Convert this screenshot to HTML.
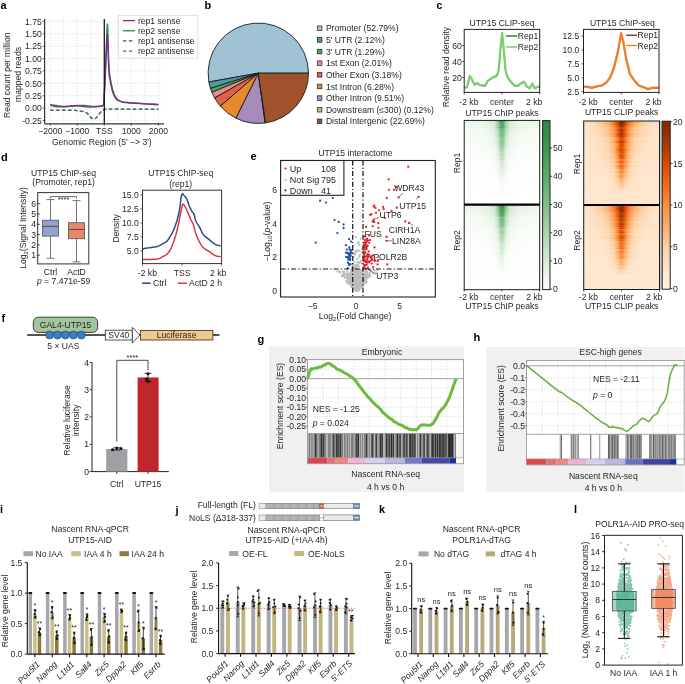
<!DOCTYPE html>
<html><head><meta charset="utf-8"><style>
html,body{margin:0;padding:0;background:#fff;}
svg{display:block;will-change:transform;font-family:"Liberation Sans",sans-serif;}
</style></head><body>
<svg width="685" height="684" viewBox="0 0 685 684">
<rect width="685" height="684" fill="#fff"/>
<defs><linearGradient id="g1"><stop offset=".00" stop-color="#ebf5ea"/><stop offset=".12" stop-color="#e9f4e8"/><stop offset=".25" stop-color="#e6f3e5"/><stop offset=".33" stop-color="#dbedd9"/><stop offset=".40" stop-color="#c9e5c9"/><stop offset=".45" stop-color="#86c38d"/><stop offset=".48" stop-color="#459f57"/><stop offset=".50" stop-color="#3b984e"/><stop offset=".52" stop-color="#4ba25c"/><stop offset=".55" stop-color="#8fc795"/><stop offset=".60" stop-color="#cae5c9"/><stop offset=".67" stop-color="#deefdc"/><stop offset=".75" stop-color="#e6f3e5"/><stop offset=".88" stop-color="#eaf5e9"/><stop offset="1.00" stop-color="#ecf6eb"/></linearGradient><linearGradient id="g2"><stop offset=".00" stop-color="#eff7ef"/><stop offset=".12" stop-color="#eef7ed"/><stop offset=".25" stop-color="#eaf5e9"/><stop offset=".33" stop-color="#e2f1e1"/><stop offset=".40" stop-color="#d3e9d1"/><stop offset=".45" stop-color="#9ccea1"/><stop offset=".48" stop-color="#52a662"/><stop offset=".50" stop-color="#449e56"/><stop offset=".52" stop-color="#5dac6a"/><stop offset=".55" stop-color="#9acd9f"/><stop offset=".60" stop-color="#d3e9d1"/><stop offset=".67" stop-color="#e2f1e0"/><stop offset=".75" stop-color="#eaf5e9"/><stop offset=".88" stop-color="#ecf6eb"/><stop offset="1.00" stop-color="#eef7ed"/></linearGradient><linearGradient id="g3"><stop offset=".00" stop-color="#f0f8f0"/><stop offset=".12" stop-color="#eff7ef"/><stop offset=".25" stop-color="#ecf6eb"/><stop offset=".33" stop-color="#e4f2e3"/><stop offset=".40" stop-color="#d6ebd4"/><stop offset=".45" stop-color="#98cc9d"/><stop offset=".48" stop-color="#5fad6d"/><stop offset=".50" stop-color="#50a560"/><stop offset=".52" stop-color="#54a763"/><stop offset=".55" stop-color="#9bcea0"/><stop offset=".60" stop-color="#d7ebd5"/><stop offset=".67" stop-color="#e3f2e2"/><stop offset=".75" stop-color="#ecf6eb"/><stop offset=".88" stop-color="#eff7ee"/><stop offset="1.00" stop-color="#f0f7ef"/></linearGradient><linearGradient id="g4"><stop offset=".00" stop-color="#f0f8f0"/><stop offset=".12" stop-color="#f0f7ef"/><stop offset=".25" stop-color="#ecf6eb"/><stop offset=".33" stop-color="#e5f2e4"/><stop offset=".40" stop-color="#d4ead2"/><stop offset=".45" stop-color="#99cd9e"/><stop offset=".48" stop-color="#51a561"/><stop offset=".50" stop-color="#449e56"/><stop offset=".52" stop-color="#59aa67"/><stop offset=".55" stop-color="#96cb9c"/><stop offset=".60" stop-color="#d3ead2"/><stop offset=".67" stop-color="#e3f1e2"/><stop offset=".75" stop-color="#ebf5ea"/><stop offset=".88" stop-color="#eff7ee"/><stop offset="1.00" stop-color="#f0f8f0"/></linearGradient><linearGradient id="g5"><stop offset=".00" stop-color="#f4faf4"/><stop offset=".12" stop-color="#f3f9f3"/><stop offset=".25" stop-color="#f1f8f0"/><stop offset=".33" stop-color="#ebf5ea"/><stop offset=".40" stop-color="#dff0de"/><stop offset=".45" stop-color="#b1d8b3"/><stop offset=".48" stop-color="#6eb679"/><stop offset=".50" stop-color="#59aa68"/><stop offset=".52" stop-color="#71b77b"/><stop offset=".55" stop-color="#abd5ae"/><stop offset=".60" stop-color="#ddeedb"/><stop offset=".67" stop-color="#e9f4e8"/><stop offset=".75" stop-color="#f0f8f0"/><stop offset=".88" stop-color="#f3f9f3"/><stop offset="1.00" stop-color="#f4faf4"/></linearGradient><linearGradient id="g6"><stop offset=".00" stop-color="#f6faf5"/><stop offset=".12" stop-color="#f4faf4"/><stop offset=".25" stop-color="#f1f8f1"/><stop offset=".33" stop-color="#ebf5ea"/><stop offset=".40" stop-color="#e2f1e0"/><stop offset=".45" stop-color="#b4dab6"/><stop offset=".48" stop-color="#74b97e"/><stop offset=".50" stop-color="#6db578"/><stop offset=".52" stop-color="#76ba7f"/><stop offset=".55" stop-color="#b2d9b4"/><stop offset=".60" stop-color="#e1f0df"/><stop offset=".67" stop-color="#ecf6eb"/><stop offset=".75" stop-color="#f2f9f1"/><stop offset=".88" stop-color="#f5faf4"/><stop offset="1.00" stop-color="#f5faf5"/></linearGradient><linearGradient id="g7"><stop offset=".00" stop-color="#f6faf5"/><stop offset=".12" stop-color="#f5faf4"/><stop offset=".25" stop-color="#f3f9f2"/><stop offset=".33" stop-color="#edf6ec"/><stop offset=".40" stop-color="#e2f1e0"/><stop offset=".45" stop-color="#b6dbb8"/><stop offset=".48" stop-color="#7dbf86"/><stop offset=".50" stop-color="#6eb679"/><stop offset=".52" stop-color="#7ebf86"/><stop offset=".55" stop-color="#b5dbb7"/><stop offset=".60" stop-color="#e2f1e1"/><stop offset=".67" stop-color="#eef7ed"/><stop offset=".75" stop-color="#f2f9f2"/><stop offset=".88" stop-color="#f5faf4"/><stop offset="1.00" stop-color="#f6fbf5"/></linearGradient><linearGradient id="g8"><stop offset=".00" stop-color="#f7fbf6"/><stop offset=".12" stop-color="#f6fbf6"/><stop offset=".25" stop-color="#f4faf4"/><stop offset=".33" stop-color="#eef7ed"/><stop offset=".40" stop-color="#e5f2e4"/><stop offset=".45" stop-color="#bddfbe"/><stop offset=".48" stop-color="#7bbd84"/><stop offset=".50" stop-color="#71b77b"/><stop offset=".52" stop-color="#7cbe85"/><stop offset=".55" stop-color="#bbdebc"/><stop offset=".60" stop-color="#e6f3e5"/><stop offset=".67" stop-color="#eff7ee"/><stop offset=".75" stop-color="#f4faf3"/><stop offset=".88" stop-color="#f6fbf6"/><stop offset="1.00" stop-color="#f7fbf6"/></linearGradient><linearGradient id="g9"><stop offset=".00" stop-color="#f8fbf7"/><stop offset=".12" stop-color="#f7fbf7"/><stop offset=".25" stop-color="#f5faf4"/><stop offset=".33" stop-color="#f1f8f0"/><stop offset=".40" stop-color="#e8f4e7"/><stop offset=".45" stop-color="#c3e2c4"/><stop offset=".48" stop-color="#85c38d"/><stop offset=".50" stop-color="#7abd83"/><stop offset=".52" stop-color="#85c38d"/><stop offset=".55" stop-color="#c4e2c4"/><stop offset=".60" stop-color="#e8f4e7"/><stop offset=".67" stop-color="#f0f8f0"/><stop offset=".75" stop-color="#f5faf5"/><stop offset=".88" stop-color="#f7fbf7"/><stop offset="1.00" stop-color="#f8fcf8"/></linearGradient><linearGradient id="g10"><stop offset=".00" stop-color="#f9fcf8"/><stop offset=".12" stop-color="#f8fcf8"/><stop offset=".25" stop-color="#f6fbf6"/><stop offset=".33" stop-color="#f2f9f1"/><stop offset=".40" stop-color="#ebf5ea"/><stop offset=".45" stop-color="#cde7cc"/><stop offset=".48" stop-color="#99cc9e"/><stop offset=".50" stop-color="#87c48e"/><stop offset=".52" stop-color="#96cb9b"/><stop offset=".55" stop-color="#cfe7ce"/><stop offset=".60" stop-color="#ebf5ea"/><stop offset=".67" stop-color="#f3f9f2"/><stop offset=".75" stop-color="#f7fbf6"/><stop offset=".88" stop-color="#f8fcf8"/><stop offset="1.00" stop-color="#f9fcf8"/></linearGradient><linearGradient id="g11"><stop offset=".00" stop-color="#f8fcf8"/><stop offset=".12" stop-color="#f7fbf7"/><stop offset=".25" stop-color="#f6fbf6"/><stop offset=".33" stop-color="#f2f8f1"/><stop offset=".40" stop-color="#eaf5e9"/><stop offset=".45" stop-color="#c9e5c9"/><stop offset=".48" stop-color="#8fc795"/><stop offset=".50" stop-color="#7fbf87"/><stop offset=".52" stop-color="#90c897"/><stop offset=".55" stop-color="#c9e5c9"/><stop offset=".60" stop-color="#e9f4e8"/><stop offset=".67" stop-color="#f1f8f1"/><stop offset=".75" stop-color="#f6faf5"/><stop offset=".88" stop-color="#f7fbf7"/><stop offset="1.00" stop-color="#f9fcf8"/></linearGradient><linearGradient id="g12"><stop offset=".00" stop-color="#f9fcf8"/><stop offset=".12" stop-color="#f8fcf8"/><stop offset=".25" stop-color="#f7fbf7"/><stop offset=".33" stop-color="#f3f9f3"/><stop offset=".40" stop-color="#ecf6eb"/><stop offset=".45" stop-color="#d0e8cf"/><stop offset=".48" stop-color="#9bcea0"/><stop offset=".50" stop-color="#8cc692"/><stop offset=".52" stop-color="#97cb9c"/><stop offset=".55" stop-color="#cce6cc"/><stop offset=".60" stop-color="#ebf5ea"/><stop offset=".67" stop-color="#f3f9f3"/><stop offset=".75" stop-color="#f7fbf6"/><stop offset=".88" stop-color="#f8fcf8"/><stop offset="1.00" stop-color="#f9fcf9"/></linearGradient><linearGradient id="g13"><stop offset=".00" stop-color="#f9fcf9"/><stop offset=".12" stop-color="#f9fcf8"/><stop offset=".25" stop-color="#f6fbf6"/><stop offset=".33" stop-color="#f3f9f2"/><stop offset=".40" stop-color="#ecf6eb"/><stop offset=".45" stop-color="#cce6cb"/><stop offset=".48" stop-color="#95ca9a"/><stop offset=".50" stop-color="#8ac591"/><stop offset=".52" stop-color="#99cd9e"/><stop offset=".55" stop-color="#cfe7cd"/><stop offset=".60" stop-color="#ecf6ec"/><stop offset=".67" stop-color="#f3f9f3"/><stop offset=".75" stop-color="#f7fbf7"/><stop offset=".88" stop-color="#f8fcf8"/><stop offset="1.00" stop-color="#f9fcf9"/></linearGradient><linearGradient id="g14"><stop offset=".00" stop-color="#fafdfa"/><stop offset=".12" stop-color="#fafcf9"/><stop offset=".25" stop-color="#f8fcf8"/><stop offset=".33" stop-color="#f5faf4"/><stop offset=".40" stop-color="#eff7ee"/><stop offset=".45" stop-color="#d8ecd6"/><stop offset=".48" stop-color="#a3d1a7"/><stop offset=".50" stop-color="#94ca99"/><stop offset=".52" stop-color="#a3d1a7"/><stop offset=".55" stop-color="#d8ecd6"/><stop offset=".60" stop-color="#eff7ef"/><stop offset=".67" stop-color="#f5faf5"/><stop offset=".75" stop-color="#f8fcf8"/><stop offset=".88" stop-color="#fafcf9"/><stop offset="1.00" stop-color="#fafdfa"/></linearGradient><linearGradient id="g15"><stop offset=".00" stop-color="#fafdfa"/><stop offset=".12" stop-color="#fafdfa"/><stop offset=".25" stop-color="#f9fcf9"/><stop offset=".33" stop-color="#f6fbf6"/><stop offset=".40" stop-color="#f0f8ef"/><stop offset=".45" stop-color="#dbedd9"/><stop offset=".48" stop-color="#afd7b1"/><stop offset=".50" stop-color="#a5d3a9"/><stop offset=".52" stop-color="#b4dab6"/><stop offset=".55" stop-color="#dbedd9"/><stop offset=".60" stop-color="#f1f8f0"/><stop offset=".67" stop-color="#f6fbf6"/><stop offset=".75" stop-color="#f9fcf8"/><stop offset=".88" stop-color="#fafdfa"/><stop offset="1.00" stop-color="#fafdfa"/></linearGradient><linearGradient id="g16"><stop offset=".00" stop-color="#fbfdfb"/><stop offset=".12" stop-color="#fbfdfb"/><stop offset=".25" stop-color="#fafcf9"/><stop offset=".33" stop-color="#f7fbf7"/><stop offset=".40" stop-color="#f3f9f3"/><stop offset=".45" stop-color="#e1f0e0"/><stop offset=".48" stop-color="#baddbb"/><stop offset=".50" stop-color="#b2d9b4"/><stop offset=".52" stop-color="#c0e0c0"/><stop offset=".55" stop-color="#e1f0e0"/><stop offset=".60" stop-color="#f3f9f3"/><stop offset=".67" stop-color="#f8fbf7"/><stop offset=".75" stop-color="#fafdfa"/><stop offset=".88" stop-color="#fbfdfb"/><stop offset="1.00" stop-color="#fbfdfb"/></linearGradient><linearGradient id="g17"><stop offset=".00" stop-color="#fbfdfb"/><stop offset=".12" stop-color="#fbfdfb"/><stop offset=".25" stop-color="#fafdfa"/><stop offset=".33" stop-color="#f8fbf7"/><stop offset=".40" stop-color="#f4faf3"/><stop offset=".45" stop-color="#e3f1e2"/><stop offset=".48" stop-color="#c2e1c3"/><stop offset=".50" stop-color="#b4dab6"/><stop offset=".52" stop-color="#c2e1c3"/><stop offset=".55" stop-color="#e2f1e0"/><stop offset=".60" stop-color="#f3f9f3"/><stop offset=".67" stop-color="#f8fbf7"/><stop offset=".75" stop-color="#fafdfa"/><stop offset=".88" stop-color="#fbfdfb"/><stop offset="1.00" stop-color="#fbfdfb"/></linearGradient><linearGradient id="g18"><stop offset=".00" stop-color="#fbfdfb"/><stop offset=".12" stop-color="#fbfdfb"/><stop offset=".25" stop-color="#fafcf9"/><stop offset=".33" stop-color="#f7fbf7"/><stop offset=".40" stop-color="#f3f9f3"/><stop offset=".45" stop-color="#e2f1e0"/><stop offset=".48" stop-color="#b9ddbb"/><stop offset=".50" stop-color="#b0d8b3"/><stop offset=".52" stop-color="#bbddbc"/><stop offset=".55" stop-color="#e1f1e0"/><stop offset=".60" stop-color="#f3f9f2"/><stop offset=".67" stop-color="#f7fbf7"/><stop offset=".75" stop-color="#fafcfa"/><stop offset=".88" stop-color="#fbfdfb"/><stop offset="1.00" stop-color="#fbfdfb"/></linearGradient><linearGradient id="g19"><stop offset=".00" stop-color="#fcfefc"/><stop offset=".12" stop-color="#fcfdfc"/><stop offset=".25" stop-color="#fbfdfb"/><stop offset=".33" stop-color="#f9fcf9"/><stop offset=".40" stop-color="#f6faf5"/><stop offset=".45" stop-color="#e9f4e7"/><stop offset=".48" stop-color="#cde6cc"/><stop offset=".50" stop-color="#c4e2c4"/><stop offset=".52" stop-color="#cfe7ce"/><stop offset=".55" stop-color="#eaf5e9"/><stop offset=".60" stop-color="#f6fbf6"/><stop offset=".67" stop-color="#f9fcf9"/><stop offset=".75" stop-color="#fbfdfb"/><stop offset=".88" stop-color="#fcfdfc"/><stop offset="1.00" stop-color="#fcfefc"/></linearGradient><linearGradient id="g20"><stop offset=".00" stop-color="#fcfdfb"/><stop offset=".12" stop-color="#fbfdfb"/><stop offset=".25" stop-color="#fafdfa"/><stop offset=".33" stop-color="#f8fcf8"/><stop offset=".40" stop-color="#f5faf5"/><stop offset=".45" stop-color="#e8f4e7"/><stop offset=".48" stop-color="#c8e4c7"/><stop offset=".50" stop-color="#baddbc"/><stop offset=".52" stop-color="#c7e3c7"/><stop offset=".55" stop-color="#e8f4e7"/><stop offset=".60" stop-color="#f5faf4"/><stop offset=".67" stop-color="#f9fcf8"/><stop offset=".75" stop-color="#fbfdfa"/><stop offset=".88" stop-color="#fbfdfb"/><stop offset="1.00" stop-color="#fcfdfc"/></linearGradient><linearGradient id="g21"><stop offset=".00" stop-color="#fdfefd"/><stop offset=".12" stop-color="#fcfefc"/><stop offset=".25" stop-color="#fcfdfc"/><stop offset=".33" stop-color="#fafdfa"/><stop offset=".40" stop-color="#f8fbf7"/><stop offset=".45" stop-color="#edf6ed"/><stop offset=".48" stop-color="#d7ebd5"/><stop offset=".50" stop-color="#cde6cc"/><stop offset=".52" stop-color="#d6ebd4"/><stop offset=".55" stop-color="#eef7ed"/><stop offset=".60" stop-color="#f8fcf8"/><stop offset=".67" stop-color="#fafdfa"/><stop offset=".75" stop-color="#fcfdfc"/><stop offset=".88" stop-color="#fcfefc"/><stop offset="1.00" stop-color="#fcfefc"/></linearGradient><linearGradient id="g22"><stop offset=".00" stop-color="#fdfefd"/><stop offset=".12" stop-color="#fcfefc"/><stop offset=".25" stop-color="#fcfdfc"/><stop offset=".33" stop-color="#fafdfa"/><stop offset=".40" stop-color="#f8fcf8"/><stop offset=".45" stop-color="#f0f8f0"/><stop offset=".48" stop-color="#dbeed9"/><stop offset=".50" stop-color="#d3ead1"/><stop offset=".52" stop-color="#daedd8"/><stop offset=".55" stop-color="#eff7ef"/><stop offset=".60" stop-color="#f8fcf8"/><stop offset=".67" stop-color="#fbfdfa"/><stop offset=".75" stop-color="#fcfdfc"/><stop offset=".88" stop-color="#fcfefc"/><stop offset="1.00" stop-color="#fdfefd"/></linearGradient><linearGradient id="g23"><stop offset=".00" stop-color="#fdfefd"/><stop offset=".12" stop-color="#fdfefd"/><stop offset=".25" stop-color="#fcfefc"/><stop offset=".33" stop-color="#fbfdfb"/><stop offset=".40" stop-color="#f9fcf8"/><stop offset=".45" stop-color="#f1f8f0"/><stop offset=".48" stop-color="#ddeedb"/><stop offset=".50" stop-color="#d5ebd3"/><stop offset=".52" stop-color="#ddeedb"/><stop offset=".55" stop-color="#f1f8f0"/><stop offset=".60" stop-color="#f9fcf9"/><stop offset=".67" stop-color="#fbfdfa"/><stop offset=".75" stop-color="#fcfefc"/><stop offset=".88" stop-color="#fdfefc"/><stop offset="1.00" stop-color="#fdfefd"/></linearGradient><linearGradient id="g24"><stop offset=".00" stop-color="#fdfefd"/><stop offset=".12" stop-color="#fcfefc"/><stop offset=".25" stop-color="#fcfefc"/><stop offset=".33" stop-color="#fbfdfb"/><stop offset=".40" stop-color="#f9fcf9"/><stop offset=".45" stop-color="#f1f8f0"/><stop offset=".48" stop-color="#dfefdd"/><stop offset=".50" stop-color="#d5ebd3"/><stop offset=".52" stop-color="#dceedb"/><stop offset=".55" stop-color="#f1f8f1"/><stop offset=".60" stop-color="#f9fcf9"/><stop offset=".67" stop-color="#fbfdfb"/><stop offset=".75" stop-color="#fcfdfc"/><stop offset=".88" stop-color="#fcfefc"/><stop offset="1.00" stop-color="#fdfefd"/></linearGradient><linearGradient id="g25"><stop offset=".00" stop-color="#fdfefd"/><stop offset=".12" stop-color="#fdfefd"/><stop offset=".25" stop-color="#fcfefc"/><stop offset=".33" stop-color="#fbfdfb"/><stop offset=".40" stop-color="#fafcf9"/><stop offset=".45" stop-color="#f3f9f2"/><stop offset=".48" stop-color="#e3f2e2"/><stop offset=".50" stop-color="#ddeedb"/><stop offset=".52" stop-color="#e3f1e1"/><stop offset=".55" stop-color="#f3f9f2"/><stop offset=".60" stop-color="#f9fcf9"/><stop offset=".67" stop-color="#fbfdfb"/><stop offset=".75" stop-color="#fcfefc"/><stop offset=".88" stop-color="#fdfefd"/><stop offset="1.00" stop-color="#fdfefd"/></linearGradient><linearGradient id="g26"><stop offset=".00" stop-color="#fdfefd"/><stop offset=".12" stop-color="#fdfefd"/><stop offset=".25" stop-color="#fdfefc"/><stop offset=".33" stop-color="#fcfdfb"/><stop offset=".40" stop-color="#fafdfa"/><stop offset=".45" stop-color="#f6faf5"/><stop offset=".48" stop-color="#e7f3e5"/><stop offset=".50" stop-color="#e0f0de"/><stop offset=".52" stop-color="#e5f3e4"/><stop offset=".55" stop-color="#f5faf5"/><stop offset=".60" stop-color="#fafdfa"/><stop offset=".67" stop-color="#fcfdfc"/><stop offset=".75" stop-color="#fcfefc"/><stop offset=".88" stop-color="#fdfefd"/><stop offset="1.00" stop-color="#fdfefd"/></linearGradient><linearGradient id="g27"><stop offset=".00" stop-color="#fdfefd"/><stop offset=".12" stop-color="#fdfefd"/><stop offset=".25" stop-color="#fdfefd"/><stop offset=".33" stop-color="#fcfefc"/><stop offset=".40" stop-color="#fbfdfb"/><stop offset=".45" stop-color="#f7fbf6"/><stop offset=".48" stop-color="#ebf5ea"/><stop offset=".50" stop-color="#e7f3e6"/><stop offset=".52" stop-color="#ebf5ea"/><stop offset=".55" stop-color="#f7fbf7"/><stop offset=".60" stop-color="#fbfdfb"/><stop offset=".67" stop-color="#fcfefc"/><stop offset=".75" stop-color="#fdfefd"/><stop offset=".88" stop-color="#fdfefd"/><stop offset="1.00" stop-color="#fdfefd"/></linearGradient><linearGradient id="g28"><stop offset=".00" stop-color="#fefefe"/><stop offset=".12" stop-color="#fdfefd"/><stop offset=".25" stop-color="#fdfefd"/><stop offset=".33" stop-color="#fdfefd"/><stop offset=".40" stop-color="#fbfdfb"/><stop offset=".45" stop-color="#f8fcf8"/><stop offset=".48" stop-color="#eff7ee"/><stop offset=".50" stop-color="#e9f4e8"/><stop offset=".52" stop-color="#eef7ed"/><stop offset=".55" stop-color="#f8fcf8"/><stop offset=".60" stop-color="#fcfdfb"/><stop offset=".67" stop-color="#fdfefc"/><stop offset=".75" stop-color="#fdfefd"/><stop offset=".88" stop-color="#fdfefd"/><stop offset="1.00" stop-color="#fefefd"/></linearGradient><linearGradient id="g29"><stop offset=".00" stop-color="#fefefe"/><stop offset=".12" stop-color="#fdfefd"/><stop offset=".25" stop-color="#fdfefd"/><stop offset=".33" stop-color="#fdfefd"/><stop offset=".40" stop-color="#fcfdfc"/><stop offset=".45" stop-color="#f9fcf9"/><stop offset=".48" stop-color="#eff7ee"/><stop offset=".50" stop-color="#ecf6eb"/><stop offset=".52" stop-color="#f0f8ef"/><stop offset=".55" stop-color="#f9fcf9"/><stop offset=".60" stop-color="#fcfdfc"/><stop offset=".67" stop-color="#fdfefd"/><stop offset=".75" stop-color="#fdfefd"/><stop offset=".88" stop-color="#fdfefd"/><stop offset="1.00" stop-color="#fefefd"/></linearGradient><linearGradient id="g30"><stop offset=".00" stop-color="#fefefd"/><stop offset=".12" stop-color="#fdfefd"/><stop offset=".25" stop-color="#fdfefd"/><stop offset=".33" stop-color="#fdfefd"/><stop offset=".40" stop-color="#fcfefc"/><stop offset=".45" stop-color="#f9fcf9"/><stop offset=".48" stop-color="#f1f8f1"/><stop offset=".50" stop-color="#edf6ec"/><stop offset=".52" stop-color="#f1f8f0"/><stop offset=".55" stop-color="#fafcf9"/><stop offset=".60" stop-color="#fcfefc"/><stop offset=".67" stop-color="#fdfefc"/><stop offset=".75" stop-color="#fdfefd"/><stop offset=".88" stop-color="#fdfefd"/><stop offset="1.00" stop-color="#fefefe"/></linearGradient><linearGradient id="g31"><stop offset=".00" stop-color="#fefefe"/><stop offset=".12" stop-color="#fefefe"/><stop offset=".25" stop-color="#fefefd"/><stop offset=".33" stop-color="#fdfefd"/><stop offset=".40" stop-color="#fdfefc"/><stop offset=".45" stop-color="#fbfdfa"/><stop offset=".48" stop-color="#f5faf4"/><stop offset=".50" stop-color="#f2f9f1"/><stop offset=".52" stop-color="#f5faf4"/><stop offset=".55" stop-color="#fbfdfb"/><stop offset=".60" stop-color="#fcfefc"/><stop offset=".67" stop-color="#fdfefd"/><stop offset=".75" stop-color="#fefefd"/><stop offset=".88" stop-color="#fefefe"/><stop offset="1.00" stop-color="#fefefe"/></linearGradient><linearGradient id="g32"><stop offset=".00" stop-color="#fefefe"/><stop offset=".12" stop-color="#fefefe"/><stop offset=".25" stop-color="#fefefe"/><stop offset=".33" stop-color="#fdfefd"/><stop offset=".40" stop-color="#fdfefd"/><stop offset=".45" stop-color="#fbfdfb"/><stop offset=".48" stop-color="#f6fbf6"/><stop offset=".50" stop-color="#f3f9f3"/><stop offset=".52" stop-color="#f6faf5"/><stop offset=".55" stop-color="#fbfdfb"/><stop offset=".60" stop-color="#fdfefd"/><stop offset=".67" stop-color="#fdfefd"/><stop offset=".75" stop-color="#fefefd"/><stop offset=".88" stop-color="#fefefe"/><stop offset="1.00" stop-color="#fefefe"/></linearGradient><linearGradient id="g33"><stop offset=".00" stop-color="#fefffe"/><stop offset=".12" stop-color="#fefefe"/><stop offset=".25" stop-color="#fefefe"/><stop offset=".33" stop-color="#fefefd"/><stop offset=".40" stop-color="#fdfefd"/><stop offset=".45" stop-color="#fcfefc"/><stop offset=".48" stop-color="#f9fcf8"/><stop offset=".50" stop-color="#f7fbf6"/><stop offset=".52" stop-color="#f9fcf8"/><stop offset=".55" stop-color="#fcfefc"/><stop offset=".60" stop-color="#fdfefd"/><stop offset=".67" stop-color="#fdfefd"/><stop offset=".75" stop-color="#fefefe"/><stop offset=".88" stop-color="#fefefe"/><stop offset="1.00" stop-color="#fefffe"/></linearGradient><linearGradient id="g34"><stop offset=".00" stop-color="#fefffe"/><stop offset=".12" stop-color="#fefffe"/><stop offset=".25" stop-color="#fefefe"/><stop offset=".33" stop-color="#fefefe"/><stop offset=".40" stop-color="#fefefd"/><stop offset=".45" stop-color="#fdfefd"/><stop offset=".48" stop-color="#fafcf9"/><stop offset=".50" stop-color="#f8fcf8"/><stop offset=".52" stop-color="#fafcf9"/><stop offset=".55" stop-color="#fdfefc"/><stop offset=".60" stop-color="#fdfefd"/><stop offset=".67" stop-color="#fefefe"/><stop offset=".75" stop-color="#fefefe"/><stop offset=".88" stop-color="#fefffe"/><stop offset="1.00" stop-color="#fefffe"/></linearGradient><linearGradient id="g35"><stop offset=".00" stop-color="#fefefe"/><stop offset=".12" stop-color="#fefefe"/><stop offset=".25" stop-color="#fefefe"/><stop offset=".33" stop-color="#fefefd"/><stop offset=".40" stop-color="#fdfefd"/><stop offset=".45" stop-color="#fdfefd"/><stop offset=".48" stop-color="#fafcf9"/><stop offset=".50" stop-color="#f9fcf8"/><stop offset=".52" stop-color="#fafcf9"/><stop offset=".55" stop-color="#fdfefc"/><stop offset=".60" stop-color="#fdfefd"/><stop offset=".67" stop-color="#fefefe"/><stop offset=".75" stop-color="#fefefe"/><stop offset=".88" stop-color="#fefefe"/><stop offset="1.00" stop-color="#fefefe"/></linearGradient><linearGradient id="g36"><stop offset=".00" stop-color="#fefffe"/><stop offset=".12" stop-color="#fefffe"/><stop offset=".25" stop-color="#fefffe"/><stop offset=".33" stop-color="#fefefe"/><stop offset=".40" stop-color="#fefefe"/><stop offset=".45" stop-color="#fdfefd"/><stop offset=".48" stop-color="#fcfefc"/><stop offset=".50" stop-color="#fbfdfb"/><stop offset=".52" stop-color="#fcfdfc"/><stop offset=".55" stop-color="#fdfefd"/><stop offset=".60" stop-color="#fefefe"/><stop offset=".67" stop-color="#fefefe"/><stop offset=".75" stop-color="#fefffe"/><stop offset=".88" stop-color="#fefffe"/><stop offset="1.00" stop-color="#fefffe"/></linearGradient><linearGradient id="g37"><stop offset=".00" stop-color="#fefffe"/><stop offset=".12" stop-color="#fefffe"/><stop offset=".25" stop-color="#fefffe"/><stop offset=".33" stop-color="#fefefe"/><stop offset=".40" stop-color="#fefefe"/><stop offset=".45" stop-color="#fdfefd"/><stop offset=".48" stop-color="#fcfefc"/><stop offset=".50" stop-color="#fbfdfb"/><stop offset=".52" stop-color="#fcfdfc"/><stop offset=".55" stop-color="#fdfefd"/><stop offset=".60" stop-color="#fefefe"/><stop offset=".67" stop-color="#fefefe"/><stop offset=".75" stop-color="#fefefe"/><stop offset=".88" stop-color="#fefffe"/><stop offset="1.00" stop-color="#fefffe"/></linearGradient><linearGradient id="g38"><stop offset=".00" stop-color="#fefffe"/><stop offset=".12" stop-color="#fefffe"/><stop offset=".25" stop-color="#fefffe"/><stop offset=".33" stop-color="#fefefe"/><stop offset=".40" stop-color="#fefefe"/><stop offset=".45" stop-color="#fefefe"/><stop offset=".48" stop-color="#fdfefd"/><stop offset=".50" stop-color="#fdfefc"/><stop offset=".52" stop-color="#fdfefd"/><stop offset=".55" stop-color="#fefefe"/><stop offset=".60" stop-color="#fefefe"/><stop offset=".67" stop-color="#fefefe"/><stop offset=".75" stop-color="#fefffe"/><stop offset=".88" stop-color="#fefffe"/><stop offset="1.00" stop-color="#fefffe"/></linearGradient><linearGradient id="g39"><stop offset=".00" stop-color="#fefffe"/><stop offset=".12" stop-color="#fefffe"/><stop offset=".25" stop-color="#fefffe"/><stop offset=".33" stop-color="#fefffe"/><stop offset=".40" stop-color="#fefffe"/><stop offset=".45" stop-color="#fefefe"/><stop offset=".48" stop-color="#fefefd"/><stop offset=".50" stop-color="#fdfefd"/><stop offset=".52" stop-color="#fdfefd"/><stop offset=".55" stop-color="#fefefe"/><stop offset=".60" stop-color="#fefffe"/><stop offset=".67" stop-color="#fefffe"/><stop offset=".75" stop-color="#fefffe"/><stop offset=".88" stop-color="#fefffe"/><stop offset="1.00" stop-color="#fefffe"/></linearGradient><linearGradient id="g40"><stop offset=".00" stop-color="#fefffe"/><stop offset=".12" stop-color="#fefffe"/><stop offset=".25" stop-color="#fefffe"/><stop offset=".33" stop-color="#fefffe"/><stop offset=".40" stop-color="#fefffe"/><stop offset=".45" stop-color="#fefffe"/><stop offset=".48" stop-color="#fefffe"/><stop offset=".50" stop-color="#fefefe"/><stop offset=".52" stop-color="#fefffe"/><stop offset=".55" stop-color="#fefffe"/><stop offset=".60" stop-color="#fefffe"/><stop offset=".67" stop-color="#fefffe"/><stop offset=".75" stop-color="#fefffe"/><stop offset=".88" stop-color="#fefffe"/><stop offset="1.00" stop-color="#fefffe"/></linearGradient><linearGradient id="g41"><stop offset=".00" stop-color="#fefffe"/><stop offset=".12" stop-color="#fefffe"/><stop offset=".25" stop-color="#fefffe"/><stop offset=".33" stop-color="#fefffe"/><stop offset=".40" stop-color="#fefffe"/><stop offset=".45" stop-color="#fefffe"/><stop offset=".48" stop-color="#fefffe"/><stop offset=".50" stop-color="#fefffe"/><stop offset=".52" stop-color="#fefffe"/><stop offset=".55" stop-color="#fefffe"/><stop offset=".60" stop-color="#fefffe"/><stop offset=".67" stop-color="#fefffe"/><stop offset=".75" stop-color="#fefffe"/><stop offset=".88" stop-color="#fefffe"/><stop offset="1.00" stop-color="#fefffe"/></linearGradient><linearGradient id="g42"><stop offset=".00" stop-color="#ffffff"/><stop offset=".12" stop-color="#fefffe"/><stop offset=".25" stop-color="#fefffe"/><stop offset=".33" stop-color="#fefffe"/><stop offset=".40" stop-color="#fefffe"/><stop offset=".45" stop-color="#fefffe"/><stop offset=".48" stop-color="#fefffe"/><stop offset=".50" stop-color="#fefffe"/><stop offset=".52" stop-color="#fefffe"/><stop offset=".55" stop-color="#fefffe"/><stop offset=".60" stop-color="#fefffe"/><stop offset=".67" stop-color="#fefffe"/><stop offset=".75" stop-color="#fefffe"/><stop offset=".88" stop-color="#fffffe"/><stop offset="1.00" stop-color="#ffffff"/></linearGradient><linearGradient id="g43"><stop offset=".00" stop-color="#e9f4e8"/><stop offset=".12" stop-color="#e6f3e5"/><stop offset=".25" stop-color="#e4f2e2"/><stop offset=".33" stop-color="#daedd8"/><stop offset=".40" stop-color="#c5e3c5"/><stop offset=".45" stop-color="#7abd83"/><stop offset=".48" stop-color="#38954b"/><stop offset=".50" stop-color="#329045"/><stop offset=".52" stop-color="#3f9b52"/><stop offset=".55" stop-color="#80c088"/><stop offset=".60" stop-color="#c5e3c5"/><stop offset=".67" stop-color="#d7ecd5"/><stop offset=".75" stop-color="#e3f2e2"/><stop offset=".88" stop-color="#e6f3e5"/><stop offset="1.00" stop-color="#e9f4e8"/></linearGradient><linearGradient id="g44"><stop offset=".00" stop-color="#ecf6eb"/><stop offset=".12" stop-color="#ebf5ea"/><stop offset=".25" stop-color="#e7f3e6"/><stop offset=".33" stop-color="#deefdd"/><stop offset=".40" stop-color="#cde7cc"/><stop offset=".45" stop-color="#87c38e"/><stop offset=".48" stop-color="#4da35e"/><stop offset=".50" stop-color="#3a984d"/><stop offset=".52" stop-color="#429d55"/><stop offset=".55" stop-color="#8dc794"/><stop offset=".60" stop-color="#cfe7ce"/><stop offset=".67" stop-color="#dfefde"/><stop offset=".75" stop-color="#e6f3e5"/><stop offset=".88" stop-color="#ebf5ea"/><stop offset="1.00" stop-color="#ecf6eb"/></linearGradient><linearGradient id="g45"><stop offset=".00" stop-color="#eef7ed"/><stop offset=".12" stop-color="#edf6ed"/><stop offset=".25" stop-color="#eaf5e9"/><stop offset=".33" stop-color="#e2f1e1"/><stop offset=".40" stop-color="#d1e8cf"/><stop offset=".45" stop-color="#8fc795"/><stop offset=".48" stop-color="#4da35e"/><stop offset=".50" stop-color="#3d9a50"/><stop offset=".52" stop-color="#4ea45e"/><stop offset=".55" stop-color="#90c896"/><stop offset=".60" stop-color="#d0e8cf"/><stop offset=".67" stop-color="#e0f0df"/><stop offset=".75" stop-color="#e8f4e7"/><stop offset=".88" stop-color="#edf6ec"/><stop offset="1.00" stop-color="#eff7ef"/></linearGradient><linearGradient id="g46"><stop offset=".00" stop-color="#f1f8f0"/><stop offset=".12" stop-color="#eff7ee"/><stop offset=".25" stop-color="#ecf6eb"/><stop offset=".33" stop-color="#e3f2e2"/><stop offset=".40" stop-color="#d7ebd5"/><stop offset=".45" stop-color="#9dcea1"/><stop offset=".48" stop-color="#59aa68"/><stop offset=".50" stop-color="#48a059"/><stop offset=".52" stop-color="#50a560"/><stop offset=".55" stop-color="#99cd9e"/><stop offset=".60" stop-color="#d6ebd4"/><stop offset=".67" stop-color="#e4f2e3"/><stop offset=".75" stop-color="#ebf5ea"/><stop offset=".88" stop-color="#eff7ee"/><stop offset="1.00" stop-color="#f1f8f0"/></linearGradient><linearGradient id="g47"><stop offset=".00" stop-color="#f2f9f2"/><stop offset=".12" stop-color="#f0f8f0"/><stop offset=".25" stop-color="#eff7ee"/><stop offset=".33" stop-color="#e7f3e6"/><stop offset=".40" stop-color="#d8ecd7"/><stop offset=".45" stop-color="#9fcfa3"/><stop offset=".48" stop-color="#59aa67"/><stop offset=".50" stop-color="#53a662"/><stop offset=".52" stop-color="#61af6e"/><stop offset=".55" stop-color="#a6d3a9"/><stop offset=".60" stop-color="#dbedd9"/><stop offset=".67" stop-color="#e6f3e4"/><stop offset=".75" stop-color="#eef7ed"/><stop offset=".88" stop-color="#f1f8f0"/><stop offset="1.00" stop-color="#f3f9f2"/></linearGradient><linearGradient id="g48"><stop offset=".00" stop-color="#f4f9f3"/><stop offset=".12" stop-color="#f3f9f2"/><stop offset=".25" stop-color="#eff7ee"/><stop offset=".33" stop-color="#e8f4e7"/><stop offset=".40" stop-color="#deefdc"/><stop offset=".45" stop-color="#a7d3aa"/><stop offset=".48" stop-color="#63af6f"/><stop offset=".50" stop-color="#56a865"/><stop offset=".52" stop-color="#66b172"/><stop offset=".55" stop-color="#abd5ae"/><stop offset=".60" stop-color="#ddefdc"/><stop offset=".67" stop-color="#e9f4e8"/><stop offset=".75" stop-color="#eff7ef"/><stop offset=".88" stop-color="#f2f9f2"/><stop offset="1.00" stop-color="#f4faf3"/></linearGradient><linearGradient id="g49"><stop offset=".00" stop-color="#f7fbf6"/><stop offset=".12" stop-color="#f6faf5"/><stop offset=".25" stop-color="#f4faf3"/><stop offset=".33" stop-color="#eff7ee"/><stop offset=".40" stop-color="#e6f3e5"/><stop offset=".45" stop-color="#bcdebd"/><stop offset=".48" stop-color="#83c18a"/><stop offset=".50" stop-color="#79bc82"/><stop offset=".52" stop-color="#88c48f"/><stop offset=".55" stop-color="#bfdfc0"/><stop offset=".60" stop-color="#e5f2e4"/><stop offset=".67" stop-color="#eef7ed"/><stop offset=".75" stop-color="#f4faf4"/><stop offset=".88" stop-color="#f6fbf6"/><stop offset="1.00" stop-color="#f7fbf6"/></linearGradient><linearGradient id="g50"><stop offset=".00" stop-color="#f7fbf6"/><stop offset=".12" stop-color="#f6fbf6"/><stop offset=".25" stop-color="#f3f9f2"/><stop offset=".33" stop-color="#eff7ee"/><stop offset=".40" stop-color="#e5f2e3"/><stop offset=".45" stop-color="#bddfbe"/><stop offset=".48" stop-color="#7fbf87"/><stop offset=".50" stop-color="#6ab476"/><stop offset=".52" stop-color="#79bc82"/><stop offset=".55" stop-color="#bddfbe"/><stop offset=".60" stop-color="#e6f3e4"/><stop offset=".67" stop-color="#eef7ed"/><stop offset=".75" stop-color="#f4faf3"/><stop offset=".88" stop-color="#f6fbf6"/><stop offset="1.00" stop-color="#f6fbf6"/></linearGradient><linearGradient id="g51"><stop offset=".00" stop-color="#f7fbf7"/><stop offset=".12" stop-color="#f7fbf6"/><stop offset=".25" stop-color="#f4faf4"/><stop offset=".33" stop-color="#f0f8ef"/><stop offset=".40" stop-color="#e8f4e7"/><stop offset=".45" stop-color="#c5e2c5"/><stop offset=".48" stop-color="#85c28c"/><stop offset=".50" stop-color="#73b97d"/><stop offset=".52" stop-color="#80c088"/><stop offset=".55" stop-color="#c4e2c4"/><stop offset=".60" stop-color="#e7f3e5"/><stop offset=".67" stop-color="#f0f8ef"/><stop offset=".75" stop-color="#f5faf4"/><stop offset=".88" stop-color="#f7fbf7"/><stop offset="1.00" stop-color="#f8fbf7"/></linearGradient><linearGradient id="g52"><stop offset=".00" stop-color="#f8fbf7"/><stop offset=".12" stop-color="#f7fbf7"/><stop offset=".25" stop-color="#f5faf5"/><stop offset=".33" stop-color="#f0f8ef"/><stop offset=".40" stop-color="#e7f3e6"/><stop offset=".45" stop-color="#c7e3c7"/><stop offset=".48" stop-color="#8fc795"/><stop offset=".50" stop-color="#74b97e"/><stop offset=".52" stop-color="#85c28c"/><stop offset=".55" stop-color="#c5e3c5"/><stop offset=".60" stop-color="#e9f4e8"/><stop offset=".67" stop-color="#f0f8ef"/><stop offset=".75" stop-color="#f5faf5"/><stop offset=".88" stop-color="#f7fbf6"/><stop offset="1.00" stop-color="#f8fcf7"/></linearGradient><linearGradient id="g53"><stop offset=".00" stop-color="#f8fcf8"/><stop offset=".12" stop-color="#f7fbf7"/><stop offset=".25" stop-color="#f6faf5"/><stop offset=".33" stop-color="#f1f8f0"/><stop offset=".40" stop-color="#e8f4e7"/><stop offset=".45" stop-color="#c4e2c4"/><stop offset=".48" stop-color="#8ec794"/><stop offset=".50" stop-color="#7bbd84"/><stop offset=".52" stop-color="#8bc692"/><stop offset=".55" stop-color="#c6e3c6"/><stop offset=".60" stop-color="#e9f4e8"/><stop offset=".67" stop-color="#f1f8f1"/><stop offset=".75" stop-color="#f6faf5"/><stop offset=".88" stop-color="#f7fbf7"/><stop offset="1.00" stop-color="#f8fbf7"/></linearGradient><linearGradient id="g54"><stop offset=".00" stop-color="#fafcf9"/><stop offset=".12" stop-color="#f9fcf9"/><stop offset=".25" stop-color="#f8fcf8"/><stop offset=".33" stop-color="#f4faf3"/><stop offset=".40" stop-color="#eff7ee"/><stop offset=".45" stop-color="#d4ead2"/><stop offset=".48" stop-color="#a5d3a9"/><stop offset=".50" stop-color="#94ca9a"/><stop offset=".52" stop-color="#a7d4ab"/><stop offset=".55" stop-color="#d5ead3"/><stop offset=".60" stop-color="#eef7ed"/><stop offset=".67" stop-color="#f4faf4"/><stop offset=".75" stop-color="#f8fbf7"/><stop offset=".88" stop-color="#f9fcf9"/><stop offset="1.00" stop-color="#fafcfa"/></linearGradient><linearGradient id="g55"><stop offset=".00" stop-color="#fafdfa"/><stop offset=".12" stop-color="#fafcf9"/><stop offset=".25" stop-color="#f9fcf8"/><stop offset=".33" stop-color="#f5faf4"/><stop offset=".40" stop-color="#eff7ee"/><stop offset=".45" stop-color="#d8ecd7"/><stop offset=".48" stop-color="#afd8b2"/><stop offset=".50" stop-color="#9ecfa2"/><stop offset=".52" stop-color="#b0d8b2"/><stop offset=".55" stop-color="#daedd8"/><stop offset=".60" stop-color="#f0f8ef"/><stop offset=".67" stop-color="#f6faf5"/><stop offset=".75" stop-color="#f8fcf8"/><stop offset=".88" stop-color="#fafcf9"/><stop offset="1.00" stop-color="#fafdfa"/></linearGradient><linearGradient id="g56"><stop offset=".00" stop-color="#fafdfa"/><stop offset=".12" stop-color="#f9fcf9"/><stop offset=".25" stop-color="#f8fbf7"/><stop offset=".33" stop-color="#f5faf4"/><stop offset=".40" stop-color="#eff7ef"/><stop offset=".45" stop-color="#d6ebd4"/><stop offset=".48" stop-color="#a6d3aa"/><stop offset=".50" stop-color="#90c896"/><stop offset=".52" stop-color="#a9d4ac"/><stop offset=".55" stop-color="#d4ead2"/><stop offset=".60" stop-color="#eef7ed"/><stop offset=".67" stop-color="#f4faf4"/><stop offset=".75" stop-color="#f8fbf7"/><stop offset=".88" stop-color="#fafcf9"/><stop offset="1.00" stop-color="#fafcf9"/></linearGradient><linearGradient id="g57"><stop offset=".00" stop-color="#fafdfa"/><stop offset=".12" stop-color="#fafcfa"/><stop offset=".25" stop-color="#f9fcf9"/><stop offset=".33" stop-color="#f5faf5"/><stop offset=".40" stop-color="#f0f8ef"/><stop offset=".45" stop-color="#dceedb"/><stop offset=".48" stop-color="#b0d8b3"/><stop offset=".50" stop-color="#9dcfa2"/><stop offset=".52" stop-color="#b2d9b4"/><stop offset=".55" stop-color="#d9edd7"/><stop offset=".60" stop-color="#f1f8f0"/><stop offset=".67" stop-color="#f5faf5"/><stop offset=".75" stop-color="#f9fcf9"/><stop offset=".88" stop-color="#fafdfa"/><stop offset="1.00" stop-color="#fafdfa"/></linearGradient><linearGradient id="g58"><stop offset=".00" stop-color="#fbfdfb"/><stop offset=".12" stop-color="#fbfdfa"/><stop offset=".25" stop-color="#fafcf9"/><stop offset=".33" stop-color="#f7fbf7"/><stop offset=".40" stop-color="#f3f9f3"/><stop offset=".45" stop-color="#e1f1e0"/><stop offset=".48" stop-color="#b8dcb9"/><stop offset=".50" stop-color="#acd6af"/><stop offset=".52" stop-color="#b8dcba"/><stop offset=".55" stop-color="#e1f1e0"/><stop offset=".60" stop-color="#f2f9f2"/><stop offset=".67" stop-color="#f7fbf7"/><stop offset=".75" stop-color="#fafcf9"/><stop offset=".88" stop-color="#fbfdfa"/><stop offset="1.00" stop-color="#fbfdfb"/></linearGradient><linearGradient id="g59"><stop offset=".00" stop-color="#fbfdfb"/><stop offset=".12" stop-color="#fafdfa"/><stop offset=".25" stop-color="#f9fcf9"/><stop offset=".33" stop-color="#f7fbf6"/><stop offset=".40" stop-color="#f1f8f1"/><stop offset=".45" stop-color="#deefdc"/><stop offset=".48" stop-color="#b6dbb8"/><stop offset=".50" stop-color="#a4d2a8"/><stop offset=".52" stop-color="#b7dcb9"/><stop offset=".55" stop-color="#ddeedb"/><stop offset=".60" stop-color="#f2f9f1"/><stop offset=".67" stop-color="#f7fbf6"/><stop offset=".75" stop-color="#f9fcf9"/><stop offset=".88" stop-color="#fafdfa"/><stop offset="1.00" stop-color="#fbfdfb"/></linearGradient><linearGradient id="g60"><stop offset=".00" stop-color="#fbfdfb"/><stop offset=".12" stop-color="#fbfdfb"/><stop offset=".25" stop-color="#fafdfa"/><stop offset=".33" stop-color="#f7fbf7"/><stop offset=".40" stop-color="#f3f9f2"/><stop offset=".45" stop-color="#e2f1e1"/><stop offset=".48" stop-color="#bddebe"/><stop offset=".50" stop-color="#b2d9b4"/><stop offset=".52" stop-color="#c1e1c2"/><stop offset=".55" stop-color="#e4f2e3"/><stop offset=".60" stop-color="#f4faf3"/><stop offset=".67" stop-color="#f7fbf7"/><stop offset=".75" stop-color="#fafcfa"/><stop offset=".88" stop-color="#fbfdfb"/><stop offset="1.00" stop-color="#fbfdfb"/></linearGradient><linearGradient id="g61"><stop offset=".00" stop-color="#fcfefc"/><stop offset=".12" stop-color="#fcfdfb"/><stop offset=".25" stop-color="#fbfdfb"/><stop offset=".33" stop-color="#f9fcf9"/><stop offset=".40" stop-color="#f6fbf6"/><stop offset=".45" stop-color="#eaf5e9"/><stop offset=".48" stop-color="#cde7cc"/><stop offset=".50" stop-color="#c3e2c4"/><stop offset=".52" stop-color="#cce6cb"/><stop offset=".55" stop-color="#e9f4e8"/><stop offset=".60" stop-color="#f6fbf6"/><stop offset=".67" stop-color="#f9fcf9"/><stop offset=".75" stop-color="#fbfdfb"/><stop offset=".88" stop-color="#fcfdfc"/><stop offset="1.00" stop-color="#fcfdfc"/></linearGradient><linearGradient id="g62"><stop offset=".00" stop-color="#fcfefc"/><stop offset=".12" stop-color="#fcfefc"/><stop offset=".25" stop-color="#fbfdfb"/><stop offset=".33" stop-color="#f9fcf9"/><stop offset=".40" stop-color="#f6fbf6"/><stop offset=".45" stop-color="#ebf5ea"/><stop offset=".48" stop-color="#d1e9d0"/><stop offset=".50" stop-color="#c9e4c8"/><stop offset=".52" stop-color="#cfe8ce"/><stop offset=".55" stop-color="#ebf5ea"/><stop offset=".60" stop-color="#f7fbf6"/><stop offset=".67" stop-color="#f9fcf9"/><stop offset=".75" stop-color="#fbfdfb"/><stop offset=".88" stop-color="#fcfdfc"/><stop offset="1.00" stop-color="#fcfefc"/></linearGradient><linearGradient id="g63"><stop offset=".00" stop-color="#fcfefc"/><stop offset=".12" stop-color="#fcfefc"/><stop offset=".25" stop-color="#fbfdfb"/><stop offset=".33" stop-color="#fafdfa"/><stop offset=".40" stop-color="#f8fbf7"/><stop offset=".45" stop-color="#eef7ed"/><stop offset=".48" stop-color="#d4ead2"/><stop offset=".50" stop-color="#cee7cd"/><stop offset=".52" stop-color="#d5ead3"/><stop offset=".55" stop-color="#ecf6eb"/><stop offset=".60" stop-color="#f8fbf7"/><stop offset=".67" stop-color="#fafdfa"/><stop offset=".75" stop-color="#fbfdfb"/><stop offset=".88" stop-color="#fcfefc"/><stop offset="1.00" stop-color="#fcfefc"/></linearGradient><linearGradient id="g64"><stop offset=".00" stop-color="#fcfefc"/><stop offset=".12" stop-color="#fcfefc"/><stop offset=".25" stop-color="#fbfdfb"/><stop offset=".33" stop-color="#fafdfa"/><stop offset=".40" stop-color="#f7fbf6"/><stop offset=".45" stop-color="#ecf6eb"/><stop offset=".48" stop-color="#d3e9d1"/><stop offset=".50" stop-color="#cce6cb"/><stop offset=".52" stop-color="#d2e9d1"/><stop offset=".55" stop-color="#ecf6eb"/><stop offset=".60" stop-color="#f7fbf7"/><stop offset=".67" stop-color="#fafcf9"/><stop offset=".75" stop-color="#fbfdfb"/><stop offset=".88" stop-color="#fcfefc"/><stop offset="1.00" stop-color="#fcfefc"/></linearGradient><linearGradient id="g65"><stop offset=".00" stop-color="#fdfefd"/><stop offset=".12" stop-color="#fdfefc"/><stop offset=".25" stop-color="#fcfefc"/><stop offset=".33" stop-color="#fbfdfa"/><stop offset=".40" stop-color="#f9fcf8"/><stop offset=".45" stop-color="#f1f8f0"/><stop offset=".48" stop-color="#deefdd"/><stop offset=".50" stop-color="#d6ebd4"/><stop offset=".52" stop-color="#deefdc"/><stop offset=".55" stop-color="#f1f8f0"/><stop offset=".60" stop-color="#f9fcf8"/><stop offset=".67" stop-color="#fbfdfb"/><stop offset=".75" stop-color="#fcfefc"/><stop offset=".88" stop-color="#fcfefc"/><stop offset="1.00" stop-color="#fdfefd"/></linearGradient><linearGradient id="g66"><stop offset=".00" stop-color="#fdfefd"/><stop offset=".12" stop-color="#fcfefc"/><stop offset=".25" stop-color="#fcfdfc"/><stop offset=".33" stop-color="#fafdfa"/><stop offset=".40" stop-color="#f8fcf8"/><stop offset=".45" stop-color="#f0f8f0"/><stop offset=".48" stop-color="#ddeedb"/><stop offset=".50" stop-color="#d2e9d1"/><stop offset=".52" stop-color="#ddeedb"/><stop offset=".55" stop-color="#f1f8f0"/><stop offset=".60" stop-color="#f8fcf8"/><stop offset=".67" stop-color="#fafdfa"/><stop offset=".75" stop-color="#fcfdfc"/><stop offset=".88" stop-color="#fcfefc"/><stop offset="1.00" stop-color="#fdfefc"/></linearGradient><linearGradient id="g67"><stop offset=".00" stop-color="#fdfefd"/><stop offset=".12" stop-color="#fdfefd"/><stop offset=".25" stop-color="#fcfefc"/><stop offset=".33" stop-color="#fbfdfb"/><stop offset=".40" stop-color="#fafcf9"/><stop offset=".45" stop-color="#f3f9f3"/><stop offset=".48" stop-color="#e4f2e2"/><stop offset=".50" stop-color="#ddefdc"/><stop offset=".52" stop-color="#e3f1e1"/><stop offset=".55" stop-color="#f4faf4"/><stop offset=".60" stop-color="#f9fcf9"/><stop offset=".67" stop-color="#fbfdfb"/><stop offset=".75" stop-color="#fcfefc"/><stop offset=".88" stop-color="#fdfefd"/><stop offset="1.00" stop-color="#fdfefd"/></linearGradient><linearGradient id="g68"><stop offset=".00" stop-color="#fdfefd"/><stop offset=".12" stop-color="#fdfefd"/><stop offset=".25" stop-color="#fdfefd"/><stop offset=".33" stop-color="#fcfdfc"/><stop offset=".40" stop-color="#fafdfa"/><stop offset=".45" stop-color="#f5faf5"/><stop offset=".48" stop-color="#e7f3e6"/><stop offset=".50" stop-color="#e3f1e1"/><stop offset=".52" stop-color="#e7f3e6"/><stop offset=".55" stop-color="#f6faf5"/><stop offset=".60" stop-color="#fafdfa"/><stop offset=".67" stop-color="#fcfdfc"/><stop offset=".75" stop-color="#fdfefc"/><stop offset=".88" stop-color="#fdfefd"/><stop offset="1.00" stop-color="#fdfefd"/></linearGradient><linearGradient id="g69"><stop offset=".00" stop-color="#fdfefd"/><stop offset=".12" stop-color="#fdfefd"/><stop offset=".25" stop-color="#fdfefc"/><stop offset=".33" stop-color="#fcfdfc"/><stop offset=".40" stop-color="#fbfdfa"/><stop offset=".45" stop-color="#f5faf5"/><stop offset=".48" stop-color="#e7f3e6"/><stop offset=".50" stop-color="#e1f0e0"/><stop offset=".52" stop-color="#e7f3e6"/><stop offset=".55" stop-color="#f5faf5"/><stop offset=".60" stop-color="#fafdfa"/><stop offset=".67" stop-color="#fcfdfc"/><stop offset=".75" stop-color="#fdfefc"/><stop offset=".88" stop-color="#fdfefd"/><stop offset="1.00" stop-color="#fdfefd"/></linearGradient><linearGradient id="g70"><stop offset=".00" stop-color="#fdfefd"/><stop offset=".12" stop-color="#fdfefd"/><stop offset=".25" stop-color="#fdfefd"/><stop offset=".33" stop-color="#fcfefc"/><stop offset=".40" stop-color="#fbfdfb"/><stop offset=".45" stop-color="#f8fcf8"/><stop offset=".48" stop-color="#eef7ed"/><stop offset=".50" stop-color="#e8f4e7"/><stop offset=".52" stop-color="#edf6ec"/><stop offset=".55" stop-color="#f8fbf7"/><stop offset=".60" stop-color="#fbfdfb"/><stop offset=".67" stop-color="#fdfefc"/><stop offset=".75" stop-color="#fdfefd"/><stop offset=".88" stop-color="#fdfefd"/><stop offset="1.00" stop-color="#fdfefd"/></linearGradient><linearGradient id="g71"><stop offset=".00" stop-color="#fefefd"/><stop offset=".12" stop-color="#fdfefd"/><stop offset=".25" stop-color="#fdfefd"/><stop offset=".33" stop-color="#fdfefc"/><stop offset=".40" stop-color="#fcfdfc"/><stop offset=".45" stop-color="#f9fcf8"/><stop offset=".48" stop-color="#f0f8f0"/><stop offset=".50" stop-color="#edf6ec"/><stop offset=".52" stop-color="#f0f8f0"/><stop offset=".55" stop-color="#f9fcf8"/><stop offset=".60" stop-color="#fcfdfb"/><stop offset=".67" stop-color="#fdfefd"/><stop offset=".75" stop-color="#fdfefd"/><stop offset=".88" stop-color="#fdfefd"/><stop offset="1.00" stop-color="#fefefd"/></linearGradient><linearGradient id="g72"><stop offset=".00" stop-color="#fefefe"/><stop offset=".12" stop-color="#fefefe"/><stop offset=".25" stop-color="#fdfefd"/><stop offset=".33" stop-color="#fdfefd"/><stop offset=".40" stop-color="#fcfefc"/><stop offset=".45" stop-color="#fafdfa"/><stop offset=".48" stop-color="#f3f9f2"/><stop offset=".50" stop-color="#eff7ee"/><stop offset=".52" stop-color="#f3f9f2"/><stop offset=".55" stop-color="#fafdfa"/><stop offset=".60" stop-color="#fcfefc"/><stop offset=".67" stop-color="#fdfefd"/><stop offset=".75" stop-color="#fdfefd"/><stop offset=".88" stop-color="#fefefe"/><stop offset="1.00" stop-color="#fefefe"/></linearGradient><linearGradient id="g73"><stop offset=".00" stop-color="#fefefe"/><stop offset=".12" stop-color="#fefefe"/><stop offset=".25" stop-color="#fdfefd"/><stop offset=".33" stop-color="#fdfefd"/><stop offset=".40" stop-color="#fcfefc"/><stop offset=".45" stop-color="#fafdfa"/><stop offset=".48" stop-color="#f4faf4"/><stop offset=".50" stop-color="#f1f8f0"/><stop offset=".52" stop-color="#f4faf3"/><stop offset=".55" stop-color="#fafdfa"/><stop offset=".60" stop-color="#fcfefc"/><stop offset=".67" stop-color="#fdfefd"/><stop offset=".75" stop-color="#fdfefd"/><stop offset=".88" stop-color="#fefefe"/><stop offset="1.00" stop-color="#fefefe"/></linearGradient><linearGradient id="g74"><stop offset=".00" stop-color="#fefefe"/><stop offset=".12" stop-color="#fefefe"/><stop offset=".25" stop-color="#fdfefd"/><stop offset=".33" stop-color="#fdfefd"/><stop offset=".40" stop-color="#fdfefd"/><stop offset=".45" stop-color="#fbfdfb"/><stop offset=".48" stop-color="#f5faf5"/><stop offset=".50" stop-color="#f3f9f3"/><stop offset=".52" stop-color="#f6faf5"/><stop offset=".55" stop-color="#fbfdfb"/><stop offset=".60" stop-color="#fdfefd"/><stop offset=".67" stop-color="#fdfefd"/><stop offset=".75" stop-color="#fefefd"/><stop offset=".88" stop-color="#fefefe"/><stop offset="1.00" stop-color="#fefefe"/></linearGradient><linearGradient id="g75"><stop offset=".00" stop-color="#fefefe"/><stop offset=".12" stop-color="#fefefe"/><stop offset=".25" stop-color="#fefefd"/><stop offset=".33" stop-color="#fdfefd"/><stop offset=".40" stop-color="#fdfefd"/><stop offset=".45" stop-color="#fcfdfc"/><stop offset=".48" stop-color="#f7fbf7"/><stop offset=".50" stop-color="#f5faf4"/><stop offset=".52" stop-color="#f7fbf7"/><stop offset=".55" stop-color="#fcfdfb"/><stop offset=".60" stop-color="#fdfefd"/><stop offset=".67" stop-color="#fdfefd"/><stop offset=".75" stop-color="#fefefe"/><stop offset=".88" stop-color="#fefefe"/><stop offset="1.00" stop-color="#fefefe"/></linearGradient><linearGradient id="g76"><stop offset=".00" stop-color="#fefffe"/><stop offset=".12" stop-color="#fefffe"/><stop offset=".25" stop-color="#fefefe"/><stop offset=".33" stop-color="#fefefe"/><stop offset=".40" stop-color="#fdfefd"/><stop offset=".45" stop-color="#fdfefc"/><stop offset=".48" stop-color="#fafcf9"/><stop offset=".50" stop-color="#f8fcf8"/><stop offset=".52" stop-color="#fafcf9"/><stop offset=".55" stop-color="#fdfefd"/><stop offset=".60" stop-color="#fdfefd"/><stop offset=".67" stop-color="#fefefe"/><stop offset=".75" stop-color="#fefefe"/><stop offset=".88" stop-color="#fefffe"/><stop offset="1.00" stop-color="#fefffe"/></linearGradient><linearGradient id="g77"><stop offset=".00" stop-color="#fefffe"/><stop offset=".12" stop-color="#fefefe"/><stop offset=".25" stop-color="#fefefe"/><stop offset=".33" stop-color="#fefefe"/><stop offset=".40" stop-color="#fdfefd"/><stop offset=".45" stop-color="#fdfefd"/><stop offset=".48" stop-color="#fafdfa"/><stop offset=".50" stop-color="#f9fcf8"/><stop offset=".52" stop-color="#fafdfa"/><stop offset=".55" stop-color="#fdfefd"/><stop offset=".60" stop-color="#fdfefd"/><stop offset=".67" stop-color="#fefefe"/><stop offset=".75" stop-color="#fefefe"/><stop offset=".88" stop-color="#fefefe"/><stop offset="1.00" stop-color="#fefffe"/></linearGradient><linearGradient id="g78"><stop offset=".00" stop-color="#fefffe"/><stop offset=".12" stop-color="#fefffe"/><stop offset=".25" stop-color="#fefefe"/><stop offset=".33" stop-color="#fefefe"/><stop offset=".40" stop-color="#fefefe"/><stop offset=".45" stop-color="#fdfefd"/><stop offset=".48" stop-color="#fbfdfb"/><stop offset=".50" stop-color="#fafdfa"/><stop offset=".52" stop-color="#fbfdfb"/><stop offset=".55" stop-color="#fdfefd"/><stop offset=".60" stop-color="#fefefd"/><stop offset=".67" stop-color="#fefefe"/><stop offset=".75" stop-color="#fefefe"/><stop offset=".88" stop-color="#fefffe"/><stop offset="1.00" stop-color="#fefffe"/></linearGradient><linearGradient id="g79"><stop offset=".00" stop-color="#fefffe"/><stop offset=".12" stop-color="#fefffe"/><stop offset=".25" stop-color="#fefefe"/><stop offset=".33" stop-color="#fefefe"/><stop offset=".40" stop-color="#fefefe"/><stop offset=".45" stop-color="#fdfefd"/><stop offset=".48" stop-color="#fcfefc"/><stop offset=".50" stop-color="#fcfdfb"/><stop offset=".52" stop-color="#fcfefc"/><stop offset=".55" stop-color="#fefefd"/><stop offset=".60" stop-color="#fefefe"/><stop offset=".67" stop-color="#fefefe"/><stop offset=".75" stop-color="#fefffe"/><stop offset=".88" stop-color="#fefffe"/><stop offset="1.00" stop-color="#fefffe"/></linearGradient><linearGradient id="g80"><stop offset=".00" stop-color="#fefffe"/><stop offset=".12" stop-color="#fefffe"/><stop offset=".25" stop-color="#fefffe"/><stop offset=".33" stop-color="#fefffe"/><stop offset=".40" stop-color="#fefffe"/><stop offset=".45" stop-color="#fefefe"/><stop offset=".48" stop-color="#fdfefd"/><stop offset=".50" stop-color="#fdfefd"/><stop offset=".52" stop-color="#fdfefd"/><stop offset=".55" stop-color="#fefefe"/><stop offset=".60" stop-color="#fefffe"/><stop offset=".67" stop-color="#fefffe"/><stop offset=".75" stop-color="#fefffe"/><stop offset=".88" stop-color="#fefffe"/><stop offset="1.00" stop-color="#fefffe"/></linearGradient><linearGradient id="g81"><stop offset=".00" stop-color="#fefffe"/><stop offset=".12" stop-color="#fefffe"/><stop offset=".25" stop-color="#fefffe"/><stop offset=".33" stop-color="#fefffe"/><stop offset=".40" stop-color="#fefffe"/><stop offset=".45" stop-color="#fefffe"/><stop offset=".48" stop-color="#fefefd"/><stop offset=".50" stop-color="#fdfefd"/><stop offset=".52" stop-color="#fefefe"/><stop offset=".55" stop-color="#fefffe"/><stop offset=".60" stop-color="#fefffe"/><stop offset=".67" stop-color="#fefffe"/><stop offset=".75" stop-color="#fefffe"/><stop offset=".88" stop-color="#fefffe"/><stop offset="1.00" stop-color="#fefffe"/></linearGradient><linearGradient id="g82"><stop offset=".00" stop-color="#fefffe"/><stop offset=".12" stop-color="#fefffe"/><stop offset=".25" stop-color="#fefffe"/><stop offset=".33" stop-color="#fefffe"/><stop offset=".40" stop-color="#fefffe"/><stop offset=".45" stop-color="#fefffe"/><stop offset=".48" stop-color="#fefefe"/><stop offset=".50" stop-color="#fefefe"/><stop offset=".52" stop-color="#fefefe"/><stop offset=".55" stop-color="#fefffe"/><stop offset=".60" stop-color="#fefffe"/><stop offset=".67" stop-color="#fefffe"/><stop offset=".75" stop-color="#fefffe"/><stop offset=".88" stop-color="#fefffe"/><stop offset="1.00" stop-color="#fefffe"/></linearGradient><linearGradient id="g83"><stop offset=".00" stop-color="#fefffe"/><stop offset=".12" stop-color="#fefffe"/><stop offset=".25" stop-color="#fefffe"/><stop offset=".33" stop-color="#fefffe"/><stop offset=".40" stop-color="#fefffe"/><stop offset=".45" stop-color="#fefffe"/><stop offset=".48" stop-color="#fefffe"/><stop offset=".50" stop-color="#fefffe"/><stop offset=".52" stop-color="#fefffe"/><stop offset=".55" stop-color="#fefffe"/><stop offset=".60" stop-color="#fefffe"/><stop offset=".67" stop-color="#fefffe"/><stop offset=".75" stop-color="#fefffe"/><stop offset=".88" stop-color="#fefffe"/><stop offset="1.00" stop-color="#fefffe"/></linearGradient><linearGradient id="g84"><stop offset=".00" stop-color="#fefffe"/><stop offset=".12" stop-color="#fefffe"/><stop offset=".25" stop-color="#fefffe"/><stop offset=".33" stop-color="#fefffe"/><stop offset=".40" stop-color="#fefffe"/><stop offset=".45" stop-color="#fefffe"/><stop offset=".48" stop-color="#fefffe"/><stop offset=".50" stop-color="#fefffe"/><stop offset=".52" stop-color="#fefffe"/><stop offset=".55" stop-color="#fefffe"/><stop offset=".60" stop-color="#fefffe"/><stop offset=".67" stop-color="#fefffe"/><stop offset=".75" stop-color="#fefffe"/><stop offset=".88" stop-color="#fefffe"/><stop offset="1.00" stop-color="#fefffe"/></linearGradient><linearGradient id="g85"><stop offset=".00" stop-color="#fee2c7"/><stop offset=".12" stop-color="#fedcba"/><stop offset=".25" stop-color="#fdc895"/><stop offset=".33" stop-color="#fdaa65"/><stop offset=".40" stop-color="#f4731e"/><stop offset=".45" stop-color="#d04501"/><stop offset=".48" stop-color="#9c3203"/><stop offset=".50" stop-color="#7f2704"/><stop offset=".52" stop-color="#8a2b04"/><stop offset=".55" stop-color="#d54701"/><stop offset=".60" stop-color="#f4711c"/><stop offset=".67" stop-color="#fda660"/><stop offset=".75" stop-color="#fdc48e"/><stop offset=".88" stop-color="#fddbb7"/><stop offset="1.00" stop-color="#fee1c5"/></linearGradient><linearGradient id="g86"><stop offset=".00" stop-color="#fee1c5"/><stop offset=".12" stop-color="#fedcba"/><stop offset=".25" stop-color="#fdc693"/><stop offset=".33" stop-color="#fdaa65"/><stop offset=".40" stop-color="#f57622"/><stop offset=".45" stop-color="#ce4401"/><stop offset=".48" stop-color="#872a04"/><stop offset=".50" stop-color="#822804"/><stop offset=".52" stop-color="#983103"/><stop offset=".55" stop-color="#d44601"/><stop offset=".60" stop-color="#f87f2d"/><stop offset=".67" stop-color="#fdaa66"/><stop offset=".75" stop-color="#fdca99"/><stop offset=".88" stop-color="#fedcb9"/><stop offset="1.00" stop-color="#fee3c7"/></linearGradient><linearGradient id="g87"><stop offset=".00" stop-color="#fee3c9"/><stop offset=".12" stop-color="#fedebe"/><stop offset=".25" stop-color="#fdcd9e"/><stop offset=".33" stop-color="#fdb97d"/><stop offset=".40" stop-color="#fb8634"/><stop offset=".45" stop-color="#e15307"/><stop offset=".48" stop-color="#aa3703"/><stop offset=".50" stop-color="#993103"/><stop offset=".52" stop-color="#a23403"/><stop offset=".55" stop-color="#e25508"/><stop offset=".60" stop-color="#fc8b3a"/><stop offset=".67" stop-color="#fdb171"/><stop offset=".75" stop-color="#fdd1a4"/><stop offset=".88" stop-color="#fedebe"/><stop offset="1.00" stop-color="#fee3c8"/></linearGradient><linearGradient id="g88"><stop offset=".00" stop-color="#fee5cd"/><stop offset=".12" stop-color="#fee1c4"/><stop offset=".25" stop-color="#fdd4aa"/><stop offset=".33" stop-color="#fdc38e"/><stop offset=".40" stop-color="#fd984c"/><stop offset=".45" stop-color="#f16a15"/><stop offset=".48" stop-color="#d84801"/><stop offset=".50" stop-color="#bc3e02"/><stop offset=".52" stop-color="#df5005"/><stop offset=".55" stop-color="#f06712"/><stop offset=".60" stop-color="#fd9c51"/><stop offset=".67" stop-color="#fdc38e"/><stop offset=".75" stop-color="#fdd4ab"/><stop offset=".88" stop-color="#fee1c5"/><stop offset="1.00" stop-color="#fee5cd"/></linearGradient><linearGradient id="g89"><stop offset=".00" stop-color="#fee3c9"/><stop offset=".12" stop-color="#fee0c2"/><stop offset=".25" stop-color="#fdd3a9"/><stop offset=".33" stop-color="#fdbe85"/><stop offset=".40" stop-color="#fd9445"/><stop offset=".45" stop-color="#e35609"/><stop offset=".48" stop-color="#bf3f02"/><stop offset=".50" stop-color="#9e3303"/><stop offset=".52" stop-color="#bb3d02"/><stop offset=".55" stop-color="#e75b0b"/><stop offset=".60" stop-color="#fd974a"/><stop offset=".67" stop-color="#fdbd84"/><stop offset=".75" stop-color="#fdd2a6"/><stop offset=".88" stop-color="#fedfc1"/><stop offset="1.00" stop-color="#fee3c9"/></linearGradient><linearGradient id="g90"><stop offset=".00" stop-color="#fee5cc"/><stop offset=".12" stop-color="#fee2c5"/><stop offset=".25" stop-color="#fdd6ae"/><stop offset=".33" stop-color="#fdc48e"/><stop offset=".40" stop-color="#fd9b50"/><stop offset=".45" stop-color="#f36f1a"/><stop offset=".48" stop-color="#c64102"/><stop offset=".50" stop-color="#b03903"/><stop offset=".52" stop-color="#cc4302"/><stop offset=".55" stop-color="#f36f19"/><stop offset=".60" stop-color="#fda057"/><stop offset=".67" stop-color="#fdc895"/><stop offset=".75" stop-color="#fdd7b1"/><stop offset=".88" stop-color="#fee0c3"/><stop offset="1.00" stop-color="#fee5cb"/></linearGradient><linearGradient id="g91"><stop offset=".00" stop-color="#fee3c9"/><stop offset=".12" stop-color="#fee0c1"/><stop offset=".25" stop-color="#fdd5ad"/><stop offset=".33" stop-color="#fdc28b"/><stop offset=".40" stop-color="#fd994d"/><stop offset=".45" stop-color="#e85c0c"/><stop offset=".48" stop-color="#b83c02"/><stop offset=".50" stop-color="#a33503"/><stop offset=".52" stop-color="#c44102"/><stop offset=".55" stop-color="#e85c0c"/><stop offset=".60" stop-color="#fd9b50"/><stop offset=".67" stop-color="#fdc18a"/><stop offset=".75" stop-color="#fdd7b0"/><stop offset=".88" stop-color="#fee1c4"/><stop offset="1.00" stop-color="#fee5cb"/></linearGradient><linearGradient id="g92"><stop offset=".00" stop-color="#fee3c8"/><stop offset=".12" stop-color="#fee0c2"/><stop offset=".25" stop-color="#fdd7b0"/><stop offset=".33" stop-color="#fdc28c"/><stop offset=".40" stop-color="#fd994d"/><stop offset=".45" stop-color="#e95e0d"/><stop offset=".48" stop-color="#c13f02"/><stop offset=".50" stop-color="#ac3803"/><stop offset=".52" stop-color="#bb3e02"/><stop offset=".55" stop-color="#ec620f"/><stop offset=".60" stop-color="#fd9d52"/><stop offset=".67" stop-color="#fdc38e"/><stop offset=".75" stop-color="#fdd5ac"/><stop offset=".88" stop-color="#fee1c5"/><stop offset="1.00" stop-color="#fee3c9"/></linearGradient><linearGradient id="g93"><stop offset=".00" stop-color="#fee7cf"/><stop offset=".12" stop-color="#fee4c9"/><stop offset=".25" stop-color="#fedcba"/><stop offset=".33" stop-color="#fdd0a2"/><stop offset=".40" stop-color="#fdb170"/><stop offset=".45" stop-color="#fb8634"/><stop offset=".48" stop-color="#e65a0b"/><stop offset=".50" stop-color="#dc4c03"/><stop offset=".52" stop-color="#e05106"/><stop offset=".55" stop-color="#f67824"/><stop offset=".60" stop-color="#fdb170"/><stop offset=".67" stop-color="#fdd2a5"/><stop offset=".75" stop-color="#feddbd"/><stop offset=".88" stop-color="#fee4ca"/><stop offset="1.00" stop-color="#fee6cf"/></linearGradient><linearGradient id="g94"><stop offset=".00" stop-color="#fee6cf"/><stop offset=".12" stop-color="#fee5cb"/><stop offset=".25" stop-color="#fedcbb"/><stop offset=".33" stop-color="#fdd3a9"/><stop offset=".40" stop-color="#fdae6b"/><stop offset=".45" stop-color="#fa8532"/><stop offset=".48" stop-color="#df5006"/><stop offset=".50" stop-color="#e15207"/><stop offset=".52" stop-color="#ea5f0d"/><stop offset=".55" stop-color="#f77b28"/><stop offset=".60" stop-color="#fdb475"/><stop offset=".67" stop-color="#fdd1a4"/><stop offset=".75" stop-color="#feddbd"/><stop offset=".88" stop-color="#fee5cb"/><stop offset="1.00" stop-color="#fee6cd"/></linearGradient><linearGradient id="g95"><stop offset=".00" stop-color="#fee4c9"/><stop offset=".12" stop-color="#fee2c5"/><stop offset=".25" stop-color="#fedcb9"/><stop offset=".33" stop-color="#fdce9e"/><stop offset=".40" stop-color="#fda762"/><stop offset=".45" stop-color="#f36e19"/><stop offset=".48" stop-color="#c24002"/><stop offset=".50" stop-color="#c34002"/><stop offset=".52" stop-color="#c13f02"/><stop offset=".55" stop-color="#f16a14"/><stop offset=".60" stop-color="#fdae6b"/><stop offset=".67" stop-color="#fdd1a3"/><stop offset=".75" stop-color="#fddab7"/><stop offset=".88" stop-color="#fee2c5"/><stop offset="1.00" stop-color="#fee5cc"/></linearGradient><linearGradient id="g96"><stop offset=".00" stop-color="#fee5cd"/><stop offset=".12" stop-color="#fee5cb"/><stop offset=".25" stop-color="#feddbc"/><stop offset=".33" stop-color="#fdd4aa"/><stop offset=".40" stop-color="#fdb97d"/><stop offset=".45" stop-color="#f98230"/><stop offset=".48" stop-color="#e25508"/><stop offset=".50" stop-color="#dc4c03"/><stop offset=".52" stop-color="#e15307"/><stop offset=".55" stop-color="#fa8533"/><stop offset=".60" stop-color="#fdb373"/><stop offset=".67" stop-color="#fdd4ab"/><stop offset=".75" stop-color="#fedebd"/><stop offset=".88" stop-color="#fee4ca"/><stop offset="1.00" stop-color="#fee6ce"/></linearGradient><linearGradient id="g97"><stop offset=".00" stop-color="#fee5cc"/><stop offset=".12" stop-color="#fee3c9"/><stop offset=".25" stop-color="#fedebe"/><stop offset=".33" stop-color="#fdd5ab"/><stop offset=".40" stop-color="#fdb97c"/><stop offset=".45" stop-color="#fb8836"/><stop offset=".48" stop-color="#de4e04"/><stop offset=".50" stop-color="#d74701"/><stop offset=".52" stop-color="#df5106"/><stop offset=".55" stop-color="#fa8432"/><stop offset=".60" stop-color="#fdb678"/><stop offset=".67" stop-color="#fdd3a9"/><stop offset=".75" stop-color="#fedebd"/><stop offset=".88" stop-color="#fee4ca"/><stop offset="1.00" stop-color="#fee6ce"/></linearGradient><linearGradient id="g98"><stop offset=".00" stop-color="#fee5cc"/><stop offset=".12" stop-color="#fee4cb"/><stop offset=".25" stop-color="#fedfbf"/><stop offset=".33" stop-color="#fdd6ad"/><stop offset=".40" stop-color="#fdb779"/><stop offset=".45" stop-color="#f9802d"/><stop offset=".48" stop-color="#e75c0c"/><stop offset=".50" stop-color="#e35508"/><stop offset=".52" stop-color="#e85c0c"/><stop offset=".55" stop-color="#fa8533"/><stop offset=".60" stop-color="#fdb97d"/><stop offset=".67" stop-color="#fdd5ac"/><stop offset=".75" stop-color="#fedebe"/><stop offset=".88" stop-color="#fee5cc"/><stop offset="1.00" stop-color="#fee5cc"/></linearGradient><linearGradient id="g99"><stop offset=".00" stop-color="#fee4ca"/><stop offset=".12" stop-color="#fee3c8"/><stop offset=".25" stop-color="#fedebf"/><stop offset=".33" stop-color="#fdd3a9"/><stop offset=".40" stop-color="#fdb474"/><stop offset=".45" stop-color="#f67825"/><stop offset=".48" stop-color="#d44601"/><stop offset=".50" stop-color="#d04501"/><stop offset=".52" stop-color="#e15407"/><stop offset=".55" stop-color="#f77a27"/><stop offset=".60" stop-color="#fdb474"/><stop offset=".67" stop-color="#fdd5ad"/><stop offset=".75" stop-color="#feddbd"/><stop offset=".88" stop-color="#fee2c7"/><stop offset="1.00" stop-color="#fee5cb"/></linearGradient><linearGradient id="g100"><stop offset=".00" stop-color="#fee5cc"/><stop offset=".12" stop-color="#fee4ca"/><stop offset=".25" stop-color="#fee0c2"/><stop offset=".33" stop-color="#fdd8b2"/><stop offset=".40" stop-color="#fdbb80"/><stop offset=".45" stop-color="#f98230"/><stop offset=".48" stop-color="#e5590a"/><stop offset=".50" stop-color="#e15407"/><stop offset=".52" stop-color="#e15307"/><stop offset=".55" stop-color="#f98230"/><stop offset=".60" stop-color="#fdbf87"/><stop offset=".67" stop-color="#fdd7b0"/><stop offset=".75" stop-color="#fedfc0"/><stop offset=".88" stop-color="#fee3c9"/><stop offset="1.00" stop-color="#fee5cc"/></linearGradient><linearGradient id="g101"><stop offset=".00" stop-color="#fee5cd"/><stop offset=".12" stop-color="#fee5cc"/><stop offset=".25" stop-color="#fee1c5"/><stop offset=".33" stop-color="#fddab6"/><stop offset=".40" stop-color="#fdc18a"/><stop offset=".45" stop-color="#fd9040"/><stop offset=".48" stop-color="#eb600e"/><stop offset=".50" stop-color="#e45709"/><stop offset=".52" stop-color="#eb610f"/><stop offset=".55" stop-color="#fd9244"/><stop offset=".60" stop-color="#fdc691"/><stop offset=".67" stop-color="#fdd8b2"/><stop offset=".75" stop-color="#fee1c4"/><stop offset=".88" stop-color="#fee5cc"/><stop offset="1.00" stop-color="#fee5cd"/></linearGradient><linearGradient id="g102"><stop offset=".00" stop-color="#fee5cc"/><stop offset=".12" stop-color="#fee4c9"/><stop offset=".25" stop-color="#fee0c3"/><stop offset=".33" stop-color="#fdd8b3"/><stop offset=".40" stop-color="#fdc48f"/><stop offset=".45" stop-color="#fd8f3f"/><stop offset=".48" stop-color="#e05206"/><stop offset=".50" stop-color="#d74701"/><stop offset=".52" stop-color="#e65a0b"/><stop offset=".55" stop-color="#fb8837"/><stop offset=".60" stop-color="#fdc28c"/><stop offset=".67" stop-color="#fdd8b2"/><stop offset=".75" stop-color="#fee0c3"/><stop offset=".88" stop-color="#fee3c8"/><stop offset="1.00" stop-color="#fee4ca"/></linearGradient><linearGradient id="g103"><stop offset=".00" stop-color="#fee4ca"/><stop offset=".12" stop-color="#fee4ca"/><stop offset=".25" stop-color="#fee1c5"/><stop offset=".33" stop-color="#fddab7"/><stop offset=".40" stop-color="#fdc691"/><stop offset=".45" stop-color="#fd9243"/><stop offset=".48" stop-color="#ee6511"/><stop offset=".50" stop-color="#df5005"/><stop offset=".52" stop-color="#e4580a"/><stop offset=".55" stop-color="#fd8e3d"/><stop offset=".60" stop-color="#fdc189"/><stop offset=".67" stop-color="#fdd8b3"/><stop offset=".75" stop-color="#fee1c5"/><stop offset=".88" stop-color="#fee4c9"/><stop offset="1.00" stop-color="#fee5cb"/></linearGradient><linearGradient id="g104"><stop offset=".00" stop-color="#fee6ce"/><stop offset=".12" stop-color="#fee6cf"/><stop offset=".25" stop-color="#fee4ca"/><stop offset=".33" stop-color="#fedebe"/><stop offset=".40" stop-color="#fdce9f"/><stop offset=".45" stop-color="#fda259"/><stop offset=".48" stop-color="#f87f2c"/><stop offset=".50" stop-color="#f4731e"/><stop offset=".52" stop-color="#f9822f"/><stop offset=".55" stop-color="#fd9f55"/><stop offset=".60" stop-color="#fdce9f"/><stop offset=".67" stop-color="#fedfc0"/><stop offset=".75" stop-color="#fee5cb"/><stop offset=".88" stop-color="#fee6cf"/><stop offset="1.00" stop-color="#fee7cf"/></linearGradient><linearGradient id="g105"><stop offset=".00" stop-color="#fee4ca"/><stop offset=".12" stop-color="#fee3c9"/><stop offset=".25" stop-color="#fee2c6"/><stop offset=".33" stop-color="#fddbb7"/><stop offset=".40" stop-color="#fdc895"/><stop offset=".45" stop-color="#fd9244"/><stop offset=".48" stop-color="#e95e0d"/><stop offset=".50" stop-color="#eb600e"/><stop offset=".52" stop-color="#f26b15"/><stop offset=".55" stop-color="#fd9142"/><stop offset=".60" stop-color="#fdc692"/><stop offset=".67" stop-color="#fddbb8"/><stop offset=".75" stop-color="#fee2c5"/><stop offset=".88" stop-color="#fee4c9"/><stop offset="1.00" stop-color="#fee4ca"/></linearGradient><linearGradient id="g106"><stop offset=".00" stop-color="#fee7d0"/><stop offset=".12" stop-color="#fee7cf"/><stop offset=".25" stop-color="#fee5cd"/><stop offset=".33" stop-color="#fee0c2"/><stop offset=".40" stop-color="#fdd5ac"/><stop offset=".45" stop-color="#fdae6b"/><stop offset=".48" stop-color="#fd8d3c"/><stop offset=".50" stop-color="#f77a27"/><stop offset=".52" stop-color="#fd8e3e"/><stop offset=".55" stop-color="#fdaa65"/><stop offset=".60" stop-color="#fdd5ac"/><stop offset=".67" stop-color="#fee1c4"/><stop offset=".75" stop-color="#fee4ca"/><stop offset=".88" stop-color="#fee7cf"/><stop offset="1.00" stop-color="#fee6cf"/></linearGradient><linearGradient id="g107"><stop offset=".00" stop-color="#fee4ca"/><stop offset=".12" stop-color="#fee5cb"/><stop offset=".25" stop-color="#fee2c7"/><stop offset=".33" stop-color="#fedebe"/><stop offset=".40" stop-color="#fdcd9e"/><stop offset=".45" stop-color="#fd9b51"/><stop offset=".48" stop-color="#f4711d"/><stop offset=".50" stop-color="#f06812"/><stop offset=".52" stop-color="#f57622"/><stop offset=".55" stop-color="#fd9c51"/><stop offset=".60" stop-color="#fdd0a2"/><stop offset=".67" stop-color="#feddbc"/><stop offset=".75" stop-color="#fee3c8"/><stop offset=".88" stop-color="#fee5cb"/><stop offset="1.00" stop-color="#fee5cc"/></linearGradient><linearGradient id="g108"><stop offset=".00" stop-color="#fee5cc"/><stop offset=".12" stop-color="#fee5cc"/><stop offset=".25" stop-color="#fee3c7"/><stop offset=".33" stop-color="#fedfc1"/><stop offset=".40" stop-color="#fdd3a8"/><stop offset=".45" stop-color="#fdab66"/><stop offset=".48" stop-color="#fa8331"/><stop offset=".50" stop-color="#f36f19"/><stop offset=".52" stop-color="#f98230"/><stop offset=".55" stop-color="#fdaa66"/><stop offset=".60" stop-color="#fdd3a8"/><stop offset=".67" stop-color="#fedfc0"/><stop offset=".75" stop-color="#fee3c7"/><stop offset=".88" stop-color="#fee5cd"/><stop offset="1.00" stop-color="#fee4cb"/></linearGradient><linearGradient id="g109"><stop offset=".00" stop-color="#fee7cf"/><stop offset=".12" stop-color="#fee7cf"/><stop offset=".25" stop-color="#fee6ce"/><stop offset=".33" stop-color="#fee3c7"/><stop offset=".40" stop-color="#fddab6"/><stop offset=".45" stop-color="#fdbc82"/><stop offset=".48" stop-color="#fd9d53"/><stop offset=".50" stop-color="#fd9344"/><stop offset=".52" stop-color="#fd9547"/><stop offset=".55" stop-color="#fdb678"/><stop offset=".60" stop-color="#fdd8b2"/><stop offset=".67" stop-color="#fee3c9"/><stop offset=".75" stop-color="#fee6ce"/><stop offset=".88" stop-color="#fee6cf"/><stop offset="1.00" stop-color="#fee7d0"/></linearGradient><linearGradient id="g110"><stop offset=".00" stop-color="#fee5cd"/><stop offset=".12" stop-color="#fee4ca"/><stop offset=".25" stop-color="#fee4cb"/><stop offset=".33" stop-color="#fee0c2"/><stop offset=".40" stop-color="#fdd7b0"/><stop offset=".45" stop-color="#fdb576"/><stop offset=".48" stop-color="#fd9447"/><stop offset=".50" stop-color="#f87f2c"/><stop offset=".52" stop-color="#fd8e3e"/><stop offset=".55" stop-color="#fdb576"/><stop offset=".60" stop-color="#fdd7af"/><stop offset=".67" stop-color="#fee0c1"/><stop offset=".75" stop-color="#fee4ca"/><stop offset=".88" stop-color="#fee5cb"/><stop offset="1.00" stop-color="#fee6cd"/></linearGradient><linearGradient id="g111"><stop offset=".00" stop-color="#fee6cf"/><stop offset=".12" stop-color="#fee6ce"/><stop offset=".25" stop-color="#fee6ce"/><stop offset=".33" stop-color="#fee4ca"/><stop offset=".40" stop-color="#feddbb"/><stop offset=".45" stop-color="#fdc189"/><stop offset=".48" stop-color="#fda45d"/><stop offset=".50" stop-color="#fd9e54"/><stop offset=".52" stop-color="#fda761"/><stop offset=".55" stop-color="#fdc189"/><stop offset=".60" stop-color="#fedbb8"/><stop offset=".67" stop-color="#fee3c8"/><stop offset=".75" stop-color="#fee6cd"/><stop offset=".88" stop-color="#fee7cf"/><stop offset="1.00" stop-color="#fee7d0"/></linearGradient><linearGradient id="g112"><stop offset=".00" stop-color="#fee5cd"/><stop offset=".12" stop-color="#fee5cb"/><stop offset=".25" stop-color="#fee5cc"/><stop offset=".33" stop-color="#fee1c4"/><stop offset=".40" stop-color="#fddab6"/><stop offset=".45" stop-color="#fdbb80"/><stop offset=".48" stop-color="#fd9b50"/><stop offset=".50" stop-color="#fd9648"/><stop offset=".52" stop-color="#fda35c"/><stop offset=".55" stop-color="#fdbb7f"/><stop offset=".60" stop-color="#fddab6"/><stop offset=".67" stop-color="#fee1c4"/><stop offset=".75" stop-color="#fee4cb"/><stop offset=".88" stop-color="#fee5cd"/><stop offset="1.00" stop-color="#fee5cb"/></linearGradient><linearGradient id="g113"><stop offset=".00" stop-color="#fee7cf"/><stop offset=".12" stop-color="#fee6ce"/><stop offset=".25" stop-color="#fee5cd"/><stop offset=".33" stop-color="#fee4cb"/><stop offset=".40" stop-color="#feddbd"/><stop offset=".45" stop-color="#fdca98"/><stop offset=".48" stop-color="#fdaf6c"/><stop offset=".50" stop-color="#fdab67"/><stop offset=".52" stop-color="#fdad6a"/><stop offset=".55" stop-color="#fdc794"/><stop offset=".60" stop-color="#feddbb"/><stop offset=".67" stop-color="#fee4ca"/><stop offset=".75" stop-color="#fee5cd"/><stop offset=".88" stop-color="#fee6ce"/><stop offset="1.00" stop-color="#fee6ce"/></linearGradient><linearGradient id="g114"><stop offset=".00" stop-color="#fee7cf"/><stop offset=".12" stop-color="#fee6cf"/><stop offset=".25" stop-color="#fee6cf"/><stop offset=".33" stop-color="#fee5cc"/><stop offset=".40" stop-color="#fee0c3"/><stop offset=".45" stop-color="#fdd2a6"/><stop offset=".48" stop-color="#fdc18a"/><stop offset=".50" stop-color="#fdb474"/><stop offset=".52" stop-color="#fdc088"/><stop offset=".55" stop-color="#fdd3a8"/><stop offset=".60" stop-color="#fee1c4"/><stop offset=".67" stop-color="#fee6cd"/><stop offset=".75" stop-color="#fee6ce"/><stop offset=".88" stop-color="#fee7d0"/><stop offset="1.00" stop-color="#fee7d0"/></linearGradient><linearGradient id="g115"><stop offset=".00" stop-color="#fee6cd"/><stop offset=".12" stop-color="#fee6ce"/><stop offset=".25" stop-color="#fee5cb"/><stop offset=".33" stop-color="#fee3c8"/><stop offset=".40" stop-color="#fedfbf"/><stop offset=".45" stop-color="#fdd0a2"/><stop offset=".48" stop-color="#fdbe85"/><stop offset=".50" stop-color="#fdb272"/><stop offset=".52" stop-color="#fdba7e"/><stop offset=".55" stop-color="#fdd2a6"/><stop offset=".60" stop-color="#fedfc1"/><stop offset=".67" stop-color="#fee3c9"/><stop offset=".75" stop-color="#fee5cb"/><stop offset=".88" stop-color="#fee5cd"/><stop offset="1.00" stop-color="#fee6ce"/></linearGradient><linearGradient id="g116"><stop offset=".00" stop-color="#fee6cf"/><stop offset=".12" stop-color="#fee6ce"/><stop offset=".25" stop-color="#fee5cd"/><stop offset=".33" stop-color="#fee5cd"/><stop offset=".40" stop-color="#fee1c4"/><stop offset=".45" stop-color="#fdd6ae"/><stop offset=".48" stop-color="#fdcc9c"/><stop offset=".50" stop-color="#fdc48e"/><stop offset=".52" stop-color="#fdc895"/><stop offset=".55" stop-color="#fdd7b0"/><stop offset=".60" stop-color="#fee1c5"/><stop offset=".67" stop-color="#fee4cb"/><stop offset=".75" stop-color="#fee6cd"/><stop offset=".88" stop-color="#fee6ce"/><stop offset="1.00" stop-color="#fee6cd"/></linearGradient><linearGradient id="g117"><stop offset=".00" stop-color="#fee5cd"/><stop offset=".12" stop-color="#fee5cd"/><stop offset=".25" stop-color="#fee5cc"/><stop offset=".33" stop-color="#fee4ca"/><stop offset=".40" stop-color="#fee0c2"/><stop offset=".45" stop-color="#fdd8b1"/><stop offset=".48" stop-color="#fdce9f"/><stop offset=".50" stop-color="#fdcb99"/><stop offset=".52" stop-color="#fdce9f"/><stop offset=".55" stop-color="#fddab5"/><stop offset=".60" stop-color="#fee1c4"/><stop offset=".67" stop-color="#fee3c8"/><stop offset=".75" stop-color="#fee4ca"/><stop offset=".88" stop-color="#fee5cd"/><stop offset="1.00" stop-color="#fee5cc"/></linearGradient><linearGradient id="g118"><stop offset=".00" stop-color="#fee6cd"/><stop offset=".12" stop-color="#fee5cd"/><stop offset=".25" stop-color="#fee6ce"/><stop offset=".33" stop-color="#fee5cb"/><stop offset=".40" stop-color="#fee3c7"/><stop offset=".45" stop-color="#fedfbf"/><stop offset=".48" stop-color="#fddab6"/><stop offset=".50" stop-color="#fdd6ae"/><stop offset=".52" stop-color="#fdd8b2"/><stop offset=".55" stop-color="#feddbb"/><stop offset=".60" stop-color="#fee2c7"/><stop offset=".67" stop-color="#fee4ca"/><stop offset=".75" stop-color="#fee5cb"/><stop offset=".88" stop-color="#fee5cc"/><stop offset="1.00" stop-color="#fee6ce"/></linearGradient><linearGradient id="g119"><stop offset=".00" stop-color="#fee6ce"/><stop offset=".12" stop-color="#fee5cc"/><stop offset=".25" stop-color="#fee6cd"/><stop offset=".33" stop-color="#fee5cc"/><stop offset=".40" stop-color="#fee3c8"/><stop offset=".45" stop-color="#fee1c4"/><stop offset=".48" stop-color="#fedfc1"/><stop offset=".50" stop-color="#fedebe"/><stop offset=".52" stop-color="#fedfc0"/><stop offset=".55" stop-color="#fee0c3"/><stop offset=".60" stop-color="#fee4ca"/><stop offset=".67" stop-color="#fee5cc"/><stop offset=".75" stop-color="#fee5cc"/><stop offset=".88" stop-color="#fee6ce"/><stop offset="1.00" stop-color="#fee5cd"/></linearGradient><linearGradient id="g120"><stop offset=".00" stop-color="#fee4cb"/><stop offset=".12" stop-color="#fee5cb"/><stop offset=".25" stop-color="#fee4cb"/><stop offset=".33" stop-color="#fee4ca"/><stop offset=".40" stop-color="#fee4ca"/><stop offset=".45" stop-color="#fee4c9"/><stop offset=".48" stop-color="#fee3c9"/><stop offset=".50" stop-color="#fee3c8"/><stop offset=".52" stop-color="#fee3c8"/><stop offset=".55" stop-color="#fee3c9"/><stop offset=".60" stop-color="#fee4ca"/><stop offset=".67" stop-color="#fee5cb"/><stop offset=".75" stop-color="#fee4ca"/><stop offset=".88" stop-color="#fee4ca"/><stop offset="1.00" stop-color="#fee4cb"/></linearGradient><linearGradient id="g121"><stop offset=".00" stop-color="#fee6cd"/><stop offset=".12" stop-color="#fee6ce"/><stop offset=".25" stop-color="#fee5cc"/><stop offset=".33" stop-color="#fee5cd"/><stop offset=".40" stop-color="#fee5cd"/><stop offset=".45" stop-color="#fee5cc"/><stop offset=".48" stop-color="#fee5cd"/><stop offset=".50" stop-color="#fee6cd"/><stop offset=".52" stop-color="#fee6cd"/><stop offset=".55" stop-color="#fee6cd"/><stop offset=".60" stop-color="#fee5cd"/><stop offset=".67" stop-color="#fee6cd"/><stop offset=".75" stop-color="#fee5cd"/><stop offset=".88" stop-color="#fee6ce"/><stop offset="1.00" stop-color="#fee6ce"/></linearGradient><linearGradient id="g122"><stop offset=".00" stop-color="#fee5cc"/><stop offset=".12" stop-color="#fee5cb"/><stop offset=".25" stop-color="#fee5cb"/><stop offset=".33" stop-color="#fee5cc"/><stop offset=".40" stop-color="#fee4c9"/><stop offset=".45" stop-color="#fee5cb"/><stop offset=".48" stop-color="#fee4ca"/><stop offset=".50" stop-color="#fee5cc"/><stop offset=".52" stop-color="#fee5cc"/><stop offset=".55" stop-color="#fee4ca"/><stop offset=".60" stop-color="#fee5cb"/><stop offset=".67" stop-color="#fee5cc"/><stop offset=".75" stop-color="#fee5cc"/><stop offset=".88" stop-color="#fee5cc"/><stop offset="1.00" stop-color="#fee4cb"/></linearGradient><linearGradient id="g123"><stop offset=".00" stop-color="#fee7d0"/><stop offset=".12" stop-color="#fee6cf"/><stop offset=".25" stop-color="#fee7cf"/><stop offset=".33" stop-color="#fee7d0"/><stop offset=".40" stop-color="#fee7cf"/><stop offset=".45" stop-color="#fee7cf"/><stop offset=".48" stop-color="#fee6cf"/><stop offset=".50" stop-color="#fee7cf"/><stop offset=".52" stop-color="#fee6cf"/><stop offset=".55" stop-color="#fee6cf"/><stop offset=".60" stop-color="#fee7cf"/><stop offset=".67" stop-color="#fee6cf"/><stop offset=".75" stop-color="#fee7cf"/><stop offset=".88" stop-color="#fee7cf"/><stop offset="1.00" stop-color="#fee7d0"/></linearGradient><linearGradient id="g124"><stop offset=".00" stop-color="#fee5cc"/><stop offset=".12" stop-color="#fee4cb"/><stop offset=".25" stop-color="#fee5cd"/><stop offset=".33" stop-color="#fee4cb"/><stop offset=".40" stop-color="#fee5cd"/><stop offset=".45" stop-color="#fee4cb"/><stop offset=".48" stop-color="#fee5cb"/><stop offset=".50" stop-color="#fee5cb"/><stop offset=".52" stop-color="#fee4ca"/><stop offset=".55" stop-color="#fee5cb"/><stop offset=".60" stop-color="#fee5cc"/><stop offset=".67" stop-color="#fee4cb"/><stop offset=".75" stop-color="#fee4cb"/><stop offset=".88" stop-color="#fee5cc"/><stop offset="1.00" stop-color="#fee5cc"/></linearGradient><linearGradient id="g125"><stop offset=".00" stop-color="#fee6ce"/><stop offset=".12" stop-color="#fee6ce"/><stop offset=".25" stop-color="#fee6ce"/><stop offset=".33" stop-color="#fee6ce"/><stop offset=".40" stop-color="#fee6ce"/><stop offset=".45" stop-color="#fee6ce"/><stop offset=".48" stop-color="#fee6ce"/><stop offset=".50" stop-color="#fee5cd"/><stop offset=".52" stop-color="#fee5cd"/><stop offset=".55" stop-color="#fee6ce"/><stop offset=".60" stop-color="#fee6ce"/><stop offset=".67" stop-color="#fee6ce"/><stop offset=".75" stop-color="#fee6ce"/><stop offset=".88" stop-color="#fee6cf"/><stop offset="1.00" stop-color="#fee6ce"/></linearGradient><linearGradient id="g126"><stop offset=".00" stop-color="#fee6ce"/><stop offset=".12" stop-color="#fee5cc"/><stop offset=".25" stop-color="#fee6ce"/><stop offset=".33" stop-color="#fee5cc"/><stop offset=".40" stop-color="#fee5cc"/><stop offset=".45" stop-color="#fee5cc"/><stop offset=".48" stop-color="#fee6ce"/><stop offset=".50" stop-color="#fee6cd"/><stop offset=".52" stop-color="#fee5cc"/><stop offset=".55" stop-color="#fee6ce"/><stop offset=".60" stop-color="#fee6ce"/><stop offset=".67" stop-color="#fee5cd"/><stop offset=".75" stop-color="#fee6cd"/><stop offset=".88" stop-color="#fee5cc"/><stop offset="1.00" stop-color="#fee5cd"/></linearGradient><linearGradient id="g127"><stop offset=".00" stop-color="#fee2c5"/><stop offset=".12" stop-color="#fedcb9"/><stop offset=".25" stop-color="#fdc794"/><stop offset=".33" stop-color="#fda863"/><stop offset=".40" stop-color="#f87d2a"/><stop offset=".45" stop-color="#d74701"/><stop offset=".48" stop-color="#973003"/><stop offset=".50" stop-color="#912e04"/><stop offset=".52" stop-color="#8e2d04"/><stop offset=".55" stop-color="#ce4401"/><stop offset=".60" stop-color="#f77b27"/><stop offset=".67" stop-color="#fdad6a"/><stop offset=".75" stop-color="#fdc895"/><stop offset=".88" stop-color="#fedcba"/><stop offset="1.00" stop-color="#fee2c7"/></linearGradient><linearGradient id="g128"><stop offset=".00" stop-color="#fee2c6"/><stop offset=".12" stop-color="#fedcb9"/><stop offset=".25" stop-color="#fdcb99"/><stop offset=".33" stop-color="#fdaf6d"/><stop offset=".40" stop-color="#f87f2d"/><stop offset=".45" stop-color="#cd4401"/><stop offset=".48" stop-color="#a33503"/><stop offset=".50" stop-color="#912e04"/><stop offset=".52" stop-color="#973003"/><stop offset=".55" stop-color="#de4f05"/><stop offset=".60" stop-color="#fa8431"/><stop offset=".67" stop-color="#fdaa66"/><stop offset=".75" stop-color="#fdc996"/><stop offset=".88" stop-color="#feddbb"/><stop offset="1.00" stop-color="#fee3c9"/></linearGradient><linearGradient id="g129"><stop offset=".00" stop-color="#fee2c5"/><stop offset=".12" stop-color="#fedbb9"/><stop offset=".25" stop-color="#fdc794"/><stop offset=".33" stop-color="#fdaa65"/><stop offset=".40" stop-color="#f87f2c"/><stop offset=".45" stop-color="#d94801"/><stop offset=".48" stop-color="#983103"/><stop offset=".50" stop-color="#832904"/><stop offset=".52" stop-color="#922e04"/><stop offset=".55" stop-color="#d84801"/><stop offset=".60" stop-color="#f98230"/><stop offset=".67" stop-color="#fdac68"/><stop offset=".75" stop-color="#fdc997"/><stop offset=".88" stop-color="#fedcbb"/><stop offset="1.00" stop-color="#fee1c4"/></linearGradient><linearGradient id="g130"><stop offset=".00" stop-color="#fee4ca"/><stop offset=".12" stop-color="#fedebf"/><stop offset=".25" stop-color="#fdcfa1"/><stop offset=".33" stop-color="#fdb97c"/><stop offset=".40" stop-color="#fc8938"/><stop offset=".45" stop-color="#e65a0b"/><stop offset=".48" stop-color="#af3903"/><stop offset=".50" stop-color="#912e04"/><stop offset=".52" stop-color="#a63603"/><stop offset=".55" stop-color="#de4f05"/><stop offset=".60" stop-color="#fd9040"/><stop offset=".67" stop-color="#fdb77a"/><stop offset=".75" stop-color="#fdd0a3"/><stop offset=".88" stop-color="#fedfbf"/><stop offset="1.00" stop-color="#fee3c8"/></linearGradient><linearGradient id="g131"><stop offset=".00" stop-color="#fee3c8"/><stop offset=".12" stop-color="#fedfc1"/><stop offset=".25" stop-color="#fdd4a9"/><stop offset=".33" stop-color="#fdc088"/><stop offset=".40" stop-color="#fd984c"/><stop offset=".45" stop-color="#e45709"/><stop offset=".48" stop-color="#c44102"/><stop offset=".50" stop-color="#b33b02"/><stop offset=".52" stop-color="#c24002"/><stop offset=".55" stop-color="#e75b0b"/><stop offset=".60" stop-color="#fd9041"/><stop offset=".67" stop-color="#fdbc82"/><stop offset=".75" stop-color="#fdd2a6"/><stop offset=".88" stop-color="#fee0c3"/><stop offset="1.00" stop-color="#fee5cb"/></linearGradient><linearGradient id="g132"><stop offset=".00" stop-color="#fee3c9"/><stop offset=".12" stop-color="#fedfc0"/><stop offset=".25" stop-color="#fdd4a9"/><stop offset=".33" stop-color="#fdc087"/><stop offset=".40" stop-color="#fd9548"/><stop offset=".45" stop-color="#e85d0d"/><stop offset=".48" stop-color="#a13403"/><stop offset=".50" stop-color="#9a3103"/><stop offset=".52" stop-color="#b13a03"/><stop offset=".55" stop-color="#e45709"/><stop offset=".60" stop-color="#fd9446"/><stop offset=".67" stop-color="#fdc089"/><stop offset=".75" stop-color="#fdd2a6"/><stop offset=".88" stop-color="#fedfc0"/><stop offset="1.00" stop-color="#fee2c7"/></linearGradient><linearGradient id="g133"><stop offset=".00" stop-color="#fee4cb"/><stop offset=".12" stop-color="#fee2c6"/><stop offset=".25" stop-color="#fdd8b3"/><stop offset=".33" stop-color="#fdc38e"/><stop offset=".40" stop-color="#fd9c51"/><stop offset=".45" stop-color="#f16a14"/><stop offset=".48" stop-color="#bf3f02"/><stop offset=".50" stop-color="#af3903"/><stop offset=".52" stop-color="#d14501"/><stop offset=".55" stop-color="#ef6611"/><stop offset=".60" stop-color="#fd9b50"/><stop offset=".67" stop-color="#fdc692"/><stop offset=".75" stop-color="#fdd6ae"/><stop offset=".88" stop-color="#fee2c6"/><stop offset="1.00" stop-color="#fee5cb"/></linearGradient><linearGradient id="g134"><stop offset=".00" stop-color="#fee4ca"/><stop offset=".12" stop-color="#fee1c4"/><stop offset=".25" stop-color="#fdd6ad"/><stop offset=".33" stop-color="#fdc591"/><stop offset=".40" stop-color="#fd9a4f"/><stop offset=".45" stop-color="#ee6511"/><stop offset=".48" stop-color="#c74202"/><stop offset=".50" stop-color="#af3903"/><stop offset=".52" stop-color="#c74202"/><stop offset=".55" stop-color="#e65a0b"/><stop offset=".60" stop-color="#fd9f56"/><stop offset=".67" stop-color="#fdc590"/><stop offset=".75" stop-color="#fdd8b2"/><stop offset=".88" stop-color="#fee1c3"/><stop offset="1.00" stop-color="#fee4ca"/></linearGradient><linearGradient id="g135"><stop offset=".00" stop-color="#fee6cd"/><stop offset=".12" stop-color="#fee3c8"/><stop offset=".25" stop-color="#fdd9b5"/><stop offset=".33" stop-color="#fdce9e"/><stop offset=".40" stop-color="#fdab66"/><stop offset=".45" stop-color="#f57622"/><stop offset=".48" stop-color="#dc4c03"/><stop offset=".50" stop-color="#cf4501"/><stop offset=".52" stop-color="#df5106"/><stop offset=".55" stop-color="#f36f19"/><stop offset=".60" stop-color="#fdaa65"/><stop offset=".67" stop-color="#fdcfa0"/><stop offset=".75" stop-color="#fddab5"/><stop offset=".88" stop-color="#fee3c8"/><stop offset="1.00" stop-color="#fee5cd"/></linearGradient><linearGradient id="g136"><stop offset=".00" stop-color="#fee4cb"/><stop offset=".12" stop-color="#fee1c5"/><stop offset=".25" stop-color="#fdd8b2"/><stop offset=".33" stop-color="#fdc895"/><stop offset=".40" stop-color="#fda660"/><stop offset=".45" stop-color="#f06812"/><stop offset=".48" stop-color="#ba3d02"/><stop offset=".50" stop-color="#b13a03"/><stop offset=".52" stop-color="#b23a03"/><stop offset=".55" stop-color="#f16a14"/><stop offset=".60" stop-color="#fd9f55"/><stop offset=".67" stop-color="#fdca98"/><stop offset=".75" stop-color="#fdd9b5"/><stop offset=".88" stop-color="#fee1c5"/><stop offset="1.00" stop-color="#fee4cb"/></linearGradient><linearGradient id="g137"><stop offset=".00" stop-color="#fee5cb"/><stop offset=".12" stop-color="#fee1c5"/><stop offset=".25" stop-color="#fddab7"/><stop offset=".33" stop-color="#fdcfa1"/><stop offset=".40" stop-color="#fdac68"/><stop offset=".45" stop-color="#f26c17"/><stop offset=".48" stop-color="#d74701"/><stop offset=".50" stop-color="#b03a03"/><stop offset=".52" stop-color="#da4901"/><stop offset=".55" stop-color="#f36e18"/><stop offset=".60" stop-color="#fda964"/><stop offset=".67" stop-color="#fdd0a2"/><stop offset=".75" stop-color="#fddab6"/><stop offset=".88" stop-color="#fee2c7"/><stop offset="1.00" stop-color="#fee4ca"/></linearGradient><linearGradient id="g138"><stop offset=".00" stop-color="#fee5cc"/><stop offset=".12" stop-color="#fee3c8"/><stop offset=".25" stop-color="#feddbd"/><stop offset=".33" stop-color="#fdd3a8"/><stop offset=".40" stop-color="#fdad6a"/><stop offset=".45" stop-color="#f77a26"/><stop offset=".48" stop-color="#d94801"/><stop offset=".50" stop-color="#d74701"/><stop offset=".52" stop-color="#da4a02"/><stop offset=".55" stop-color="#f67925"/><stop offset=".60" stop-color="#fdb06e"/><stop offset=".67" stop-color="#fdd2a7"/><stop offset=".75" stop-color="#feddbd"/><stop offset=".88" stop-color="#fee3c9"/><stop offset="1.00" stop-color="#fee5cd"/></linearGradient><linearGradient id="g139"><stop offset=".00" stop-color="#fee6ce"/><stop offset=".12" stop-color="#fee5cd"/><stop offset=".25" stop-color="#fee0c2"/><stop offset=".33" stop-color="#fdd6ad"/><stop offset=".40" stop-color="#fdba7f"/><stop offset=".45" stop-color="#fa8533"/><stop offset=".48" stop-color="#e75b0c"/><stop offset=".50" stop-color="#e85d0c"/><stop offset=".52" stop-color="#ee6511"/><stop offset=".55" stop-color="#fd9041"/><stop offset=".60" stop-color="#fdbb80"/><stop offset=".67" stop-color="#fdd6ae"/><stop offset=".75" stop-color="#fee0c2"/><stop offset=".88" stop-color="#fee5cc"/><stop offset="1.00" stop-color="#fee6ce"/></linearGradient><linearGradient id="g140"><stop offset=".00" stop-color="#fee5cc"/><stop offset=".12" stop-color="#fee3c7"/><stop offset=".25" stop-color="#fedebe"/><stop offset=".33" stop-color="#fdd3a9"/><stop offset=".40" stop-color="#fdb77a"/><stop offset=".45" stop-color="#f9802e"/><stop offset=".48" stop-color="#d54701"/><stop offset=".50" stop-color="#c64102"/><stop offset=".52" stop-color="#da4902"/><stop offset=".55" stop-color="#f9812f"/><stop offset=".60" stop-color="#fdb87c"/><stop offset=".67" stop-color="#fdd5ac"/><stop offset=".75" stop-color="#fedebf"/><stop offset=".88" stop-color="#fee4c9"/><stop offset="1.00" stop-color="#fee5cc"/></linearGradient><linearGradient id="g141"><stop offset=".00" stop-color="#fee7d0"/><stop offset=".12" stop-color="#fee6cd"/><stop offset=".25" stop-color="#fee2c6"/><stop offset=".33" stop-color="#fdd9b4"/><stop offset=".40" stop-color="#fdc38e"/><stop offset=".45" stop-color="#fd9142"/><stop offset=".48" stop-color="#f3701a"/><stop offset=".50" stop-color="#ec620f"/><stop offset=".52" stop-color="#f16913"/><stop offset=".55" stop-color="#fd9648"/><stop offset=".60" stop-color="#fdc794"/><stop offset=".67" stop-color="#fdd9b4"/><stop offset=".75" stop-color="#fee1c4"/><stop offset=".88" stop-color="#fee6ce"/><stop offset="1.00" stop-color="#fee7d0"/></linearGradient><linearGradient id="g142"><stop offset=".00" stop-color="#fee4ca"/><stop offset=".12" stop-color="#fee4ca"/><stop offset=".25" stop-color="#fedfc0"/><stop offset=".33" stop-color="#fdd7af"/><stop offset=".40" stop-color="#fdb779"/><stop offset=".45" stop-color="#f98230"/><stop offset=".48" stop-color="#d84801"/><stop offset=".50" stop-color="#c84202"/><stop offset=".52" stop-color="#e35609"/><stop offset=".55" stop-color="#f77b28"/><stop offset=".60" stop-color="#fdba7e"/><stop offset=".67" stop-color="#fdd5ac"/><stop offset=".75" stop-color="#fedebe"/><stop offset=".88" stop-color="#fee3c9"/><stop offset="1.00" stop-color="#fee5cc"/></linearGradient><linearGradient id="g143"><stop offset=".00" stop-color="#fee4ca"/><stop offset=".12" stop-color="#fee2c7"/><stop offset=".25" stop-color="#fedebf"/><stop offset=".33" stop-color="#fdd6ad"/><stop offset=".40" stop-color="#fdb87c"/><stop offset=".45" stop-color="#f87e2b"/><stop offset=".48" stop-color="#df5005"/><stop offset=".50" stop-color="#db4b03"/><stop offset=".52" stop-color="#dc4c03"/><stop offset=".55" stop-color="#f9812e"/><stop offset=".60" stop-color="#fdbb80"/><stop offset=".67" stop-color="#fdd5ac"/><stop offset=".75" stop-color="#fee0c1"/><stop offset=".88" stop-color="#fee3c7"/><stop offset="1.00" stop-color="#fee5cb"/></linearGradient><linearGradient id="g144"><stop offset=".00" stop-color="#fee4cb"/><stop offset=".12" stop-color="#fee4cb"/><stop offset=".25" stop-color="#fee0c3"/><stop offset=".33" stop-color="#fdd8b2"/><stop offset=".40" stop-color="#fdc18a"/><stop offset=".45" stop-color="#fc8b3a"/><stop offset=".48" stop-color="#eb610f"/><stop offset=".50" stop-color="#e5590a"/><stop offset=".52" stop-color="#ea600e"/><stop offset=".55" stop-color="#fd8d3c"/><stop offset=".60" stop-color="#fdc48f"/><stop offset=".67" stop-color="#fddab5"/><stop offset=".75" stop-color="#fee1c4"/><stop offset=".88" stop-color="#fee4c9"/><stop offset="1.00" stop-color="#fee5cb"/></linearGradient><linearGradient id="g145"><stop offset=".00" stop-color="#fee7cf"/><stop offset=".12" stop-color="#fee6ce"/><stop offset=".25" stop-color="#fee3c8"/><stop offset=".33" stop-color="#fedcba"/><stop offset=".40" stop-color="#fdcd9d"/><stop offset=".45" stop-color="#fd9e55"/><stop offset=".48" stop-color="#f36e18"/><stop offset=".50" stop-color="#f36e18"/><stop offset=".52" stop-color="#f4731e"/><stop offset=".55" stop-color="#fd9e54"/><stop offset=".60" stop-color="#fdca99"/><stop offset=".67" stop-color="#feddbb"/><stop offset=".75" stop-color="#fee3c7"/><stop offset=".88" stop-color="#fee6ce"/><stop offset="1.00" stop-color="#fee6ce"/></linearGradient><linearGradient id="g146"><stop offset=".00" stop-color="#fee5cd"/><stop offset=".12" stop-color="#fee4cb"/><stop offset=".25" stop-color="#fee1c5"/><stop offset=".33" stop-color="#feddbb"/><stop offset=".40" stop-color="#fdcb9a"/><stop offset=".45" stop-color="#fd994d"/><stop offset=".48" stop-color="#f36f1a"/><stop offset=".50" stop-color="#ef6611"/><stop offset=".52" stop-color="#f36e19"/><stop offset=".55" stop-color="#fd9a4f"/><stop offset=".60" stop-color="#fdc996"/><stop offset=".67" stop-color="#fedcba"/><stop offset=".75" stop-color="#fee3c7"/><stop offset=".88" stop-color="#fee5cc"/><stop offset="1.00" stop-color="#fee5cd"/></linearGradient><linearGradient id="g147"><stop offset=".00" stop-color="#fee6cf"/><stop offset=".12" stop-color="#fee6ce"/><stop offset=".25" stop-color="#fee4ca"/><stop offset=".33" stop-color="#feddbc"/><stop offset=".40" stop-color="#fdcfa0"/><stop offset=".45" stop-color="#fda55f"/><stop offset=".48" stop-color="#f57622"/><stop offset=".50" stop-color="#ef6611"/><stop offset=".52" stop-color="#f67824"/><stop offset=".55" stop-color="#fda55e"/><stop offset=".60" stop-color="#fdd0a2"/><stop offset=".67" stop-color="#fedebe"/><stop offset=".75" stop-color="#fee4ca"/><stop offset=".88" stop-color="#fee6cd"/><stop offset="1.00" stop-color="#fee7cf"/></linearGradient><linearGradient id="g148"><stop offset=".00" stop-color="#fee4ca"/><stop offset=".12" stop-color="#fee4c9"/><stop offset=".25" stop-color="#fee1c4"/><stop offset=".33" stop-color="#fedcb9"/><stop offset=".40" stop-color="#fdcd9e"/><stop offset=".45" stop-color="#fd9b50"/><stop offset=".48" stop-color="#f4711c"/><stop offset=".50" stop-color="#ef6611"/><stop offset=".52" stop-color="#ef6712"/><stop offset=".55" stop-color="#fd9547"/><stop offset=".60" stop-color="#fdcd9d"/><stop offset=".67" stop-color="#feddbc"/><stop offset=".75" stop-color="#fee1c5"/><stop offset=".88" stop-color="#fee3c9"/><stop offset="1.00" stop-color="#fee4c9"/></linearGradient><linearGradient id="g149"><stop offset=".00" stop-color="#fee6cf"/><stop offset=".12" stop-color="#fee6ce"/><stop offset=".25" stop-color="#fee5cb"/><stop offset=".33" stop-color="#fee1c4"/><stop offset=".40" stop-color="#fdd6ae"/><stop offset=".45" stop-color="#fdac68"/><stop offset=".48" stop-color="#fd8e3d"/><stop offset=".50" stop-color="#f98230"/><stop offset=".52" stop-color="#fc8b39"/><stop offset=".55" stop-color="#fdb06e"/><stop offset=".60" stop-color="#fdd4ab"/><stop offset=".67" stop-color="#fee1c4"/><stop offset=".75" stop-color="#fee6cd"/><stop offset=".88" stop-color="#fee6ce"/><stop offset="1.00" stop-color="#fee6cf"/></linearGradient><linearGradient id="g150"><stop offset=".00" stop-color="#fee4cb"/><stop offset=".12" stop-color="#fee4ca"/><stop offset=".25" stop-color="#fee2c6"/><stop offset=".33" stop-color="#fedebf"/><stop offset=".40" stop-color="#fdd2a6"/><stop offset=".45" stop-color="#fda863"/><stop offset=".48" stop-color="#f87f2c"/><stop offset=".50" stop-color="#f36f1a"/><stop offset=".52" stop-color="#f98230"/><stop offset=".55" stop-color="#fda35c"/><stop offset=".60" stop-color="#fdd3a8"/><stop offset=".67" stop-color="#fedfbf"/><stop offset=".75" stop-color="#fee2c6"/><stop offset=".88" stop-color="#fee5cc"/><stop offset="1.00" stop-color="#fee5cd"/></linearGradient><linearGradient id="g151"><stop offset=".00" stop-color="#fee6cf"/><stop offset=".12" stop-color="#fee5cd"/><stop offset=".25" stop-color="#fee5cc"/><stop offset=".33" stop-color="#fee0c3"/><stop offset=".40" stop-color="#fdd6ad"/><stop offset=".45" stop-color="#fdb06e"/><stop offset=".48" stop-color="#fd9041"/><stop offset=".50" stop-color="#fb8836"/><stop offset=".52" stop-color="#fd8d3d"/><stop offset=".55" stop-color="#fdb272"/><stop offset=".60" stop-color="#fdd7b0"/><stop offset=".67" stop-color="#fee1c4"/><stop offset=".75" stop-color="#fee5cb"/><stop offset=".88" stop-color="#fee5cd"/><stop offset="1.00" stop-color="#fee6cd"/></linearGradient><linearGradient id="g152"><stop offset=".00" stop-color="#fee5cc"/><stop offset=".12" stop-color="#fee5cb"/><stop offset=".25" stop-color="#fee3c8"/><stop offset=".33" stop-color="#fedfc1"/><stop offset=".40" stop-color="#fdd6ad"/><stop offset=".45" stop-color="#fdb170"/><stop offset=".48" stop-color="#fd8f3f"/><stop offset=".50" stop-color="#f9812e"/><stop offset=".52" stop-color="#fc8a39"/><stop offset=".55" stop-color="#fdab66"/><stop offset=".60" stop-color="#fdd4aa"/><stop offset=".67" stop-color="#fedfc0"/><stop offset=".75" stop-color="#fee2c7"/><stop offset=".88" stop-color="#fee4c9"/><stop offset="1.00" stop-color="#fee4cb"/></linearGradient><linearGradient id="g153"><stop offset=".00" stop-color="#fee5cd"/><stop offset=".12" stop-color="#fee4cb"/><stop offset=".25" stop-color="#fee3c9"/><stop offset=".33" stop-color="#fee1c4"/><stop offset=".40" stop-color="#fdd7b1"/><stop offset=".45" stop-color="#fdb372"/><stop offset=".48" stop-color="#fd9447"/><stop offset=".50" stop-color="#fb8837"/><stop offset=".52" stop-color="#fd9649"/><stop offset=".55" stop-color="#fdb77a"/><stop offset=".60" stop-color="#fdd7af"/><stop offset=".67" stop-color="#fee2c5"/><stop offset=".75" stop-color="#fee4ca"/><stop offset=".88" stop-color="#fee4cb"/><stop offset="1.00" stop-color="#fee5cc"/></linearGradient><linearGradient id="g154"><stop offset=".00" stop-color="#fee7cf"/><stop offset=".12" stop-color="#fee7d0"/><stop offset=".25" stop-color="#fee6ce"/><stop offset=".33" stop-color="#fee4cb"/><stop offset=".40" stop-color="#feddbd"/><stop offset=".45" stop-color="#fdc895"/><stop offset=".48" stop-color="#fdae6b"/><stop offset=".50" stop-color="#fda965"/><stop offset=".52" stop-color="#fdb06e"/><stop offset=".55" stop-color="#fdc692"/><stop offset=".60" stop-color="#feddbd"/><stop offset=".67" stop-color="#fee5cc"/><stop offset=".75" stop-color="#fee6ce"/><stop offset=".88" stop-color="#fee7d0"/><stop offset="1.00" stop-color="#fee7d0"/></linearGradient><linearGradient id="g155"><stop offset=".00" stop-color="#fee6ce"/><stop offset=".12" stop-color="#fee6cd"/><stop offset=".25" stop-color="#fee5cc"/><stop offset=".33" stop-color="#fee3c9"/><stop offset=".40" stop-color="#fedcbb"/><stop offset=".45" stop-color="#fdc997"/><stop offset=".48" stop-color="#fdab67"/><stop offset=".50" stop-color="#fda35b"/><stop offset=".52" stop-color="#fdaf6d"/><stop offset=".55" stop-color="#fdc794"/><stop offset=".60" stop-color="#feddbd"/><stop offset=".67" stop-color="#fee3c8"/><stop offset=".75" stop-color="#fee4cb"/><stop offset=".88" stop-color="#fee6cd"/><stop offset="1.00" stop-color="#fee5cd"/></linearGradient><linearGradient id="g156"><stop offset=".00" stop-color="#fee6cd"/><stop offset=".12" stop-color="#fee4ca"/><stop offset=".25" stop-color="#fee4ca"/><stop offset=".33" stop-color="#fee3c9"/><stop offset=".40" stop-color="#fedcba"/><stop offset=".45" stop-color="#fdca99"/><stop offset=".48" stop-color="#fdb373"/><stop offset=".50" stop-color="#fda55e"/><stop offset=".52" stop-color="#fdb06e"/><stop offset=".55" stop-color="#fdc895"/><stop offset=".60" stop-color="#fedebd"/><stop offset=".67" stop-color="#fee2c6"/><stop offset=".75" stop-color="#fee5cc"/><stop offset=".88" stop-color="#fee5cd"/><stop offset="1.00" stop-color="#fee5cd"/></linearGradient><linearGradient id="g157"><stop offset=".00" stop-color="#fee7d0"/><stop offset=".12" stop-color="#fee7d0"/><stop offset=".25" stop-color="#fee7d0"/><stop offset=".33" stop-color="#fee6cd"/><stop offset=".40" stop-color="#fee2c6"/><stop offset=".45" stop-color="#fdd5ac"/><stop offset=".48" stop-color="#fdc692"/><stop offset=".50" stop-color="#fdbf87"/><stop offset=".52" stop-color="#fdc793"/><stop offset=".55" stop-color="#fdd5ac"/><stop offset=".60" stop-color="#fee1c4"/><stop offset=".67" stop-color="#fee6ce"/><stop offset=".75" stop-color="#fee6cf"/><stop offset=".88" stop-color="#fee7d0"/><stop offset="1.00" stop-color="#fee7d0"/></linearGradient><linearGradient id="g158"><stop offset=".00" stop-color="#fee5cc"/><stop offset=".12" stop-color="#fee6cd"/><stop offset=".25" stop-color="#fee5cc"/><stop offset=".33" stop-color="#fee3c9"/><stop offset=".40" stop-color="#fedfc0"/><stop offset=".45" stop-color="#fdd4aa"/><stop offset=".48" stop-color="#fdc997"/><stop offset=".50" stop-color="#fdc189"/><stop offset=".52" stop-color="#fdc996"/><stop offset=".55" stop-color="#fdd5ab"/><stop offset=".60" stop-color="#fedfc1"/><stop offset=".67" stop-color="#fee4cb"/><stop offset=".75" stop-color="#fee4ca"/><stop offset=".88" stop-color="#fee5cc"/><stop offset="1.00" stop-color="#fee6cd"/></linearGradient><linearGradient id="g159"><stop offset=".00" stop-color="#fee7cf"/><stop offset=".12" stop-color="#fee6ce"/><stop offset=".25" stop-color="#fee6cf"/><stop offset=".33" stop-color="#fee6ce"/><stop offset=".40" stop-color="#fee4ca"/><stop offset=".45" stop-color="#feddbc"/><stop offset=".48" stop-color="#fdd4aa"/><stop offset=".50" stop-color="#fdd4a9"/><stop offset=".52" stop-color="#fdd5ab"/><stop offset=".55" stop-color="#feddbb"/><stop offset=".60" stop-color="#fee3c8"/><stop offset=".67" stop-color="#fee6ce"/><stop offset=".75" stop-color="#fee7cf"/><stop offset=".88" stop-color="#fee6ce"/><stop offset="1.00" stop-color="#fee7cf"/></linearGradient><linearGradient id="g160"><stop offset=".00" stop-color="#fee5cc"/><stop offset=".12" stop-color="#fee5cb"/><stop offset=".25" stop-color="#fee6cd"/><stop offset=".33" stop-color="#fee5cb"/><stop offset=".40" stop-color="#fee3c8"/><stop offset=".45" stop-color="#feddbd"/><stop offset=".48" stop-color="#fdd8b1"/><stop offset=".50" stop-color="#fdd6af"/><stop offset=".52" stop-color="#fddab5"/><stop offset=".55" stop-color="#fedebe"/><stop offset=".60" stop-color="#fee2c6"/><stop offset=".67" stop-color="#fee4ca"/><stop offset=".75" stop-color="#fee5cc"/><stop offset=".88" stop-color="#fee5cd"/><stop offset="1.00" stop-color="#fee6ce"/></linearGradient><linearGradient id="g161"><stop offset=".00" stop-color="#fee5cc"/><stop offset=".12" stop-color="#fee4ca"/><stop offset=".25" stop-color="#fee4cb"/><stop offset=".33" stop-color="#fee5cc"/><stop offset=".40" stop-color="#fee3c8"/><stop offset=".45" stop-color="#fee1c4"/><stop offset=".48" stop-color="#feddbc"/><stop offset=".50" stop-color="#feddbc"/><stop offset=".52" stop-color="#fedfc0"/><stop offset=".55" stop-color="#fee1c4"/><stop offset=".60" stop-color="#fee3c8"/><stop offset=".67" stop-color="#fee4ca"/><stop offset=".75" stop-color="#fee4cb"/><stop offset=".88" stop-color="#fee5cc"/><stop offset="1.00" stop-color="#fee5cc"/></linearGradient><linearGradient id="g162"><stop offset=".00" stop-color="#fee7d0"/><stop offset=".12" stop-color="#fee7d0"/><stop offset=".25" stop-color="#fee7d0"/><stop offset=".33" stop-color="#fee7d0"/><stop offset=".40" stop-color="#fee6ce"/><stop offset=".45" stop-color="#fee7cf"/><stop offset=".48" stop-color="#fee6cf"/><stop offset=".50" stop-color="#fee6ce"/><stop offset=".52" stop-color="#fee6cf"/><stop offset=".55" stop-color="#fee6cf"/><stop offset=".60" stop-color="#fee7cf"/><stop offset=".67" stop-color="#fee7d0"/><stop offset=".75" stop-color="#fee7d0"/><stop offset=".88" stop-color="#fee7d0"/><stop offset="1.00" stop-color="#fee7cf"/></linearGradient><linearGradient id="g163"><stop offset=".00" stop-color="#fee5cc"/><stop offset=".12" stop-color="#fee4ca"/><stop offset=".25" stop-color="#fee4c9"/><stop offset=".33" stop-color="#fee3c9"/><stop offset=".40" stop-color="#fee4c9"/><stop offset=".45" stop-color="#fee4c9"/><stop offset=".48" stop-color="#fee4c9"/><stop offset=".50" stop-color="#fee4ca"/><stop offset=".52" stop-color="#fee4ca"/><stop offset=".55" stop-color="#fee3c9"/><stop offset=".60" stop-color="#fee3c9"/><stop offset=".67" stop-color="#fee3c9"/><stop offset=".75" stop-color="#fee4ca"/><stop offset=".88" stop-color="#fee5cb"/><stop offset="1.00" stop-color="#fee4ca"/></linearGradient><linearGradient id="g164"><stop offset=".00" stop-color="#fee5cc"/><stop offset=".12" stop-color="#fee5cc"/><stop offset=".25" stop-color="#fee5cc"/><stop offset=".33" stop-color="#fee5cc"/><stop offset=".40" stop-color="#fee5cc"/><stop offset=".45" stop-color="#fee5cd"/><stop offset=".48" stop-color="#fee5cc"/><stop offset=".50" stop-color="#fee5cc"/><stop offset=".52" stop-color="#fee4ca"/><stop offset=".55" stop-color="#fee5cc"/><stop offset=".60" stop-color="#fee5cc"/><stop offset=".67" stop-color="#fee5cd"/><stop offset=".75" stop-color="#fee5cd"/><stop offset=".88" stop-color="#fee5cd"/><stop offset="1.00" stop-color="#fee6cd"/></linearGradient><linearGradient id="g165"><stop offset=".00" stop-color="#fee7cf"/><stop offset=".12" stop-color="#fee7d0"/><stop offset=".25" stop-color="#fee7d0"/><stop offset=".33" stop-color="#fee7d0"/><stop offset=".40" stop-color="#fee7d0"/><stop offset=".45" stop-color="#fee7d0"/><stop offset=".48" stop-color="#fee7d0"/><stop offset=".50" stop-color="#fee7d0"/><stop offset=".52" stop-color="#fee7d0"/><stop offset=".55" stop-color="#fee7cf"/><stop offset=".60" stop-color="#fee7d0"/><stop offset=".67" stop-color="#fee7cf"/><stop offset=".75" stop-color="#fee7d0"/><stop offset=".88" stop-color="#fee7cf"/><stop offset="1.00" stop-color="#fee7d0"/></linearGradient><linearGradient id="g166"><stop offset=".00" stop-color="#fee7d0"/><stop offset=".12" stop-color="#fee7d0"/><stop offset=".25" stop-color="#fee6cf"/><stop offset=".33" stop-color="#fee7d0"/><stop offset=".40" stop-color="#fee6cf"/><stop offset=".45" stop-color="#fee7cf"/><stop offset=".48" stop-color="#fee6cf"/><stop offset=".50" stop-color="#fee7d0"/><stop offset=".52" stop-color="#fee7cf"/><stop offset=".55" stop-color="#fee6cf"/><stop offset=".60" stop-color="#fee7d0"/><stop offset=".67" stop-color="#fee7d0"/><stop offset=".75" stop-color="#fee7d0"/><stop offset=".88" stop-color="#fee7d0"/><stop offset="1.00" stop-color="#fee7d0"/></linearGradient><linearGradient id="g167"><stop offset=".00" stop-color="#fee6cd"/><stop offset=".12" stop-color="#fee5cd"/><stop offset=".25" stop-color="#fee6cd"/><stop offset=".33" stop-color="#fee5cc"/><stop offset=".40" stop-color="#fee5cb"/><stop offset=".45" stop-color="#fee5cc"/><stop offset=".48" stop-color="#fee5cd"/><stop offset=".50" stop-color="#fee5cb"/><stop offset=".52" stop-color="#fee4cb"/><stop offset=".55" stop-color="#fee5cc"/><stop offset=".60" stop-color="#fee6cd"/><stop offset=".67" stop-color="#fee5cb"/><stop offset=".75" stop-color="#fee5cb"/><stop offset=".88" stop-color="#fee5cd"/><stop offset="1.00" stop-color="#fee6ce"/></linearGradient><linearGradient id="g168"><stop offset=".00" stop-color="#fee7cf"/><stop offset=".12" stop-color="#fee6cf"/><stop offset=".25" stop-color="#fee6cf"/><stop offset=".33" stop-color="#fee6ce"/><stop offset=".40" stop-color="#fee7cf"/><stop offset=".45" stop-color="#fee7cf"/><stop offset=".48" stop-color="#fee6cf"/><stop offset=".50" stop-color="#fee6cf"/><stop offset=".52" stop-color="#fee7cf"/><stop offset=".55" stop-color="#fee6cf"/><stop offset=".60" stop-color="#fee7cf"/><stop offset=".67" stop-color="#fee7d0"/><stop offset=".75" stop-color="#fee7cf"/><stop offset=".88" stop-color="#fee7d0"/><stop offset="1.00" stop-color="#fee7cf"/></linearGradient><linearGradient id="cbg" x1="0" y1="0" x2="0" y2="1"><stop offset="0.00" stop-color="#2a8a3e"/><stop offset="0.10" stop-color="#359349"/><stop offset="0.20" stop-color="#439d55"/><stop offset="0.30" stop-color="#57a966"/><stop offset="0.40" stop-color="#6cb477"/><stop offset="0.50" stop-color="#80c088"/><stop offset="0.60" stop-color="#9acd9f"/><stop offset="0.70" stop-color="#b4dab6"/><stop offset="0.80" stop-color="#cee7cd"/><stop offset="0.90" stop-color="#e7f3e6"/><stop offset="1.00" stop-color="#ffffff"/></linearGradient><linearGradient id="cbo" x1="0" y1="0" x2="0" y2="1"><stop offset="0.00" stop-color="#7f2704"/><stop offset="0.10" stop-color="#9e3303"/><stop offset="0.20" stop-color="#c54102"/><stop offset="0.30" stop-color="#e35508"/><stop offset="0.40" stop-color="#f3701b"/><stop offset="0.50" stop-color="#fd8d3c"/><stop offset="0.60" stop-color="#fda762"/><stop offset="0.70" stop-color="#fdc28c"/><stop offset="0.80" stop-color="#fdd9b4"/><stop offset="0.90" stop-color="#fee9d4"/><stop offset="1.00" stop-color="#fff5eb"/></linearGradient></defs><text x="0.5" y="8.8" font-size="11" font-weight="bold" fill="#000">a</text><line x1="50.2" y1="19" x2="50.2" y2="123.8" stroke="#d4d4d4" stroke-width="0.6" stroke-dasharray="1.5,1.5"/><line x1="63.72" y1="19" x2="63.72" y2="123.8" stroke="#d4d4d4" stroke-width="0.6" stroke-dasharray="1.5,1.5"/><line x1="77.25" y1="19" x2="77.25" y2="123.8" stroke="#d4d4d4" stroke-width="0.6" stroke-dasharray="1.5,1.5"/><line x1="90.77" y1="19" x2="90.77" y2="123.8" stroke="#d4d4d4" stroke-width="0.6" stroke-dasharray="1.5,1.5"/><line x1="117.83" y1="19" x2="117.83" y2="123.8" stroke="#d4d4d4" stroke-width="0.6" stroke-dasharray="1.5,1.5"/><line x1="131.35" y1="19" x2="131.35" y2="123.8" stroke="#d4d4d4" stroke-width="0.6" stroke-dasharray="1.5,1.5"/><line x1="144.88" y1="19" x2="144.88" y2="123.8" stroke="#d4d4d4" stroke-width="0.6" stroke-dasharray="1.5,1.5"/><line x1="158.4" y1="19" x2="158.4" y2="123.8" stroke="#d4d4d4" stroke-width="0.6" stroke-dasharray="1.5,1.5"/><line x1="44.6" y1="120.6" x2="164" y2="120.6" stroke="#d4d4d4" stroke-width="0.6" stroke-dasharray="1.5,1.5"/><line x1="44.6" y1="108.2" x2="164" y2="108.2" stroke="#d4d4d4" stroke-width="0.6" stroke-dasharray="1.5,1.5"/><line x1="44.6" y1="95.8" x2="164" y2="95.8" stroke="#d4d4d4" stroke-width="0.6" stroke-dasharray="1.5,1.5"/><line x1="44.6" y1="83.4" x2="164" y2="83.4" stroke="#d4d4d4" stroke-width="0.6" stroke-dasharray="1.5,1.5"/><line x1="44.6" y1="71" x2="164" y2="71" stroke="#d4d4d4" stroke-width="0.6" stroke-dasharray="1.5,1.5"/><line x1="44.6" y1="58.6" x2="164" y2="58.6" stroke="#d4d4d4" stroke-width="0.6" stroke-dasharray="1.5,1.5"/><line x1="44.6" y1="46.2" x2="164" y2="46.2" stroke="#d4d4d4" stroke-width="0.6" stroke-dasharray="1.5,1.5"/><line x1="44.6" y1="33.8" x2="164" y2="33.8" stroke="#d4d4d4" stroke-width="0.6" stroke-dasharray="1.5,1.5"/><line x1="44.6" y1="21.4" x2="164" y2="21.4" stroke="#d4d4d4" stroke-width="0.6" stroke-dasharray="1.5,1.5"/><path d="M50.2,110.18 L50.74,110.18 L51.28,110.18 L51.82,110.18 L52.36,110.18 L52.9,110.18 L53.45,110.18 L53.99,110.18 L54.53,110.18 L55.07,110.18 L55.61,110.18 L56.15,110.18 L56.69,110.18 L57.23,110.18 L57.77,110.18 L58.31,110.18 L58.86,110.18 L59.4,110.18 L59.94,110.18 L60.48,110.18 L61.02,110.18 L61.56,110.18 L62.1,110.18 L62.64,110.18 L63.18,110.18 L63.72,110.18 L64.27,110.18 L64.81,110.18 L65.35,110.18 L65.89,110.18 L66.43,110.18 L66.97,110.18 L67.51,110.18 L68.05,110.18 L68.59,110.18 L69.13,110.18 L69.68,110.18 L70.22,110.18 L70.76,110.18 L71.3,110.18 L71.84,110.18 L72.38,110.18 L72.92,110.18 L73.46,110.18 L74,110.18 L74.54,110.26 L75.09,110.3 L75.63,110.37 L76.17,110.45 L76.71,110.56 L77.25,110.68 L77.79,110.8 L78.33,110.91 L78.87,111 L79.41,111.07 L79.95,111.12 L80.5,111.16 L81.04,111.2 L81.58,111.24 L82.12,111.28 L82.66,111.34 L83.2,111.42 L83.74,111.53 L84.28,111.67 L84.82,111.85 L85.36,112.07 L85.91,112.35 L86.45,112.7 L86.99,113.1 L87.53,113.57 L88.07,114.09 L88.61,114.68 L89.15,115.3 L89.69,115.94 L90.23,116.58 L90.77,117.2 L91.32,117.78 L91.86,118.27 L92.4,118.67 L92.94,118.94 L93.48,119.08 L94.02,119.07 L94.56,118.92 L95.1,118.63 L95.64,118.22 L96.19,117.7 L96.73,117.09 L97.27,116.43 L97.81,115.73 L98.35,115.01 L98.89,114.3 L99.43,113.6 L99.97,112.93 L100.51,112.3 L101.05,111.7 L101.59,111.17 L102.14,110.7 L102.68,110.31 L103.22,110 L103.76,109.77 L104.3,109.19 L104.84,109.19 L105.38,109.19 L105.92,109.19 L106.46,109.19 L107,109.19 L107.55,109.19 L108.09,109.19 L108.63,109.19 L109.17,109.19 L109.71,109.19 L110.25,109.19 L110.79,109.19 L111.33,109.19 L111.87,109.19 L112.41,109.19 L112.96,109.19 L113.5,109.19 L114.04,109.19 L114.58,109.19 L115.12,109.19 L115.66,109.19 L116.2,109.19 L116.74,109.19 L117.28,109.19 L117.83,109.19 L118.37,109.19 L118.91,109.19 L119.45,109.19 L119.99,109.19 L120.53,109.19 L121.07,109.19 L121.61,109.19 L122.15,109.19 L122.69,109.19 L123.23,109.19 L123.78,109.19 L124.32,109.19 L124.86,109.19 L125.4,109.19 L125.94,109.19 L126.48,109.19 L127.02,109.19 L127.56,109.19 L128.1,109.19 L128.65,109.19 L129.19,109.19 L129.73,109.19 L130.27,109.19 L130.81,109.19 L131.35,109.19 L131.89,109.19 L132.43,109.19 L132.97,109.19 L133.51,109.19 L134.06,109.19 L134.6,109.19 L135.14,109.19 L135.68,109.19 L136.22,109.19 L136.76,109.19 L137.3,109.19 L137.84,109.19 L138.38,109.19 L138.92,109.19 L139.47,109.19 L140.01,109.19 L140.55,109.19 L141.09,109.19 L141.63,109.19 L142.17,109.19 L142.71,109.19 L143.25,109.19 L143.79,109.19 L144.33,109.19 L144.88,109.19 L145.42,109.19 L145.96,109.19 L146.5,109.19 L147.04,109.19 L147.58,109.19 L148.12,109.19 L148.66,109.19 L149.2,109.19 L149.74,109.19 L150.28,109.19 L150.83,109.19 L151.37,109.19 L151.91,109.19 L152.45,109.19 L152.99,109.19 L153.53,109.19 L154.07,109.19 L154.61,109.19 L155.15,109.19 L155.69,109.19 L156.24,109.19 L156.78,109.19 L157.32,109.19 L157.86,109.19 L158.4,109.19" fill="none" stroke="#7b2d8e" stroke-width="1.3" stroke-linejoin="round" stroke-dasharray="3.5,2.5"/><path d="M50.2,110.33 L50.74,110.33 L51.28,110.33 L51.82,110.33 L52.36,110.33 L52.9,110.33 L53.45,110.33 L53.99,110.33 L54.53,110.33 L55.07,110.33 L55.61,110.33 L56.15,110.33 L56.69,110.33 L57.23,110.33 L57.77,110.33 L58.31,110.33 L58.86,110.33 L59.4,110.33 L59.94,110.33 L60.48,110.33 L61.02,110.33 L61.56,110.33 L62.1,110.33 L62.64,110.33 L63.18,110.33 L63.72,110.33 L64.27,110.33 L64.81,110.33 L65.35,110.33 L65.89,110.33 L66.43,110.33 L66.97,110.33 L67.51,110.33 L68.05,110.33 L68.59,110.33 L69.13,110.33 L69.68,110.33 L70.22,110.33 L70.76,110.33 L71.3,110.33 L71.84,110.33 L72.38,110.33 L72.92,110.33 L73.46,110.33 L74,110.33 L74.54,110.41 L75.09,110.45 L75.63,110.51 L76.17,110.6 L76.71,110.71 L77.25,110.83 L77.79,110.95 L78.33,111.06 L78.87,111.15 L79.41,111.22 L79.95,111.27 L80.5,111.31 L81.04,111.35 L81.58,111.39 L82.12,111.43 L82.66,111.49 L83.2,111.57 L83.74,111.68 L84.28,111.82 L84.82,112 L85.36,112.22 L85.91,112.5 L86.45,112.84 L86.99,113.25 L87.53,113.72 L88.07,114.24 L88.61,114.82 L89.15,115.44 L89.69,116.09 L90.23,116.73 L90.77,117.35 L91.32,117.93 L91.86,118.42 L92.4,118.82 L92.94,119.09 L93.48,119.23 L94.02,119.22 L94.56,119.07 L95.1,118.78 L95.64,118.37 L96.19,117.85 L96.73,117.24 L97.27,116.58 L97.81,115.88 L98.35,115.16 L98.89,114.45 L99.43,113.75 L99.97,113.08 L100.51,112.44 L101.05,111.85 L101.59,111.32 L102.14,110.85 L102.68,110.46 L103.22,110.15 L103.76,109.92 L104.3,109.34 L104.84,109.34 L105.38,109.34 L105.92,109.34 L106.46,109.34 L107,109.34 L107.55,109.34 L108.09,109.34 L108.63,109.34 L109.17,109.34 L109.71,109.34 L110.25,109.34 L110.79,109.34 L111.33,109.34 L111.87,109.34 L112.41,109.34 L112.96,109.34 L113.5,109.34 L114.04,109.34 L114.58,109.34 L115.12,109.34 L115.66,109.34 L116.2,109.34 L116.74,109.34 L117.28,109.34 L117.83,109.34 L118.37,109.34 L118.91,109.34 L119.45,109.34 L119.99,109.34 L120.53,109.34 L121.07,109.34 L121.61,109.34 L122.15,109.34 L122.69,109.34 L123.23,109.34 L123.78,109.34 L124.32,109.34 L124.86,109.34 L125.4,109.34 L125.94,109.34 L126.48,109.34 L127.02,109.34 L127.56,109.34 L128.1,109.34 L128.65,109.34 L129.19,109.34 L129.73,109.34 L130.27,109.34 L130.81,109.34 L131.35,109.34 L131.89,109.34 L132.43,109.34 L132.97,109.34 L133.51,109.34 L134.06,109.34 L134.6,109.34 L135.14,109.34 L135.68,109.34 L136.22,109.34 L136.76,109.34 L137.3,109.34 L137.84,109.34 L138.38,109.34 L138.92,109.34 L139.47,109.34 L140.01,109.34 L140.55,109.34 L141.09,109.34 L141.63,109.34 L142.17,109.34 L142.71,109.34 L143.25,109.34 L143.79,109.34 L144.33,109.34 L144.88,109.34 L145.42,109.34 L145.96,109.34 L146.5,109.34 L147.04,109.34 L147.58,109.34 L148.12,109.34 L148.66,109.34 L149.2,109.34 L149.74,109.34 L150.28,109.34 L150.83,109.34 L151.37,109.34 L151.91,109.34 L152.45,109.34 L152.99,109.34 L153.53,109.34 L154.07,109.34 L154.61,109.34 L155.15,109.34 L155.69,109.34 L156.24,109.34 L156.78,109.34 L157.32,109.34 L157.86,109.34 L158.4,109.34" fill="none" stroke="#2a8a4a" stroke-width="1.3" stroke-linejoin="round" stroke-dasharray="3.5,2.5" stroke-dashoffset="0.5"/><path d="M50.2,104.38 L51.28,104.62 L52.36,104.82 L53.45,105.02 L54.53,105.2 L55.61,105.38 L56.69,105.56 L57.77,105.74 L58.86,105.9 L59.94,106.06 L61.02,106.2 L62.1,106.32 L63.18,106.42 L64.27,106.49 L65.35,106.53 L66.43,106.54 L67.51,106.52 L68.59,106.47 L69.68,106.4 L70.76,106.3 L71.84,106.19 L72.92,106.06 L74,105.93 L75.09,105.8 L76.17,105.68 L77.25,105.57 L78.33,105.48 L79.41,105.42 L80.5,105.38 L81.58,105.37 L82.66,105.39 L83.74,105.44 L84.82,105.52 L85.91,105.61 L86.99,105.73 L88.07,105.85 L89.15,105.99 L90.23,106.12 L91.32,106.24 L92.4,106.35 L93.48,106.44 L94.56,106.51 L95.64,106.55 L96.73,106.56 L97.81,106.55 L98.89,106.5 L99.97,106.43 L101.05,106.34 L102.14,106.22 L103.8,104.73 L103.99,100.45 L104.27,94.38 L104.59,87.34 L104.91,80.1 L105.2,73.48 L105.46,67.36 L105.7,61.2 L105.94,55.18 L106.18,49.47 L106.4,44.22 L106.62,38.93 L106.82,33.49 L107.02,28.66 L107.22,25.2 L107.4,23.88 L107.58,25.43 L107.75,29.35 L107.92,34.52 L108.07,39.85 L108.2,44.22 L108.3,47.55 L108.36,50.58 L108.42,53.44 L108.49,56.24 L108.6,59.1 L108.73,62 L108.88,64.87 L109.05,67.73 L109.28,70.6 L109.6,73.48 L110.02,76.49 L110.53,79.6 L111.1,82.68 L111.7,85.56 L112.3,87.96 L112.88,90.39 L113.45,92.18 L114.06,93.82 L114.73,95.46 L115.5,96.77 L116.33,97.9 L117.2,99.17 L118.16,99.99 L119.27,100.49 L120.6,101.29 L121.9,101.75 L123.14,102.24 L124.67,102.39 L126.84,102.37 L130,102.98 L134.92,102.91 L141.36,103.46 L148.17,104.03 L154.23,104.07 L158.4,104.47" fill="none" stroke="#2a8a4a" stroke-width="1.4" stroke-linejoin="round" /><path d="M50.2,105.15 L51.28,105.51 L52.36,105.82 L53.45,106.09 L54.53,106.31 L55.61,106.5 L56.69,106.65 L57.77,106.76 L58.86,106.84 L59.94,106.87 L61.02,106.87 L62.1,106.84 L63.18,106.78 L64.27,106.69 L65.35,106.59 L66.43,106.46 L67.51,106.34 L68.59,106.21 L69.68,106.09 L70.76,105.98 L71.84,105.89 L72.92,105.82 L74,105.78 L75.09,105.77 L76.17,105.79 L77.25,105.83 L78.33,105.9 L79.41,106 L80.5,106.11 L81.58,106.23 L82.66,106.37 L83.74,106.5 L84.82,106.62 L85.91,106.73 L86.99,106.83 L88.07,106.9 L89.15,106.95 L90.23,106.96 L91.32,106.95 L92.4,106.91 L93.48,106.84 L94.56,106.75 L95.64,106.64 L96.73,106.52 L97.81,106.39 L98.89,106.26 L99.97,106.13 L101.05,106.02 L102.14,105.92 L103.8,104.93 L103.99,101.17 L104.27,95.85 L104.59,89.67 L104.91,83.32 L105.2,77.51 L105.46,72.14 L105.7,66.74 L105.94,61.46 L106.18,56.45 L106.4,51.84 L106.62,47.2 L106.82,42.43 L107.02,38.19 L107.22,35.16 L107.4,34 L107.58,35.36 L107.75,38.8 L107.92,43.34 L108.07,48.01 L108.2,51.84 L108.3,54.76 L108.36,57.43 L108.42,59.93 L108.49,62.39 L108.6,64.9 L108.73,67.44 L108.88,69.96 L109.05,72.47 L109.28,74.98 L109.6,77.51 L110.02,80.15 L110.53,82.88 L111.1,85.58 L111.7,88.11 L112.3,90.54 L112.88,92.43 L113.45,94.15 L114.06,95.36 L114.73,96.75 L115.5,97.9 L116.33,99.15 L117.2,99.98 L118.16,100.23 L119.27,100.79 L120.6,101.32 L121.9,101.74 L123.14,102.18 L124.67,102.47 L126.84,102.54 L130,102.7 L134.92,103.26 L141.36,103.64 L148.17,104.13 L154.23,104.67 L158.4,104.78" fill="none" stroke="#7b2d8e" stroke-width="1.4" stroke-linejoin="round" /><line x1="104.3" y1="19" x2="104.3" y2="123.8" stroke="#1a1a1a" stroke-width="1.3" /><line x1="44.6" y1="19" x2="44.6" y2="123.8" stroke="#333" stroke-width="1.2" /><line x1="44.6" y1="123.8" x2="164" y2="123.8" stroke="#333" stroke-width="1.2" /><line x1="42.6" y1="120.6" x2="44.6" y2="120.6" stroke="#333" stroke-width="0.8" /><text x="41.8" y="123.7" font-size="8.6" text-anchor="end" fill="#231f20" >-0.25</text><line x1="42.6" y1="108.2" x2="44.6" y2="108.2" stroke="#333" stroke-width="0.8" /><text x="41.8" y="111.3" font-size="8.6" text-anchor="end" fill="#231f20" >0.00</text><line x1="42.6" y1="95.8" x2="44.6" y2="95.8" stroke="#333" stroke-width="0.8" /><text x="41.8" y="98.9" font-size="8.6" text-anchor="end" fill="#231f20" >0.25</text><line x1="42.6" y1="83.4" x2="44.6" y2="83.4" stroke="#333" stroke-width="0.8" /><text x="41.8" y="86.5" font-size="8.6" text-anchor="end" fill="#231f20" >0.50</text><line x1="42.6" y1="71" x2="44.6" y2="71" stroke="#333" stroke-width="0.8" /><text x="41.8" y="74.1" font-size="8.6" text-anchor="end" fill="#231f20" >0.75</text><line x1="42.6" y1="58.6" x2="44.6" y2="58.6" stroke="#333" stroke-width="0.8" /><text x="41.8" y="61.7" font-size="8.6" text-anchor="end" fill="#231f20" >1.00</text><line x1="42.6" y1="46.2" x2="44.6" y2="46.2" stroke="#333" stroke-width="0.8" /><text x="41.8" y="49.3" font-size="8.6" text-anchor="end" fill="#231f20" >1.25</text><line x1="42.6" y1="33.8" x2="44.6" y2="33.8" stroke="#333" stroke-width="0.8" /><text x="41.8" y="36.9" font-size="8.6" text-anchor="end" fill="#231f20" >1.50</text><line x1="42.6" y1="21.4" x2="44.6" y2="21.4" stroke="#333" stroke-width="0.8" /><text x="41.8" y="24.5" font-size="8.6" text-anchor="end" fill="#231f20" >1.75</text><line x1="50.2" y1="123.8" x2="50.2" y2="125.8" stroke="#333" stroke-width="0.8" /><text x="50.2" y="134.4" font-size="8.6" text-anchor="middle" fill="#231f20" >−2000</text><line x1="77.25" y1="123.8" x2="77.25" y2="125.8" stroke="#333" stroke-width="0.8" /><text x="77.25" y="134.4" font-size="8.6" text-anchor="middle" fill="#231f20" >−1000</text><line x1="104.3" y1="123.8" x2="104.3" y2="125.8" stroke="#333" stroke-width="0.8" /><text x="104.3" y="134.4" font-size="8.6" text-anchor="middle" fill="#231f20" >TSS</text><line x1="131.35" y1="123.8" x2="131.35" y2="125.8" stroke="#333" stroke-width="0.8" /><text x="131.35" y="134.4" font-size="8.6" text-anchor="middle" fill="#231f20" >1000</text><line x1="158.4" y1="123.8" x2="158.4" y2="125.8" stroke="#333" stroke-width="0.8" /><text x="158.4" y="134.4" font-size="8.6" text-anchor="middle" fill="#231f20" >2000</text><text x="101.8" y="144.7" font-size="8.6" text-anchor="middle" fill="#231f20" >Genomic Region (5' −> 3')</text><text transform="translate(9.8,75.3) rotate(-90)" font-size="8.6" text-anchor="middle" fill="#231f20" >Read count per million</text><text transform="translate(21.3,74.5) rotate(-90)" font-size="8.6" text-anchor="middle" fill="#231f20" >mapped reads</text><rect x="118.6" y="15.3" width="79.3" height="42.8" fill="#fff" stroke="#d8d8d8" stroke-width="0.8" /><line x1="122.9" y1="20.6" x2="135" y2="20.6" stroke="#7b2d8e" stroke-width="1.3" /><text x="137.9" y="23.7" font-size="8.6" text-anchor="start" fill="#231f20" >rep1 sense</text><line x1="122.9" y1="30.75" x2="135" y2="30.75" stroke="#2a8a4a" stroke-width="1.3" /><text x="137.9" y="33.85" font-size="8.6" text-anchor="start" fill="#231f20" >rep2 sense</text><line x1="122.9" y1="40.9" x2="135" y2="40.9" stroke="#7b2d8e" stroke-width="1.3" stroke-dasharray="3.5,2.5"/><text x="137.9" y="44" font-size="8.6" text-anchor="start" fill="#231f20" >rep1 antisense</text><line x1="122.9" y1="51.05" x2="135" y2="51.05" stroke="#2a8a4a" stroke-width="1.3" stroke-dasharray="3.5,2.5"/><text x="137.9" y="54.15" font-size="8.6" text-anchor="start" fill="#231f20" >rep2 antisense</text><text x="204.5" y="8.7" font-size="11" font-weight="bold" fill="#000">b</text><path d="M258.3,73.2 L308.5,73.2 A50.2,50.2 0 1 0 208.87,81.97 Z" fill="#9fc3d5" stroke="#1a1a1a" stroke-width="0.9" stroke-linejoin="round"/><path d="M258.3,73.2 L208.87,81.97 A50.2,50.2 0 0 0 210.48,88.46 Z" fill="#4a9aa3" stroke="#1a1a1a" stroke-width="0.9" stroke-linejoin="round"/><path d="M258.3,73.2 L210.48,88.46 A50.2,50.2 0 0 0 211.87,92.28 Z" fill="#4daf4a" stroke="#1a1a1a" stroke-width="0.9" stroke-linejoin="round"/><path d="M258.3,73.2 L211.87,92.28 A50.2,50.2 0 0 0 214.64,97.98 Z" fill="#e88a8e" stroke="#1a1a1a" stroke-width="0.9" stroke-linejoin="round"/><path d="M258.3,73.2 L214.64,97.98 A50.2,50.2 0 0 0 220.43,106.15 Z" fill="#e0604a" stroke="#1a1a1a" stroke-width="0.9" stroke-linejoin="round"/><path d="M258.3,73.2 L220.43,106.15 A50.2,50.2 0 0 0 236.01,118.18 Z" fill="#e8892e" stroke="#1a1a1a" stroke-width="0.9" stroke-linejoin="round"/><path d="M258.3,73.2 L236.01,118.18 A50.2,50.2 0 0 0 265.18,122.93 Z" fill="#a88bbd" stroke="#1a1a1a" stroke-width="0.9" stroke-linejoin="round"/><path d="M258.3,73.2 L265.18,122.93 A50.2,50.2 0 0 0 265.55,122.87 Z" fill="#c8b48c" stroke="#1a1a1a" stroke-width="0.9" stroke-linejoin="round"/><path d="M258.3,73.2 L265.55,122.87 A50.2,50.2 0 0 0 308.5,73.2 Z" fill="#a0522d" stroke="#1a1a1a" stroke-width="0.9" stroke-linejoin="round"/><rect x="317.3" y="26" width="4.6" height="4.6" fill="#9fc3d5" stroke="#222" stroke-width="0.7" /><text x="325.9" y="31.4" font-size="8.6" text-anchor="start" fill="#231f20" >Promoter (52.79%)</text><rect x="317.3" y="37.63" width="4.6" height="4.6" fill="#4a9aa3" stroke="#222" stroke-width="0.7" /><text x="325.9" y="43.03" font-size="8.6" text-anchor="start" fill="#231f20" >5' UTR (2.12%)</text><rect x="317.3" y="49.26" width="4.6" height="4.6" fill="#4daf4a" stroke="#222" stroke-width="0.7" /><text x="325.9" y="54.66" font-size="8.6" text-anchor="start" fill="#231f20" >3' UTR (1.29%)</text><rect x="317.3" y="60.89" width="4.6" height="4.6" fill="#e88a8e" stroke="#222" stroke-width="0.7" /><text x="325.9" y="66.29" font-size="8.6" text-anchor="start" fill="#231f20" >1st Exon (2.01%)</text><rect x="317.3" y="72.52" width="4.6" height="4.6" fill="#e0604a" stroke="#222" stroke-width="0.7" /><text x="325.9" y="77.92" font-size="8.6" text-anchor="start" fill="#231f20" >Other Exon (3.18%)</text><rect x="317.3" y="84.15" width="4.6" height="4.6" fill="#e8892e" stroke="#222" stroke-width="0.7" /><text x="325.9" y="89.55" font-size="8.6" text-anchor="start" fill="#231f20" >1st Intron (6.28%)</text><rect x="317.3" y="95.78" width="4.6" height="4.6" fill="#a88bbd" stroke="#222" stroke-width="0.7" /><text x="325.9" y="101.18" font-size="8.6" text-anchor="start" fill="#231f20" >Other Intron (9.51%)</text><rect x="317.3" y="107.41" width="4.6" height="4.6" fill="#c8b48c" stroke="#222" stroke-width="0.7" /><text x="325.9" y="112.81" font-size="8.6" text-anchor="start" fill="#231f20" >Downstream (≤300) (0.12%)</text><rect x="317.3" y="119.04" width="4.6" height="4.6" fill="#a0522d" stroke="#222" stroke-width="0.7" /><text x="325.9" y="124.44" font-size="8.6" text-anchor="start" fill="#231f20" >Distal Intergenic (22.69%)</text><text x="436.5" y="8.5" font-size="10.5" font-weight="bold" fill="#000">c</text><path d="M464.72,88.17 L467,87.41 L469.85,76.4 L472.13,80.2 L474.59,84.94 L477.06,83.42 L479.72,85.32 L485.03,86.27 L487.87,81.15 L490.72,79.25 L493.57,77.35 L496.79,76.4 L498.69,70.71 L500.59,47.94 L502.11,33.71 L503.62,47.94 L505.52,70.71 L507.42,77.35 L510.65,82.09 L514.44,85.89 L518.24,86.27 L521.08,83.61 L523.93,82.09 L526.77,86.84 L529.62,88.74 L532.47,83.99 L534.74,88.74 L538.16,86.84 L539.68,87.41" fill="none" stroke="#238b45" stroke-width="1.2" stroke-linejoin="round" /><path d="M464.72,87.67 L467,86.91 L469.85,75.9 L472.13,79.7 L474.59,84.44 L477.06,82.92 L479.72,84.82 L485.03,85.77 L487.87,80.65 L490.72,78.75 L493.57,76.85 L496.79,75.9 L498.69,70.21 L500.59,47.44 L502.11,33.21 L503.62,47.44 L505.52,70.21 L507.42,76.85 L510.65,81.59 L514.44,85.39 L518.24,85.77 L521.08,83.11 L523.93,81.59 L526.77,86.34 L529.62,88.24 L532.47,83.49 L534.74,88.24 L538.16,86.34 L539.68,86.91" fill="none" stroke="#7ccd6e" stroke-width="2.2" stroke-linejoin="round" /><rect x="464.2" y="29.4" width="75.5" height="63" fill="none" stroke="#222" stroke-width="1" /><line x1="462.2" y1="77.44" x2="464.2" y2="77.44" stroke="#222" stroke-width="0.8" /><text x="461.7" y="80.54" font-size="8.6" text-anchor="end" fill="#231f20" >20</text><line x1="462.2" y1="61.48" x2="464.2" y2="61.48" stroke="#222" stroke-width="0.8" /><text x="461.7" y="64.58" font-size="8.6" text-anchor="end" fill="#231f20" >40</text><line x1="462.2" y1="45.52" x2="464.2" y2="45.52" stroke="#222" stroke-width="0.8" /><text x="461.7" y="48.62" font-size="8.6" text-anchor="end" fill="#231f20" >60</text><line x1="464.2" y1="92.4" x2="464.2" y2="94.4" stroke="#222" stroke-width="0.8" /><text x="468.9" y="105.3" font-size="8.6" text-anchor="middle" fill="#231f20" >-2 kb</text><line x1="501.95" y1="92.4" x2="501.95" y2="94.4" stroke="#222" stroke-width="0.8" /><text x="501.95" y="105.3" font-size="8.6" text-anchor="middle" fill="#231f20" >center</text><line x1="539.7" y1="92.4" x2="539.7" y2="94.4" stroke="#222" stroke-width="0.8" /><text x="534.2" y="105.3" font-size="8.6" text-anchor="middle" fill="#231f20" >2 kb</text><text x="502" y="25.5" font-size="8.6" text-anchor="middle" fill="#231f20" >UTP15 CLIP-seq</text><text transform="translate(449.2,67) rotate(-90)" font-size="8.6" text-anchor="middle" fill="#231f20" >Relative read density</text><line x1="505.9" y1="36" x2="517.3" y2="36" stroke="#238b45" stroke-width="1.5" /><text x="517.7" y="39.1" font-size="8.6" text-anchor="start" fill="#231f20" >Rep1</text><line x1="505.9" y1="47" x2="517.3" y2="47" stroke="#7ccd6e" stroke-width="1.5" /><text x="517.7" y="50.1" font-size="8.6" text-anchor="start" fill="#231f20" >Rep2</text><path d="M583.46,86.74 L588.21,87.31 L592,88.07 L596.75,86.74 L602.06,85.79 L606.23,82.94 L610.03,78.2 L613.82,68.71 L617.62,53.53 L620.46,37.4 L621.03,33.61 L623.31,42.15 L626.16,59.22 L629.95,74.4 L633.75,80.1 L638.49,85.79 L644.18,87.69 L647.98,89.58 L652.72,88.07 L658.98,88.07" fill="none" stroke="#8c3d2b" stroke-width="1.2" stroke-linejoin="round" /><path d="M583.46,86.34 L588.21,86.91 L592,87.67 L596.75,86.34 L602.06,85.39 L606.23,82.54 L610.03,77.8 L613.82,68.31 L617.62,53.13 L620.46,37 L621.03,33.21 L623.31,41.75 L626.16,58.82 L629.95,74 L633.75,79.7 L638.49,85.39 L644.18,87.29 L647.98,89.18 L652.72,87.67 L658.98,87.67" fill="none" stroke="#f07f30" stroke-width="2.4" stroke-linejoin="round" /><rect x="583.5" y="29.4" width="75.5" height="63" fill="none" stroke="#222" stroke-width="1" /><line x1="581.5" y1="91.7" x2="583.5" y2="91.7" stroke="#222" stroke-width="0.8" /><text x="579.3" y="94.8" font-size="8.6" text-anchor="end" fill="#231f20" >2.5</text><line x1="581.5" y1="77.8" x2="583.5" y2="77.8" stroke="#222" stroke-width="0.8" /><text x="579.3" y="80.9" font-size="8.6" text-anchor="end" fill="#231f20" >5.0</text><line x1="581.5" y1="63.9" x2="583.5" y2="63.9" stroke="#222" stroke-width="0.8" /><text x="579.3" y="67" font-size="8.6" text-anchor="end" fill="#231f20" >7.5</text><line x1="581.5" y1="50" x2="583.5" y2="50" stroke="#222" stroke-width="0.8" /><text x="579.3" y="53.1" font-size="8.6" text-anchor="end" fill="#231f20" >10.0</text><line x1="581.5" y1="36.1" x2="583.5" y2="36.1" stroke="#222" stroke-width="0.8" /><text x="579.3" y="39.2" font-size="8.6" text-anchor="end" fill="#231f20" >12.5</text><line x1="583.5" y1="92.4" x2="583.5" y2="94.4" stroke="#222" stroke-width="0.8" /><text x="588.2" y="105.3" font-size="8.6" text-anchor="middle" fill="#231f20" >-2 kb</text><line x1="621.25" y1="92.4" x2="621.25" y2="94.4" stroke="#222" stroke-width="0.8" /><text x="621.25" y="105.3" font-size="8.6" text-anchor="middle" fill="#231f20" >center</text><line x1="659" y1="92.4" x2="659" y2="94.4" stroke="#222" stroke-width="0.8" /><text x="653.5" y="105.3" font-size="8.6" text-anchor="middle" fill="#231f20" >2 kb</text><text x="622.4" y="25.5" font-size="8.6" text-anchor="middle" fill="#231f20" >UTP15 ChIP-seq</text><line x1="626.2" y1="35.3" x2="637" y2="35.3" stroke="#8c3d2b" stroke-width="1.5" /><text x="637.5" y="38.4" font-size="8.6" text-anchor="start" fill="#231f20" >Rep1</text><line x1="626.2" y1="45.5" x2="637" y2="45.5" stroke="#f07f30" stroke-width="1.5" /><text x="637.5" y="48.6" font-size="8.6" text-anchor="start" fill="#231f20" >Rep2</text><rect x="464.2" y="120.4" width="75.5" height="2.31" fill="url(#g1)"/><rect x="464.2" y="122.41" width="75.5" height="2.31" fill="url(#g2)"/><rect x="464.2" y="124.41" width="75.5" height="2.31" fill="url(#g3)"/><rect x="464.2" y="126.42" width="75.5" height="2.31" fill="url(#g4)"/><rect x="464.2" y="128.43" width="75.5" height="2.31" fill="url(#g5)"/><rect x="464.2" y="130.44" width="75.5" height="2.31" fill="url(#g6)"/><rect x="464.2" y="132.44" width="75.5" height="2.31" fill="url(#g7)"/><rect x="464.2" y="134.45" width="75.5" height="2.31" fill="url(#g8)"/><rect x="464.2" y="136.46" width="75.5" height="2.31" fill="url(#g9)"/><rect x="464.2" y="138.46" width="75.5" height="2.31" fill="url(#g10)"/><rect x="464.2" y="140.47" width="75.5" height="2.31" fill="url(#g11)"/><rect x="464.2" y="142.48" width="75.5" height="2.31" fill="url(#g12)"/><rect x="464.2" y="144.49" width="75.5" height="2.31" fill="url(#g13)"/><rect x="464.2" y="146.49" width="75.5" height="2.31" fill="url(#g14)"/><rect x="464.2" y="148.5" width="75.5" height="2.31" fill="url(#g15)"/><rect x="464.2" y="150.51" width="75.5" height="2.31" fill="url(#g16)"/><rect x="464.2" y="152.51" width="75.5" height="2.31" fill="url(#g17)"/><rect x="464.2" y="154.52" width="75.5" height="2.31" fill="url(#g18)"/><rect x="464.2" y="156.53" width="75.5" height="2.31" fill="url(#g19)"/><rect x="464.2" y="158.54" width="75.5" height="2.31" fill="url(#g20)"/><rect x="464.2" y="160.54" width="75.5" height="2.31" fill="url(#g21)"/><rect x="464.2" y="162.55" width="75.5" height="2.31" fill="url(#g22)"/><rect x="464.2" y="164.56" width="75.5" height="2.31" fill="url(#g23)"/><rect x="464.2" y="166.56" width="75.5" height="2.31" fill="url(#g24)"/><rect x="464.2" y="168.57" width="75.5" height="2.31" fill="url(#g25)"/><rect x="464.2" y="170.58" width="75.5" height="2.31" fill="url(#g26)"/><rect x="464.2" y="172.59" width="75.5" height="2.31" fill="url(#g27)"/><rect x="464.2" y="174.59" width="75.5" height="2.31" fill="url(#g28)"/><rect x="464.2" y="176.6" width="75.5" height="2.31" fill="url(#g29)"/><rect x="464.2" y="178.61" width="75.5" height="2.31" fill="url(#g30)"/><rect x="464.2" y="180.61" width="75.5" height="2.31" fill="url(#g31)"/><rect x="464.2" y="182.62" width="75.5" height="2.31" fill="url(#g32)"/><rect x="464.2" y="184.63" width="75.5" height="2.31" fill="url(#g33)"/><rect x="464.2" y="186.64" width="75.5" height="2.31" fill="url(#g34)"/><rect x="464.2" y="188.64" width="75.5" height="2.31" fill="url(#g35)"/><rect x="464.2" y="190.65" width="75.5" height="2.31" fill="url(#g36)"/><rect x="464.2" y="192.66" width="75.5" height="2.31" fill="url(#g37)"/><rect x="464.2" y="194.66" width="75.5" height="2.31" fill="url(#g38)"/><rect x="464.2" y="196.67" width="75.5" height="2.31" fill="url(#g39)"/><rect x="464.2" y="198.68" width="75.5" height="2.31" fill="url(#g40)"/><rect x="464.2" y="200.69" width="75.5" height="2.31" fill="url(#g41)"/><rect x="464.2" y="202.69" width="75.5" height="2.31" fill="url(#g42)"/><rect x="464.2" y="204.7" width="75.5" height="2.32" fill="url(#g43)"/><rect x="464.2" y="206.72" width="75.5" height="2.32" fill="url(#g44)"/><rect x="464.2" y="208.75" width="75.5" height="2.32" fill="url(#g45)"/><rect x="464.2" y="210.77" width="75.5" height="2.32" fill="url(#g46)"/><rect x="464.2" y="212.8" width="75.5" height="2.32" fill="url(#g47)"/><rect x="464.2" y="214.82" width="75.5" height="2.32" fill="url(#g48)"/><rect x="464.2" y="216.84" width="75.5" height="2.32" fill="url(#g49)"/><rect x="464.2" y="218.87" width="75.5" height="2.32" fill="url(#g50)"/><rect x="464.2" y="220.89" width="75.5" height="2.32" fill="url(#g51)"/><rect x="464.2" y="222.91" width="75.5" height="2.32" fill="url(#g52)"/><rect x="464.2" y="224.94" width="75.5" height="2.32" fill="url(#g53)"/><rect x="464.2" y="226.96" width="75.5" height="2.32" fill="url(#g54)"/><rect x="464.2" y="228.99" width="75.5" height="2.32" fill="url(#g55)"/><rect x="464.2" y="231.01" width="75.5" height="2.32" fill="url(#g56)"/><rect x="464.2" y="233.03" width="75.5" height="2.32" fill="url(#g57)"/><rect x="464.2" y="235.06" width="75.5" height="2.32" fill="url(#g58)"/><rect x="464.2" y="237.08" width="75.5" height="2.32" fill="url(#g59)"/><rect x="464.2" y="239.1" width="75.5" height="2.32" fill="url(#g60)"/><rect x="464.2" y="241.13" width="75.5" height="2.32" fill="url(#g61)"/><rect x="464.2" y="243.15" width="75.5" height="2.32" fill="url(#g62)"/><rect x="464.2" y="245.18" width="75.5" height="2.32" fill="url(#g63)"/><rect x="464.2" y="247.2" width="75.5" height="2.32" fill="url(#g64)"/><rect x="464.2" y="249.22" width="75.5" height="2.32" fill="url(#g65)"/><rect x="464.2" y="251.25" width="75.5" height="2.32" fill="url(#g66)"/><rect x="464.2" y="253.27" width="75.5" height="2.32" fill="url(#g67)"/><rect x="464.2" y="255.3" width="75.5" height="2.32" fill="url(#g68)"/><rect x="464.2" y="257.32" width="75.5" height="2.32" fill="url(#g69)"/><rect x="464.2" y="259.34" width="75.5" height="2.32" fill="url(#g70)"/><rect x="464.2" y="261.37" width="75.5" height="2.32" fill="url(#g71)"/><rect x="464.2" y="263.39" width="75.5" height="2.32" fill="url(#g72)"/><rect x="464.2" y="265.41" width="75.5" height="2.32" fill="url(#g73)"/><rect x="464.2" y="267.44" width="75.5" height="2.32" fill="url(#g74)"/><rect x="464.2" y="269.46" width="75.5" height="2.32" fill="url(#g75)"/><rect x="464.2" y="271.49" width="75.5" height="2.32" fill="url(#g76)"/><rect x="464.2" y="273.51" width="75.5" height="2.32" fill="url(#g77)"/><rect x="464.2" y="275.53" width="75.5" height="2.32" fill="url(#g78)"/><rect x="464.2" y="277.56" width="75.5" height="2.32" fill="url(#g79)"/><rect x="464.2" y="279.58" width="75.5" height="2.32" fill="url(#g80)"/><rect x="464.2" y="281.6" width="75.5" height="2.32" fill="url(#g81)"/><rect x="464.2" y="283.63" width="75.5" height="2.32" fill="url(#g82)"/><rect x="464.2" y="285.65" width="75.5" height="2.32" fill="url(#g83)"/><rect x="464.2" y="287.68" width="75.5" height="2.32" fill="url(#g84)"/><rect x="464.2" y="120.4" width="75.5" height="169.3" fill="none" stroke="#1a1a1a" stroke-width="1" /><line x1="464.2" y1="204.7" x2="539.7" y2="204.7" stroke="#000" stroke-width="2.2" /><rect x="583.7" y="121" width="75.8" height="2.3" fill="url(#g85)"/><rect x="583.7" y="123" width="75.8" height="2.3" fill="url(#g86)"/><rect x="583.7" y="125" width="75.8" height="2.3" fill="url(#g87)"/><rect x="583.7" y="127" width="75.8" height="2.3" fill="url(#g88)"/><rect x="583.7" y="129" width="75.8" height="2.3" fill="url(#g89)"/><rect x="583.7" y="131" width="75.8" height="2.3" fill="url(#g90)"/><rect x="583.7" y="133" width="75.8" height="2.3" fill="url(#g91)"/><rect x="583.7" y="135" width="75.8" height="2.3" fill="url(#g92)"/><rect x="583.7" y="137" width="75.8" height="2.3" fill="url(#g93)"/><rect x="583.7" y="139" width="75.8" height="2.3" fill="url(#g94)"/><rect x="583.7" y="141" width="75.8" height="2.3" fill="url(#g95)"/><rect x="583.7" y="143" width="75.8" height="2.3" fill="url(#g96)"/><rect x="583.7" y="145" width="75.8" height="2.3" fill="url(#g97)"/><rect x="583.7" y="147" width="75.8" height="2.3" fill="url(#g98)"/><rect x="583.7" y="149" width="75.8" height="2.3" fill="url(#g99)"/><rect x="583.7" y="151" width="75.8" height="2.3" fill="url(#g100)"/><rect x="583.7" y="153" width="75.8" height="2.3" fill="url(#g101)"/><rect x="583.7" y="155" width="75.8" height="2.3" fill="url(#g102)"/><rect x="583.7" y="157" width="75.8" height="2.3" fill="url(#g103)"/><rect x="583.7" y="159" width="75.8" height="2.3" fill="url(#g104)"/><rect x="583.7" y="161" width="75.8" height="2.3" fill="url(#g105)"/><rect x="583.7" y="163" width="75.8" height="2.3" fill="url(#g106)"/><rect x="583.7" y="165" width="75.8" height="2.3" fill="url(#g107)"/><rect x="583.7" y="167" width="75.8" height="2.3" fill="url(#g108)"/><rect x="583.7" y="169" width="75.8" height="2.3" fill="url(#g109)"/><rect x="583.7" y="171" width="75.8" height="2.3" fill="url(#g110)"/><rect x="583.7" y="173" width="75.8" height="2.3" fill="url(#g111)"/><rect x="583.7" y="175" width="75.8" height="2.3" fill="url(#g112)"/><rect x="583.7" y="177" width="75.8" height="2.3" fill="url(#g113)"/><rect x="583.7" y="179" width="75.8" height="2.3" fill="url(#g114)"/><rect x="583.7" y="181" width="75.8" height="2.3" fill="url(#g115)"/><rect x="583.7" y="183" width="75.8" height="2.3" fill="url(#g116)"/><rect x="583.7" y="185" width="75.8" height="2.3" fill="url(#g117)"/><rect x="583.7" y="187" width="75.8" height="2.3" fill="url(#g118)"/><rect x="583.7" y="189" width="75.8" height="2.3" fill="url(#g119)"/><rect x="583.7" y="191" width="75.8" height="2.3" fill="url(#g120)"/><rect x="583.7" y="193" width="75.8" height="2.3" fill="url(#g121)"/><rect x="583.7" y="195" width="75.8" height="2.3" fill="url(#g122)"/><rect x="583.7" y="197" width="75.8" height="2.3" fill="url(#g123)"/><rect x="583.7" y="199" width="75.8" height="2.3" fill="url(#g124)"/><rect x="583.7" y="201" width="75.8" height="2.3" fill="url(#g125)"/><rect x="583.7" y="203" width="75.8" height="2.3" fill="url(#g126)"/><rect x="583.7" y="205" width="75.8" height="2.31" fill="url(#g127)"/><rect x="583.7" y="207.01" width="75.8" height="2.31" fill="url(#g128)"/><rect x="583.7" y="209.02" width="75.8" height="2.31" fill="url(#g129)"/><rect x="583.7" y="211.04" width="75.8" height="2.31" fill="url(#g130)"/><rect x="583.7" y="213.05" width="75.8" height="2.31" fill="url(#g131)"/><rect x="583.7" y="215.06" width="75.8" height="2.31" fill="url(#g132)"/><rect x="583.7" y="217.07" width="75.8" height="2.31" fill="url(#g133)"/><rect x="583.7" y="219.08" width="75.8" height="2.31" fill="url(#g134)"/><rect x="583.7" y="221.1" width="75.8" height="2.31" fill="url(#g135)"/><rect x="583.7" y="223.11" width="75.8" height="2.31" fill="url(#g136)"/><rect x="583.7" y="225.12" width="75.8" height="2.31" fill="url(#g137)"/><rect x="583.7" y="227.13" width="75.8" height="2.31" fill="url(#g138)"/><rect x="583.7" y="229.14" width="75.8" height="2.31" fill="url(#g139)"/><rect x="583.7" y="231.15" width="75.8" height="2.31" fill="url(#g140)"/><rect x="583.7" y="233.17" width="75.8" height="2.31" fill="url(#g141)"/><rect x="583.7" y="235.18" width="75.8" height="2.31" fill="url(#g142)"/><rect x="583.7" y="237.19" width="75.8" height="2.31" fill="url(#g143)"/><rect x="583.7" y="239.2" width="75.8" height="2.31" fill="url(#g144)"/><rect x="583.7" y="241.21" width="75.8" height="2.31" fill="url(#g145)"/><rect x="583.7" y="243.23" width="75.8" height="2.31" fill="url(#g146)"/><rect x="583.7" y="245.24" width="75.8" height="2.31" fill="url(#g147)"/><rect x="583.7" y="247.25" width="75.8" height="2.31" fill="url(#g148)"/><rect x="583.7" y="249.26" width="75.8" height="2.31" fill="url(#g149)"/><rect x="583.7" y="251.27" width="75.8" height="2.31" fill="url(#g150)"/><rect x="583.7" y="253.29" width="75.8" height="2.31" fill="url(#g151)"/><rect x="583.7" y="255.3" width="75.8" height="2.31" fill="url(#g152)"/><rect x="583.7" y="257.31" width="75.8" height="2.31" fill="url(#g153)"/><rect x="583.7" y="259.32" width="75.8" height="2.31" fill="url(#g154)"/><rect x="583.7" y="261.33" width="75.8" height="2.31" fill="url(#g155)"/><rect x="583.7" y="263.35" width="75.8" height="2.31" fill="url(#g156)"/><rect x="583.7" y="265.36" width="75.8" height="2.31" fill="url(#g157)"/><rect x="583.7" y="267.37" width="75.8" height="2.31" fill="url(#g158)"/><rect x="583.7" y="269.38" width="75.8" height="2.31" fill="url(#g159)"/><rect x="583.7" y="271.39" width="75.8" height="2.31" fill="url(#g160)"/><rect x="583.7" y="273.4" width="75.8" height="2.31" fill="url(#g161)"/><rect x="583.7" y="275.42" width="75.8" height="2.31" fill="url(#g162)"/><rect x="583.7" y="277.43" width="75.8" height="2.31" fill="url(#g163)"/><rect x="583.7" y="279.44" width="75.8" height="2.31" fill="url(#g164)"/><rect x="583.7" y="281.45" width="75.8" height="2.31" fill="url(#g165)"/><rect x="583.7" y="283.46" width="75.8" height="2.31" fill="url(#g166)"/><rect x="583.7" y="285.48" width="75.8" height="2.31" fill="url(#g167)"/><rect x="583.7" y="287.49" width="75.8" height="2.31" fill="url(#g168)"/><rect x="583.7" y="121" width="75.8" height="168.5" fill="none" stroke="#1a1a1a" stroke-width="1" /><line x1="583.7" y1="205" x2="659.5" y2="205" stroke="#000" stroke-width="2.2" /><rect x="542.6" y="120.6" width="7.4" height="169" fill="url(#cbg)" stroke="#222" stroke-width="1"/><line x1="550" y1="289.1" x2="552.2" y2="289.1" stroke="#222" stroke-width="0.8" /><text x="553" y="292.2" font-size="8.6" text-anchor="start" fill="#231f20" >0</text><line x1="550" y1="260.9" x2="552.2" y2="260.9" stroke="#222" stroke-width="0.8" /><text x="553" y="264" font-size="8.6" text-anchor="start" fill="#231f20" >10</text><line x1="550" y1="232.7" x2="552.2" y2="232.7" stroke="#222" stroke-width="0.8" /><text x="553" y="235.8" font-size="8.6" text-anchor="start" fill="#231f20" >20</text><line x1="550" y1="204.5" x2="552.2" y2="204.5" stroke="#222" stroke-width="0.8" /><text x="553" y="207.6" font-size="8.6" text-anchor="start" fill="#231f20" >30</text><line x1="550" y1="176.3" x2="552.2" y2="176.3" stroke="#222" stroke-width="0.8" /><text x="553" y="179.4" font-size="8.6" text-anchor="start" fill="#231f20" >40</text><line x1="550" y1="148.1" x2="552.2" y2="148.1" stroke="#222" stroke-width="0.8" /><text x="553" y="151.2" font-size="8.6" text-anchor="start" fill="#231f20" >50</text><rect x="660.2" y="121" width="1.6" height="168.5" fill="#b8b8b8"/><rect x="662.2" y="121.2" width="8" height="168" fill="url(#cbo)" stroke="#222" stroke-width="1"/><line x1="670.2" y1="288.5" x2="672.4" y2="288.5" stroke="#222" stroke-width="0.8" /><text x="673" y="291.6" font-size="8.6" text-anchor="start" fill="#231f20" >0</text><line x1="670.2" y1="246.8" x2="672.4" y2="246.8" stroke="#222" stroke-width="0.8" /><text x="673" y="249.9" font-size="8.6" text-anchor="start" fill="#231f20" >5</text><line x1="670.2" y1="205.1" x2="672.4" y2="205.1" stroke="#222" stroke-width="0.8" /><text x="673" y="208.2" font-size="8.6" text-anchor="start" fill="#231f20" >10</text><line x1="670.2" y1="163.4" x2="672.4" y2="163.4" stroke="#222" stroke-width="0.8" /><text x="673" y="166.5" font-size="8.6" text-anchor="start" fill="#231f20" >15</text><line x1="670.2" y1="121.7" x2="672.4" y2="121.7" stroke="#222" stroke-width="0.8" /><text x="673" y="124.8" font-size="8.6" text-anchor="start" fill="#231f20" >20</text><text x="501.95" y="115.5" font-size="8.6" text-anchor="middle" fill="#231f20" >UTP15 ChIP peaks</text><text x="501.95" y="309.2" font-size="8.6" text-anchor="middle" fill="#231f20" >UTP15 ChIP peaks</text><line x1="464.2" y1="289.6" x2="464.2" y2="291.6" stroke="#222" stroke-width="0.8" /><text x="468.9" y="299.7" font-size="8.6" text-anchor="middle" fill="#231f20" >-2 kb</text><line x1="501.95" y1="289.6" x2="501.95" y2="291.6" stroke="#222" stroke-width="0.8" /><text x="501.95" y="299.7" font-size="8.6" text-anchor="middle" fill="#231f20" >center</text><line x1="539.7" y1="289.6" x2="539.7" y2="291.6" stroke="#222" stroke-width="0.8" /><text x="534.4" y="299.7" font-size="8.6" text-anchor="middle" fill="#231f20" >2 kb</text><text x="621.6" y="114.5" font-size="8.6" text-anchor="middle" fill="#231f20" >UTP15 CLIP peaks</text><text x="621.6" y="309.1" font-size="8.6" text-anchor="middle" fill="#231f20" >UTP15 CLIP peaks</text><line x1="583.7" y1="289.6" x2="583.7" y2="291.6" stroke="#222" stroke-width="0.8" /><text x="588.4" y="299.7" font-size="8.6" text-anchor="middle" fill="#231f20" >-2 kb</text><line x1="621.6" y1="289.6" x2="621.6" y2="291.6" stroke="#222" stroke-width="0.8" /><text x="621.6" y="299.7" font-size="8.6" text-anchor="middle" fill="#231f20" >center</text><line x1="659.5" y1="289.6" x2="659.5" y2="291.6" stroke="#222" stroke-width="0.8" /><text x="654.2" y="299.7" font-size="8.6" text-anchor="middle" fill="#231f20" >2 kb</text><text transform="translate(459.6,163) rotate(-90)" font-size="8.6" text-anchor="middle" fill="#231f20" >Rep1</text><text transform="translate(459.6,240.5) rotate(-90)" font-size="8.6" text-anchor="middle" fill="#231f20" >Rep2</text><text transform="translate(579.5,164) rotate(-90)" font-size="8.6" text-anchor="middle" fill="#231f20" >Rep1</text><text transform="translate(579.5,240.5) rotate(-90)" font-size="8.6" text-anchor="middle" fill="#231f20" >Rep2</text><text x="1" y="161.3" font-size="11" font-weight="bold" fill="#000">d</text><text x="63.6" y="175.6" font-size="8.6" text-anchor="middle" fill="#231f20" >UTP15 ChIP-seq</text><text x="63.6" y="184.8" font-size="8.6" text-anchor="middle" fill="#231f20" >(Promoter, rep1)</text><rect x="37.7" y="192.6" width="51.1" height="71.3" fill="none" stroke="#333" stroke-width="1" /><line x1="36.5" y1="255.2" x2="40.2" y2="255.2" stroke="#333" stroke-width="0.8" /><text x="36" y="258.3" font-size="8.6" text-anchor="end" fill="#231f20" >1</text><line x1="36.5" y1="244.9" x2="40.2" y2="244.9" stroke="#333" stroke-width="0.8" /><text x="36" y="248" font-size="8.6" text-anchor="end" fill="#231f20" >2</text><line x1="36.5" y1="234.6" x2="40.2" y2="234.6" stroke="#333" stroke-width="0.8" /><text x="36" y="237.7" font-size="8.6" text-anchor="end" fill="#231f20" >3</text><line x1="36.5" y1="224.3" x2="40.2" y2="224.3" stroke="#333" stroke-width="0.8" /><text x="36" y="227.4" font-size="8.6" text-anchor="end" fill="#231f20" >4</text><line x1="36.5" y1="214" x2="40.2" y2="214" stroke="#333" stroke-width="0.8" /><text x="36" y="217.1" font-size="8.6" text-anchor="end" fill="#231f20" >5</text><line x1="36.5" y1="203.7" x2="40.2" y2="203.7" stroke="#333" stroke-width="0.8" /><text x="36" y="206.8" font-size="8.6" text-anchor="end" fill="#231f20" >6</text><text transform="translate(25.7,228) rotate(-90)" font-size="8.6" text-anchor="middle" fill="#231f20">Log<tspan font-size="6" dy="2">2</tspan><tspan dy="-2">(Signal Intensity)</tspan></text><line x1="50.5" y1="258.29" x2="50.5" y2="199.58" stroke="#555" stroke-width="0.8" /><line x1="46.5" y1="258.29" x2="54.5" y2="258.29" stroke="#555" stroke-width="0.8" /><line x1="46.5" y1="199.58" x2="54.5" y2="199.58" stroke="#555" stroke-width="0.8" /><rect x="42.4" y="220.18" width="16.2" height="15.96" fill="#8fa3cc" stroke="#555" stroke-width="0.8" /><line x1="42.4" y1="226.36" x2="58.6" y2="226.36" stroke="#444" stroke-width="0.9" /><line x1="76.5" y1="261.89" x2="76.5" y2="200.61" stroke="#555" stroke-width="0.8" /><line x1="72.5" y1="261.89" x2="80.5" y2="261.89" stroke="#555" stroke-width="0.8" /><line x1="72.5" y1="200.61" x2="80.5" y2="200.61" stroke="#555" stroke-width="0.8" /><rect x="68.4" y="222.75" width="16.2" height="15.97" fill="#e8876a" stroke="#555" stroke-width="0.8" /><line x1="68.4" y1="229.45" x2="84.6" y2="229.45" stroke="#444" stroke-width="0.9" /><path d="M50.4,198.6 V196.6 H76.5 V198.6" fill="none" stroke="#444" stroke-width="0.8"/><text x="63.5" y="202.2" font-size="7.5" text-anchor="middle" fill="#231f20" >****</text><text x="50.5" y="274.7" font-size="8.6" text-anchor="middle" fill="#231f20" >Ctrl</text><text x="76.5" y="274.7" font-size="8.6" text-anchor="middle" fill="#231f20" >ActD</text><text x="63.6" y="283.5" font-size="8.6" text-anchor="middle" fill="#231f20"><tspan font-style="italic">p</tspan> = 7.471e-59</text><text x="180.7" y="176.4" font-size="8.6" text-anchor="middle" fill="#231f20" >UTP15 ChIP-seq</text><text x="180.7" y="187.2" font-size="8.6" text-anchor="middle" fill="#231f20" >(rep1)</text><path d="M142.73,259.44 L143.5,259.45 L144.54,259.46 L145.78,259.48 L147.15,259.49 L148.56,259.48 L149.93,259.44 L151.34,259.39 L152.89,259.34 L154.49,259.26 L156.03,259.16 L157.43,259.02 L158.61,258.82 L159.51,258.56 L160.2,258.23 L160.74,257.87 L161.23,257.48 L161.73,257.09 L162.33,256.71 L163.03,256.38 L163.76,256.08 L164.5,255.77 L165.25,255.43 L165.98,255.01 L166.67,254.48 L167.34,253.84 L167.98,253.12 L168.61,252.32 L169.23,251.46 L169.82,250.52 L170.4,249.52 L170.95,248.45 L171.48,247.31 L171.99,246.1 L172.49,244.83 L172.99,243.48 L173.5,242.07 L174.02,240.58 L174.56,238.99 L175.09,237.34 L175.61,235.64 L176.12,233.9 L176.6,232.15 L177.06,230.34 L177.5,228.47 L177.92,226.56 L178.32,224.66 L178.71,222.78 L179.08,220.98 L179.43,219.22 L179.75,217.46 L180.05,215.75 L180.35,214.09 L180.64,212.51 L180.94,211.05 L181.25,209.64 L181.56,208.23 L181.87,206.91 L182.18,205.75 L182.49,204.83 L182.8,204.23 L183.1,203.99 L183.38,204.05 L183.66,204.35 L183.95,204.83 L184.28,205.43 L184.67,206.09 L185.11,206.86 L185.61,207.79 L186.14,208.84 L186.69,209.97 L187.24,211.14 L187.77,212.3 L188.29,213.49 L188.82,214.78 L189.36,216.09 L189.88,217.4 L190.39,218.63 L190.87,219.74 L191.32,220.67 L191.74,221.44 L192.15,222.14 L192.55,222.86 L192.94,223.69 L193.35,224.7 L193.75,225.93 L194.13,227.32 L194.51,228.81 L194.91,230.35 L195.35,231.9 L195.83,233.39 L196.38,234.87 L196.98,236.4 L197.61,237.92 L198.27,239.41 L198.92,240.8 L199.55,242.07 L200.17,243.22 L200.79,244.28 L201.41,245.25 L202.03,246.14 L202.66,246.94 L203.28,247.66 L203.9,248.25 L204.52,248.71 L205.14,249.09 L205.76,249.42 L206.38,249.76 L207,250.14 L207.6,250.54 L208.19,250.94 L208.78,251.34 L209.39,251.74 L210.03,252.17 L210.72,252.62 L211.47,253.12 L212.28,253.68 L213.12,254.26 L213.98,254.82 L214.84,255.32 L215.68,255.72 L216.57,256.02 L217.52,256.24 L218.47,256.41 L219.36,256.53 L220.11,256.63 L220.65,256.71" fill="none" stroke="#d9393e" stroke-width="1.5" stroke-linejoin="round" /><path d="M142.73,248.9 L143.51,248.76 L144.59,248.57 L145.86,248.35 L147.24,248.11 L148.63,247.88 L149.93,247.66 L151.18,247.46 L152.48,247.29 L153.79,247.11 L155.06,246.92 L156.27,246.69 L157.37,246.41 L158.35,246.07 L159.23,245.68 L160.04,245.25 L160.82,244.81 L161.57,244.36 L162.33,243.93 L163.11,243.54 L163.87,243.17 L164.62,242.81 L165.34,242.42 L166.03,241.97 L166.67,241.45 L167.26,240.86 L167.78,240.23 L168.26,239.55 L168.74,238.81 L169.24,238 L169.78,237.11 L170.36,236.16 L170.97,235.16 L171.6,234.08 L172.24,232.93 L172.87,231.67 L173.5,230.29 L174.13,228.75 L174.79,227.07 L175.44,225.28 L176.07,223.44 L176.67,221.58 L177.22,219.74 L177.72,217.9 L178.19,216.02 L178.62,214.12 L179.01,212.23 L179.37,210.37 L179.7,208.57 L179.98,206.79 L180.21,204.98 L180.4,203.21 L180.58,201.52 L180.75,199.99 L180.94,198.65 L181.14,197.49 L181.33,196.46 L181.52,195.57 L181.72,194.84 L181.94,194.29 L182.18,193.93 L182.45,193.82 L182.74,193.95 L183.04,194.25 L183.36,194.66 L183.69,195.12 L184.04,195.55 L184.42,195.92 L184.8,196.29 L185.21,196.69 L185.63,197.19 L186.07,197.83 L186.53,198.65 L187.01,199.74 L187.54,201.08 L188.08,202.56 L188.62,204.07 L189.14,205.49 L189.63,206.71 L190.08,207.75 L190.52,208.69 L190.95,209.54 L191.35,210.32 L191.74,211.03 L192.11,211.67 L192.46,212.18 L192.78,212.53 L193.08,212.8 L193.37,213.1 L193.67,213.52 L193.97,214.16 L194.26,215.05 L194.52,216.13 L194.78,217.34 L195.07,218.59 L195.41,219.83 L195.83,220.98 L196.34,222.04 L196.93,223.05 L197.58,224.04 L198.24,225.05 L198.91,226.09 L199.55,227.18 L200.17,228.4 L200.77,229.71 L201.38,231.06 L201.99,232.38 L202.62,233.59 L203.28,234.63 L203.97,235.47 L204.7,236.17 L205.45,236.76 L206.19,237.29 L206.92,237.81 L207.62,238.35 L208.27,238.9 L208.88,239.43 L209.48,239.94 L210.08,240.44 L210.69,240.94 L211.34,241.45 L212.02,241.99 L212.72,242.55 L213.43,243.12 L214.17,243.66 L214.92,244.14 L215.68,244.55 L216.53,244.88 L217.47,245.15 L218.44,245.37 L219.34,245.54 L220.1,245.68 L220.65,245.79" fill="none" stroke="#2b4a8b" stroke-width="1.5" stroke-linejoin="round" /><rect x="142.5" y="190.2" width="79.1" height="73.4" fill="none" stroke="#333" stroke-width="1" /><line x1="140.5" y1="251" x2="142.5" y2="251" stroke="#333" stroke-width="0.8" /><text x="138.8" y="254.1" font-size="8.6" text-anchor="end" fill="#231f20" >5.0</text><line x1="140.5" y1="237" x2="142.5" y2="237" stroke="#333" stroke-width="0.8" /><text x="138.8" y="240.1" font-size="8.6" text-anchor="end" fill="#231f20" >7.5</text><line x1="140.5" y1="223" x2="142.5" y2="223" stroke="#333" stroke-width="0.8" /><text x="138.8" y="226.1" font-size="8.6" text-anchor="end" fill="#231f20" >10.0</text><line x1="140.5" y1="209" x2="142.5" y2="209" stroke="#333" stroke-width="0.8" /><text x="138.8" y="212.1" font-size="8.6" text-anchor="end" fill="#231f20" >12.5</text><line x1="140.5" y1="195" x2="142.5" y2="195" stroke="#333" stroke-width="0.8" /><text x="138.8" y="198.1" font-size="8.6" text-anchor="end" fill="#231f20" >15.0</text><line x1="142.5" y1="263.6" x2="142.5" y2="265.6" stroke="#333" stroke-width="0.8" /><text x="147.4" y="275.5" font-size="8.6" text-anchor="middle" fill="#231f20" >-2 kb</text><line x1="182.05" y1="263.6" x2="182.05" y2="265.6" stroke="#333" stroke-width="0.8" /><text x="182.05" y="275.5" font-size="8.6" text-anchor="middle" fill="#231f20" >TSS</text><line x1="221.6" y1="263.6" x2="221.6" y2="265.6" stroke="#333" stroke-width="0.8" /><text x="218.1" y="275.5" font-size="8.6" text-anchor="middle" fill="#231f20" >2 kb</text><text transform="translate(119.3,228.5) rotate(-90)" font-size="8.6" text-anchor="middle" fill="#231f20" >Density</text><line x1="141.9" y1="283.2" x2="150.7" y2="283.2" stroke="#2b4a8b" stroke-width="1.5" /><text x="153" y="286.3" font-size="8.6" text-anchor="start" fill="#231f20" >Ctrl</text><line x1="177.7" y1="283.2" x2="186.9" y2="283.2" stroke="#d9393e" stroke-width="1.5" /><text x="189" y="286.3" font-size="8.6" text-anchor="start" fill="#231f20" >ActD 2 h</text><text x="250.5" y="159.5" font-size="11" font-weight="bold" fill="#000">e</text><text x="355.4" y="156.4" font-size="8.6" text-anchor="middle" fill="#231f20" >UTP15 interactome</text><path d="M353.75,284.38a1.1,1.1 0 1 0 2.2,0a1.1,1.1 0 1 0 -2.2,0M354.26,283.67a1.1,1.1 0 1 0 2.2,0a1.1,1.1 0 1 0 -2.2,0M358.45,272.65a1.1,1.1 0 1 0 2.2,0a1.1,1.1 0 1 0 -2.2,0M355.72,278.2a1.1,1.1 0 1 0 2.2,0a1.1,1.1 0 1 0 -2.2,0M356.79,285.48a1.1,1.1 0 1 0 2.2,0a1.1,1.1 0 1 0 -2.2,0M358.42,278.42a1.1,1.1 0 1 0 2.2,0a1.1,1.1 0 1 0 -2.2,0M347.38,275.55a1.1,1.1 0 1 0 2.2,0a1.1,1.1 0 1 0 -2.2,0M354.24,279.62a1.1,1.1 0 1 0 2.2,0a1.1,1.1 0 1 0 -2.2,0M355.65,279.91a1.1,1.1 0 1 0 2.2,0a1.1,1.1 0 1 0 -2.2,0M350.95,276.06a1.1,1.1 0 1 0 2.2,0a1.1,1.1 0 1 0 -2.2,0M358.24,276.87a1.1,1.1 0 1 0 2.2,0a1.1,1.1 0 1 0 -2.2,0M356.34,279.49a1.1,1.1 0 1 0 2.2,0a1.1,1.1 0 1 0 -2.2,0M356.32,281.22a1.1,1.1 0 1 0 2.2,0a1.1,1.1 0 1 0 -2.2,0M360.31,276.61a1.1,1.1 0 1 0 2.2,0a1.1,1.1 0 1 0 -2.2,0M355.61,278.59a1.1,1.1 0 1 0 2.2,0a1.1,1.1 0 1 0 -2.2,0M357.2,290.34a1.1,1.1 0 1 0 2.2,0a1.1,1.1 0 1 0 -2.2,0M357.81,281.39a1.1,1.1 0 1 0 2.2,0a1.1,1.1 0 1 0 -2.2,0M358.56,273.56a1.1,1.1 0 1 0 2.2,0a1.1,1.1 0 1 0 -2.2,0M359.29,274.93a1.1,1.1 0 1 0 2.2,0a1.1,1.1 0 1 0 -2.2,0M356.13,288.28a1.1,1.1 0 1 0 2.2,0a1.1,1.1 0 1 0 -2.2,0M350.09,271.92a1.1,1.1 0 1 0 2.2,0a1.1,1.1 0 1 0 -2.2,0M357.68,279.23a1.1,1.1 0 1 0 2.2,0a1.1,1.1 0 1 0 -2.2,0M352.12,283.86a1.1,1.1 0 1 0 2.2,0a1.1,1.1 0 1 0 -2.2,0M358.31,288.58a1.1,1.1 0 1 0 2.2,0a1.1,1.1 0 1 0 -2.2,0M358.25,282.27a1.1,1.1 0 1 0 2.2,0a1.1,1.1 0 1 0 -2.2,0M353.09,289.62a1.1,1.1 0 1 0 2.2,0a1.1,1.1 0 1 0 -2.2,0M365.34,271.92a1.1,1.1 0 1 0 2.2,0a1.1,1.1 0 1 0 -2.2,0M355.67,286.88a1.1,1.1 0 1 0 2.2,0a1.1,1.1 0 1 0 -2.2,0M358.51,286.84a1.1,1.1 0 1 0 2.2,0a1.1,1.1 0 1 0 -2.2,0M349.55,275.56a1.1,1.1 0 1 0 2.2,0a1.1,1.1 0 1 0 -2.2,0M357.08,287.47a1.1,1.1 0 1 0 2.2,0a1.1,1.1 0 1 0 -2.2,0M351.97,275a1.1,1.1 0 1 0 2.2,0a1.1,1.1 0 1 0 -2.2,0M349.8,285.68a1.1,1.1 0 1 0 2.2,0a1.1,1.1 0 1 0 -2.2,0M356.3,287.52a1.1,1.1 0 1 0 2.2,0a1.1,1.1 0 1 0 -2.2,0M346.52,279.49a1.1,1.1 0 1 0 2.2,0a1.1,1.1 0 1 0 -2.2,0M353.24,286.32a1.1,1.1 0 1 0 2.2,0a1.1,1.1 0 1 0 -2.2,0M357.43,283.3a1.1,1.1 0 1 0 2.2,0a1.1,1.1 0 1 0 -2.2,0M352.09,271.92a1.1,1.1 0 1 0 2.2,0a1.1,1.1 0 1 0 -2.2,0M361.48,286.19a1.1,1.1 0 1 0 2.2,0a1.1,1.1 0 1 0 -2.2,0M356.95,287.7a1.1,1.1 0 1 0 2.2,0a1.1,1.1 0 1 0 -2.2,0M357.63,279.78a1.1,1.1 0 1 0 2.2,0a1.1,1.1 0 1 0 -2.2,0M354.27,283.5a1.1,1.1 0 1 0 2.2,0a1.1,1.1 0 1 0 -2.2,0M342.59,275.53a1.1,1.1 0 1 0 2.2,0a1.1,1.1 0 1 0 -2.2,0M355.58,285.9a1.1,1.1 0 1 0 2.2,0a1.1,1.1 0 1 0 -2.2,0M354.78,282.04a1.1,1.1 0 1 0 2.2,0a1.1,1.1 0 1 0 -2.2,0M357.2,284.06a1.1,1.1 0 1 0 2.2,0a1.1,1.1 0 1 0 -2.2,0M357.18,288.49a1.1,1.1 0 1 0 2.2,0a1.1,1.1 0 1 0 -2.2,0M357.75,287.17a1.1,1.1 0 1 0 2.2,0a1.1,1.1 0 1 0 -2.2,0M354.82,287.75a1.1,1.1 0 1 0 2.2,0a1.1,1.1 0 1 0 -2.2,0M355.86,284.01a1.1,1.1 0 1 0 2.2,0a1.1,1.1 0 1 0 -2.2,0M359.91,274.05a1.1,1.1 0 1 0 2.2,0a1.1,1.1 0 1 0 -2.2,0M375.32,272.65a1.1,1.1 0 1 0 2.2,0a1.1,1.1 0 1 0 -2.2,0M355.78,286.18a1.1,1.1 0 1 0 2.2,0a1.1,1.1 0 1 0 -2.2,0M356.38,289.97a1.1,1.1 0 1 0 2.2,0a1.1,1.1 0 1 0 -2.2,0M355.5,282.81a1.1,1.1 0 1 0 2.2,0a1.1,1.1 0 1 0 -2.2,0M356.54,276.95a1.1,1.1 0 1 0 2.2,0a1.1,1.1 0 1 0 -2.2,0M350.78,280.18a1.1,1.1 0 1 0 2.2,0a1.1,1.1 0 1 0 -2.2,0M347.31,283.61a1.1,1.1 0 1 0 2.2,0a1.1,1.1 0 1 0 -2.2,0M360.62,283.65a1.1,1.1 0 1 0 2.2,0a1.1,1.1 0 1 0 -2.2,0M356.23,283.99a1.1,1.1 0 1 0 2.2,0a1.1,1.1 0 1 0 -2.2,0M355.86,277.71a1.1,1.1 0 1 0 2.2,0a1.1,1.1 0 1 0 -2.2,0M354.34,285.74a1.1,1.1 0 1 0 2.2,0a1.1,1.1 0 1 0 -2.2,0M357.02,287.55a1.1,1.1 0 1 0 2.2,0a1.1,1.1 0 1 0 -2.2,0M357.85,273.24a1.1,1.1 0 1 0 2.2,0a1.1,1.1 0 1 0 -2.2,0M354.9,278.27a1.1,1.1 0 1 0 2.2,0a1.1,1.1 0 1 0 -2.2,0M349.87,278.18a1.1,1.1 0 1 0 2.2,0a1.1,1.1 0 1 0 -2.2,0M351.01,286.11a1.1,1.1 0 1 0 2.2,0a1.1,1.1 0 1 0 -2.2,0M354.46,277.1a1.1,1.1 0 1 0 2.2,0a1.1,1.1 0 1 0 -2.2,0M351.17,280.33a1.1,1.1 0 1 0 2.2,0a1.1,1.1 0 1 0 -2.2,0M351.15,278.58a1.1,1.1 0 1 0 2.2,0a1.1,1.1 0 1 0 -2.2,0M353.47,286.36a1.1,1.1 0 1 0 2.2,0a1.1,1.1 0 1 0 -2.2,0M350.98,285.12a1.1,1.1 0 1 0 2.2,0a1.1,1.1 0 1 0 -2.2,0M357.11,280.84a1.1,1.1 0 1 0 2.2,0a1.1,1.1 0 1 0 -2.2,0M358.48,287.12a1.1,1.1 0 1 0 2.2,0a1.1,1.1 0 1 0 -2.2,0M353.32,280.64a1.1,1.1 0 1 0 2.2,0a1.1,1.1 0 1 0 -2.2,0M361.24,276.64a1.1,1.1 0 1 0 2.2,0a1.1,1.1 0 1 0 -2.2,0M363.06,281.57a1.1,1.1 0 1 0 2.2,0a1.1,1.1 0 1 0 -2.2,0M357.36,273.11a1.1,1.1 0 1 0 2.2,0a1.1,1.1 0 1 0 -2.2,0M355,282.77a1.1,1.1 0 1 0 2.2,0a1.1,1.1 0 1 0 -2.2,0M358.43,277.35a1.1,1.1 0 1 0 2.2,0a1.1,1.1 0 1 0 -2.2,0M356.95,288.92a1.1,1.1 0 1 0 2.2,0a1.1,1.1 0 1 0 -2.2,0M353.13,275.25a1.1,1.1 0 1 0 2.2,0a1.1,1.1 0 1 0 -2.2,0M356.39,282.15a1.1,1.1 0 1 0 2.2,0a1.1,1.1 0 1 0 -2.2,0M345.59,277.66a1.1,1.1 0 1 0 2.2,0a1.1,1.1 0 1 0 -2.2,0M357.24,278.14a1.1,1.1 0 1 0 2.2,0a1.1,1.1 0 1 0 -2.2,0M351.81,278.32a1.1,1.1 0 1 0 2.2,0a1.1,1.1 0 1 0 -2.2,0M355.54,284.06a1.1,1.1 0 1 0 2.2,0a1.1,1.1 0 1 0 -2.2,0M357.12,284.92a1.1,1.1 0 1 0 2.2,0a1.1,1.1 0 1 0 -2.2,0M357.6,289.82a1.1,1.1 0 1 0 2.2,0a1.1,1.1 0 1 0 -2.2,0M353.99,278.1a1.1,1.1 0 1 0 2.2,0a1.1,1.1 0 1 0 -2.2,0M359.81,277.32a1.1,1.1 0 1 0 2.2,0a1.1,1.1 0 1 0 -2.2,0M357.73,277.31a1.1,1.1 0 1 0 2.2,0a1.1,1.1 0 1 0 -2.2,0M362.63,275.01a1.1,1.1 0 1 0 2.2,0a1.1,1.1 0 1 0 -2.2,0M353.05,284.97a1.1,1.1 0 1 0 2.2,0a1.1,1.1 0 1 0 -2.2,0M357.78,278.09a1.1,1.1 0 1 0 2.2,0a1.1,1.1 0 1 0 -2.2,0M357.26,282.6a1.1,1.1 0 1 0 2.2,0a1.1,1.1 0 1 0 -2.2,0M352.59,283.21a1.1,1.1 0 1 0 2.2,0a1.1,1.1 0 1 0 -2.2,0M366.34,275.05a1.1,1.1 0 1 0 2.2,0a1.1,1.1 0 1 0 -2.2,0M354.81,283.28a1.1,1.1 0 1 0 2.2,0a1.1,1.1 0 1 0 -2.2,0M355.98,285.54a1.1,1.1 0 1 0 2.2,0a1.1,1.1 0 1 0 -2.2,0M351.28,280.7a1.1,1.1 0 1 0 2.2,0a1.1,1.1 0 1 0 -2.2,0M366.18,272.15a1.1,1.1 0 1 0 2.2,0a1.1,1.1 0 1 0 -2.2,0M356.78,282.02a1.1,1.1 0 1 0 2.2,0a1.1,1.1 0 1 0 -2.2,0M341.94,275.12a1.1,1.1 0 1 0 2.2,0a1.1,1.1 0 1 0 -2.2,0M357.29,282.37a1.1,1.1 0 1 0 2.2,0a1.1,1.1 0 1 0 -2.2,0M351.98,280.03a1.1,1.1 0 1 0 2.2,0a1.1,1.1 0 1 0 -2.2,0M351.08,284.51a1.1,1.1 0 1 0 2.2,0a1.1,1.1 0 1 0 -2.2,0M357.08,277.51a1.1,1.1 0 1 0 2.2,0a1.1,1.1 0 1 0 -2.2,0M352.84,288.76a1.1,1.1 0 1 0 2.2,0a1.1,1.1 0 1 0 -2.2,0M356.43,289.18a1.1,1.1 0 1 0 2.2,0a1.1,1.1 0 1 0 -2.2,0M357.51,276.02a1.1,1.1 0 1 0 2.2,0a1.1,1.1 0 1 0 -2.2,0M355.47,289.68a1.1,1.1 0 1 0 2.2,0a1.1,1.1 0 1 0 -2.2,0M354.26,289.69a1.1,1.1 0 1 0 2.2,0a1.1,1.1 0 1 0 -2.2,0M363.29,282.55a1.1,1.1 0 1 0 2.2,0a1.1,1.1 0 1 0 -2.2,0M355.73,276.29a1.1,1.1 0 1 0 2.2,0a1.1,1.1 0 1 0 -2.2,0M356.19,285.97a1.1,1.1 0 1 0 2.2,0a1.1,1.1 0 1 0 -2.2,0M358.31,285.31a1.1,1.1 0 1 0 2.2,0a1.1,1.1 0 1 0 -2.2,0M351.42,281.24a1.1,1.1 0 1 0 2.2,0a1.1,1.1 0 1 0 -2.2,0M357.53,289.88a1.1,1.1 0 1 0 2.2,0a1.1,1.1 0 1 0 -2.2,0M347.2,275.76a1.1,1.1 0 1 0 2.2,0a1.1,1.1 0 1 0 -2.2,0M353.8,287.61a1.1,1.1 0 1 0 2.2,0a1.1,1.1 0 1 0 -2.2,0M354.92,281.91a1.1,1.1 0 1 0 2.2,0a1.1,1.1 0 1 0 -2.2,0M356.91,280.09a1.1,1.1 0 1 0 2.2,0a1.1,1.1 0 1 0 -2.2,0M351.08,272.81a1.1,1.1 0 1 0 2.2,0a1.1,1.1 0 1 0 -2.2,0M354.49,289.88a1.1,1.1 0 1 0 2.2,0a1.1,1.1 0 1 0 -2.2,0M354.87,280.6a1.1,1.1 0 1 0 2.2,0a1.1,1.1 0 1 0 -2.2,0M354.61,285.09a1.1,1.1 0 1 0 2.2,0a1.1,1.1 0 1 0 -2.2,0M366.2,274.93a1.1,1.1 0 1 0 2.2,0a1.1,1.1 0 1 0 -2.2,0M347.01,280.99a1.1,1.1 0 1 0 2.2,0a1.1,1.1 0 1 0 -2.2,0M356.87,289.71a1.1,1.1 0 1 0 2.2,0a1.1,1.1 0 1 0 -2.2,0M357.05,280.73a1.1,1.1 0 1 0 2.2,0a1.1,1.1 0 1 0 -2.2,0M354.49,280.7a1.1,1.1 0 1 0 2.2,0a1.1,1.1 0 1 0 -2.2,0M358.66,272.72a1.1,1.1 0 1 0 2.2,0a1.1,1.1 0 1 0 -2.2,0M349.2,277.16a1.1,1.1 0 1 0 2.2,0a1.1,1.1 0 1 0 -2.2,0M356.72,285.73a1.1,1.1 0 1 0 2.2,0a1.1,1.1 0 1 0 -2.2,0M352.65,275.05a1.1,1.1 0 1 0 2.2,0a1.1,1.1 0 1 0 -2.2,0M356.73,289.17a1.1,1.1 0 1 0 2.2,0a1.1,1.1 0 1 0 -2.2,0M346.11,282.44a1.1,1.1 0 1 0 2.2,0a1.1,1.1 0 1 0 -2.2,0M355.18,285.28a1.1,1.1 0 1 0 2.2,0a1.1,1.1 0 1 0 -2.2,0M355.09,289.65a1.1,1.1 0 1 0 2.2,0a1.1,1.1 0 1 0 -2.2,0M355.6,289.92a1.1,1.1 0 1 0 2.2,0a1.1,1.1 0 1 0 -2.2,0M359.26,280.31a1.1,1.1 0 1 0 2.2,0a1.1,1.1 0 1 0 -2.2,0M359.21,281.43a1.1,1.1 0 1 0 2.2,0a1.1,1.1 0 1 0 -2.2,0M353.02,276.75a1.1,1.1 0 1 0 2.2,0a1.1,1.1 0 1 0 -2.2,0M354.39,273.38a1.1,1.1 0 1 0 2.2,0a1.1,1.1 0 1 0 -2.2,0M356.49,283.18a1.1,1.1 0 1 0 2.2,0a1.1,1.1 0 1 0 -2.2,0M358.31,286.44a1.1,1.1 0 1 0 2.2,0a1.1,1.1 0 1 0 -2.2,0M359.59,277.12a1.1,1.1 0 1 0 2.2,0a1.1,1.1 0 1 0 -2.2,0M357.09,279.69a1.1,1.1 0 1 0 2.2,0a1.1,1.1 0 1 0 -2.2,0M352.12,270.62a1.1,1.1 0 1 0 2.2,0a1.1,1.1 0 1 0 -2.2,0M354.08,272.59a1.1,1.1 0 1 0 2.2,0a1.1,1.1 0 1 0 -2.2,0M361.47,276.39a1.1,1.1 0 1 0 2.2,0a1.1,1.1 0 1 0 -2.2,0M342.98,275.76a1.1,1.1 0 1 0 2.2,0a1.1,1.1 0 1 0 -2.2,0M356.88,279.16a1.1,1.1 0 1 0 2.2,0a1.1,1.1 0 1 0 -2.2,0M355.43,289.33a1.1,1.1 0 1 0 2.2,0a1.1,1.1 0 1 0 -2.2,0M369.16,276.16a1.1,1.1 0 1 0 2.2,0a1.1,1.1 0 1 0 -2.2,0M342.55,276.39a1.1,1.1 0 1 0 2.2,0a1.1,1.1 0 1 0 -2.2,0M350.18,283.36a1.1,1.1 0 1 0 2.2,0a1.1,1.1 0 1 0 -2.2,0M353.26,280.45a1.1,1.1 0 1 0 2.2,0a1.1,1.1 0 1 0 -2.2,0M358.61,285.7a1.1,1.1 0 1 0 2.2,0a1.1,1.1 0 1 0 -2.2,0M355.6,287.07a1.1,1.1 0 1 0 2.2,0a1.1,1.1 0 1 0 -2.2,0M357.43,281.74a1.1,1.1 0 1 0 2.2,0a1.1,1.1 0 1 0 -2.2,0M351.09,279.3a1.1,1.1 0 1 0 2.2,0a1.1,1.1 0 1 0 -2.2,0M355.07,290.15a1.1,1.1 0 1 0 2.2,0a1.1,1.1 0 1 0 -2.2,0M357.42,288.85a1.1,1.1 0 1 0 2.2,0a1.1,1.1 0 1 0 -2.2,0M359.16,284.3a1.1,1.1 0 1 0 2.2,0a1.1,1.1 0 1 0 -2.2,0M361.72,279.66a1.1,1.1 0 1 0 2.2,0a1.1,1.1 0 1 0 -2.2,0M363.34,283.79a1.1,1.1 0 1 0 2.2,0a1.1,1.1 0 1 0 -2.2,0M357.74,274.11a1.1,1.1 0 1 0 2.2,0a1.1,1.1 0 1 0 -2.2,0M358.11,276.39a1.1,1.1 0 1 0 2.2,0a1.1,1.1 0 1 0 -2.2,0M359.64,281.15a1.1,1.1 0 1 0 2.2,0a1.1,1.1 0 1 0 -2.2,0M357.53,287.61a1.1,1.1 0 1 0 2.2,0a1.1,1.1 0 1 0 -2.2,0M357.32,281.5a1.1,1.1 0 1 0 2.2,0a1.1,1.1 0 1 0 -2.2,0M358.04,287.45a1.1,1.1 0 1 0 2.2,0a1.1,1.1 0 1 0 -2.2,0M349.79,285.7a1.1,1.1 0 1 0 2.2,0a1.1,1.1 0 1 0 -2.2,0M355.84,290.47a1.1,1.1 0 1 0 2.2,0a1.1,1.1 0 1 0 -2.2,0M349.34,280.61a1.1,1.1 0 1 0 2.2,0a1.1,1.1 0 1 0 -2.2,0M354.07,286.07a1.1,1.1 0 1 0 2.2,0a1.1,1.1 0 1 0 -2.2,0M357.85,288.09a1.1,1.1 0 1 0 2.2,0a1.1,1.1 0 1 0 -2.2,0M356.72,281.57a1.1,1.1 0 1 0 2.2,0a1.1,1.1 0 1 0 -2.2,0M351.87,276.47a1.1,1.1 0 1 0 2.2,0a1.1,1.1 0 1 0 -2.2,0M353.96,278.4a1.1,1.1 0 1 0 2.2,0a1.1,1.1 0 1 0 -2.2,0M356.06,279.51a1.1,1.1 0 1 0 2.2,0a1.1,1.1 0 1 0 -2.2,0M364.82,275.4a1.1,1.1 0 1 0 2.2,0a1.1,1.1 0 1 0 -2.2,0M357.89,278.22a1.1,1.1 0 1 0 2.2,0a1.1,1.1 0 1 0 -2.2,0M350.31,275.41a1.1,1.1 0 1 0 2.2,0a1.1,1.1 0 1 0 -2.2,0M361.78,276.66a1.1,1.1 0 1 0 2.2,0a1.1,1.1 0 1 0 -2.2,0M354.58,284.24a1.1,1.1 0 1 0 2.2,0a1.1,1.1 0 1 0 -2.2,0M355.16,285.76a1.1,1.1 0 1 0 2.2,0a1.1,1.1 0 1 0 -2.2,0M354.26,285.08a1.1,1.1 0 1 0 2.2,0a1.1,1.1 0 1 0 -2.2,0M352.83,287.38a1.1,1.1 0 1 0 2.2,0a1.1,1.1 0 1 0 -2.2,0M376.31,269.99a1.1,1.1 0 1 0 2.2,0a1.1,1.1 0 1 0 -2.2,0M357.62,281.58a1.1,1.1 0 1 0 2.2,0a1.1,1.1 0 1 0 -2.2,0M341.93,275.75a1.1,1.1 0 1 0 2.2,0a1.1,1.1 0 1 0 -2.2,0M358.34,286.83a1.1,1.1 0 1 0 2.2,0a1.1,1.1 0 1 0 -2.2,0M353.36,288.91a1.1,1.1 0 1 0 2.2,0a1.1,1.1 0 1 0 -2.2,0M360.49,284.94a1.1,1.1 0 1 0 2.2,0a1.1,1.1 0 1 0 -2.2,0M354.11,278.46a1.1,1.1 0 1 0 2.2,0a1.1,1.1 0 1 0 -2.2,0M366.13,272.92a1.1,1.1 0 1 0 2.2,0a1.1,1.1 0 1 0 -2.2,0M349.03,273.38a1.1,1.1 0 1 0 2.2,0a1.1,1.1 0 1 0 -2.2,0M359.91,279.69a1.1,1.1 0 1 0 2.2,0a1.1,1.1 0 1 0 -2.2,0M345.46,275.24a1.1,1.1 0 1 0 2.2,0a1.1,1.1 0 1 0 -2.2,0M359.52,272.14a1.1,1.1 0 1 0 2.2,0a1.1,1.1 0 1 0 -2.2,0M354.49,270.61a1.1,1.1 0 1 0 2.2,0a1.1,1.1 0 1 0 -2.2,0M356.09,285.48a1.1,1.1 0 1 0 2.2,0a1.1,1.1 0 1 0 -2.2,0M358.46,282.83a1.1,1.1 0 1 0 2.2,0a1.1,1.1 0 1 0 -2.2,0M352.84,280.23a1.1,1.1 0 1 0 2.2,0a1.1,1.1 0 1 0 -2.2,0M350.09,282.64a1.1,1.1 0 1 0 2.2,0a1.1,1.1 0 1 0 -2.2,0M367.86,274.7a1.1,1.1 0 1 0 2.2,0a1.1,1.1 0 1 0 -2.2,0M353.58,284.25a1.1,1.1 0 1 0 2.2,0a1.1,1.1 0 1 0 -2.2,0M351.55,277.04a1.1,1.1 0 1 0 2.2,0a1.1,1.1 0 1 0 -2.2,0M364.24,273.34a1.1,1.1 0 1 0 2.2,0a1.1,1.1 0 1 0 -2.2,0M356.39,290.71a1.1,1.1 0 1 0 2.2,0a1.1,1.1 0 1 0 -2.2,0M356.19,275.6a1.1,1.1 0 1 0 2.2,0a1.1,1.1 0 1 0 -2.2,0M354.03,279.33a1.1,1.1 0 1 0 2.2,0a1.1,1.1 0 1 0 -2.2,0M358.1,283.32a1.1,1.1 0 1 0 2.2,0a1.1,1.1 0 1 0 -2.2,0M359.28,279.77a1.1,1.1 0 1 0 2.2,0a1.1,1.1 0 1 0 -2.2,0M358.3,277.58a1.1,1.1 0 1 0 2.2,0a1.1,1.1 0 1 0 -2.2,0M362.53,276.95a1.1,1.1 0 1 0 2.2,0a1.1,1.1 0 1 0 -2.2,0M357.29,289.93a1.1,1.1 0 1 0 2.2,0a1.1,1.1 0 1 0 -2.2,0M357.9,287.55a1.1,1.1 0 1 0 2.2,0a1.1,1.1 0 1 0 -2.2,0M355.18,286.01a1.1,1.1 0 1 0 2.2,0a1.1,1.1 0 1 0 -2.2,0M350.53,277.75a1.1,1.1 0 1 0 2.2,0a1.1,1.1 0 1 0 -2.2,0M361.46,272.38a1.1,1.1 0 1 0 2.2,0a1.1,1.1 0 1 0 -2.2,0M357.93,273.98a1.1,1.1 0 1 0 2.2,0a1.1,1.1 0 1 0 -2.2,0M353.81,282.76a1.1,1.1 0 1 0 2.2,0a1.1,1.1 0 1 0 -2.2,0M351.65,287.01a1.1,1.1 0 1 0 2.2,0a1.1,1.1 0 1 0 -2.2,0M357.25,286.22a1.1,1.1 0 1 0 2.2,0a1.1,1.1 0 1 0 -2.2,0M357.24,288.83a1.1,1.1 0 1 0 2.2,0a1.1,1.1 0 1 0 -2.2,0M352.23,282.68a1.1,1.1 0 1 0 2.2,0a1.1,1.1 0 1 0 -2.2,0M365.29,272.74a1.1,1.1 0 1 0 2.2,0a1.1,1.1 0 1 0 -2.2,0M358.78,281.17a1.1,1.1 0 1 0 2.2,0a1.1,1.1 0 1 0 -2.2,0M353.45,283.5a1.1,1.1 0 1 0 2.2,0a1.1,1.1 0 1 0 -2.2,0M352.38,280.22a1.1,1.1 0 1 0 2.2,0a1.1,1.1 0 1 0 -2.2,0M342.7,273.37a1.1,1.1 0 1 0 2.2,0a1.1,1.1 0 1 0 -2.2,0M346.58,277.42a1.1,1.1 0 1 0 2.2,0a1.1,1.1 0 1 0 -2.2,0M359.99,272.5a1.1,1.1 0 1 0 2.2,0a1.1,1.1 0 1 0 -2.2,0M354.57,279.09a1.1,1.1 0 1 0 2.2,0a1.1,1.1 0 1 0 -2.2,0M359.94,270.44a1.1,1.1 0 1 0 2.2,0a1.1,1.1 0 1 0 -2.2,0M355.3,287.95a1.1,1.1 0 1 0 2.2,0a1.1,1.1 0 1 0 -2.2,0M355.3,282.71a1.1,1.1 0 1 0 2.2,0a1.1,1.1 0 1 0 -2.2,0M356.2,279.42a1.1,1.1 0 1 0 2.2,0a1.1,1.1 0 1 0 -2.2,0M351.96,280.61a1.1,1.1 0 1 0 2.2,0a1.1,1.1 0 1 0 -2.2,0M360.02,271.14a1.1,1.1 0 1 0 2.2,0a1.1,1.1 0 1 0 -2.2,0M350.17,282.54a1.1,1.1 0 1 0 2.2,0a1.1,1.1 0 1 0 -2.2,0M355.23,276.37a1.1,1.1 0 1 0 2.2,0a1.1,1.1 0 1 0 -2.2,0M359.05,278.7a1.1,1.1 0 1 0 2.2,0a1.1,1.1 0 1 0 -2.2,0M360.69,276.34a1.1,1.1 0 1 0 2.2,0a1.1,1.1 0 1 0 -2.2,0M361.78,276.07a1.1,1.1 0 1 0 2.2,0a1.1,1.1 0 1 0 -2.2,0M355.17,278.35a1.1,1.1 0 1 0 2.2,0a1.1,1.1 0 1 0 -2.2,0M356.8,285.3a1.1,1.1 0 1 0 2.2,0a1.1,1.1 0 1 0 -2.2,0M358.73,269.81a1.1,1.1 0 1 0 2.2,0a1.1,1.1 0 1 0 -2.2,0M361.33,274.68a1.1,1.1 0 1 0 2.2,0a1.1,1.1 0 1 0 -2.2,0M357.82,284.76a1.1,1.1 0 1 0 2.2,0a1.1,1.1 0 1 0 -2.2,0M357.67,283.52a1.1,1.1 0 1 0 2.2,0a1.1,1.1 0 1 0 -2.2,0M360.36,273.81a1.1,1.1 0 1 0 2.2,0a1.1,1.1 0 1 0 -2.2,0M365.27,281.3a1.1,1.1 0 1 0 2.2,0a1.1,1.1 0 1 0 -2.2,0M354.54,277.55a1.1,1.1 0 1 0 2.2,0a1.1,1.1 0 1 0 -2.2,0M359.17,276.39a1.1,1.1 0 1 0 2.2,0a1.1,1.1 0 1 0 -2.2,0M355.94,279.5a1.1,1.1 0 1 0 2.2,0a1.1,1.1 0 1 0 -2.2,0M352.77,283a1.1,1.1 0 1 0 2.2,0a1.1,1.1 0 1 0 -2.2,0M353.51,281.38a1.1,1.1 0 1 0 2.2,0a1.1,1.1 0 1 0 -2.2,0M352.8,278.71a1.1,1.1 0 1 0 2.2,0a1.1,1.1 0 1 0 -2.2,0M345.93,274.57a1.1,1.1 0 1 0 2.2,0a1.1,1.1 0 1 0 -2.2,0M361,286.17a1.1,1.1 0 1 0 2.2,0a1.1,1.1 0 1 0 -2.2,0M355.92,289.44a1.1,1.1 0 1 0 2.2,0a1.1,1.1 0 1 0 -2.2,0M349.59,282.15a1.1,1.1 0 1 0 2.2,0a1.1,1.1 0 1 0 -2.2,0M353.03,288.81a1.1,1.1 0 1 0 2.2,0a1.1,1.1 0 1 0 -2.2,0M344.08,277.91a1.1,1.1 0 1 0 2.2,0a1.1,1.1 0 1 0 -2.2,0M365.44,276.44a1.1,1.1 0 1 0 2.2,0a1.1,1.1 0 1 0 -2.2,0M353.86,284.47a1.1,1.1 0 1 0 2.2,0a1.1,1.1 0 1 0 -2.2,0M360.93,276.11a1.1,1.1 0 1 0 2.2,0a1.1,1.1 0 1 0 -2.2,0M364.76,280.51a1.1,1.1 0 1 0 2.2,0a1.1,1.1 0 1 0 -2.2,0M359.66,276.46a1.1,1.1 0 1 0 2.2,0a1.1,1.1 0 1 0 -2.2,0M356.88,289.57a1.1,1.1 0 1 0 2.2,0a1.1,1.1 0 1 0 -2.2,0M352.7,280.17a1.1,1.1 0 1 0 2.2,0a1.1,1.1 0 1 0 -2.2,0M351.4,282.86a1.1,1.1 0 1 0 2.2,0a1.1,1.1 0 1 0 -2.2,0M357.3,285.01a1.1,1.1 0 1 0 2.2,0a1.1,1.1 0 1 0 -2.2,0M351.88,287.74a1.1,1.1 0 1 0 2.2,0a1.1,1.1 0 1 0 -2.2,0M366.68,276.3a1.1,1.1 0 1 0 2.2,0a1.1,1.1 0 1 0 -2.2,0M347.33,275.18a1.1,1.1 0 1 0 2.2,0a1.1,1.1 0 1 0 -2.2,0M362.27,276.98a1.1,1.1 0 1 0 2.2,0a1.1,1.1 0 1 0 -2.2,0M362.87,276.8a1.1,1.1 0 1 0 2.2,0a1.1,1.1 0 1 0 -2.2,0M351.96,286.42a1.1,1.1 0 1 0 2.2,0a1.1,1.1 0 1 0 -2.2,0M352.78,286.1a1.1,1.1 0 1 0 2.2,0a1.1,1.1 0 1 0 -2.2,0M353.01,287.18a1.1,1.1 0 1 0 2.2,0a1.1,1.1 0 1 0 -2.2,0M340.45,276.12a1.1,1.1 0 1 0 2.2,0a1.1,1.1 0 1 0 -2.2,0M358.25,279.63a1.1,1.1 0 1 0 2.2,0a1.1,1.1 0 1 0 -2.2,0M355.07,290.73a1.1,1.1 0 1 0 2.2,0a1.1,1.1 0 1 0 -2.2,0M357.83,288.35a1.1,1.1 0 1 0 2.2,0a1.1,1.1 0 1 0 -2.2,0M357.94,279.18a1.1,1.1 0 1 0 2.2,0a1.1,1.1 0 1 0 -2.2,0M356.61,289.97a1.1,1.1 0 1 0 2.2,0a1.1,1.1 0 1 0 -2.2,0M358.23,279.36a1.1,1.1 0 1 0 2.2,0a1.1,1.1 0 1 0 -2.2,0M357.08,284.3a1.1,1.1 0 1 0 2.2,0a1.1,1.1 0 1 0 -2.2,0M360.46,286.39a1.1,1.1 0 1 0 2.2,0a1.1,1.1 0 1 0 -2.2,0M367.35,275.07a1.1,1.1 0 1 0 2.2,0a1.1,1.1 0 1 0 -2.2,0M356.28,290.25a1.1,1.1 0 1 0 2.2,0a1.1,1.1 0 1 0 -2.2,0M352.04,284.07a1.1,1.1 0 1 0 2.2,0a1.1,1.1 0 1 0 -2.2,0M350.04,279.93a1.1,1.1 0 1 0 2.2,0a1.1,1.1 0 1 0 -2.2,0M357.28,280.68a1.1,1.1 0 1 0 2.2,0a1.1,1.1 0 1 0 -2.2,0M372.95,269.96a1.1,1.1 0 1 0 2.2,0a1.1,1.1 0 1 0 -2.2,0M358.68,273.41a1.1,1.1 0 1 0 2.2,0a1.1,1.1 0 1 0 -2.2,0M355.74,282.9a1.1,1.1 0 1 0 2.2,0a1.1,1.1 0 1 0 -2.2,0M354.62,281.59a1.1,1.1 0 1 0 2.2,0a1.1,1.1 0 1 0 -2.2,0M352.52,284.98a1.1,1.1 0 1 0 2.2,0a1.1,1.1 0 1 0 -2.2,0M357.91,283.65a1.1,1.1 0 1 0 2.2,0a1.1,1.1 0 1 0 -2.2,0M362.86,281.08a1.1,1.1 0 1 0 2.2,0a1.1,1.1 0 1 0 -2.2,0M356.52,286.77a1.1,1.1 0 1 0 2.2,0a1.1,1.1 0 1 0 -2.2,0M359.71,279.38a1.1,1.1 0 1 0 2.2,0a1.1,1.1 0 1 0 -2.2,0M373.57,270.72a1.1,1.1 0 1 0 2.2,0a1.1,1.1 0 1 0 -2.2,0M351.28,276a1.1,1.1 0 1 0 2.2,0a1.1,1.1 0 1 0 -2.2,0M356.89,276.36a1.1,1.1 0 1 0 2.2,0a1.1,1.1 0 1 0 -2.2,0M357.91,285.98a1.1,1.1 0 1 0 2.2,0a1.1,1.1 0 1 0 -2.2,0M364.92,273.03a1.1,1.1 0 1 0 2.2,0a1.1,1.1 0 1 0 -2.2,0M354.14,290.05a1.1,1.1 0 1 0 2.2,0a1.1,1.1 0 1 0 -2.2,0M366.95,275.56a1.1,1.1 0 1 0 2.2,0a1.1,1.1 0 1 0 -2.2,0M357.49,289.14a1.1,1.1 0 1 0 2.2,0a1.1,1.1 0 1 0 -2.2,0M362.67,280.51a1.1,1.1 0 1 0 2.2,0a1.1,1.1 0 1 0 -2.2,0M341.3,271.76a1.1,1.1 0 1 0 2.2,0a1.1,1.1 0 1 0 -2.2,0M356.37,288.71a1.1,1.1 0 1 0 2.2,0a1.1,1.1 0 1 0 -2.2,0M356.83,279.94a1.1,1.1 0 1 0 2.2,0a1.1,1.1 0 1 0 -2.2,0M356.76,290.34a1.1,1.1 0 1 0 2.2,0a1.1,1.1 0 1 0 -2.2,0M362.89,275.44a1.1,1.1 0 1 0 2.2,0a1.1,1.1 0 1 0 -2.2,0M355.09,277.27a1.1,1.1 0 1 0 2.2,0a1.1,1.1 0 1 0 -2.2,0M356.65,273.65a1.1,1.1 0 1 0 2.2,0a1.1,1.1 0 1 0 -2.2,0M356.18,286.57a1.1,1.1 0 1 0 2.2,0a1.1,1.1 0 1 0 -2.2,0M358.54,284.99a1.1,1.1 0 1 0 2.2,0a1.1,1.1 0 1 0 -2.2,0M350.22,283.52a1.1,1.1 0 1 0 2.2,0a1.1,1.1 0 1 0 -2.2,0M361.69,273.52a1.1,1.1 0 1 0 2.2,0a1.1,1.1 0 1 0 -2.2,0M358.11,277.47a1.1,1.1 0 1 0 2.2,0a1.1,1.1 0 1 0 -2.2,0M356.81,281.08a1.1,1.1 0 1 0 2.2,0a1.1,1.1 0 1 0 -2.2,0M360.97,274.08a1.1,1.1 0 1 0 2.2,0a1.1,1.1 0 1 0 -2.2,0M356.71,288.74a1.1,1.1 0 1 0 2.2,0a1.1,1.1 0 1 0 -2.2,0M357.92,281.79a1.1,1.1 0 1 0 2.2,0a1.1,1.1 0 1 0 -2.2,0M353.87,277.8a1.1,1.1 0 1 0 2.2,0a1.1,1.1 0 1 0 -2.2,0M356.59,279.36a1.1,1.1 0 1 0 2.2,0a1.1,1.1 0 1 0 -2.2,0M352.77,282.05a1.1,1.1 0 1 0 2.2,0a1.1,1.1 0 1 0 -2.2,0M351.97,285.98a1.1,1.1 0 1 0 2.2,0a1.1,1.1 0 1 0 -2.2,0M363.87,277.62a1.1,1.1 0 1 0 2.2,0a1.1,1.1 0 1 0 -2.2,0M363.51,281.28a1.1,1.1 0 1 0 2.2,0a1.1,1.1 0 1 0 -2.2,0M356.26,285.59a1.1,1.1 0 1 0 2.2,0a1.1,1.1 0 1 0 -2.2,0M362.84,274.23a1.1,1.1 0 1 0 2.2,0a1.1,1.1 0 1 0 -2.2,0M358.36,277.74a1.1,1.1 0 1 0 2.2,0a1.1,1.1 0 1 0 -2.2,0M356.76,270.37a1.1,1.1 0 1 0 2.2,0a1.1,1.1 0 1 0 -2.2,0M356.04,290.2a1.1,1.1 0 1 0 2.2,0a1.1,1.1 0 1 0 -2.2,0M361.19,272.15a1.1,1.1 0 1 0 2.2,0a1.1,1.1 0 1 0 -2.2,0M355.15,288.43a1.1,1.1 0 1 0 2.2,0a1.1,1.1 0 1 0 -2.2,0M364.4,278.48a1.1,1.1 0 1 0 2.2,0a1.1,1.1 0 1 0 -2.2,0M355.22,286.88a1.1,1.1 0 1 0 2.2,0a1.1,1.1 0 1 0 -2.2,0M358.89,287.66a1.1,1.1 0 1 0 2.2,0a1.1,1.1 0 1 0 -2.2,0M364.51,271.68a1.1,1.1 0 1 0 2.2,0a1.1,1.1 0 1 0 -2.2,0M352.89,280.78a1.1,1.1 0 1 0 2.2,0a1.1,1.1 0 1 0 -2.2,0M357.51,278.37a1.1,1.1 0 1 0 2.2,0a1.1,1.1 0 1 0 -2.2,0M356.58,281.08a1.1,1.1 0 1 0 2.2,0a1.1,1.1 0 1 0 -2.2,0M355.85,284.72a1.1,1.1 0 1 0 2.2,0a1.1,1.1 0 1 0 -2.2,0M354.25,273.4a1.1,1.1 0 1 0 2.2,0a1.1,1.1 0 1 0 -2.2,0M354.36,283.27a1.1,1.1 0 1 0 2.2,0a1.1,1.1 0 1 0 -2.2,0M353.9,283.79a1.1,1.1 0 1 0 2.2,0a1.1,1.1 0 1 0 -2.2,0M353.75,271.75a1.1,1.1 0 1 0 2.2,0a1.1,1.1 0 1 0 -2.2,0M358.23,275.35a1.1,1.1 0 1 0 2.2,0a1.1,1.1 0 1 0 -2.2,0M352.42,277.02a1.1,1.1 0 1 0 2.2,0a1.1,1.1 0 1 0 -2.2,0M359.41,278.1a1.1,1.1 0 1 0 2.2,0a1.1,1.1 0 1 0 -2.2,0M355.95,277.59a1.1,1.1 0 1 0 2.2,0a1.1,1.1 0 1 0 -2.2,0M355.7,289.57a1.1,1.1 0 1 0 2.2,0a1.1,1.1 0 1 0 -2.2,0M349.3,277.08a1.1,1.1 0 1 0 2.2,0a1.1,1.1 0 1 0 -2.2,0M355.32,282.7a1.1,1.1 0 1 0 2.2,0a1.1,1.1 0 1 0 -2.2,0M354.69,276.86a1.1,1.1 0 1 0 2.2,0a1.1,1.1 0 1 0 -2.2,0M341.65,271.54a1.1,1.1 0 1 0 2.2,0a1.1,1.1 0 1 0 -2.2,0M351.71,279.64a1.1,1.1 0 1 0 2.2,0a1.1,1.1 0 1 0 -2.2,0M348.16,281.62a1.1,1.1 0 1 0 2.2,0a1.1,1.1 0 1 0 -2.2,0M352.29,286.91a1.1,1.1 0 1 0 2.2,0a1.1,1.1 0 1 0 -2.2,0M357.37,286.28a1.1,1.1 0 1 0 2.2,0a1.1,1.1 0 1 0 -2.2,0M358.84,284.51a1.1,1.1 0 1 0 2.2,0a1.1,1.1 0 1 0 -2.2,0M360.84,271.05a1.1,1.1 0 1 0 2.2,0a1.1,1.1 0 1 0 -2.2,0M369.26,271.49a1.1,1.1 0 1 0 2.2,0a1.1,1.1 0 1 0 -2.2,0M357.83,286.14a1.1,1.1 0 1 0 2.2,0a1.1,1.1 0 1 0 -2.2,0M356.62,271.74a1.1,1.1 0 1 0 2.2,0a1.1,1.1 0 1 0 -2.2,0M357.02,283.98a1.1,1.1 0 1 0 2.2,0a1.1,1.1 0 1 0 -2.2,0M342.12,275.37a1.1,1.1 0 1 0 2.2,0a1.1,1.1 0 1 0 -2.2,0M354.86,288.59a1.1,1.1 0 1 0 2.2,0a1.1,1.1 0 1 0 -2.2,0M360.56,283.66a1.1,1.1 0 1 0 2.2,0a1.1,1.1 0 1 0 -2.2,0M346.05,274.6a1.1,1.1 0 1 0 2.2,0a1.1,1.1 0 1 0 -2.2,0M354.4,279.18a1.1,1.1 0 1 0 2.2,0a1.1,1.1 0 1 0 -2.2,0M351.8,282.05a1.1,1.1 0 1 0 2.2,0a1.1,1.1 0 1 0 -2.2,0M358.4,284.64a1.1,1.1 0 1 0 2.2,0a1.1,1.1 0 1 0 -2.2,0M356.31,275.17a1.1,1.1 0 1 0 2.2,0a1.1,1.1 0 1 0 -2.2,0M354.54,287.48a1.1,1.1 0 1 0 2.2,0a1.1,1.1 0 1 0 -2.2,0M346.51,275.38a1.1,1.1 0 1 0 2.2,0a1.1,1.1 0 1 0 -2.2,0M359.83,286.44a1.1,1.1 0 1 0 2.2,0a1.1,1.1 0 1 0 -2.2,0M356.5,287.12a1.1,1.1 0 1 0 2.2,0a1.1,1.1 0 1 0 -2.2,0M345.99,271.44a1.1,1.1 0 1 0 2.2,0a1.1,1.1 0 1 0 -2.2,0M351.56,278.63a1.1,1.1 0 1 0 2.2,0a1.1,1.1 0 1 0 -2.2,0M356.31,285.97a1.1,1.1 0 1 0 2.2,0a1.1,1.1 0 1 0 -2.2,0M356.09,284.79a1.1,1.1 0 1 0 2.2,0a1.1,1.1 0 1 0 -2.2,0M358.61,288.63a1.1,1.1 0 1 0 2.2,0a1.1,1.1 0 1 0 -2.2,0M354.97,285.12a1.1,1.1 0 1 0 2.2,0a1.1,1.1 0 1 0 -2.2,0M355.17,287.91a1.1,1.1 0 1 0 2.2,0a1.1,1.1 0 1 0 -2.2,0M361.44,277.78a1.1,1.1 0 1 0 2.2,0a1.1,1.1 0 1 0 -2.2,0M360.3,279.01a1.1,1.1 0 1 0 2.2,0a1.1,1.1 0 1 0 -2.2,0M353.7,277.84a1.1,1.1 0 1 0 2.2,0a1.1,1.1 0 1 0 -2.2,0M362.76,276.45a1.1,1.1 0 1 0 2.2,0a1.1,1.1 0 1 0 -2.2,0M348.26,278.92a1.1,1.1 0 1 0 2.2,0a1.1,1.1 0 1 0 -2.2,0M356.41,290.63a1.1,1.1 0 1 0 2.2,0a1.1,1.1 0 1 0 -2.2,0M353.97,277.78a1.1,1.1 0 1 0 2.2,0a1.1,1.1 0 1 0 -2.2,0M357.3,279.6a1.1,1.1 0 1 0 2.2,0a1.1,1.1 0 1 0 -2.2,0M358.57,272.65a1.1,1.1 0 1 0 2.2,0a1.1,1.1 0 1 0 -2.2,0M356.22,277.98a1.1,1.1 0 1 0 2.2,0a1.1,1.1 0 1 0 -2.2,0M356.29,290.49a1.1,1.1 0 1 0 2.2,0a1.1,1.1 0 1 0 -2.2,0M353.7,287.98a1.1,1.1 0 1 0 2.2,0a1.1,1.1 0 1 0 -2.2,0M358.4,287.92a1.1,1.1 0 1 0 2.2,0a1.1,1.1 0 1 0 -2.2,0M354.56,286.18a1.1,1.1 0 1 0 2.2,0a1.1,1.1 0 1 0 -2.2,0M355.67,285.61a1.1,1.1 0 1 0 2.2,0a1.1,1.1 0 1 0 -2.2,0M356.06,285.54a1.1,1.1 0 1 0 2.2,0a1.1,1.1 0 1 0 -2.2,0M354.27,287.45a1.1,1.1 0 1 0 2.2,0a1.1,1.1 0 1 0 -2.2,0M353.31,283.75a1.1,1.1 0 1 0 2.2,0a1.1,1.1 0 1 0 -2.2,0M350.6,277.09a1.1,1.1 0 1 0 2.2,0a1.1,1.1 0 1 0 -2.2,0M356.01,276.8a1.1,1.1 0 1 0 2.2,0a1.1,1.1 0 1 0 -2.2,0M356.76,283.62a1.1,1.1 0 1 0 2.2,0a1.1,1.1 0 1 0 -2.2,0M357.72,281.4a1.1,1.1 0 1 0 2.2,0a1.1,1.1 0 1 0 -2.2,0M356.98,282.7a1.1,1.1 0 1 0 2.2,0a1.1,1.1 0 1 0 -2.2,0M356.59,286.45a1.1,1.1 0 1 0 2.2,0a1.1,1.1 0 1 0 -2.2,0M356.77,283.93a1.1,1.1 0 1 0 2.2,0a1.1,1.1 0 1 0 -2.2,0M360.77,272.48a1.1,1.1 0 1 0 2.2,0a1.1,1.1 0 1 0 -2.2,0M357.82,276.21a1.1,1.1 0 1 0 2.2,0a1.1,1.1 0 1 0 -2.2,0M358.26,271.91a1.1,1.1 0 1 0 2.2,0a1.1,1.1 0 1 0 -2.2,0M352.99,272.51a1.1,1.1 0 1 0 2.2,0a1.1,1.1 0 1 0 -2.2,0M357.01,286.76a1.1,1.1 0 1 0 2.2,0a1.1,1.1 0 1 0 -2.2,0M355.05,289.34a1.1,1.1 0 1 0 2.2,0a1.1,1.1 0 1 0 -2.2,0M355.53,273.26a1.1,1.1 0 1 0 2.2,0a1.1,1.1 0 1 0 -2.2,0M354.31,282.64a1.1,1.1 0 1 0 2.2,0a1.1,1.1 0 1 0 -2.2,0M355.04,286.66a1.1,1.1 0 1 0 2.2,0a1.1,1.1 0 1 0 -2.2,0M358.9,271.99a1.1,1.1 0 1 0 2.2,0a1.1,1.1 0 1 0 -2.2,0M354.46,288.04a1.1,1.1 0 1 0 2.2,0a1.1,1.1 0 1 0 -2.2,0M354.67,290.33a1.1,1.1 0 1 0 2.2,0a1.1,1.1 0 1 0 -2.2,0M356.6,276.4a1.1,1.1 0 1 0 2.2,0a1.1,1.1 0 1 0 -2.2,0M362.24,278.63a1.1,1.1 0 1 0 2.2,0a1.1,1.1 0 1 0 -2.2,0M359.18,287.76a1.1,1.1 0 1 0 2.2,0a1.1,1.1 0 1 0 -2.2,0M352.16,275.06a1.1,1.1 0 1 0 2.2,0a1.1,1.1 0 1 0 -2.2,0M357.16,275.5a1.1,1.1 0 1 0 2.2,0a1.1,1.1 0 1 0 -2.2,0M364.27,276.31a1.1,1.1 0 1 0 2.2,0a1.1,1.1 0 1 0 -2.2,0M354.71,287.41a1.1,1.1 0 1 0 2.2,0a1.1,1.1 0 1 0 -2.2,0M356.38,286.85a1.1,1.1 0 1 0 2.2,0a1.1,1.1 0 1 0 -2.2,0M348.97,278.2a1.1,1.1 0 1 0 2.2,0a1.1,1.1 0 1 0 -2.2,0M356.87,290.53a1.1,1.1 0 1 0 2.2,0a1.1,1.1 0 1 0 -2.2,0M354.99,280.05a1.1,1.1 0 1 0 2.2,0a1.1,1.1 0 1 0 -2.2,0M357.53,280.09a1.1,1.1 0 1 0 2.2,0a1.1,1.1 0 1 0 -2.2,0M351.29,271.86a1.1,1.1 0 1 0 2.2,0a1.1,1.1 0 1 0 -2.2,0M354.61,285.89a1.1,1.1 0 1 0 2.2,0a1.1,1.1 0 1 0 -2.2,0M359.14,283.86a1.1,1.1 0 1 0 2.2,0a1.1,1.1 0 1 0 -2.2,0M357.05,290.38a1.1,1.1 0 1 0 2.2,0a1.1,1.1 0 1 0 -2.2,0M357.54,290.8a1.1,1.1 0 1 0 2.2,0a1.1,1.1 0 1 0 -2.2,0M351.77,285.92a1.1,1.1 0 1 0 2.2,0a1.1,1.1 0 1 0 -2.2,0M354.73,288.4a1.1,1.1 0 1 0 2.2,0a1.1,1.1 0 1 0 -2.2,0M356.51,288.19a1.1,1.1 0 1 0 2.2,0a1.1,1.1 0 1 0 -2.2,0M357.96,280.5a1.1,1.1 0 1 0 2.2,0a1.1,1.1 0 1 0 -2.2,0M356.23,276.77a1.1,1.1 0 1 0 2.2,0a1.1,1.1 0 1 0 -2.2,0M358.92,279.72a1.1,1.1 0 1 0 2.2,0a1.1,1.1 0 1 0 -2.2,0M351.48,282.07a1.1,1.1 0 1 0 2.2,0a1.1,1.1 0 1 0 -2.2,0M343.81,273.91a1.1,1.1 0 1 0 2.2,0a1.1,1.1 0 1 0 -2.2,0M371.43,273.25a1.1,1.1 0 1 0 2.2,0a1.1,1.1 0 1 0 -2.2,0M357.02,289.19a1.1,1.1 0 1 0 2.2,0a1.1,1.1 0 1 0 -2.2,0M361.62,285.65a1.1,1.1 0 1 0 2.2,0a1.1,1.1 0 1 0 -2.2,0M354.2,282.65a1.1,1.1 0 1 0 2.2,0a1.1,1.1 0 1 0 -2.2,0M350.76,273.02a1.1,1.1 0 1 0 2.2,0a1.1,1.1 0 1 0 -2.2,0M354.12,288.77a1.1,1.1 0 1 0 2.2,0a1.1,1.1 0 1 0 -2.2,0M359.75,277.8a1.1,1.1 0 1 0 2.2,0a1.1,1.1 0 1 0 -2.2,0M341.7,274.4a1.1,1.1 0 1 0 2.2,0a1.1,1.1 0 1 0 -2.2,0M354.94,289.17a1.1,1.1 0 1 0 2.2,0a1.1,1.1 0 1 0 -2.2,0M354.4,278.66a1.1,1.1 0 1 0 2.2,0a1.1,1.1 0 1 0 -2.2,0M351.98,286.46a1.1,1.1 0 1 0 2.2,0a1.1,1.1 0 1 0 -2.2,0M355.51,289.29a1.1,1.1 0 1 0 2.2,0a1.1,1.1 0 1 0 -2.2,0M351.36,278.91a1.1,1.1 0 1 0 2.2,0a1.1,1.1 0 1 0 -2.2,0M354.11,290.62a1.1,1.1 0 1 0 2.2,0a1.1,1.1 0 1 0 -2.2,0M353.58,276.95a1.1,1.1 0 1 0 2.2,0a1.1,1.1 0 1 0 -2.2,0M351.7,270.83a1.1,1.1 0 1 0 2.2,0a1.1,1.1 0 1 0 -2.2,0M357.6,286.43a1.1,1.1 0 1 0 2.2,0a1.1,1.1 0 1 0 -2.2,0M355.11,281.92a1.1,1.1 0 1 0 2.2,0a1.1,1.1 0 1 0 -2.2,0M355.29,275.17a1.1,1.1 0 1 0 2.2,0a1.1,1.1 0 1 0 -2.2,0M350.21,277.04a1.1,1.1 0 1 0 2.2,0a1.1,1.1 0 1 0 -2.2,0M356.19,288.6a1.1,1.1 0 1 0 2.2,0a1.1,1.1 0 1 0 -2.2,0M356.84,290.21a1.1,1.1 0 1 0 2.2,0a1.1,1.1 0 1 0 -2.2,0M360.3,283.2a1.1,1.1 0 1 0 2.2,0a1.1,1.1 0 1 0 -2.2,0M360.68,272.24a1.1,1.1 0 1 0 2.2,0a1.1,1.1 0 1 0 -2.2,0M353.77,283.54a1.1,1.1 0 1 0 2.2,0a1.1,1.1 0 1 0 -2.2,0M356.76,283.37a1.1,1.1 0 1 0 2.2,0a1.1,1.1 0 1 0 -2.2,0M346.86,279.46a1.1,1.1 0 1 0 2.2,0a1.1,1.1 0 1 0 -2.2,0M368.77,274.63a1.1,1.1 0 1 0 2.2,0a1.1,1.1 0 1 0 -2.2,0M351.72,277.94a1.1,1.1 0 1 0 2.2,0a1.1,1.1 0 1 0 -2.2,0M357.61,285.52a1.1,1.1 0 1 0 2.2,0a1.1,1.1 0 1 0 -2.2,0M346.6,272.71a1.1,1.1 0 1 0 2.2,0a1.1,1.1 0 1 0 -2.2,0M361.64,280.74a1.1,1.1 0 1 0 2.2,0a1.1,1.1 0 1 0 -2.2,0M356.53,277.98a1.1,1.1 0 1 0 2.2,0a1.1,1.1 0 1 0 -2.2,0M356.89,289.73a1.1,1.1 0 1 0 2.2,0a1.1,1.1 0 1 0 -2.2,0M357.33,290.73a1.1,1.1 0 1 0 2.2,0a1.1,1.1 0 1 0 -2.2,0M356.46,285.38a1.1,1.1 0 1 0 2.2,0a1.1,1.1 0 1 0 -2.2,0M355.84,288.34a1.1,1.1 0 1 0 2.2,0a1.1,1.1 0 1 0 -2.2,0M351.59,274.63a1.1,1.1 0 1 0 2.2,0a1.1,1.1 0 1 0 -2.2,0M359.22,284.81a1.1,1.1 0 1 0 2.2,0a1.1,1.1 0 1 0 -2.2,0M357.48,282.39a1.1,1.1 0 1 0 2.2,0a1.1,1.1 0 1 0 -2.2,0M356.15,288.18a1.1,1.1 0 1 0 2.2,0a1.1,1.1 0 1 0 -2.2,0M355.06,278.09a1.1,1.1 0 1 0 2.2,0a1.1,1.1 0 1 0 -2.2,0M366.18,277.55a1.1,1.1 0 1 0 2.2,0a1.1,1.1 0 1 0 -2.2,0M360.58,282.44a1.1,1.1 0 1 0 2.2,0a1.1,1.1 0 1 0 -2.2,0M355.12,289.94a1.1,1.1 0 1 0 2.2,0a1.1,1.1 0 1 0 -2.2,0M355.03,278a1.1,1.1 0 1 0 2.2,0a1.1,1.1 0 1 0 -2.2,0M350.87,274.12a1.1,1.1 0 1 0 2.2,0a1.1,1.1 0 1 0 -2.2,0M356.84,288.94a1.1,1.1 0 1 0 2.2,0a1.1,1.1 0 1 0 -2.2,0M366.28,274.02a1.1,1.1 0 1 0 2.2,0a1.1,1.1 0 1 0 -2.2,0M354.27,287.06a1.1,1.1 0 1 0 2.2,0a1.1,1.1 0 1 0 -2.2,0M353.78,288.44a1.1,1.1 0 1 0 2.2,0a1.1,1.1 0 1 0 -2.2,0M353.65,281.3a1.1,1.1 0 1 0 2.2,0a1.1,1.1 0 1 0 -2.2,0M354.32,285.96a1.1,1.1 0 1 0 2.2,0a1.1,1.1 0 1 0 -2.2,0M363.75,279.86a1.1,1.1 0 1 0 2.2,0a1.1,1.1 0 1 0 -2.2,0M356.63,286.86a1.1,1.1 0 1 0 2.2,0a1.1,1.1 0 1 0 -2.2,0M346.56,277.79a1.1,1.1 0 1 0 2.2,0a1.1,1.1 0 1 0 -2.2,0M352.49,287.12a1.1,1.1 0 1 0 2.2,0a1.1,1.1 0 1 0 -2.2,0M357.94,279.15a1.1,1.1 0 1 0 2.2,0a1.1,1.1 0 1 0 -2.2,0M360.01,274.57a1.1,1.1 0 1 0 2.2,0a1.1,1.1 0 1 0 -2.2,0M357.45,275.27a1.1,1.1 0 1 0 2.2,0a1.1,1.1 0 1 0 -2.2,0M353.07,284.33a1.1,1.1 0 1 0 2.2,0a1.1,1.1 0 1 0 -2.2,0M356.26,289.69a1.1,1.1 0 1 0 2.2,0a1.1,1.1 0 1 0 -2.2,0M356.57,282.22a1.1,1.1 0 1 0 2.2,0a1.1,1.1 0 1 0 -2.2,0M350.57,270.96a1.1,1.1 0 1 0 2.2,0a1.1,1.1 0 1 0 -2.2,0M356.17,288.5a1.1,1.1 0 1 0 2.2,0a1.1,1.1 0 1 0 -2.2,0M354.71,281.25a1.1,1.1 0 1 0 2.2,0a1.1,1.1 0 1 0 -2.2,0M349.13,278.17a1.1,1.1 0 1 0 2.2,0a1.1,1.1 0 1 0 -2.2,0M354.72,289.5a1.1,1.1 0 1 0 2.2,0a1.1,1.1 0 1 0 -2.2,0M356.28,279.25a1.1,1.1 0 1 0 2.2,0a1.1,1.1 0 1 0 -2.2,0M354.57,284.73a1.1,1.1 0 1 0 2.2,0a1.1,1.1 0 1 0 -2.2,0M349.89,283.78a1.1,1.1 0 1 0 2.2,0a1.1,1.1 0 1 0 -2.2,0M353.01,270.79a1.1,1.1 0 1 0 2.2,0a1.1,1.1 0 1 0 -2.2,0M354.48,281.67a1.1,1.1 0 1 0 2.2,0a1.1,1.1 0 1 0 -2.2,0M361.57,286.44a1.1,1.1 0 1 0 2.2,0a1.1,1.1 0 1 0 -2.2,0M355.37,288.35a1.1,1.1 0 1 0 2.2,0a1.1,1.1 0 1 0 -2.2,0M363.52,279.73a1.1,1.1 0 1 0 2.2,0a1.1,1.1 0 1 0 -2.2,0M360.25,276.29a1.1,1.1 0 1 0 2.2,0a1.1,1.1 0 1 0 -2.2,0M357.84,289.89a1.1,1.1 0 1 0 2.2,0a1.1,1.1 0 1 0 -2.2,0M357.56,278.09a1.1,1.1 0 1 0 2.2,0a1.1,1.1 0 1 0 -2.2,0M356.39,287.62a1.1,1.1 0 1 0 2.2,0a1.1,1.1 0 1 0 -2.2,0M360.68,276.77a1.1,1.1 0 1 0 2.2,0a1.1,1.1 0 1 0 -2.2,0M361.67,283.07a1.1,1.1 0 1 0 2.2,0a1.1,1.1 0 1 0 -2.2,0M356.76,288.65a1.1,1.1 0 1 0 2.2,0a1.1,1.1 0 1 0 -2.2,0M355.61,285.45a1.1,1.1 0 1 0 2.2,0a1.1,1.1 0 1 0 -2.2,0M336.24,271.69a1.1,1.1 0 1 0 2.2,0a1.1,1.1 0 1 0 -2.2,0M357.97,280.05a1.1,1.1 0 1 0 2.2,0a1.1,1.1 0 1 0 -2.2,0M355.63,281.28a1.1,1.1 0 1 0 2.2,0a1.1,1.1 0 1 0 -2.2,0M354.53,286.6a1.1,1.1 0 1 0 2.2,0a1.1,1.1 0 1 0 -2.2,0M355.13,288.56a1.1,1.1 0 1 0 2.2,0a1.1,1.1 0 1 0 -2.2,0M357.66,285.94a1.1,1.1 0 1 0 2.2,0a1.1,1.1 0 1 0 -2.2,0M359.64,274.29a1.1,1.1 0 1 0 2.2,0a1.1,1.1 0 1 0 -2.2,0M354.24,287.24a1.1,1.1 0 1 0 2.2,0a1.1,1.1 0 1 0 -2.2,0M350.78,284.99a1.1,1.1 0 1 0 2.2,0a1.1,1.1 0 1 0 -2.2,0M362.42,273.82a1.1,1.1 0 1 0 2.2,0a1.1,1.1 0 1 0 -2.2,0M353.98,290.58a1.1,1.1 0 1 0 2.2,0a1.1,1.1 0 1 0 -2.2,0M346.2,273.59a1.1,1.1 0 1 0 2.2,0a1.1,1.1 0 1 0 -2.2,0M355.15,272.98a1.1,1.1 0 1 0 2.2,0a1.1,1.1 0 1 0 -2.2,0M359.21,283.96a1.1,1.1 0 1 0 2.2,0a1.1,1.1 0 1 0 -2.2,0M356.9,284.62a1.1,1.1 0 1 0 2.2,0a1.1,1.1 0 1 0 -2.2,0M364.59,282.58a1.1,1.1 0 1 0 2.2,0a1.1,1.1 0 1 0 -2.2,0M356.48,272.45a1.1,1.1 0 1 0 2.2,0a1.1,1.1 0 1 0 -2.2,0M372.47,273.24a1.1,1.1 0 1 0 2.2,0a1.1,1.1 0 1 0 -2.2,0M357.78,275.75a1.1,1.1 0 1 0 2.2,0a1.1,1.1 0 1 0 -2.2,0M352.05,278.7a1.1,1.1 0 1 0 2.2,0a1.1,1.1 0 1 0 -2.2,0M350.54,276.91a1.1,1.1 0 1 0 2.2,0a1.1,1.1 0 1 0 -2.2,0M354.45,275.86a1.1,1.1 0 1 0 2.2,0a1.1,1.1 0 1 0 -2.2,0M358.84,272.95a1.1,1.1 0 1 0 2.2,0a1.1,1.1 0 1 0 -2.2,0M352.83,271.45a1.1,1.1 0 1 0 2.2,0a1.1,1.1 0 1 0 -2.2,0M367.39,277.18a1.1,1.1 0 1 0 2.2,0a1.1,1.1 0 1 0 -2.2,0M358.75,280.42a1.1,1.1 0 1 0 2.2,0a1.1,1.1 0 1 0 -2.2,0M357.33,283.73a1.1,1.1 0 1 0 2.2,0a1.1,1.1 0 1 0 -2.2,0M351.02,286.91a1.1,1.1 0 1 0 2.2,0a1.1,1.1 0 1 0 -2.2,0M355.6,286.75a1.1,1.1 0 1 0 2.2,0a1.1,1.1 0 1 0 -2.2,0M357.1,277a1.1,1.1 0 1 0 2.2,0a1.1,1.1 0 1 0 -2.2,0M355.82,289.67a1.1,1.1 0 1 0 2.2,0a1.1,1.1 0 1 0 -2.2,0M353.11,282.21a1.1,1.1 0 1 0 2.2,0a1.1,1.1 0 1 0 -2.2,0M352.06,273.42a1.1,1.1 0 1 0 2.2,0a1.1,1.1 0 1 0 -2.2,0M365.35,273.76a1.1,1.1 0 1 0 2.2,0a1.1,1.1 0 1 0 -2.2,0M349.93,272.3a1.1,1.1 0 1 0 2.2,0a1.1,1.1 0 1 0 -2.2,0M364.21,281.46a1.1,1.1 0 1 0 2.2,0a1.1,1.1 0 1 0 -2.2,0M349.56,278.43a1.1,1.1 0 1 0 2.2,0a1.1,1.1 0 1 0 -2.2,0M355.3,281.93a1.1,1.1 0 1 0 2.2,0a1.1,1.1 0 1 0 -2.2,0M352.68,279.37a1.1,1.1 0 1 0 2.2,0a1.1,1.1 0 1 0 -2.2,0M361.73,271.28a1.1,1.1 0 1 0 2.2,0a1.1,1.1 0 1 0 -2.2,0M358.5,288.12a1.1,1.1 0 1 0 2.2,0a1.1,1.1 0 1 0 -2.2,0M357.1,281.95a1.1,1.1 0 1 0 2.2,0a1.1,1.1 0 1 0 -2.2,0M349.35,283.86a1.1,1.1 0 1 0 2.2,0a1.1,1.1 0 1 0 -2.2,0M354.15,276.38a1.1,1.1 0 1 0 2.2,0a1.1,1.1 0 1 0 -2.2,0M356.48,286.21a1.1,1.1 0 1 0 2.2,0a1.1,1.1 0 1 0 -2.2,0M350.52,271.51a1.1,1.1 0 1 0 2.2,0a1.1,1.1 0 1 0 -2.2,0M353.6,282.8a1.1,1.1 0 1 0 2.2,0a1.1,1.1 0 1 0 -2.2,0M350.63,287.19a1.1,1.1 0 1 0 2.2,0a1.1,1.1 0 1 0 -2.2,0M357.57,284.04a1.1,1.1 0 1 0 2.2,0a1.1,1.1 0 1 0 -2.2,0M361.33,280.69a1.1,1.1 0 1 0 2.2,0a1.1,1.1 0 1 0 -2.2,0M358.65,287.69a1.1,1.1 0 1 0 2.2,0a1.1,1.1 0 1 0 -2.2,0M355.87,277.31a1.1,1.1 0 1 0 2.2,0a1.1,1.1 0 1 0 -2.2,0M356.77,273.02a1.1,1.1 0 1 0 2.2,0a1.1,1.1 0 1 0 -2.2,0M348.11,283.01a1.1,1.1 0 1 0 2.2,0a1.1,1.1 0 1 0 -2.2,0M351.15,287.59a1.1,1.1 0 1 0 2.2,0a1.1,1.1 0 1 0 -2.2,0M355.61,271.29a1.1,1.1 0 1 0 2.2,0a1.1,1.1 0 1 0 -2.2,0M353.27,279.79a1.1,1.1 0 1 0 2.2,0a1.1,1.1 0 1 0 -2.2,0M354.68,277.59a1.1,1.1 0 1 0 2.2,0a1.1,1.1 0 1 0 -2.2,0M355.68,282.39a1.1,1.1 0 1 0 2.2,0a1.1,1.1 0 1 0 -2.2,0M359.06,282.69a1.1,1.1 0 1 0 2.2,0a1.1,1.1 0 1 0 -2.2,0M359.32,283.23a1.1,1.1 0 1 0 2.2,0a1.1,1.1 0 1 0 -2.2,0M356.08,276a1.1,1.1 0 1 0 2.2,0a1.1,1.1 0 1 0 -2.2,0M354.3,286.64a1.1,1.1 0 1 0 2.2,0a1.1,1.1 0 1 0 -2.2,0M355.5,277.88a1.1,1.1 0 1 0 2.2,0a1.1,1.1 0 1 0 -2.2,0M355.12,286.81a1.1,1.1 0 1 0 2.2,0a1.1,1.1 0 1 0 -2.2,0M345.55,276.24a1.1,1.1 0 1 0 2.2,0a1.1,1.1 0 1 0 -2.2,0M356.79,285.05a1.1,1.1 0 1 0 2.2,0a1.1,1.1 0 1 0 -2.2,0M354.75,272.99a1.1,1.1 0 1 0 2.2,0a1.1,1.1 0 1 0 -2.2,0M356.54,289.42a1.1,1.1 0 1 0 2.2,0a1.1,1.1 0 1 0 -2.2,0M352.96,288.1a1.1,1.1 0 1 0 2.2,0a1.1,1.1 0 1 0 -2.2,0M350.52,276.83a1.1,1.1 0 1 0 2.2,0a1.1,1.1 0 1 0 -2.2,0M359.61,286.61a1.1,1.1 0 1 0 2.2,0a1.1,1.1 0 1 0 -2.2,0M354.54,287.79a1.1,1.1 0 1 0 2.2,0a1.1,1.1 0 1 0 -2.2,0M354.69,288.01a1.1,1.1 0 1 0 2.2,0a1.1,1.1 0 1 0 -2.2,0M355.12,289.35a1.1,1.1 0 1 0 2.2,0a1.1,1.1 0 1 0 -2.2,0M358.38,287.29a1.1,1.1 0 1 0 2.2,0a1.1,1.1 0 1 0 -2.2,0M345.06,281.23a1.1,1.1 0 1 0 2.2,0a1.1,1.1 0 1 0 -2.2,0M356.69,282.75a1.1,1.1 0 1 0 2.2,0a1.1,1.1 0 1 0 -2.2,0M356.74,280.95a1.1,1.1 0 1 0 2.2,0a1.1,1.1 0 1 0 -2.2,0M358.11,275.56a1.1,1.1 0 1 0 2.2,0a1.1,1.1 0 1 0 -2.2,0M352.79,283.43a1.1,1.1 0 1 0 2.2,0a1.1,1.1 0 1 0 -2.2,0M358.26,278a1.1,1.1 0 1 0 2.2,0a1.1,1.1 0 1 0 -2.2,0M355.64,287.57a1.1,1.1 0 1 0 2.2,0a1.1,1.1 0 1 0 -2.2,0M355.5,273.35a1.1,1.1 0 1 0 2.2,0a1.1,1.1 0 1 0 -2.2,0M359.08,283.71a1.1,1.1 0 1 0 2.2,0a1.1,1.1 0 1 0 -2.2,0M354,283.07a1.1,1.1 0 1 0 2.2,0a1.1,1.1 0 1 0 -2.2,0M354.7,279.62a1.1,1.1 0 1 0 2.2,0a1.1,1.1 0 1 0 -2.2,0M346.38,273.03a1.1,1.1 0 1 0 2.2,0a1.1,1.1 0 1 0 -2.2,0M352.88,283.45a1.1,1.1 0 1 0 2.2,0a1.1,1.1 0 1 0 -2.2,0M356.84,280.58a1.1,1.1 0 1 0 2.2,0a1.1,1.1 0 1 0 -2.2,0M359.41,272.03a1.1,1.1 0 1 0 2.2,0a1.1,1.1 0 1 0 -2.2,0M354.46,290.32a1.1,1.1 0 1 0 2.2,0a1.1,1.1 0 1 0 -2.2,0M356.45,283.03a1.1,1.1 0 1 0 2.2,0a1.1,1.1 0 1 0 -2.2,0M360.39,284.01a1.1,1.1 0 1 0 2.2,0a1.1,1.1 0 1 0 -2.2,0M353.31,282.16a1.1,1.1 0 1 0 2.2,0a1.1,1.1 0 1 0 -2.2,0M356.54,283.1a1.1,1.1 0 1 0 2.2,0a1.1,1.1 0 1 0 -2.2,0M353.2,283.95a1.1,1.1 0 1 0 2.2,0a1.1,1.1 0 1 0 -2.2,0M352.86,283.01a1.1,1.1 0 1 0 2.2,0a1.1,1.1 0 1 0 -2.2,0M355.17,283.81a1.1,1.1 0 1 0 2.2,0a1.1,1.1 0 1 0 -2.2,0M357.31,287.54a1.1,1.1 0 1 0 2.2,0a1.1,1.1 0 1 0 -2.2,0M356,289.55a1.1,1.1 0 1 0 2.2,0a1.1,1.1 0 1 0 -2.2,0M357.31,288.25a1.1,1.1 0 1 0 2.2,0a1.1,1.1 0 1 0 -2.2,0M357.67,275.77a1.1,1.1 0 1 0 2.2,0a1.1,1.1 0 1 0 -2.2,0M338.35,271.11a1.1,1.1 0 1 0 2.2,0a1.1,1.1 0 1 0 -2.2,0M354.63,288.87a1.1,1.1 0 1 0 2.2,0a1.1,1.1 0 1 0 -2.2,0M355.78,283.4a1.1,1.1 0 1 0 2.2,0a1.1,1.1 0 1 0 -2.2,0M349.34,284.56a1.1,1.1 0 1 0 2.2,0a1.1,1.1 0 1 0 -2.2,0M338.83,272.76a1.1,1.1 0 1 0 2.2,0a1.1,1.1 0 1 0 -2.2,0M353.89,290.2a1.1,1.1 0 1 0 2.2,0a1.1,1.1 0 1 0 -2.2,0M355.23,288.88a1.1,1.1 0 1 0 2.2,0a1.1,1.1 0 1 0 -2.2,0M353.52,288.91a1.1,1.1 0 1 0 2.2,0a1.1,1.1 0 1 0 -2.2,0M352.97,287.2a1.1,1.1 0 1 0 2.2,0a1.1,1.1 0 1 0 -2.2,0M346.79,282.94a1.1,1.1 0 1 0 2.2,0a1.1,1.1 0 1 0 -2.2,0M355.81,282.75a1.1,1.1 0 1 0 2.2,0a1.1,1.1 0 1 0 -2.2,0M362.24,269.5a1.1,1.1 0 1 0 2.2,0a1.1,1.1 0 1 0 -2.2,0M357.18,278.87a1.1,1.1 0 1 0 2.2,0a1.1,1.1 0 1 0 -2.2,0M357.77,283.57a1.1,1.1 0 1 0 2.2,0a1.1,1.1 0 1 0 -2.2,0M355.71,289.66a1.1,1.1 0 1 0 2.2,0a1.1,1.1 0 1 0 -2.2,0M354.84,281.63a1.1,1.1 0 1 0 2.2,0a1.1,1.1 0 1 0 -2.2,0M360.84,279.91a1.1,1.1 0 1 0 2.2,0a1.1,1.1 0 1 0 -2.2,0M352.83,284.55a1.1,1.1 0 1 0 2.2,0a1.1,1.1 0 1 0 -2.2,0M365.01,270.79a1.1,1.1 0 1 0 2.2,0a1.1,1.1 0 1 0 -2.2,0M354.62,288.39a1.1,1.1 0 1 0 2.2,0a1.1,1.1 0 1 0 -2.2,0M362.82,283.01a1.1,1.1 0 1 0 2.2,0a1.1,1.1 0 1 0 -2.2,0M356.21,275.62a1.1,1.1 0 1 0 2.2,0a1.1,1.1 0 1 0 -2.2,0M354.48,290.68a1.1,1.1 0 1 0 2.2,0a1.1,1.1 0 1 0 -2.2,0M359.91,279.1a1.1,1.1 0 1 0 2.2,0a1.1,1.1 0 1 0 -2.2,0M365.27,281.93a1.1,1.1 0 1 0 2.2,0a1.1,1.1 0 1 0 -2.2,0M352.66,279.73a1.1,1.1 0 1 0 2.2,0a1.1,1.1 0 1 0 -2.2,0M360.9,284.15a1.1,1.1 0 1 0 2.2,0a1.1,1.1 0 1 0 -2.2,0M348.78,274.23a1.1,1.1 0 1 0 2.2,0a1.1,1.1 0 1 0 -2.2,0M350.04,270.67a1.1,1.1 0 1 0 2.2,0a1.1,1.1 0 1 0 -2.2,0M360.36,285.58a1.1,1.1 0 1 0 2.2,0a1.1,1.1 0 1 0 -2.2,0M354.06,287.44a1.1,1.1 0 1 0 2.2,0a1.1,1.1 0 1 0 -2.2,0M356.23,275.96a1.1,1.1 0 1 0 2.2,0a1.1,1.1 0 1 0 -2.2,0M363.9,271.56a1.1,1.1 0 1 0 2.2,0a1.1,1.1 0 1 0 -2.2,0M363.36,278.51a1.1,1.1 0 1 0 2.2,0a1.1,1.1 0 1 0 -2.2,0M357.83,279.8a1.1,1.1 0 1 0 2.2,0a1.1,1.1 0 1 0 -2.2,0M354.89,278.16a1.1,1.1 0 1 0 2.2,0a1.1,1.1 0 1 0 -2.2,0M357.87,286.27a1.1,1.1 0 1 0 2.2,0a1.1,1.1 0 1 0 -2.2,0M351.45,278.05a1.1,1.1 0 1 0 2.2,0a1.1,1.1 0 1 0 -2.2,0M361.94,276.12a1.1,1.1 0 1 0 2.2,0a1.1,1.1 0 1 0 -2.2,0M359.59,278.37a1.1,1.1 0 1 0 2.2,0a1.1,1.1 0 1 0 -2.2,0M347.78,279.21a1.1,1.1 0 1 0 2.2,0a1.1,1.1 0 1 0 -2.2,0M369.76,270.18a1.1,1.1 0 1 0 2.2,0a1.1,1.1 0 1 0 -2.2,0M358.34,282.41a1.1,1.1 0 1 0 2.2,0a1.1,1.1 0 1 0 -2.2,0M348.71,281.11a1.1,1.1 0 1 0 2.2,0a1.1,1.1 0 1 0 -2.2,0M353.8,282.11a1.1,1.1 0 1 0 2.2,0a1.1,1.1 0 1 0 -2.2,0M356.35,278.34a1.1,1.1 0 1 0 2.2,0a1.1,1.1 0 1 0 -2.2,0M362,280.07a1.1,1.1 0 1 0 2.2,0a1.1,1.1 0 1 0 -2.2,0M355.37,278.57a1.1,1.1 0 1 0 2.2,0a1.1,1.1 0 1 0 -2.2,0M355.92,279.07a1.1,1.1 0 1 0 2.2,0a1.1,1.1 0 1 0 -2.2,0M358.21,290.17a1.1,1.1 0 1 0 2.2,0a1.1,1.1 0 1 0 -2.2,0M356.22,288.96a1.1,1.1 0 1 0 2.2,0a1.1,1.1 0 1 0 -2.2,0M355.17,281.96a1.1,1.1 0 1 0 2.2,0a1.1,1.1 0 1 0 -2.2,0M347.67,276.04a1.1,1.1 0 1 0 2.2,0a1.1,1.1 0 1 0 -2.2,0M360.04,287.73a1.1,1.1 0 1 0 2.2,0a1.1,1.1 0 1 0 -2.2,0M358.58,277.42a1.1,1.1 0 1 0 2.2,0a1.1,1.1 0 1 0 -2.2,0M359.22,285.15a1.1,1.1 0 1 0 2.2,0a1.1,1.1 0 1 0 -2.2,0M357.13,273.07a1.1,1.1 0 1 0 2.2,0a1.1,1.1 0 1 0 -2.2,0M350.88,275.04a1.1,1.1 0 1 0 2.2,0a1.1,1.1 0 1 0 -2.2,0M368.66,272.76a1.1,1.1 0 1 0 2.2,0a1.1,1.1 0 1 0 -2.2,0M354.17,278.54a1.1,1.1 0 1 0 2.2,0a1.1,1.1 0 1 0 -2.2,0M368.29,274.67a1.1,1.1 0 1 0 2.2,0a1.1,1.1 0 1 0 -2.2,0M364.79,274.46a1.1,1.1 0 1 0 2.2,0a1.1,1.1 0 1 0 -2.2,0M345.5,277.87a1.1,1.1 0 1 0 2.2,0a1.1,1.1 0 1 0 -2.2,0M359.5,270.1a1.1,1.1 0 1 0 2.2,0a1.1,1.1 0 1 0 -2.2,0M353.73,287.54a1.1,1.1 0 1 0 2.2,0a1.1,1.1 0 1 0 -2.2,0M355.17,288.02a1.1,1.1 0 1 0 2.2,0a1.1,1.1 0 1 0 -2.2,0M355.41,281.78a1.1,1.1 0 1 0 2.2,0a1.1,1.1 0 1 0 -2.2,0M360.81,279.32a1.1,1.1 0 1 0 2.2,0a1.1,1.1 0 1 0 -2.2,0M359.21,280.91a1.1,1.1 0 1 0 2.2,0a1.1,1.1 0 1 0 -2.2,0M350.46,269.88a1.1,1.1 0 1 0 2.2,0a1.1,1.1 0 1 0 -2.2,0M357.84,288.03a1.1,1.1 0 1 0 2.2,0a1.1,1.1 0 1 0 -2.2,0M354.93,280.96a1.1,1.1 0 1 0 2.2,0a1.1,1.1 0 1 0 -2.2,0M356.58,290.31a1.1,1.1 0 1 0 2.2,0a1.1,1.1 0 1 0 -2.2,0M359.04,278.46a1.1,1.1 0 1 0 2.2,0a1.1,1.1 0 1 0 -2.2,0M343.18,271.55a1.1,1.1 0 1 0 2.2,0a1.1,1.1 0 1 0 -2.2,0M366.13,278.44a1.1,1.1 0 1 0 2.2,0a1.1,1.1 0 1 0 -2.2,0M349.46,273.36a1.1,1.1 0 1 0 2.2,0a1.1,1.1 0 1 0 -2.2,0M359.44,284.27a1.1,1.1 0 1 0 2.2,0a1.1,1.1 0 1 0 -2.2,0M356.25,285.49a1.1,1.1 0 1 0 2.2,0a1.1,1.1 0 1 0 -2.2,0M356.12,281.31a1.1,1.1 0 1 0 2.2,0a1.1,1.1 0 1 0 -2.2,0M359,282.48a1.1,1.1 0 1 0 2.2,0a1.1,1.1 0 1 0 -2.2,0M347.76,276.06a1.1,1.1 0 1 0 2.2,0a1.1,1.1 0 1 0 -2.2,0M355.76,270.69a1.1,1.1 0 1 0 2.2,0a1.1,1.1 0 1 0 -2.2,0M355.79,289.88a1.1,1.1 0 1 0 2.2,0a1.1,1.1 0 1 0 -2.2,0M354.98,273.38a1.1,1.1 0 1 0 2.2,0a1.1,1.1 0 1 0 -2.2,0M355.63,281.89a1.1,1.1 0 1 0 2.2,0a1.1,1.1 0 1 0 -2.2,0M359.58,278.4a1.1,1.1 0 1 0 2.2,0a1.1,1.1 0 1 0 -2.2,0M356,287.02a1.1,1.1 0 1 0 2.2,0a1.1,1.1 0 1 0 -2.2,0M355.46,288.61a1.1,1.1 0 1 0 2.2,0a1.1,1.1 0 1 0 -2.2,0M364.91,281.5a1.1,1.1 0 1 0 2.2,0a1.1,1.1 0 1 0 -2.2,0M354.96,272.81a1.1,1.1 0 1 0 2.2,0a1.1,1.1 0 1 0 -2.2,0M353.19,272.7a1.1,1.1 0 1 0 2.2,0a1.1,1.1 0 1 0 -2.2,0M355.73,288.52a1.1,1.1 0 1 0 2.2,0a1.1,1.1 0 1 0 -2.2,0M357.95,283.45a1.1,1.1 0 1 0 2.2,0a1.1,1.1 0 1 0 -2.2,0M367.85,269.96a1.1,1.1 0 1 0 2.2,0a1.1,1.1 0 1 0 -2.2,0M355.59,279.84a1.1,1.1 0 1 0 2.2,0a1.1,1.1 0 1 0 -2.2,0M347.48,276.61a1.1,1.1 0 1 0 2.2,0a1.1,1.1 0 1 0 -2.2,0M360.15,286.56a1.1,1.1 0 1 0 2.2,0a1.1,1.1 0 1 0 -2.2,0M352.82,288.16a1.1,1.1 0 1 0 2.2,0a1.1,1.1 0 1 0 -2.2,0M353.82,287.72a1.1,1.1 0 1 0 2.2,0a1.1,1.1 0 1 0 -2.2,0M350.4,279.54a1.1,1.1 0 1 0 2.2,0a1.1,1.1 0 1 0 -2.2,0M356.61,290.56a1.1,1.1 0 1 0 2.2,0a1.1,1.1 0 1 0 -2.2,0M355.99,283.45a1.1,1.1 0 1 0 2.2,0a1.1,1.1 0 1 0 -2.2,0M351.23,276.44a1.1,1.1 0 1 0 2.2,0a1.1,1.1 0 1 0 -2.2,0M354.71,289.03a1.1,1.1 0 1 0 2.2,0a1.1,1.1 0 1 0 -2.2,0M359.29,277.58a1.1,1.1 0 1 0 2.2,0a1.1,1.1 0 1 0 -2.2,0M348.91,276.67a1.1,1.1 0 1 0 2.2,0a1.1,1.1 0 1 0 -2.2,0M358.53,272.47a1.1,1.1 0 1 0 2.2,0a1.1,1.1 0 1 0 -2.2,0M357.5,287.91a1.1,1.1 0 1 0 2.2,0a1.1,1.1 0 1 0 -2.2,0M356.62,289.01a1.1,1.1 0 1 0 2.2,0a1.1,1.1 0 1 0 -2.2,0M346.98,283.2a1.1,1.1 0 1 0 2.2,0a1.1,1.1 0 1 0 -2.2,0M355.42,286.71a1.1,1.1 0 1 0 2.2,0a1.1,1.1 0 1 0 -2.2,0M359.88,285.29a1.1,1.1 0 1 0 2.2,0a1.1,1.1 0 1 0 -2.2,0M352.8,283.59a1.1,1.1 0 1 0 2.2,0a1.1,1.1 0 1 0 -2.2,0M351.56,250.16a1.1,1.1 0 1 0 2.2,0a1.1,1.1 0 1 0 -2.2,0M357.85,250.76a1.1,1.1 0 1 0 2.2,0a1.1,1.1 0 1 0 -2.2,0M352.72,265.62a1.1,1.1 0 1 0 2.2,0a1.1,1.1 0 1 0 -2.2,0M356.38,265.61a1.1,1.1 0 1 0 2.2,0a1.1,1.1 0 1 0 -2.2,0M354.59,251.18a1.1,1.1 0 1 0 2.2,0a1.1,1.1 0 1 0 -2.2,0M358.57,255.61a1.1,1.1 0 1 0 2.2,0a1.1,1.1 0 1 0 -2.2,0M356.42,259.06a1.1,1.1 0 1 0 2.2,0a1.1,1.1 0 1 0 -2.2,0M355.61,251.48a1.1,1.1 0 1 0 2.2,0a1.1,1.1 0 1 0 -2.2,0M357.99,244.53a1.1,1.1 0 1 0 2.2,0a1.1,1.1 0 1 0 -2.2,0M351.12,253.13a1.1,1.1 0 1 0 2.2,0a1.1,1.1 0 1 0 -2.2,0M353.41,261.73a1.1,1.1 0 1 0 2.2,0a1.1,1.1 0 1 0 -2.2,0M352,263.58a1.1,1.1 0 1 0 2.2,0a1.1,1.1 0 1 0 -2.2,0M358.26,256.77a1.1,1.1 0 1 0 2.2,0a1.1,1.1 0 1 0 -2.2,0M353.86,268.45a1.1,1.1 0 1 0 2.2,0a1.1,1.1 0 1 0 -2.2,0M358.09,266.59a1.1,1.1 0 1 0 2.2,0a1.1,1.1 0 1 0 -2.2,0M358.27,255.5a1.1,1.1 0 1 0 2.2,0a1.1,1.1 0 1 0 -2.2,0M355.58,266.05a1.1,1.1 0 1 0 2.2,0a1.1,1.1 0 1 0 -2.2,0M356.75,264.65a1.1,1.1 0 1 0 2.2,0a1.1,1.1 0 1 0 -2.2,0M361.43,263.51a1.1,1.1 0 1 0 2.2,0a1.1,1.1 0 1 0 -2.2,0M356.33,265.94a1.1,1.1 0 1 0 2.2,0a1.1,1.1 0 1 0 -2.2,0M356.18,262.02a1.1,1.1 0 1 0 2.2,0a1.1,1.1 0 1 0 -2.2,0M356.26,250.1a1.1,1.1 0 1 0 2.2,0a1.1,1.1 0 1 0 -2.2,0M359.53,260.75a1.1,1.1 0 1 0 2.2,0a1.1,1.1 0 1 0 -2.2,0M359.59,238.62a1.1,1.1 0 1 0 2.2,0a1.1,1.1 0 1 0 -2.2,0M356.03,259.15a1.1,1.1 0 1 0 2.2,0a1.1,1.1 0 1 0 -2.2,0M352.41,256.91a1.1,1.1 0 1 0 2.2,0a1.1,1.1 0 1 0 -2.2,0M358.24,263.19a1.1,1.1 0 1 0 2.2,0a1.1,1.1 0 1 0 -2.2,0M361.28,252.19a1.1,1.1 0 1 0 2.2,0a1.1,1.1 0 1 0 -2.2,0M351.56,263.69a1.1,1.1 0 1 0 2.2,0a1.1,1.1 0 1 0 -2.2,0M352.26,245.31a1.1,1.1 0 1 0 2.2,0a1.1,1.1 0 1 0 -2.2,0M354.45,252.12a1.1,1.1 0 1 0 2.2,0a1.1,1.1 0 1 0 -2.2,0M358.63,263.02a1.1,1.1 0 1 0 2.2,0a1.1,1.1 0 1 0 -2.2,0M354.72,264.6a1.1,1.1 0 1 0 2.2,0a1.1,1.1 0 1 0 -2.2,0M358.52,256.8a1.1,1.1 0 1 0 2.2,0a1.1,1.1 0 1 0 -2.2,0M353.98,254.6a1.1,1.1 0 1 0 2.2,0a1.1,1.1 0 1 0 -2.2,0M351.12,266.94a1.1,1.1 0 1 0 2.2,0a1.1,1.1 0 1 0 -2.2,0M352.04,264.89a1.1,1.1 0 1 0 2.2,0a1.1,1.1 0 1 0 -2.2,0M357.73,242.29a1.1,1.1 0 1 0 2.2,0a1.1,1.1 0 1 0 -2.2,0M352.71,254.08a1.1,1.1 0 1 0 2.2,0a1.1,1.1 0 1 0 -2.2,0M352.29,253.52a1.1,1.1 0 1 0 2.2,0a1.1,1.1 0 1 0 -2.2,0M355.06,268.38a1.1,1.1 0 1 0 2.2,0a1.1,1.1 0 1 0 -2.2,0M351.53,267.91a1.1,1.1 0 1 0 2.2,0a1.1,1.1 0 1 0 -2.2,0M354.78,237.09a1.1,1.1 0 1 0 2.2,0a1.1,1.1 0 1 0 -2.2,0M354.41,236.95a1.1,1.1 0 1 0 2.2,0a1.1,1.1 0 1 0 -2.2,0M360.57,262.87a1.1,1.1 0 1 0 2.2,0a1.1,1.1 0 1 0 -2.2,0M357.23,242.66a1.1,1.1 0 1 0 2.2,0a1.1,1.1 0 1 0 -2.2,0M361.21,248.72a1.1,1.1 0 1 0 2.2,0a1.1,1.1 0 1 0 -2.2,0M356.99,243.18a1.1,1.1 0 1 0 2.2,0a1.1,1.1 0 1 0 -2.2,0M353.14,253.56a1.1,1.1 0 1 0 2.2,0a1.1,1.1 0 1 0 -2.2,0M354.61,267.1a1.1,1.1 0 1 0 2.2,0a1.1,1.1 0 1 0 -2.2,0M354.99,251.03a1.1,1.1 0 1 0 2.2,0a1.1,1.1 0 1 0 -2.2,0M353.41,267.74a1.1,1.1 0 1 0 2.2,0a1.1,1.1 0 1 0 -2.2,0M353.98,252.98a1.1,1.1 0 1 0 2.2,0a1.1,1.1 0 1 0 -2.2,0M355.46,268.63a1.1,1.1 0 1 0 2.2,0a1.1,1.1 0 1 0 -2.2,0M358.02,262.38a1.1,1.1 0 1 0 2.2,0a1.1,1.1 0 1 0 -2.2,0" fill="#bdbdbd"/><path d="M350.04,252.8a1.15,1.15 0 1 0 2.3,0a1.15,1.15 0 1 0 -2.3,0M349.89,241.59a1.15,1.15 0 1 0 2.3,0a1.15,1.15 0 1 0 -2.3,0M348.91,258.35a1.15,1.15 0 1 0 2.3,0a1.15,1.15 0 1 0 -2.3,0M346.81,253.7a1.15,1.15 0 1 0 2.3,0a1.15,1.15 0 1 0 -2.3,0M347.23,259.55a1.15,1.15 0 1 0 2.3,0a1.15,1.15 0 1 0 -2.3,0M347.38,259.23a1.15,1.15 0 1 0 2.3,0a1.15,1.15 0 1 0 -2.3,0M344.98,256.98a1.15,1.15 0 1 0 2.3,0a1.15,1.15 0 1 0 -2.3,0M347.39,257.42a1.15,1.15 0 1 0 2.3,0a1.15,1.15 0 1 0 -2.3,0M349.39,264.29a1.15,1.15 0 1 0 2.3,0a1.15,1.15 0 1 0 -2.3,0M347.81,256.15a1.15,1.15 0 1 0 2.3,0a1.15,1.15 0 1 0 -2.3,0M346.33,257.31a1.15,1.15 0 1 0 2.3,0a1.15,1.15 0 1 0 -2.3,0M349.58,255.84a1.15,1.15 0 1 0 2.3,0a1.15,1.15 0 1 0 -2.3,0M344.82,245.12a1.15,1.15 0 1 0 2.3,0a1.15,1.15 0 1 0 -2.3,0M346.66,268.1a1.15,1.15 0 1 0 2.3,0a1.15,1.15 0 1 0 -2.3,0M346.66,262.63a1.15,1.15 0 1 0 2.3,0a1.15,1.15 0 1 0 -2.3,0M345.69,249.59a1.15,1.15 0 1 0 2.3,0a1.15,1.15 0 1 0 -2.3,0M349.03,254.7a1.15,1.15 0 1 0 2.3,0a1.15,1.15 0 1 0 -2.3,0M348.18,263.97a1.15,1.15 0 1 0 2.3,0a1.15,1.15 0 1 0 -2.3,0M349.82,250.46a1.15,1.15 0 1 0 2.3,0a1.15,1.15 0 1 0 -2.3,0M349.35,250.48a1.15,1.15 0 1 0 2.3,0a1.15,1.15 0 1 0 -2.3,0M347.95,265.03a1.15,1.15 0 1 0 2.3,0a1.15,1.15 0 1 0 -2.3,0M348.75,254.34a1.15,1.15 0 1 0 2.3,0a1.15,1.15 0 1 0 -2.3,0M348.95,259.94a1.15,1.15 0 1 0 2.3,0a1.15,1.15 0 1 0 -2.3,0M348.61,255.09a1.15,1.15 0 1 0 2.3,0a1.15,1.15 0 1 0 -2.3,0M349.65,251.28a1.15,1.15 0 1 0 2.3,0a1.15,1.15 0 1 0 -2.3,0M348.43,249.5a1.15,1.15 0 1 0 2.3,0a1.15,1.15 0 1 0 -2.3,0M348.21,253.29a1.15,1.15 0 1 0 2.3,0a1.15,1.15 0 1 0 -2.3,0M346.23,252.57a1.15,1.15 0 1 0 2.3,0a1.15,1.15 0 1 0 -2.3,0M346.62,262.56a1.15,1.15 0 1 0 2.3,0a1.15,1.15 0 1 0 -2.3,0M344.8,252.71a1.15,1.15 0 1 0 2.3,0a1.15,1.15 0 1 0 -2.3,0M348.14,247.37a1.15,1.15 0 1 0 2.3,0a1.15,1.15 0 1 0 -2.3,0M318.93,200.76a1.15,1.15 0 1 0 2.3,0a1.15,1.15 0 1 0 -2.3,0M324.85,202.61a1.15,1.15 0 1 0 2.3,0a1.15,1.15 0 1 0 -2.3,0M331.72,198.07a1.15,1.15 0 1 0 2.3,0a1.15,1.15 0 1 0 -2.3,0M333.37,220.11a1.15,1.15 0 1 0 2.3,0a1.15,1.15 0 1 0 -2.3,0M337.55,221.97a1.15,1.15 0 1 0 2.3,0a1.15,1.15 0 1 0 -2.3,0M342.42,224.49a1.15,1.15 0 1 0 2.3,0a1.15,1.15 0 1 0 -2.3,0M342.42,228.02a1.15,1.15 0 1 0 2.3,0a1.15,1.15 0 1 0 -2.3,0M336.25,233.07a1.15,1.15 0 1 0 2.3,0a1.15,1.15 0 1 0 -2.3,0M347.99,239.13a1.15,1.15 0 1 0 2.3,0a1.15,1.15 0 1 0 -2.3,0M314.58,242.67a1.15,1.15 0 1 0 2.3,0a1.15,1.15 0 1 0 -2.3,0" fill="#2653a0"/><path d="M366.09,259.64a1.15,1.15 0 1 0 2.3,0a1.15,1.15 0 1 0 -2.3,0M362.99,242.63a1.15,1.15 0 1 0 2.3,0a1.15,1.15 0 1 0 -2.3,0M367.46,251.51a1.15,1.15 0 1 0 2.3,0a1.15,1.15 0 1 0 -2.3,0M362.39,251.73a1.15,1.15 0 1 0 2.3,0a1.15,1.15 0 1 0 -2.3,0M369.88,256.29a1.15,1.15 0 1 0 2.3,0a1.15,1.15 0 1 0 -2.3,0M363.19,245.07a1.15,1.15 0 1 0 2.3,0a1.15,1.15 0 1 0 -2.3,0M365.59,241.37a1.15,1.15 0 1 0 2.3,0a1.15,1.15 0 1 0 -2.3,0M367.67,261.75a1.15,1.15 0 1 0 2.3,0a1.15,1.15 0 1 0 -2.3,0M362.93,253.71a1.15,1.15 0 1 0 2.3,0a1.15,1.15 0 1 0 -2.3,0M364.12,256.82a1.15,1.15 0 1 0 2.3,0a1.15,1.15 0 1 0 -2.3,0M364.55,243.52a1.15,1.15 0 1 0 2.3,0a1.15,1.15 0 1 0 -2.3,0M362.58,261.05a1.15,1.15 0 1 0 2.3,0a1.15,1.15 0 1 0 -2.3,0M364.59,242.52a1.15,1.15 0 1 0 2.3,0a1.15,1.15 0 1 0 -2.3,0M365.15,247.54a1.15,1.15 0 1 0 2.3,0a1.15,1.15 0 1 0 -2.3,0M366.44,245.58a1.15,1.15 0 1 0 2.3,0a1.15,1.15 0 1 0 -2.3,0M362.51,256.78a1.15,1.15 0 1 0 2.3,0a1.15,1.15 0 1 0 -2.3,0M363.5,267.83a1.15,1.15 0 1 0 2.3,0a1.15,1.15 0 1 0 -2.3,0M366.26,246.36a1.15,1.15 0 1 0 2.3,0a1.15,1.15 0 1 0 -2.3,0M363.3,236.39a1.15,1.15 0 1 0 2.3,0a1.15,1.15 0 1 0 -2.3,0M363.14,257.58a1.15,1.15 0 1 0 2.3,0a1.15,1.15 0 1 0 -2.3,0M364.59,265.27a1.15,1.15 0 1 0 2.3,0a1.15,1.15 0 1 0 -2.3,0M363.87,252.51a1.15,1.15 0 1 0 2.3,0a1.15,1.15 0 1 0 -2.3,0M367.53,256.49a1.15,1.15 0 1 0 2.3,0a1.15,1.15 0 1 0 -2.3,0M362.82,244.95a1.15,1.15 0 1 0 2.3,0a1.15,1.15 0 1 0 -2.3,0M366.14,238.78a1.15,1.15 0 1 0 2.3,0a1.15,1.15 0 1 0 -2.3,0M366.21,254.14a1.15,1.15 0 1 0 2.3,0a1.15,1.15 0 1 0 -2.3,0M367.75,254.74a1.15,1.15 0 1 0 2.3,0a1.15,1.15 0 1 0 -2.3,0M365.85,262.75a1.15,1.15 0 1 0 2.3,0a1.15,1.15 0 1 0 -2.3,0M370.57,263.61a1.15,1.15 0 1 0 2.3,0a1.15,1.15 0 1 0 -2.3,0M363.79,240.22a1.15,1.15 0 1 0 2.3,0a1.15,1.15 0 1 0 -2.3,0M369.67,257.76a1.15,1.15 0 1 0 2.3,0a1.15,1.15 0 1 0 -2.3,0M366.49,254.54a1.15,1.15 0 1 0 2.3,0a1.15,1.15 0 1 0 -2.3,0M367.93,262.45a1.15,1.15 0 1 0 2.3,0a1.15,1.15 0 1 0 -2.3,0M362.8,264.9a1.15,1.15 0 1 0 2.3,0a1.15,1.15 0 1 0 -2.3,0M365.52,238.53a1.15,1.15 0 1 0 2.3,0a1.15,1.15 0 1 0 -2.3,0M365.44,248.88a1.15,1.15 0 1 0 2.3,0a1.15,1.15 0 1 0 -2.3,0M363.58,260.33a1.15,1.15 0 1 0 2.3,0a1.15,1.15 0 1 0 -2.3,0M365.61,256.15a1.15,1.15 0 1 0 2.3,0a1.15,1.15 0 1 0 -2.3,0M362.76,268.55a1.15,1.15 0 1 0 2.3,0a1.15,1.15 0 1 0 -2.3,0M366.22,257.71a1.15,1.15 0 1 0 2.3,0a1.15,1.15 0 1 0 -2.3,0M366.38,246.05a1.15,1.15 0 1 0 2.3,0a1.15,1.15 0 1 0 -2.3,0M363.86,268.24a1.15,1.15 0 1 0 2.3,0a1.15,1.15 0 1 0 -2.3,0M363.85,246.22a1.15,1.15 0 1 0 2.3,0a1.15,1.15 0 1 0 -2.3,0M364.46,262.18a1.15,1.15 0 1 0 2.3,0a1.15,1.15 0 1 0 -2.3,0M364.12,240.13a1.15,1.15 0 1 0 2.3,0a1.15,1.15 0 1 0 -2.3,0M364.37,249.2a1.15,1.15 0 1 0 2.3,0a1.15,1.15 0 1 0 -2.3,0M363.65,249.58a1.15,1.15 0 1 0 2.3,0a1.15,1.15 0 1 0 -2.3,0M362.74,257.97a1.15,1.15 0 1 0 2.3,0a1.15,1.15 0 1 0 -2.3,0M363.15,247.23a1.15,1.15 0 1 0 2.3,0a1.15,1.15 0 1 0 -2.3,0M365.51,264.8a1.15,1.15 0 1 0 2.3,0a1.15,1.15 0 1 0 -2.3,0M364.71,261.76a1.15,1.15 0 1 0 2.3,0a1.15,1.15 0 1 0 -2.3,0M363.63,256.7a1.15,1.15 0 1 0 2.3,0a1.15,1.15 0 1 0 -2.3,0M365.52,238.55a1.15,1.15 0 1 0 2.3,0a1.15,1.15 0 1 0 -2.3,0M369.57,260.83a1.15,1.15 0 1 0 2.3,0a1.15,1.15 0 1 0 -2.3,0M368.8,240.09a1.15,1.15 0 1 0 2.3,0a1.15,1.15 0 1 0 -2.3,0M362.52,256.22a1.15,1.15 0 1 0 2.3,0a1.15,1.15 0 1 0 -2.3,0M366.74,267.64a1.15,1.15 0 1 0 2.3,0a1.15,1.15 0 1 0 -2.3,0M364.08,259.86a1.15,1.15 0 1 0 2.3,0a1.15,1.15 0 1 0 -2.3,0M368.12,242.8a1.15,1.15 0 1 0 2.3,0a1.15,1.15 0 1 0 -2.3,0M372.01,267.09a1.15,1.15 0 1 0 2.3,0a1.15,1.15 0 1 0 -2.3,0M363.62,256.12a1.15,1.15 0 1 0 2.3,0a1.15,1.15 0 1 0 -2.3,0M362.99,242.74a1.15,1.15 0 1 0 2.3,0a1.15,1.15 0 1 0 -2.3,0M366.93,240.57a1.15,1.15 0 1 0 2.3,0a1.15,1.15 0 1 0 -2.3,0M365.47,242a1.15,1.15 0 1 0 2.3,0a1.15,1.15 0 1 0 -2.3,0M363.32,265.4a1.15,1.15 0 1 0 2.3,0a1.15,1.15 0 1 0 -2.3,0M362.69,254.1a1.15,1.15 0 1 0 2.3,0a1.15,1.15 0 1 0 -2.3,0M367.86,235.5a1.15,1.15 0 1 0 2.3,0a1.15,1.15 0 1 0 -2.3,0M365.44,261.77a1.15,1.15 0 1 0 2.3,0a1.15,1.15 0 1 0 -2.3,0M364.34,268.85a1.15,1.15 0 1 0 2.3,0a1.15,1.15 0 1 0 -2.3,0M363.55,256.5a1.15,1.15 0 1 0 2.3,0a1.15,1.15 0 1 0 -2.3,0M363.15,254.36a1.15,1.15 0 1 0 2.3,0a1.15,1.15 0 1 0 -2.3,0M365.07,245.29a1.15,1.15 0 1 0 2.3,0a1.15,1.15 0 1 0 -2.3,0M373.36,247.44a1.15,1.15 0 1 0 2.3,0a1.15,1.15 0 1 0 -2.3,0M370.34,257.75a1.15,1.15 0 1 0 2.3,0a1.15,1.15 0 1 0 -2.3,0M373.17,260.79a1.15,1.15 0 1 0 2.3,0a1.15,1.15 0 1 0 -2.3,0M376.36,264.34a1.15,1.15 0 1 0 2.3,0a1.15,1.15 0 1 0 -2.3,0M376.51,261.09a1.15,1.15 0 1 0 2.3,0a1.15,1.15 0 1 0 -2.3,0M371.79,255.47a1.15,1.15 0 1 0 2.3,0a1.15,1.15 0 1 0 -2.3,0M407.07,166.78a1.15,1.15 0 1 0 2.3,0a1.15,1.15 0 1 0 -2.3,0M387.53,179.3a1.15,1.15 0 1 0 2.3,0a1.15,1.15 0 1 0 -2.3,0M387.77,189.82a1.15,1.15 0 1 0 2.3,0a1.15,1.15 0 1 0 -2.3,0M392.8,189.82a1.15,1.15 0 1 0 2.3,0a1.15,1.15 0 1 0 -2.3,0M395.02,186.67a1.15,1.15 0 1 0 2.3,0a1.15,1.15 0 1 0 -2.3,0M385.66,198.01a1.15,1.15 0 1 0 2.3,0a1.15,1.15 0 1 0 -2.3,0M397.48,197.43a1.15,1.15 0 1 0 2.3,0a1.15,1.15 0 1 0 -2.3,0M417.59,196.84a1.15,1.15 0 1 0 2.3,0a1.15,1.15 0 1 0 -2.3,0M395.72,207.72a1.15,1.15 0 1 0 2.3,0a1.15,1.15 0 1 0 -2.3,0M390.34,210.88a1.15,1.15 0 1 0 2.3,0a1.15,1.15 0 1 0 -2.3,0M372.56,206.55a1.15,1.15 0 1 0 2.3,0a1.15,1.15 0 1 0 -2.3,0M374.32,207.95a1.15,1.15 0 1 0 2.3,0a1.15,1.15 0 1 0 -2.3,0M373.15,205.61a1.15,1.15 0 1 0 2.3,0a1.15,1.15 0 1 0 -2.3,0M381.92,206.78a1.15,1.15 0 1 0 2.3,0a1.15,1.15 0 1 0 -2.3,0M382.5,208.89a1.15,1.15 0 1 0 2.3,0a1.15,1.15 0 1 0 -2.3,0M377.83,210.29a1.15,1.15 0 1 0 2.3,0a1.15,1.15 0 1 0 -2.3,0M374.9,212.87a1.15,1.15 0 1 0 2.3,0a1.15,1.15 0 1 0 -2.3,0M369.05,214.97a1.15,1.15 0 1 0 2.3,0a1.15,1.15 0 1 0 -2.3,0M370.22,214.15a1.15,1.15 0 1 0 2.3,0a1.15,1.15 0 1 0 -2.3,0M383.67,217.89a1.15,1.15 0 1 0 2.3,0a1.15,1.15 0 1 0 -2.3,0M372.56,219.65a1.15,1.15 0 1 0 2.3,0a1.15,1.15 0 1 0 -2.3,0M371.39,221.4a1.15,1.15 0 1 0 2.3,0a1.15,1.15 0 1 0 -2.3,0M373.15,221.99a1.15,1.15 0 1 0 2.3,0a1.15,1.15 0 1 0 -2.3,0M377.24,223.16a1.15,1.15 0 1 0 2.3,0a1.15,1.15 0 1 0 -2.3,0M404.14,221.4a1.15,1.15 0 1 0 2.3,0a1.15,1.15 0 1 0 -2.3,0M407.89,222.92a1.15,1.15 0 1 0 2.3,0a1.15,1.15 0 1 0 -2.3,0M371.39,226.08a1.15,1.15 0 1 0 2.3,0a1.15,1.15 0 1 0 -2.3,0M364.96,226.9a1.15,1.15 0 1 0 2.3,0a1.15,1.15 0 1 0 -2.3,0M377.24,227.84a1.15,1.15 0 1 0 2.3,0a1.15,1.15 0 1 0 -2.3,0M385.43,236.96a1.15,1.15 0 1 0 2.3,0a1.15,1.15 0 1 0 -2.3,0M385.35,236.9a1.15,1.15 0 1 0 2.3,0a1.15,1.15 0 1 0 -2.3,0M385.35,240.8a1.15,1.15 0 1 0 2.3,0a1.15,1.15 0 1 0 -2.3,0M374.15,260.5a1.15,1.15 0 1 0 2.3,0a1.15,1.15 0 1 0 -2.3,0M377.45,259.8a1.15,1.15 0 1 0 2.3,0a1.15,1.15 0 1 0 -2.3,0M386.05,264.4a1.15,1.15 0 1 0 2.3,0a1.15,1.15 0 1 0 -2.3,0M370.85,259.8a1.15,1.15 0 1 0 2.3,0a1.15,1.15 0 1 0 -2.3,0" fill="#e0262a"/><line x1="280.6" y1="269" x2="435.3" y2="269" stroke="#111" stroke-width="1.2" stroke-dasharray="5,2.2,1.2,2.2"/><line x1="352.7" y1="160.5" x2="352.7" y2="297" stroke="#111" stroke-width="1.2" stroke-dasharray="5,2.2,1.2,2.2"/><line x1="363" y1="160.5" x2="363" y2="297" stroke="#111" stroke-width="1.2" stroke-dasharray="5,2.2,1.2,2.2"/><rect x="280.6" y="160.5" width="154.7" height="136.5" fill="none" stroke="#222" stroke-width="1.1" /><rect x="280.6" y="160.5" width="63.3" height="34.8" fill="#fff" stroke="#222" stroke-width="1.1"/><circle cx="285.5" cy="168.5" r="1.1" fill="#e0262a"/><text x="289.8" y="171.74" font-size="9" text-anchor="start" fill="#231f20" >Up</text><text x="321" y="171.74" font-size="9" text-anchor="start" fill="#231f20" >108</text><circle cx="285.5" cy="180.2" r="1.1" fill="#bdbdbd"/><text x="289.8" y="183.44" font-size="9" text-anchor="start" fill="#231f20" >Not Sig</text><text x="321" y="183.44" font-size="9" text-anchor="start" fill="#231f20" >795</text><circle cx="285.5" cy="190.4" r="1.1" fill="#2653a0"/><text x="289.8" y="193.64" font-size="9" text-anchor="start" fill="#231f20" >Down</text><text x="321" y="193.64" font-size="9" text-anchor="start" fill="#231f20" >41</text><text x="277" y="293.9" font-size="8.6" text-anchor="end" fill="#231f20" >0</text><text x="277" y="260.24" font-size="8.6" text-anchor="end" fill="#231f20" >2</text><text x="277" y="226.58" font-size="8.6" text-anchor="end" fill="#231f20" >4</text><text x="277" y="192.92" font-size="8.6" text-anchor="end" fill="#231f20" >6</text><text x="312.6" y="308.6" font-size="8.6" text-anchor="middle" fill="#231f20" >−5</text><text x="356.1" y="308.6" font-size="8.6" text-anchor="middle" fill="#231f20" >0</text><text x="399.6" y="308.6" font-size="8.6" text-anchor="middle" fill="#231f20" >5</text><text x="355" y="318.8" font-size="8.6" text-anchor="middle" fill="#231f20">Log<tspan font-size="6" dy="2">2</tspan><tspan dy="-2">(Fold Change)</tspan></text><text transform="translate(269.7,231.5) rotate(-90)" font-size="8.6" text-anchor="middle" fill="#231f20">−Log<tspan font-size="6" dy="2">10</tspan><tspan dy="-2">(</tspan><tspan font-style="italic">p</tspan>-value)</text><text x="394.2" y="190.8" font-size="8.6" text-anchor="start" fill="#231f20" >WDR43</text><text x="399.2" y="208.8" font-size="8.6" text-anchor="start" fill="#231f20" >UTP15</text><text x="379.5" y="218" font-size="8.6" text-anchor="start" fill="#231f20" >UTP6</text><text x="388.7" y="233.3" font-size="8.6" text-anchor="start" fill="#231f20" >CIRH1A</text><text x="364.6" y="236.9" font-size="8.6" text-anchor="start" fill="#231f20" >FUS</text><text x="392" y="243.5" font-size="8.6" text-anchor="start" fill="#231f20" >LIN28A</text><text x="373.4" y="260.2" font-size="8.6" text-anchor="start" fill="#231f20" >POLR2B</text><text x="376.2" y="279" font-size="8.6" text-anchor="start" fill="#231f20" >UTP3</text><line x1="398.6" y1="197.4" x2="403" y2="193.1" stroke="#333" stroke-width="0.6" /><line x1="418.7" y1="196.8" x2="415.8" y2="199.5" stroke="#333" stroke-width="0.6" /><line x1="409" y1="222.9" x2="412.9" y2="225.3" stroke="#333" stroke-width="0.6" /><line x1="374.3" y1="219" x2="379" y2="217.3" stroke="#333" stroke-width="0.6" /><line x1="386.5" y1="240.8" x2="392" y2="240.8" stroke="#333" stroke-width="0.6" /><line x1="368.1" y1="269" x2="376" y2="274.3" stroke="#333" stroke-width="0.6" /><line x1="372" y1="259.8" x2="373.4" y2="257.5" stroke="#333" stroke-width="0.6" /><text x="1.5" y="322.3" font-size="11" font-weight="bold" fill="#000">f</text><line x1="27.2" y1="335" x2="219.5" y2="335" stroke="#1a1a1a" stroke-width="1.3" /><rect x="33.3" y="317.2" width="64.3" height="15.2" rx="5" ry="5" fill="#a3c49c" stroke="#2a2a2a" stroke-width="0.9"/><text x="65.5" y="327.7" font-size="8.6" text-anchor="middle" fill="#231f20" >GAL4-UTP15</text><circle cx="49.6" cy="335" r="4" fill="#3b7fc0" stroke="#1d3f66" stroke-width="0.6"/><circle cx="57.5" cy="335" r="4" fill="#3b7fc0" stroke="#1d3f66" stroke-width="0.6"/><circle cx="65.4" cy="335" r="4" fill="#3b7fc0" stroke="#1d3f66" stroke-width="0.6"/><circle cx="73.4" cy="335" r="4" fill="#3b7fc0" stroke="#1d3f66" stroke-width="0.6"/><circle cx="81.4" cy="335" r="4" fill="#3b7fc0" stroke="#1d3f66" stroke-width="0.6"/><text x="63.4" y="349" font-size="8.6" text-anchor="middle" fill="#231f20" >5 × UAS</text><rect x="105.3" y="330.2" width="27" height="9.8" fill="#fff" stroke="#2a2a2a" stroke-width="0.8" /><text x="118.8" y="338.2" font-size="8.6" text-anchor="middle" fill="#231f20" >SV40</text><path d="M132.3,327.3 L139.8,335 L132.3,343.1 Z" fill="#fff" stroke="#2a2a2a" stroke-width="0.8" stroke-linejoin="miter"/><rect x="140.4" y="330.6" width="72.5" height="9.4" fill="#f2c98a" stroke="#2a2a2a" stroke-width="0.8" /><text x="176.6" y="338.3" font-size="8.6" text-anchor="middle" fill="#231f20" >Luciferase</text><line x1="92" y1="362.4" x2="92" y2="471.6" stroke="#222" stroke-width="1" /><line x1="92" y1="471.6" x2="168.8" y2="471.6" stroke="#222" stroke-width="1" /><line x1="89.6" y1="471.6" x2="92" y2="471.6" stroke="#222" stroke-width="0.9" /><text x="89" y="474.7" font-size="8.6" text-anchor="end" fill="#231f20" >0</text><line x1="89.6" y1="444.3" x2="92" y2="444.3" stroke="#222" stroke-width="0.9" /><text x="89" y="447.4" font-size="8.6" text-anchor="end" fill="#231f20" >1</text><line x1="89.6" y1="417" x2="92" y2="417" stroke="#222" stroke-width="0.9" /><text x="89" y="420.1" font-size="8.6" text-anchor="end" fill="#231f20" >2</text><line x1="89.6" y1="389.7" x2="92" y2="389.7" stroke="#222" stroke-width="0.9" /><text x="89" y="392.8" font-size="8.6" text-anchor="end" fill="#231f20" >3</text><line x1="89.6" y1="362.4" x2="92" y2="362.4" stroke="#222" stroke-width="0.9" /><text x="89" y="365.5" font-size="8.6" text-anchor="end" fill="#231f20" >4</text><rect x="106.2" y="448.94" width="21.2" height="22.66" fill="#a0a0a4" stroke="none" stroke-width="1" /><rect x="137.6" y="377.42" width="21" height="94.19" fill="#c0272d" stroke="none" stroke-width="1" /><line x1="116.8" y1="450.03" x2="116.8" y2="447.85" stroke="#111" stroke-width="0.8" /><line x1="113.3" y1="450.03" x2="120.3" y2="450.03" stroke="#111" stroke-width="0.8" /><line x1="113.3" y1="447.85" x2="120.3" y2="447.85" stroke="#111" stroke-width="0.8" /><line x1="148" y1="381.51" x2="148" y2="373.32" stroke="#111" stroke-width="0.8" /><line x1="144.5" y1="381.51" x2="151.5" y2="381.51" stroke="#111" stroke-width="0.8" /><line x1="144.5" y1="373.32" x2="151.5" y2="373.32" stroke="#111" stroke-width="0.8" /><circle cx="112.5" cy="449.76" r="1.5" fill="#111"/><circle cx="116.8" cy="448.12" r="1.5" fill="#111"/><circle cx="121" cy="448.4" r="1.5" fill="#111"/><circle cx="148" cy="373.87" r="1.5" fill="#111"/><circle cx="146.5" cy="379.33" r="1.5" fill="#111"/><circle cx="148.5" cy="381.51" r="1.5" fill="#111"/><path d="M116.8,441.5 V360.3 H148 V370" fill="none" stroke="#333" stroke-width="0.9"/><text x="132.4" y="359.9" font-size="7.5" text-anchor="middle" fill="#231f20" >****</text><text x="116.8" y="487" font-size="8.6" text-anchor="middle" fill="#231f20" >Ctrl</text><text x="148" y="487" font-size="8.6" text-anchor="middle" fill="#231f20" >UTP15</text><text transform="translate(70.1,420.3) rotate(-90)" font-size="8.6" text-anchor="middle" fill="#231f20" >Relative luciferase</text><text transform="translate(78.9,420.3) rotate(-90)" font-size="8.6" text-anchor="middle" fill="#231f20" >intensity</text><line x1="116.8" y1="471.6" x2="116.8" y2="474" stroke="#222" stroke-width="0.9" /><line x1="148" y1="471.6" x2="148" y2="474" stroke="#222" stroke-width="0.9" /><text x="257.5" y="342.6" font-size="11" font-weight="bold" fill="#000">g</text><rect x="269" y="346.4" width="195" height="145.8" fill="#f0f0f0" stroke="none" stroke-width="1" /><rect x="307.6" y="359.6" width="155.9" height="73.9" fill="#fff" stroke="none" stroke-width="1" /><line x1="323.2" y1="359.6" x2="323.2" y2="433.5" stroke="#cfcfcf" stroke-width="0.6" stroke-dasharray="1.5,1.5"/><line x1="338.5" y1="359.6" x2="338.5" y2="433.5" stroke="#cfcfcf" stroke-width="0.6" stroke-dasharray="1.5,1.5"/><line x1="353.9" y1="359.6" x2="353.9" y2="433.5" stroke="#cfcfcf" stroke-width="0.6" stroke-dasharray="1.5,1.5"/><line x1="369.3" y1="359.6" x2="369.3" y2="433.5" stroke="#cfcfcf" stroke-width="0.6" stroke-dasharray="1.5,1.5"/><line x1="385" y1="359.6" x2="385" y2="433.5" stroke="#cfcfcf" stroke-width="0.6" stroke-dasharray="1.5,1.5"/><line x1="400.8" y1="359.6" x2="400.8" y2="433.5" stroke="#cfcfcf" stroke-width="0.6" stroke-dasharray="1.5,1.5"/><line x1="416.2" y1="359.6" x2="416.2" y2="433.5" stroke="#cfcfcf" stroke-width="0.6" stroke-dasharray="1.5,1.5"/><line x1="431.5" y1="359.6" x2="431.5" y2="433.5" stroke="#cfcfcf" stroke-width="0.6" stroke-dasharray="1.5,1.5"/><line x1="446.9" y1="359.6" x2="446.9" y2="433.5" stroke="#cfcfcf" stroke-width="0.6" stroke-dasharray="1.5,1.5"/><line x1="307.6" y1="359.73" x2="463.5" y2="359.73" stroke="#cfcfcf" stroke-width="0.6" stroke-dasharray="1.5,1.5"/><line x1="307.6" y1="369.21" x2="463.5" y2="369.21" stroke="#cfcfcf" stroke-width="0.6" stroke-dasharray="1.5,1.5"/><line x1="307.6" y1="378.7" x2="463.5" y2="378.7" stroke="#cfcfcf" stroke-width="0.6" stroke-dasharray="1.5,1.5"/><line x1="307.6" y1="388.19" x2="463.5" y2="388.19" stroke="#cfcfcf" stroke-width="0.6" stroke-dasharray="1.5,1.5"/><line x1="307.6" y1="397.67" x2="463.5" y2="397.67" stroke="#cfcfcf" stroke-width="0.6" stroke-dasharray="1.5,1.5"/><line x1="307.6" y1="407.15" x2="463.5" y2="407.15" stroke="#cfcfcf" stroke-width="0.6" stroke-dasharray="1.5,1.5"/><line x1="307.6" y1="416.64" x2="463.5" y2="416.64" stroke="#cfcfcf" stroke-width="0.6" stroke-dasharray="1.5,1.5"/><line x1="307.6" y1="426.12" x2="463.5" y2="426.12" stroke="#cfcfcf" stroke-width="0.6" stroke-dasharray="1.5,1.5"/><line x1="307.6" y1="378.7" x2="463.5" y2="378.7" stroke="#9a9a9a" stroke-width="0.9" /><rect x="307.6" y="433.5" width="155.9" height="24.3" fill="#fff" stroke="none" stroke-width="1" /><rect x="307.6" y="433.5" width="148.4" height="24.3" fill="#7c7c7c"/><rect x="456" y="433.5" width="7.5" height="24.3" fill="#f4f4f4"/><path d="M308.2,433.5V457.8M310.77,433.5V457.8M313.1,433.5V457.8M318.17,433.5V457.8M326.39,433.5V457.8M327.64,433.5V457.8M331.18,433.5V457.8M335.02,433.5V457.8M343.46,433.5V457.8M346.12,433.5V457.8M348.82,433.5V457.8M350.59,433.5V457.8M354.05,433.5V457.8M359.68,433.5V457.8M361.68,433.5V457.8M363.64,433.5V457.8M368.17,433.5V457.8M370.28,433.5V457.8M374.64,433.5V457.8M378.01,433.5V457.8M383.34,433.5V457.8M384.71,433.5V457.8M394.83,433.5V457.8M401.84,433.5V457.8M408.27,433.5V457.8M416.53,433.5V457.8M418.29,433.5V457.8M421.85,433.5V457.8M425.32,433.5V457.8M430.28,433.5V457.8M447.26,433.5V457.8M454.6,433.5V457.8" stroke="#dcdcdc" stroke-width="0.7" fill="none"/><path d="M315.73,433.5V457.8M321.31,433.5V457.8M323.22,433.5V457.8M333.84,433.5V457.8M336.3,433.5V457.8M338.03,433.5V457.8M340.29,433.5V457.8M356.81,433.5V457.8M358.43,433.5V457.8M366.64,433.5V457.8M372.21,433.5V457.8M376.26,433.5V457.8M380.68,433.5V457.8M382.21,433.5V457.8M386.65,433.5V457.8M389.17,433.5V457.8M391.49,433.5V457.8M393.32,433.5V457.8M397.41,433.5V457.8M400.13,433.5V457.8M404.03,433.5V457.8M406.88,433.5V457.8M409.8,433.5V457.8M410.83,433.5V457.8M412.82,433.5V457.8M414.82,433.5V457.8M420.72,433.5V457.8M424.15,433.5V457.8M427.81,433.5V457.8M432.12,433.5V457.8M433.1,433.5V457.8M435.53,433.5V457.8M437.49,433.5V457.8M439.64,433.5V457.8M440.89,433.5V457.8M442.83,433.5V457.8M443.95,433.5V457.8M446.07,433.5V457.8M448.31,433.5V457.8M449.47,433.5V457.8M450.29,433.5V457.8M451.59,433.5V457.8M452.52,433.5V457.8" stroke="#141414" stroke-width="0.8" fill="none"/><rect x="307.6" y="457.8" width="19.8" height="5.9" fill="#e0434f" stroke="none" stroke-width="1" /><rect x="327.4" y="457.8" width="7.7" height="5.9" fill="#e86f7c" stroke="none" stroke-width="1" /><rect x="335.1" y="457.8" width="13.2" height="5.9" fill="#ef8585" stroke="none" stroke-width="1" /><rect x="348.3" y="457.8" width="17.5" height="5.9" fill="#f0b6d2" stroke="none" stroke-width="1" /><rect x="365.8" y="457.8" width="19.2" height="5.9" fill="#d2d2ee" stroke="none" stroke-width="1" /><rect x="385" y="457.8" width="19.7" height="5.9" fill="#b9b8e2" stroke="none" stroke-width="1" /><rect x="404.7" y="457.8" width="17.2" height="5.9" fill="#7478c6" stroke="none" stroke-width="1" /><rect x="421.9" y="457.8" width="27.6" height="5.9" fill="#4548a8" stroke="none" stroke-width="1" /><rect x="449.5" y="457.8" width="6.7" height="5.9" fill="#1f2f9f" stroke="none" stroke-width="1" /><rect x="456.2" y="457.8" width="7.3" height="5.9" fill="#ffffff" stroke="none" stroke-width="1" /><path d="M307.6,378.56 L307.93,377.37 L308.4,376.03 L308.95,373.92 L309.5,372.15 L309.99,370.46 L310.47,370.04 L311.06,368.72 L311.9,369.03 L313.05,368.73 L314.44,368.37 L315.96,367.82 L317.5,368.15 L319.1,366.99 L320.8,367.02 L322.47,366.04 L324,364.92 L325.24,365.05 L326.31,363.75 L327.41,363.54 L328.8,363.39 L330.54,364.04 L332.49,365.77 L334.61,366.76 L336.8,369 L339.18,369.86 L341.75,371.01 L344.27,372.74 L346.5,373.77 L348.32,374.79 L349.86,376.17 L351.33,376.57 L352.9,377.86 L354.62,379.69 L356.38,381.66 L358.18,384.47 L360,386.71 L361.82,389.04 L363.64,391.68 L365.52,393.68 L367.5,396.5 L369.61,398.32 L371.83,401.25 L374.08,403.38 L376.3,405.53 L378.48,407.29 L380.65,409.42 L382.82,412.46 L385,414.15 L387.19,416.14 L389.39,418.21 L391.6,419.18 L393.8,421.3 L396.04,422.48 L398.31,424.09 L400.53,424.91 L402.6,425.7 L404.52,427.39 L406.32,427.53 L408.02,428.69 L409.6,429.33 L411.07,429.17 L412.44,429.92 L413.68,429.78 L414.8,429.62 L415.73,429.49 L416.49,429.95 L417.2,428.95 L418,428.51 L418.83,427.59 L419.66,425.93 L420.61,425.55 L421.8,424.85 L423.36,424.97 L425.21,424.88 L427.09,425.18 L428.8,425.35 L430.25,425.31 L431.56,424.57 L432.82,423.32 L434.1,422.02 L435.4,419.58 L436.7,417.73 L438,414.59 L439.3,412.31 L440.64,410.85 L442,408.84 L443.34,407.99 L444.6,406.05 L445.76,404.76 L446.86,402.23 L447.92,400.4 L449,398.44 L450.14,395.42 L451.31,392.03 L452.43,388.97 L453.4,385.82 L454.24,383.74 L454.97,381.29 L455.57,380.45 L456,378.75" fill="none" stroke="#6cbb3c" stroke-width="3.0" stroke-linejoin="round" /><rect x="307.6" y="359.6" width="155.9" height="104.1" fill="none" stroke="#9a9a9a" stroke-width="0.9" /><line x1="307.6" y1="433.5" x2="463.5" y2="433.5" stroke="#9a9a9a" stroke-width="0.9" /><line x1="307.6" y1="457.8" x2="463.5" y2="457.8" stroke="#9a9a9a" stroke-width="0.6" /><line x1="305.6" y1="359.73" x2="307.6" y2="359.73" stroke="#777" stroke-width="0.7" /><text x="306.1" y="362.83" font-size="8.6" text-anchor="end" fill="#231f20" >0.10</text><line x1="305.6" y1="369.21" x2="307.6" y2="369.21" stroke="#777" stroke-width="0.7" /><text x="306.1" y="372.31" font-size="8.6" text-anchor="end" fill="#231f20" >0.05</text><line x1="305.6" y1="378.7" x2="307.6" y2="378.7" stroke="#777" stroke-width="0.7" /><text x="306.1" y="381.8" font-size="8.6" text-anchor="end" fill="#231f20" >0.00</text><line x1="305.6" y1="388.19" x2="307.6" y2="388.19" stroke="#777" stroke-width="0.7" /><text x="306.1" y="391.28" font-size="8.6" text-anchor="end" fill="#231f20" >-0.05</text><line x1="305.6" y1="397.67" x2="307.6" y2="397.67" stroke="#777" stroke-width="0.7" /><text x="306.1" y="400.77" font-size="8.6" text-anchor="end" fill="#231f20" >-0.10</text><line x1="305.6" y1="407.15" x2="307.6" y2="407.15" stroke="#777" stroke-width="0.7" /><text x="306.1" y="410.25" font-size="8.6" text-anchor="end" fill="#231f20" >-0.15</text><line x1="305.6" y1="416.64" x2="307.6" y2="416.64" stroke="#777" stroke-width="0.7" /><text x="306.1" y="419.74" font-size="8.6" text-anchor="end" fill="#231f20" >-0.20</text><line x1="305.6" y1="426.12" x2="307.6" y2="426.12" stroke="#777" stroke-width="0.7" /><text x="306.1" y="429.22" font-size="8.6" text-anchor="end" fill="#231f20" >-0.25</text><text x="382" y="355" font-size="8.6" text-anchor="middle" fill="#231f20" >Embryonic</text><text x="312.7" y="411.9" font-size="8.6" text-anchor="start" fill="#231f20" >NES = -1.25</text><text x="312.7" y="426" font-size="8.6" fill="#231f20"><tspan font-style="italic">p</tspan> = 0.024</text><text transform="translate(282.9,406) rotate(-90)" font-size="8.6" text-anchor="middle" fill="#231f20" >Enrichment score (ES)</text><text x="385.6" y="477" font-size="8.6" text-anchor="middle" fill="#231f20" >Nascent RNA-seq</text><text x="385.6" y="490.1" font-size="8.6" text-anchor="middle" fill="#231f20" >4 h vs 0 h</text><text x="473.5" y="341.3" font-size="11" font-weight="bold" fill="#000">h</text><rect x="486.4" y="346.9" width="198.1" height="144.9" fill="#f0f0f0" stroke="none" stroke-width="1" /><rect x="526.5" y="360.5" width="157.7" height="73.8" fill="#fff" stroke="none" stroke-width="1" /><line x1="542.3" y1="360.5" x2="542.3" y2="434.3" stroke="#cfcfcf" stroke-width="0.6" stroke-dasharray="1.5,1.5"/><line x1="558.1" y1="360.5" x2="558.1" y2="434.3" stroke="#cfcfcf" stroke-width="0.6" stroke-dasharray="1.5,1.5"/><line x1="573.7" y1="360.5" x2="573.7" y2="434.3" stroke="#cfcfcf" stroke-width="0.6" stroke-dasharray="1.5,1.5"/><line x1="589.8" y1="360.5" x2="589.8" y2="434.3" stroke="#cfcfcf" stroke-width="0.6" stroke-dasharray="1.5,1.5"/><line x1="605.6" y1="360.5" x2="605.6" y2="434.3" stroke="#cfcfcf" stroke-width="0.6" stroke-dasharray="1.5,1.5"/><line x1="621.2" y1="360.5" x2="621.2" y2="434.3" stroke="#cfcfcf" stroke-width="0.6" stroke-dasharray="1.5,1.5"/><line x1="637.1" y1="360.5" x2="637.1" y2="434.3" stroke="#cfcfcf" stroke-width="0.6" stroke-dasharray="1.5,1.5"/><line x1="652.8" y1="360.5" x2="652.8" y2="434.3" stroke="#cfcfcf" stroke-width="0.6" stroke-dasharray="1.5,1.5"/><line x1="668.2" y1="360.5" x2="668.2" y2="434.3" stroke="#cfcfcf" stroke-width="0.6" stroke-dasharray="1.5,1.5"/><line x1="526.5" y1="365.8" x2="684.2" y2="365.8" stroke="#cfcfcf" stroke-width="0.6" stroke-dasharray="1.5,1.5"/><line x1="526.5" y1="377.76" x2="684.2" y2="377.76" stroke="#cfcfcf" stroke-width="0.6" stroke-dasharray="1.5,1.5"/><line x1="526.5" y1="389.72" x2="684.2" y2="389.72" stroke="#cfcfcf" stroke-width="0.6" stroke-dasharray="1.5,1.5"/><line x1="526.5" y1="401.68" x2="684.2" y2="401.68" stroke="#cfcfcf" stroke-width="0.6" stroke-dasharray="1.5,1.5"/><line x1="526.5" y1="413.64" x2="684.2" y2="413.64" stroke="#cfcfcf" stroke-width="0.6" stroke-dasharray="1.5,1.5"/><line x1="526.5" y1="425.6" x2="684.2" y2="425.6" stroke="#cfcfcf" stroke-width="0.6" stroke-dasharray="1.5,1.5"/><line x1="526.5" y1="365.8" x2="684.2" y2="365.8" stroke="#9a9a9a" stroke-width="0.9" /><rect x="526.5" y="434.3" width="157.7" height="24.6" fill="#fff" stroke="none" stroke-width="1" /><path d="M561.41,434.3V458.9M571.29,434.3V458.9M573.68,434.3V458.9M575.18,434.3V458.9M578.17,434.3V458.9M590.75,434.3V458.9M608.49,434.3V458.9M609.66,434.3V458.9M611.79,434.3V458.9M612.66,434.3V458.9M614.32,434.3V458.9M615.21,434.3V458.9M617.19,434.3V458.9M618.11,434.3V458.9M627.18,434.3V458.9M628.14,434.3V458.9M630.42,434.3V458.9M631.54,434.3V458.9M633.07,434.3V458.9M634.08,434.3V458.9M636.17,434.3V458.9M637.6,434.3V458.9M639.44,434.3V458.9M640.77,434.3V458.9M649.79,434.3V458.9M650.99,434.3V458.9M653.22,434.3V458.9M653.87,434.3V458.9M655.77,434.3V458.9M657.13,434.3V458.9M659.14,434.3V458.9M660.16,434.3V458.9M662.35,434.3V458.9M663.19,434.3V458.9M665.08,434.3V458.9M665.91,434.3V458.9M668.09,434.3V458.9M669.25,434.3V458.9M670.99,434.3V458.9M672.04,434.3V458.9M674.16,434.3V458.9M675.22,434.3V458.9" stroke="#1a1a1a" stroke-width="0.7" fill="none"/><path d="M560.22,434.3V458.9M572.79,434.3V458.9M576.98,434.3V458.9M599.72,434.3V458.9M610.82,434.3V458.9M613.76,434.3V458.9M616.34,434.3V458.9M626.01,434.3V458.9M629.07,434.3V458.9M632.26,434.3V458.9M635.63,434.3V458.9M638.56,434.3V458.9M641.34,434.3V458.9M651.74,434.3V458.9M654.82,434.3V458.9M658.02,434.3V458.9M661.26,434.3V458.9M663.91,434.3V458.9M666.81,434.3V458.9M669.93,434.3V458.9M673.26,434.3V458.9" stroke="#888" stroke-width="0.9" fill="none"/><rect x="526.4" y="458.9" width="20" height="6" fill="#dc4a50" stroke="none" stroke-width="1" /><rect x="546.4" y="458.9" width="9.9" height="6" fill="#e0707c" stroke="none" stroke-width="1" /><rect x="556.3" y="458.9" width="12" height="6" fill="#ef8585" stroke="none" stroke-width="1" /><rect x="568.3" y="458.9" width="18" height="6" fill="#f0b0d0" stroke="none" stroke-width="1" /><rect x="586.3" y="458.9" width="18.8" height="6" fill="#d2d2ee" stroke="none" stroke-width="1" /><rect x="605.1" y="458.9" width="20.1" height="6" fill="#b9b8e2" stroke="none" stroke-width="1" /><rect x="625.2" y="458.9" width="17.3" height="6" fill="#6a70c0" stroke="none" stroke-width="1" /><rect x="642.5" y="458.9" width="27.5" height="6" fill="#4243a2" stroke="none" stroke-width="1" /><rect x="670" y="458.9" width="6.6" height="6" fill="#1f2f9f" stroke="none" stroke-width="1" /><rect x="676.6" y="458.9" width="7.9" height="6" fill="#ffffff" stroke="none" stroke-width="1" /><path d="M526.6,365.7 L529.41,367.94 L533.44,371.14 L537.98,374.75 L542.3,378.2 L546.6,381.67 L551.13,385.35 L555.27,388.68 L558.4,391.1 L559.97,392.11 L560.45,392.14 L560.7,391.97 L561.6,392.4 L563.45,393.74 L565.76,395.53 L568.21,397.43 L570.5,399.1 L572.53,400.39 L574.48,401.5 L576.41,402.61 L578.4,403.9 L580.46,405.44 L582.57,407.13 L584.69,408.88 L586.8,410.6 L588.9,412.29 L591,414 L593.1,415.68 L595.2,417.3 L597.38,418.89 L599.61,420.46 L601.74,422.19 L603.6,423.32 L605.09,423.77 L606.31,424.54 L607.43,425.26 L608.6,427.07 L609.81,427.09 L610.99,427.53 L612.22,426.22 L613.6,427.19 L615.18,427.2 L616.9,427.8 L618.67,427.54 L620.4,428.9 L622.1,428.3 L623.81,429.85 L625.46,430.85 L627,431.26 L628.38,430.43 L629.65,429.25 L630.87,428.05 L632.1,427.08 L633.35,425.45 L634.6,425.17 L635.85,424.69 L637.1,423.72 L638.33,421.74 L639.54,420.64 L640.81,419.33 L642.2,418.2 L643.84,418.72 L645.66,419.63 L647.42,421.16 L648.9,421.65 L649.94,420.22 L650.71,419.62 L651.41,418.53 L652.3,417.03 L653.48,415.93 L654.81,414.75 L656.13,414.47 L657.3,413.21 L658.22,411.56 L659,410.38 L659.75,407.51 L660.6,406.75 L661.62,404.27 L662.74,403.7 L663.84,402.11 L664.8,400.12 L665.56,399.01 L666.21,396.87 L666.79,394.89 L667.4,392.69 L668.05,388.24 L668.71,383.71 L669.33,380.01 L669.9,377.25 L670.36,374.44 L670.75,372.96 L671.14,372.86 L671.6,371.32 L672.2,369.63 L672.88,368.89 L673.54,366.85 L674.1,366.33 L674.49,364.95 L674.78,364.77 L675.05,364.97 L675.4,364.98 L675.9,365.06 L676.48,364.73 L677.02,365.43 L677.4,365.34" fill="none" stroke="#62b23a" stroke-width="1.5" stroke-linejoin="round" /><rect x="526.5" y="360.5" width="157.7" height="104.4" fill="none" stroke="#9a9a9a" stroke-width="0.9" /><line x1="526.5" y1="434.3" x2="684.2" y2="434.3" stroke="#9a9a9a" stroke-width="0.9" /><line x1="526.5" y1="458.9" x2="684.2" y2="458.9" stroke="#9a9a9a" stroke-width="0.6" /><line x1="524.5" y1="365.8" x2="526.5" y2="365.8" stroke="#777" stroke-width="0.7" /><text x="525" y="368.9" font-size="8.6" text-anchor="end" fill="#231f20" >0.0</text><line x1="524.5" y1="377.76" x2="526.5" y2="377.76" stroke="#777" stroke-width="0.7" /><text x="525" y="380.86" font-size="8.6" text-anchor="end" fill="#231f20" >-0.1</text><line x1="524.5" y1="389.72" x2="526.5" y2="389.72" stroke="#777" stroke-width="0.7" /><text x="525" y="392.82" font-size="8.6" text-anchor="end" fill="#231f20" >-0.2</text><line x1="524.5" y1="401.68" x2="526.5" y2="401.68" stroke="#777" stroke-width="0.7" /><text x="525" y="404.78" font-size="8.6" text-anchor="end" fill="#231f20" >-0.3</text><line x1="524.5" y1="413.64" x2="526.5" y2="413.64" stroke="#777" stroke-width="0.7" /><text x="525" y="416.74" font-size="8.6" text-anchor="end" fill="#231f20" >-0.4</text><line x1="524.5" y1="425.6" x2="526.5" y2="425.6" stroke="#777" stroke-width="0.7" /><text x="525" y="428.7" font-size="8.6" text-anchor="end" fill="#231f20" >-0.5</text><text x="610.6" y="355.4" font-size="8.6" text-anchor="middle" fill="#231f20" >ESC-high genes</text><text x="593" y="382.3" font-size="8.6" text-anchor="start" fill="#231f20" >NES = -2.11</text><text x="593" y="397.7" font-size="8.6" fill="#231f20"><tspan font-style="italic">p</tspan> = 0</text><text transform="translate(504.1,408.4) rotate(-90)" font-size="8.6" text-anchor="middle" fill="#231f20" >Enrichment score (ES)</text><text x="603.3" y="478.8" font-size="8.6" text-anchor="middle" fill="#231f20" >Nascent RNA-seq</text><text x="603.3" y="490.7" font-size="8.6" text-anchor="middle" fill="#231f20" >4 h vs 0 h</text><text x="0" y="512.8" font-size="11" font-weight="bold" fill="#000">i</text><text x="90.1" y="532.3" font-size="8.6" text-anchor="middle" fill="#231f20" >Nascent RNA-qPCR</text><text x="90.1" y="543" font-size="8.6" text-anchor="middle" fill="#231f20" >UTP15-AID</text><rect x="23.4" y="551.2" width="9.5" height="5" fill="#a6a6ac" stroke="none" stroke-width="1" /><text x="35.5" y="556.8" font-size="8.6" text-anchor="start" fill="#231f20" >No IAA</text><rect x="71.2" y="551.2" width="9.6" height="5" fill="#c9bf88" stroke="none" stroke-width="1" /><text x="84" y="556.8" font-size="8.6" text-anchor="start" fill="#231f20" >IAA 4 h</text><rect x="119.5" y="551.2" width="9.4" height="5" fill="#8c7a3a" stroke="none" stroke-width="1" /><text x="131.5" y="556.8" font-size="8.6" text-anchor="start" fill="#231f20" >IAA 24 h</text><rect x="28.55" y="593.1" width="3.5" height="61" fill="#a6a6ac" stroke="none" stroke-width="1" /><rect x="28.3" y="592.1" width="4" height="2" rx="1" fill="#111"/><rect x="33.15" y="613.84" width="3.5" height="40.26" fill="#c9bf88" stroke="none" stroke-width="1" /><rect x="37.75" y="632.14" width="3.5" height="21.96" fill="#8c7a3a" stroke="none" stroke-width="1" /><line x1="34.9" y1="618.11" x2="34.9" y2="609.57" stroke="#111" stroke-width="0.8" /><line x1="33.6" y1="618.11" x2="36.2" y2="618.11" stroke="#111" stroke-width="0.8" /><line x1="33.6" y1="609.57" x2="36.2" y2="609.57" stroke="#111" stroke-width="0.8" /><line x1="39.5" y1="635.8" x2="39.5" y2="627.87" stroke="#111" stroke-width="0.8" /><line x1="38.2" y1="635.8" x2="40.8" y2="635.8" stroke="#111" stroke-width="0.8" /><line x1="38.2" y1="627.87" x2="40.8" y2="627.87" stroke="#111" stroke-width="0.8" /><path d="M34.31,616.89a1.05,1.05 0 1 0 2.1,0a1.05,1.05 0 1 0 -2.1,0M33.66,613.84a1.05,1.05 0 1 0 2.1,0a1.05,1.05 0 1 0 -2.1,0M34.38,610.79a1.05,1.05 0 1 0 2.1,0a1.05,1.05 0 1 0 -2.1,0" fill="#111"/><path d="M39.18,634.58a1.05,1.05 0 1 0 2.1,0a1.05,1.05 0 1 0 -2.1,0M37.71,632.14a1.05,1.05 0 1 0 2.1,0a1.05,1.05 0 1 0 -2.1,0M39.23,629.09a1.05,1.05 0 1 0 2.1,0a1.05,1.05 0 1 0 -2.1,0" fill="#111"/><text x="34.9" y="607.89" font-size="7" text-anchor="middle" fill="#231f20" >*</text><text x="39.5" y="626.19" font-size="7" text-anchor="middle" fill="#231f20" >**</text><line x1="34.9" y1="654.1" x2="34.9" y2="657.3" stroke="#111" stroke-width="1.1" /><text transform="translate(40.4,664.9) rotate(-45)" font-size="8.6" font-style="italic" text-anchor="end" fill="#231f20">Pou5f1</text><rect x="45.85" y="593.1" width="3.5" height="61" fill="#a6a6ac" stroke="none" stroke-width="1" /><rect x="45.6" y="592.1" width="4" height="2" rx="1" fill="#111"/><rect x="50.45" y="612.01" width="3.5" height="42.09" fill="#c9bf88" stroke="none" stroke-width="1" /><rect x="55.05" y="635.19" width="3.5" height="18.91" fill="#8c7a3a" stroke="none" stroke-width="1" /><line x1="52.2" y1="618.72" x2="52.2" y2="606.52" stroke="#111" stroke-width="0.8" /><line x1="50.9" y1="618.72" x2="53.5" y2="618.72" stroke="#111" stroke-width="0.8" /><line x1="50.9" y1="606.52" x2="53.5" y2="606.52" stroke="#111" stroke-width="0.8" /><line x1="56.8" y1="639.46" x2="56.8" y2="630.92" stroke="#111" stroke-width="0.8" /><line x1="55.5" y1="639.46" x2="58.1" y2="639.46" stroke="#111" stroke-width="0.8" /><line x1="55.5" y1="630.92" x2="58.1" y2="630.92" stroke="#111" stroke-width="0.8" /><path d="M51.55,617.5a1.05,1.05 0 1 0 2.1,0a1.05,1.05 0 1 0 -2.1,0M50.48,612.01a1.05,1.05 0 1 0 2.1,0a1.05,1.05 0 1 0 -2.1,0M51.07,607.74a1.05,1.05 0 1 0 2.1,0a1.05,1.05 0 1 0 -2.1,0" fill="#111"/><path d="M55.98,638.24a1.05,1.05 0 1 0 2.1,0a1.05,1.05 0 1 0 -2.1,0M56.49,635.19a1.05,1.05 0 1 0 2.1,0a1.05,1.05 0 1 0 -2.1,0M55.53,632.14a1.05,1.05 0 1 0 2.1,0a1.05,1.05 0 1 0 -2.1,0" fill="#111"/><text x="52.2" y="604.84" font-size="7" text-anchor="middle" fill="#231f20" >*</text><text x="56.8" y="629.24" font-size="7" text-anchor="middle" fill="#231f20" >**</text><line x1="52.2" y1="654.1" x2="52.2" y2="657.3" stroke="#111" stroke-width="1.1" /><text transform="translate(57.7,664.9) rotate(-45)" font-size="8.6" font-style="italic" text-anchor="end" fill="#231f20">Nanog</text><rect x="63.15" y="593.1" width="3.5" height="61" fill="#a6a6ac" stroke="none" stroke-width="1" /><rect x="62.9" y="592.1" width="4" height="2" rx="1" fill="#111"/><rect x="67.75" y="618.11" width="3.5" height="35.99" fill="#c9bf88" stroke="none" stroke-width="1" /><rect x="72.35" y="637.63" width="3.5" height="16.47" fill="#8c7a3a" stroke="none" stroke-width="1" /><line x1="69.5" y1="619.94" x2="69.5" y2="614.45" stroke="#111" stroke-width="0.8" /><line x1="68.2" y1="619.94" x2="70.8" y2="619.94" stroke="#111" stroke-width="0.8" /><line x1="68.2" y1="614.45" x2="70.8" y2="614.45" stroke="#111" stroke-width="0.8" /><line x1="74.1" y1="643.73" x2="74.1" y2="632.14" stroke="#111" stroke-width="0.8" /><line x1="72.8" y1="643.73" x2="75.4" y2="643.73" stroke="#111" stroke-width="0.8" /><line x1="72.8" y1="632.14" x2="75.4" y2="632.14" stroke="#111" stroke-width="0.8" /><path d="M68.57,618.72a1.05,1.05 0 1 0 2.1,0a1.05,1.05 0 1 0 -2.1,0M69.13,618.11a1.05,1.05 0 1 0 2.1,0a1.05,1.05 0 1 0 -2.1,0M68.98,615.67a1.05,1.05 0 1 0 2.1,0a1.05,1.05 0 1 0 -2.1,0" fill="#111"/><path d="M73.85,642.51a1.05,1.05 0 1 0 2.1,0a1.05,1.05 0 1 0 -2.1,0M72.98,637.63a1.05,1.05 0 1 0 2.1,0a1.05,1.05 0 1 0 -2.1,0M73.32,633.36a1.05,1.05 0 1 0 2.1,0a1.05,1.05 0 1 0 -2.1,0" fill="#111"/><text x="69.5" y="612.77" font-size="7" text-anchor="middle" fill="#231f20" >**</text><text x="74.1" y="630.46" font-size="7" text-anchor="middle" fill="#231f20" >**</text><line x1="69.5" y1="654.1" x2="69.5" y2="657.3" stroke="#111" stroke-width="1.1" /><text transform="translate(75,664.9) rotate(-45)" font-size="8.6" font-style="italic" text-anchor="end" fill="#231f20">L1td1</text><rect x="80.45" y="593.1" width="3.5" height="61" fill="#a6a6ac" stroke="none" stroke-width="1" /><rect x="80.2" y="592.1" width="4" height="2" rx="1" fill="#111"/><rect x="85.05" y="616.89" width="3.5" height="37.21" fill="#c9bf88" stroke="none" stroke-width="1" /><rect x="89.65" y="637.02" width="3.5" height="17.08" fill="#8c7a3a" stroke="none" stroke-width="1" /><line x1="86.8" y1="620.55" x2="86.8" y2="613.84" stroke="#111" stroke-width="0.8" /><line x1="85.5" y1="620.55" x2="88.1" y2="620.55" stroke="#111" stroke-width="0.8" /><line x1="85.5" y1="613.84" x2="88.1" y2="613.84" stroke="#111" stroke-width="0.8" /><line x1="91.4" y1="645.56" x2="91.4" y2="628.48" stroke="#111" stroke-width="0.8" /><line x1="90.1" y1="645.56" x2="92.7" y2="645.56" stroke="#111" stroke-width="0.8" /><line x1="90.1" y1="628.48" x2="92.7" y2="628.48" stroke="#111" stroke-width="0.8" /><path d="M85.22,619.33a1.05,1.05 0 1 0 2.1,0a1.05,1.05 0 1 0 -2.1,0M86.15,616.89a1.05,1.05 0 1 0 2.1,0a1.05,1.05 0 1 0 -2.1,0M86.32,615.06a1.05,1.05 0 1 0 2.1,0a1.05,1.05 0 1 0 -2.1,0" fill="#111"/><path d="M90.6,644.34a1.05,1.05 0 1 0 2.1,0a1.05,1.05 0 1 0 -2.1,0M90.74,637.02a1.05,1.05 0 1 0 2.1,0a1.05,1.05 0 1 0 -2.1,0M89.83,629.7a1.05,1.05 0 1 0 2.1,0a1.05,1.05 0 1 0 -2.1,0" fill="#111"/><text x="86.8" y="612.16" font-size="7" text-anchor="middle" fill="#231f20" >*</text><text x="91.4" y="626.8" font-size="7" text-anchor="middle" fill="#231f20" >**</text><line x1="86.8" y1="654.1" x2="86.8" y2="657.3" stroke="#111" stroke-width="1.1" /><text transform="translate(92.3,664.9) rotate(-45)" font-size="8.6" font-style="italic" text-anchor="end" fill="#231f20">Sall4</text><rect x="97.75" y="593.1" width="3.5" height="61" fill="#a6a6ac" stroke="none" stroke-width="1" /><rect x="97.5" y="592.1" width="4" height="2" rx="1" fill="#111"/><rect x="102.35" y="616.89" width="3.5" height="37.21" fill="#c9bf88" stroke="none" stroke-width="1" /><rect x="106.95" y="636.41" width="3.5" height="17.69" fill="#8c7a3a" stroke="none" stroke-width="1" /><line x1="104.1" y1="622.38" x2="104.1" y2="613.23" stroke="#111" stroke-width="0.8" /><line x1="102.8" y1="622.38" x2="105.4" y2="622.38" stroke="#111" stroke-width="0.8" /><line x1="102.8" y1="613.23" x2="105.4" y2="613.23" stroke="#111" stroke-width="0.8" /><line x1="108.7" y1="643.12" x2="108.7" y2="629.7" stroke="#111" stroke-width="0.8" /><line x1="107.4" y1="643.12" x2="110" y2="643.12" stroke="#111" stroke-width="0.8" /><line x1="107.4" y1="629.7" x2="110" y2="629.7" stroke="#111" stroke-width="0.8" /><path d="M103.77,621.16a1.05,1.05 0 1 0 2.1,0a1.05,1.05 0 1 0 -2.1,0M103.91,616.89a1.05,1.05 0 1 0 2.1,0a1.05,1.05 0 1 0 -2.1,0M103.91,614.45a1.05,1.05 0 1 0 2.1,0a1.05,1.05 0 1 0 -2.1,0" fill="#111"/><path d="M107.72,641.9a1.05,1.05 0 1 0 2.1,0a1.05,1.05 0 1 0 -2.1,0M108.17,636.41a1.05,1.05 0 1 0 2.1,0a1.05,1.05 0 1 0 -2.1,0M107.33,630.92a1.05,1.05 0 1 0 2.1,0a1.05,1.05 0 1 0 -2.1,0" fill="#111"/><text x="104.1" y="611.55" font-size="7" text-anchor="middle" fill="#231f20" >*</text><text x="108.7" y="628.02" font-size="7" text-anchor="middle" fill="#231f20" >**</text><line x1="104.1" y1="654.1" x2="104.1" y2="657.3" stroke="#111" stroke-width="1.1" /><text transform="translate(109.6,664.9) rotate(-45)" font-size="8.6" font-style="italic" text-anchor="end" fill="#231f20">Zic5</text><rect x="115.05" y="593.1" width="3.5" height="61" fill="#a6a6ac" stroke="none" stroke-width="1" /><rect x="114.8" y="592.1" width="4" height="2" rx="1" fill="#111"/><rect x="119.65" y="610.79" width="3.5" height="43.31" fill="#c9bf88" stroke="none" stroke-width="1" /><rect x="124.25" y="636.41" width="3.5" height="17.69" fill="#8c7a3a" stroke="none" stroke-width="1" /><line x1="121.4" y1="612.62" x2="121.4" y2="608.96" stroke="#111" stroke-width="0.8" /><line x1="120.1" y1="612.62" x2="122.7" y2="612.62" stroke="#111" stroke-width="0.8" /><line x1="120.1" y1="608.96" x2="122.7" y2="608.96" stroke="#111" stroke-width="0.8" /><line x1="126" y1="640.68" x2="126" y2="632.14" stroke="#111" stroke-width="0.8" /><line x1="124.7" y1="640.68" x2="127.3" y2="640.68" stroke="#111" stroke-width="0.8" /><line x1="124.7" y1="632.14" x2="127.3" y2="632.14" stroke="#111" stroke-width="0.8" /><path d="M121.09,611.4a1.05,1.05 0 1 0 2.1,0a1.05,1.05 0 1 0 -2.1,0M120.99,610.79a1.05,1.05 0 1 0 2.1,0a1.05,1.05 0 1 0 -2.1,0M120.08,610.18a1.05,1.05 0 1 0 2.1,0a1.05,1.05 0 1 0 -2.1,0" fill="#111"/><path d="M124.2,639.46a1.05,1.05 0 1 0 2.1,0a1.05,1.05 0 1 0 -2.1,0M124.84,636.41a1.05,1.05 0 1 0 2.1,0a1.05,1.05 0 1 0 -2.1,0M125.04,633.36a1.05,1.05 0 1 0 2.1,0a1.05,1.05 0 1 0 -2.1,0" fill="#111"/><text x="121.4" y="607.28" font-size="7" text-anchor="middle" fill="#231f20" >**</text><text x="126" y="630.46" font-size="7" text-anchor="middle" fill="#231f20" >**</text><line x1="121.4" y1="654.1" x2="121.4" y2="657.3" stroke="#111" stroke-width="1.1" /><text transform="translate(126.9,664.9) rotate(-45)" font-size="8.6" font-style="italic" text-anchor="end" fill="#231f20">Dppa2</text><rect x="132.35" y="593.1" width="3.5" height="61" fill="#a6a6ac" stroke="none" stroke-width="1" /><rect x="132.1" y="592.1" width="4" height="2" rx="1" fill="#111"/><rect x="136.95" y="622.38" width="3.5" height="31.72" fill="#c9bf88" stroke="none" stroke-width="1" /><rect x="141.55" y="638.24" width="3.5" height="15.86" fill="#8c7a3a" stroke="none" stroke-width="1" /><line x1="138.7" y1="631.53" x2="138.7" y2="610.18" stroke="#111" stroke-width="0.8" /><line x1="137.4" y1="631.53" x2="140" y2="631.53" stroke="#111" stroke-width="0.8" /><line x1="137.4" y1="610.18" x2="140" y2="610.18" stroke="#111" stroke-width="0.8" /><line x1="143.3" y1="649.83" x2="143.3" y2="627.26" stroke="#111" stroke-width="0.8" /><line x1="142" y1="649.83" x2="144.6" y2="649.83" stroke="#111" stroke-width="0.8" /><line x1="142" y1="627.26" x2="144.6" y2="627.26" stroke="#111" stroke-width="0.8" /><path d="M138.13,630.31a1.05,1.05 0 1 0 2.1,0a1.05,1.05 0 1 0 -2.1,0M137.63,622.38a1.05,1.05 0 1 0 2.1,0a1.05,1.05 0 1 0 -2.1,0M136.8,611.4a1.05,1.05 0 1 0 2.1,0a1.05,1.05 0 1 0 -2.1,0" fill="#111"/><path d="M142.81,648.61a1.05,1.05 0 1 0 2.1,0a1.05,1.05 0 1 0 -2.1,0M141.47,638.24a1.05,1.05 0 1 0 2.1,0a1.05,1.05 0 1 0 -2.1,0M142.79,628.48a1.05,1.05 0 1 0 2.1,0a1.05,1.05 0 1 0 -2.1,0" fill="#111"/><text x="138.7" y="608.5" font-size="7" text-anchor="middle" fill="#231f20" >*</text><text x="143.3" y="625.58" font-size="7" text-anchor="middle" fill="#231f20" >*</text><line x1="138.7" y1="654.1" x2="138.7" y2="657.3" stroke="#111" stroke-width="1.1" /><text transform="translate(144.2,664.9) rotate(-45)" font-size="8.6" font-style="italic" text-anchor="end" fill="#231f20">Klf5</text><rect x="149.65" y="593.1" width="3.5" height="61" fill="#a6a6ac" stroke="none" stroke-width="1" /><rect x="149.4" y="592.1" width="4" height="2" rx="1" fill="#111"/><rect x="154.25" y="618.11" width="3.5" height="35.99" fill="#c9bf88" stroke="none" stroke-width="1" /><rect x="158.85" y="640.07" width="3.5" height="14.03" fill="#8c7a3a" stroke="none" stroke-width="1" /><line x1="156" y1="629.7" x2="156" y2="606.52" stroke="#111" stroke-width="0.8" /><line x1="154.7" y1="629.7" x2="157.3" y2="629.7" stroke="#111" stroke-width="0.8" /><line x1="154.7" y1="606.52" x2="157.3" y2="606.52" stroke="#111" stroke-width="0.8" /><line x1="160.6" y1="644.34" x2="160.6" y2="635.19" stroke="#111" stroke-width="0.8" /><line x1="159.3" y1="644.34" x2="161.9" y2="644.34" stroke="#111" stroke-width="0.8" /><line x1="159.3" y1="635.19" x2="161.9" y2="635.19" stroke="#111" stroke-width="0.8" /><path d="M154.36,628.48a1.05,1.05 0 1 0 2.1,0a1.05,1.05 0 1 0 -2.1,0M154.65,618.11a1.05,1.05 0 1 0 2.1,0a1.05,1.05 0 1 0 -2.1,0M155.47,607.74a1.05,1.05 0 1 0 2.1,0a1.05,1.05 0 1 0 -2.1,0" fill="#111"/><path d="M158.9,643.12a1.05,1.05 0 1 0 2.1,0a1.05,1.05 0 1 0 -2.1,0M158.92,640.07a1.05,1.05 0 1 0 2.1,0a1.05,1.05 0 1 0 -2.1,0M159.58,636.41a1.05,1.05 0 1 0 2.1,0a1.05,1.05 0 1 0 -2.1,0" fill="#111"/><text x="156" y="604.84" font-size="7" text-anchor="middle" fill="#231f20" >*</text><text x="160.6" y="633.51" font-size="7" text-anchor="middle" fill="#231f20" >**</text><line x1="156" y1="654.1" x2="156" y2="657.3" stroke="#111" stroke-width="1.1" /><text transform="translate(161.5,664.9) rotate(-45)" font-size="8.6" font-style="italic" text-anchor="end" fill="#231f20">Esrrb</text><line x1="27.3" y1="562.6" x2="27.3" y2="654.1" stroke="#111" stroke-width="1.1" /><line x1="27.3" y1="654.1" x2="164.7" y2="654.1" stroke="#111" stroke-width="1.1" /><line x1="24.8" y1="654.1" x2="27.3" y2="654.1" stroke="#111" stroke-width="0.9" /><text x="22.4" y="657.2" font-size="8.6" text-anchor="end" fill="#231f20" >0.0</text><line x1="24.8" y1="623.6" x2="27.3" y2="623.6" stroke="#111" stroke-width="0.9" /><text x="22.4" y="626.7" font-size="8.6" text-anchor="end" fill="#231f20" >0.5</text><line x1="24.8" y1="593.1" x2="27.3" y2="593.1" stroke="#111" stroke-width="0.9" /><text x="22.4" y="596.2" font-size="8.6" text-anchor="end" fill="#231f20" >1.0</text><line x1="24.8" y1="562.6" x2="27.3" y2="562.6" stroke="#111" stroke-width="0.9" /><text x="22.4" y="565.7" font-size="8.6" text-anchor="end" fill="#231f20" >1.5</text><text transform="translate(7.9,611) rotate(-90)" font-size="8.6" text-anchor="middle" fill="#231f20" >Relative gene level</text><text x="175.5" y="513.5" font-size="11" font-weight="bold" fill="#000">j</text><text x="255.9" y="508.2" font-size="8.6" text-anchor="end" fill="#231f20" >Full-length (FL)</text><text x="255.9" y="521.2" font-size="8.6" text-anchor="end" fill="#231f20" >NoLS (Δ318-337)</text><rect x="259" y="503.4" width="100.7" height="5.3" fill="#ebebe6" stroke="#777" stroke-width="0.5" /><rect x="265.9" y="503.4" width="53.3" height="5.3" fill="#b1b4ae" stroke="#777" stroke-width="0.5" /><line x1="274" y1="503.4" x2="274" y2="508.7" stroke="#8a8c88" stroke-width="0.6" /><line x1="282" y1="503.4" x2="282" y2="508.7" stroke="#8a8c88" stroke-width="0.6" /><line x1="290" y1="503.4" x2="290" y2="508.7" stroke="#8a8c88" stroke-width="0.6" /><line x1="298" y1="503.4" x2="298" y2="508.7" stroke="#8a8c88" stroke-width="0.6" /><line x1="306.4" y1="503.4" x2="306.4" y2="508.7" stroke="#8a8c88" stroke-width="0.6" /><line x1="313.6" y1="503.4" x2="313.6" y2="508.7" stroke="#8a8c88" stroke-width="0.6" /><rect x="319.2" y="503.4" width="4.5" height="5.3" fill="#e5532f" stroke="#777" stroke-width="0.5" /><line x1="320" y1="506.05" x2="323" y2="506.05" stroke="#fff" stroke-width="0.8" /><rect x="323.7" y="503.4" width="29.6" height="5.3" fill="#ebebe6" stroke="#777" stroke-width="0.5" /><rect x="353.3" y="503.4" width="6.4" height="5.3" fill="#5a92c4" stroke="#777" stroke-width="0.5" /><line x1="354" y1="506.05" x2="359" y2="506.05" stroke="#fff" stroke-width="0.9" /><rect x="259" y="515" width="100.7" height="5.4" fill="#ebebe6" stroke="#777" stroke-width="0.5" /><rect x="265.9" y="515" width="54.1" height="5.4" fill="#b1b4ae" stroke="#777" stroke-width="0.5" /><line x1="274" y1="515" x2="274" y2="520.4" stroke="#8a8c88" stroke-width="0.6" /><line x1="282" y1="515" x2="282" y2="520.4" stroke="#8a8c88" stroke-width="0.6" /><line x1="290" y1="515" x2="290" y2="520.4" stroke="#8a8c88" stroke-width="0.6" /><line x1="298" y1="515" x2="298" y2="520.4" stroke="#8a8c88" stroke-width="0.6" /><line x1="306.4" y1="515" x2="306.4" y2="520.4" stroke="#8a8c88" stroke-width="0.6" /><line x1="313.6" y1="515" x2="313.6" y2="520.4" stroke="#8a8c88" stroke-width="0.6" /><rect x="320" y="515" width="3.7" height="5.4" fill="#fff" stroke="none" stroke-width="1" /><line x1="320" y1="517.7" x2="323.7" y2="517.7" stroke="#777" stroke-width="0.6" /><rect x="323.7" y="515" width="29.6" height="5.4" fill="#ebebe6" stroke="#777" stroke-width="0.5" /><rect x="353.3" y="515" width="6.4" height="5.4" fill="#5a92c4" stroke="#777" stroke-width="0.5" /><line x1="354" y1="517.7" x2="359" y2="517.7" stroke="#fff" stroke-width="0.9" /><text x="286.5" y="532.5" font-size="8.6" text-anchor="middle" fill="#231f20" >Nascent RNA-qPCR</text><text x="286.5" y="542.8" font-size="8.6" text-anchor="middle" fill="#231f20" >UTP15-AID (+IAA 4h)</text><rect x="229.1" y="551" width="9.2" height="5" fill="#a6a6ac" stroke="none" stroke-width="1" /><text x="242.3" y="556.6" font-size="8.6" text-anchor="start" fill="#231f20" >OE-FL</text><rect x="294.3" y="551" width="9.7" height="5" fill="#c0b67e" stroke="none" stroke-width="1" /><text x="308" y="556.6" font-size="8.6" text-anchor="start" fill="#231f20" >OE-NoLS</text><rect x="220.35" y="604.62" width="3.9" height="48.98" fill="#a6a6ac" stroke="none" stroke-width="1" /><rect x="225.95" y="602.81" width="3.9" height="50.79" fill="#c0b67e" stroke="none" stroke-width="1" /><line x1="222.3" y1="608.25" x2="222.3" y2="600.99" stroke="#111" stroke-width="0.7" /><line x1="221" y1="608.25" x2="223.6" y2="608.25" stroke="#111" stroke-width="0.7" /><line x1="221" y1="600.99" x2="223.6" y2="600.99" stroke="#111" stroke-width="0.7" /><line x1="227.9" y1="610.52" x2="227.9" y2="595.1" stroke="#111" stroke-width="0.7" /><line x1="226.6" y1="610.52" x2="229.2" y2="610.52" stroke="#111" stroke-width="0.7" /><line x1="226.6" y1="595.1" x2="229.2" y2="595.1" stroke="#111" stroke-width="0.7" /><path d="M221.93,607.52a0.95,0.95 0 1 0 1.9,0a0.95,0.95 0 1 0 -1.9,0M222.23,605.35a0.95,0.95 0 1 0 1.9,0a0.95,0.95 0 1 0 -1.9,0M221.84,603.53a0.95,0.95 0 1 0 1.9,0a0.95,0.95 0 1 0 -1.9,0M222.51,601.36a0.95,0.95 0 1 0 1.9,0a0.95,0.95 0 1 0 -1.9,0M221.33,604.62a0.95,0.95 0 1 0 1.9,0a0.95,0.95 0 1 0 -1.9,0" fill="#111"/><path d="M228.12,608.98a0.95,0.95 0 1 0 1.9,0a0.95,0.95 0 1 0 -1.9,0M225.87,603.58a0.95,0.95 0 1 0 1.9,0a0.95,0.95 0 1 0 -1.9,0M226.23,599.72a0.95,0.95 0 1 0 1.9,0a0.95,0.95 0 1 0 -1.9,0M227.02,595.87a0.95,0.95 0 1 0 1.9,0a0.95,0.95 0 1 0 -1.9,0M226.4,602.81a0.95,0.95 0 1 0 1.9,0a0.95,0.95 0 1 0 -1.9,0" fill="#111"/><line x1="225.1" y1="653.6" x2="225.1" y2="656.8" stroke="#111" stroke-width="1.1" /><text transform="translate(229.1,664) rotate(-45)" font-size="8.6" font-style="italic" text-anchor="end" fill="#231f20">Pou5f1</text><rect x="235.8" y="601.9" width="3.9" height="51.7" fill="#a6a6ac" stroke="none" stroke-width="1" /><rect x="241.4" y="605.98" width="3.9" height="47.62" fill="#c0b67e" stroke="none" stroke-width="1" /><line x1="237.75" y1="616.87" x2="237.75" y2="586.94" stroke="#111" stroke-width="0.7" /><line x1="236.45" y1="616.87" x2="239.05" y2="616.87" stroke="#111" stroke-width="0.7" /><line x1="236.45" y1="586.94" x2="239.05" y2="586.94" stroke="#111" stroke-width="0.7" /><line x1="243.35" y1="609.16" x2="243.35" y2="602.81" stroke="#111" stroke-width="0.7" /><line x1="242.05" y1="609.16" x2="244.65" y2="609.16" stroke="#111" stroke-width="0.7" /><line x1="242.05" y1="602.81" x2="244.65" y2="602.81" stroke="#111" stroke-width="0.7" /><path d="M237.39,613.87a0.95,0.95 0 1 0 1.9,0a0.95,0.95 0 1 0 -1.9,0M237.16,604.89a0.95,0.95 0 1 0 1.9,0a0.95,0.95 0 1 0 -1.9,0M236.86,597.41a0.95,0.95 0 1 0 1.9,0a0.95,0.95 0 1 0 -1.9,0M237.69,588.43a0.95,0.95 0 1 0 1.9,0a0.95,0.95 0 1 0 -1.9,0M236.96,601.9a0.95,0.95 0 1 0 1.9,0a0.95,0.95 0 1 0 -1.9,0" fill="#111"/><path d="M241.91,608.52a0.95,0.95 0 1 0 1.9,0a0.95,0.95 0 1 0 -1.9,0M242.09,606.3a0.95,0.95 0 1 0 1.9,0a0.95,0.95 0 1 0 -1.9,0M243.3,604.71a0.95,0.95 0 1 0 1.9,0a0.95,0.95 0 1 0 -1.9,0M243.44,603.13a0.95,0.95 0 1 0 1.9,0a0.95,0.95 0 1 0 -1.9,0M241.64,605.98a0.95,0.95 0 1 0 1.9,0a0.95,0.95 0 1 0 -1.9,0" fill="#111"/><line x1="240.55" y1="653.6" x2="240.55" y2="656.8" stroke="#111" stroke-width="1.1" /><text transform="translate(244.55,664) rotate(-45)" font-size="8.6" font-style="italic" text-anchor="end" fill="#231f20">Nanog</text><rect x="251.25" y="601.45" width="3.9" height="52.15" fill="#a6a6ac" stroke="none" stroke-width="1" /><rect x="256.85" y="602.81" width="3.9" height="50.79" fill="#c0b67e" stroke="none" stroke-width="1" /><line x1="253.2" y1="606.89" x2="253.2" y2="596.01" stroke="#111" stroke-width="0.7" /><line x1="251.9" y1="606.89" x2="254.5" y2="606.89" stroke="#111" stroke-width="0.7" /><line x1="251.9" y1="596.01" x2="254.5" y2="596.01" stroke="#111" stroke-width="0.7" /><line x1="258.8" y1="615.96" x2="258.8" y2="589.66" stroke="#111" stroke-width="0.7" /><line x1="257.5" y1="615.96" x2="260.1" y2="615.96" stroke="#111" stroke-width="0.7" /><line x1="257.5" y1="589.66" x2="260.1" y2="589.66" stroke="#111" stroke-width="0.7" /><path d="M253.16,605.8a0.95,0.95 0 1 0 1.9,0a0.95,0.95 0 1 0 -1.9,0M253.47,602.54a0.95,0.95 0 1 0 1.9,0a0.95,0.95 0 1 0 -1.9,0M252.31,599.81a0.95,0.95 0 1 0 1.9,0a0.95,0.95 0 1 0 -1.9,0M252.44,596.55a0.95,0.95 0 1 0 1.9,0a0.95,0.95 0 1 0 -1.9,0M251.47,601.45a0.95,0.95 0 1 0 1.9,0a0.95,0.95 0 1 0 -1.9,0" fill="#111"/><path d="M257.94,613.33a0.95,0.95 0 1 0 1.9,0a0.95,0.95 0 1 0 -1.9,0M257.86,604.12a0.95,0.95 0 1 0 1.9,0a0.95,0.95 0 1 0 -1.9,0M258.12,597.55a0.95,0.95 0 1 0 1.9,0a0.95,0.95 0 1 0 -1.9,0M256.62,590.97a0.95,0.95 0 1 0 1.9,0a0.95,0.95 0 1 0 -1.9,0M259.07,602.81a0.95,0.95 0 1 0 1.9,0a0.95,0.95 0 1 0 -1.9,0" fill="#111"/><line x1="256" y1="653.6" x2="256" y2="656.8" stroke="#111" stroke-width="1.1" /><text transform="translate(260,664) rotate(-45)" font-size="8.6" font-style="italic" text-anchor="end" fill="#231f20">L1td1</text><rect x="266.7" y="603.72" width="3.9" height="49.88" fill="#a6a6ac" stroke="none" stroke-width="1" /><rect x="272.3" y="606.44" width="3.9" height="47.16" fill="#c0b67e" stroke="none" stroke-width="1" /><line x1="268.65" y1="609.61" x2="268.65" y2="597.82" stroke="#111" stroke-width="0.7" /><line x1="267.35" y1="609.61" x2="269.95" y2="609.61" stroke="#111" stroke-width="0.7" /><line x1="267.35" y1="597.82" x2="269.95" y2="597.82" stroke="#111" stroke-width="0.7" /><line x1="274.25" y1="613.69" x2="274.25" y2="599.18" stroke="#111" stroke-width="0.7" /><line x1="272.95" y1="613.69" x2="275.55" y2="613.69" stroke="#111" stroke-width="0.7" /><line x1="272.95" y1="599.18" x2="275.55" y2="599.18" stroke="#111" stroke-width="0.7" /><path d="M267.74,608.43a0.95,0.95 0 1 0 1.9,0a0.95,0.95 0 1 0 -1.9,0M267.44,604.89a0.95,0.95 0 1 0 1.9,0a0.95,0.95 0 1 0 -1.9,0M268.48,601.95a0.95,0.95 0 1 0 1.9,0a0.95,0.95 0 1 0 -1.9,0M267.86,598.41a0.95,0.95 0 1 0 1.9,0a0.95,0.95 0 1 0 -1.9,0M267.68,603.72a0.95,0.95 0 1 0 1.9,0a0.95,0.95 0 1 0 -1.9,0" fill="#111"/><path d="M273.8,612.24a0.95,0.95 0 1 0 1.9,0a0.95,0.95 0 1 0 -1.9,0M272.17,607.16a0.95,0.95 0 1 0 1.9,0a0.95,0.95 0 1 0 -1.9,0M273.4,603.53a0.95,0.95 0 1 0 1.9,0a0.95,0.95 0 1 0 -1.9,0M273.08,599.91a0.95,0.95 0 1 0 1.9,0a0.95,0.95 0 1 0 -1.9,0M274.49,606.44a0.95,0.95 0 1 0 1.9,0a0.95,0.95 0 1 0 -1.9,0" fill="#111"/><line x1="271.45" y1="653.6" x2="271.45" y2="656.8" stroke="#111" stroke-width="1.1" /><text transform="translate(275.45,664) rotate(-45)" font-size="8.6" font-style="italic" text-anchor="end" fill="#231f20">Sall4</text><rect x="282.15" y="605.08" width="3.9" height="48.52" fill="#a6a6ac" stroke="none" stroke-width="1" /><rect x="287.75" y="606.44" width="3.9" height="47.16" fill="#c0b67e" stroke="none" stroke-width="1" /><line x1="284.1" y1="606.44" x2="284.1" y2="603.72" stroke="#111" stroke-width="0.7" /><line x1="282.8" y1="606.44" x2="285.4" y2="606.44" stroke="#111" stroke-width="0.7" /><line x1="282.8" y1="603.72" x2="285.4" y2="603.72" stroke="#111" stroke-width="0.7" /><line x1="289.7" y1="608.25" x2="289.7" y2="604.62" stroke="#111" stroke-width="0.7" /><line x1="288.4" y1="608.25" x2="291" y2="608.25" stroke="#111" stroke-width="0.7" /><line x1="288.4" y1="604.62" x2="291" y2="604.62" stroke="#111" stroke-width="0.7" /><path d="M284.25,606.16a0.95,0.95 0 1 0 1.9,0a0.95,0.95 0 1 0 -1.9,0M282.55,605.35a0.95,0.95 0 1 0 1.9,0a0.95,0.95 0 1 0 -1.9,0M283.08,604.67a0.95,0.95 0 1 0 1.9,0a0.95,0.95 0 1 0 -1.9,0M282.18,603.85a0.95,0.95 0 1 0 1.9,0a0.95,0.95 0 1 0 -1.9,0M282.98,605.08a0.95,0.95 0 1 0 1.9,0a0.95,0.95 0 1 0 -1.9,0" fill="#111"/><path d="M289.57,607.89a0.95,0.95 0 1 0 1.9,0a0.95,0.95 0 1 0 -1.9,0M289.79,606.62a0.95,0.95 0 1 0 1.9,0a0.95,0.95 0 1 0 -1.9,0M288.69,605.71a0.95,0.95 0 1 0 1.9,0a0.95,0.95 0 1 0 -1.9,0M288.27,604.8a0.95,0.95 0 1 0 1.9,0a0.95,0.95 0 1 0 -1.9,0M287.95,606.44a0.95,0.95 0 1 0 1.9,0a0.95,0.95 0 1 0 -1.9,0" fill="#111"/><line x1="286.9" y1="653.6" x2="286.9" y2="656.8" stroke="#111" stroke-width="1.1" /><text transform="translate(290.9,664) rotate(-45)" font-size="8.6" font-style="italic" text-anchor="end" fill="#231f20">Zic5</text><rect x="297.6" y="608.25" width="3.9" height="45.35" fill="#a6a6ac" stroke="none" stroke-width="1" /><rect x="303.2" y="605.53" width="3.9" height="48.07" fill="#c0b67e" stroke="none" stroke-width="1" /><line x1="299.55" y1="620.49" x2="299.55" y2="596.01" stroke="#111" stroke-width="0.7" /><line x1="298.25" y1="620.49" x2="300.85" y2="620.49" stroke="#111" stroke-width="0.7" /><line x1="298.25" y1="596.01" x2="300.85" y2="596.01" stroke="#111" stroke-width="0.7" /><line x1="305.15" y1="610.97" x2="305.15" y2="600.09" stroke="#111" stroke-width="0.7" /><line x1="303.85" y1="610.97" x2="306.45" y2="610.97" stroke="#111" stroke-width="0.7" /><line x1="303.85" y1="600.09" x2="306.45" y2="600.09" stroke="#111" stroke-width="0.7" /><path d="M298.91,618.05a0.95,0.95 0 1 0 1.9,0a0.95,0.95 0 1 0 -1.9,0M299.71,610.7a0.95,0.95 0 1 0 1.9,0a0.95,0.95 0 1 0 -1.9,0M297.64,604.58a0.95,0.95 0 1 0 1.9,0a0.95,0.95 0 1 0 -1.9,0M299.33,597.23a0.95,0.95 0 1 0 1.9,0a0.95,0.95 0 1 0 -1.9,0M297.36,608.25a0.95,0.95 0 1 0 1.9,0a0.95,0.95 0 1 0 -1.9,0" fill="#111"/><path d="M303.4,609.88a0.95,0.95 0 1 0 1.9,0a0.95,0.95 0 1 0 -1.9,0M303.49,606.07a0.95,0.95 0 1 0 1.9,0a0.95,0.95 0 1 0 -1.9,0M304.69,603.35a0.95,0.95 0 1 0 1.9,0a0.95,0.95 0 1 0 -1.9,0M303.74,600.63a0.95,0.95 0 1 0 1.9,0a0.95,0.95 0 1 0 -1.9,0M303.82,605.53a0.95,0.95 0 1 0 1.9,0a0.95,0.95 0 1 0 -1.9,0" fill="#111"/><line x1="302.35" y1="653.6" x2="302.35" y2="656.8" stroke="#111" stroke-width="1.1" /><text transform="translate(306.35,664) rotate(-45)" font-size="8.6" font-style="italic" text-anchor="end" fill="#231f20">Dppa2</text><rect x="313.05" y="605.08" width="3.9" height="48.52" fill="#a6a6ac" stroke="none" stroke-width="1" /><rect x="318.65" y="605.98" width="3.9" height="47.62" fill="#c0b67e" stroke="none" stroke-width="1" /><line x1="315" y1="617.32" x2="315" y2="592.83" stroke="#111" stroke-width="0.7" /><line x1="313.7" y1="617.32" x2="316.3" y2="617.32" stroke="#111" stroke-width="0.7" /><line x1="313.7" y1="592.83" x2="316.3" y2="592.83" stroke="#111" stroke-width="0.7" /><line x1="320.6" y1="612.78" x2="320.6" y2="599.18" stroke="#111" stroke-width="0.7" /><line x1="319.3" y1="612.78" x2="321.9" y2="612.78" stroke="#111" stroke-width="0.7" /><line x1="319.3" y1="599.18" x2="321.9" y2="599.18" stroke="#111" stroke-width="0.7" /><path d="M314.36,614.87a0.95,0.95 0 1 0 1.9,0a0.95,0.95 0 1 0 -1.9,0M313.02,607.52a0.95,0.95 0 1 0 1.9,0a0.95,0.95 0 1 0 -1.9,0M314.65,601.4a0.95,0.95 0 1 0 1.9,0a0.95,0.95 0 1 0 -1.9,0M313.07,594.06a0.95,0.95 0 1 0 1.9,0a0.95,0.95 0 1 0 -1.9,0M314.08,605.08a0.95,0.95 0 1 0 1.9,0a0.95,0.95 0 1 0 -1.9,0" fill="#111"/><path d="M319,611.42a0.95,0.95 0 1 0 1.9,0a0.95,0.95 0 1 0 -1.9,0M318.86,606.66a0.95,0.95 0 1 0 1.9,0a0.95,0.95 0 1 0 -1.9,0M319.73,603.26a0.95,0.95 0 1 0 1.9,0a0.95,0.95 0 1 0 -1.9,0M319.49,599.86a0.95,0.95 0 1 0 1.9,0a0.95,0.95 0 1 0 -1.9,0M319.33,605.98a0.95,0.95 0 1 0 1.9,0a0.95,0.95 0 1 0 -1.9,0" fill="#111"/><line x1="317.8" y1="653.6" x2="317.8" y2="656.8" stroke="#111" stroke-width="1.1" /><text transform="translate(321.8,664) rotate(-45)" font-size="8.6" font-style="italic" text-anchor="end" fill="#231f20">Klf5</text><rect x="328.5" y="604.62" width="3.9" height="48.98" fill="#a6a6ac" stroke="none" stroke-width="1" /><rect x="334.1" y="608.25" width="3.9" height="45.35" fill="#c0b67e" stroke="none" stroke-width="1" /><line x1="330.45" y1="610.06" x2="330.45" y2="599.18" stroke="#111" stroke-width="0.7" /><line x1="329.15" y1="610.06" x2="331.75" y2="610.06" stroke="#111" stroke-width="0.7" /><line x1="329.15" y1="599.18" x2="331.75" y2="599.18" stroke="#111" stroke-width="0.7" /><line x1="336.05" y1="610.52" x2="336.05" y2="605.98" stroke="#111" stroke-width="0.7" /><line x1="334.75" y1="610.52" x2="337.35" y2="610.52" stroke="#111" stroke-width="0.7" /><line x1="334.75" y1="605.98" x2="337.35" y2="605.98" stroke="#111" stroke-width="0.7" /><path d="M329.27,608.98a0.95,0.95 0 1 0 1.9,0a0.95,0.95 0 1 0 -1.9,0M329.58,605.71a0.95,0.95 0 1 0 1.9,0a0.95,0.95 0 1 0 -1.9,0M328.62,602.99a0.95,0.95 0 1 0 1.9,0a0.95,0.95 0 1 0 -1.9,0M328.73,599.72a0.95,0.95 0 1 0 1.9,0a0.95,0.95 0 1 0 -1.9,0M329.84,604.62a0.95,0.95 0 1 0 1.9,0a0.95,0.95 0 1 0 -1.9,0" fill="#111"/><path d="M335.46,610.06a0.95,0.95 0 1 0 1.9,0a0.95,0.95 0 1 0 -1.9,0M335.18,608.48a0.95,0.95 0 1 0 1.9,0a0.95,0.95 0 1 0 -1.9,0M336.01,607.34a0.95,0.95 0 1 0 1.9,0a0.95,0.95 0 1 0 -1.9,0M335.39,606.21a0.95,0.95 0 1 0 1.9,0a0.95,0.95 0 1 0 -1.9,0M336.03,608.25a0.95,0.95 0 1 0 1.9,0a0.95,0.95 0 1 0 -1.9,0" fill="#111"/><line x1="333.25" y1="653.6" x2="333.25" y2="656.8" stroke="#111" stroke-width="1.1" /><text transform="translate(337.25,664) rotate(-45)" font-size="8.6" font-style="italic" text-anchor="end" fill="#231f20">Esrrb</text><rect x="343.95" y="605.98" width="3.9" height="47.62" fill="#a6a6ac" stroke="none" stroke-width="1" /><rect x="349.55" y="618.23" width="3.9" height="35.37" fill="#c0b67e" stroke="none" stroke-width="1" /><line x1="345.9" y1="613.69" x2="345.9" y2="598.27" stroke="#111" stroke-width="0.7" /><line x1="344.6" y1="613.69" x2="347.2" y2="613.69" stroke="#111" stroke-width="0.7" /><line x1="344.6" y1="598.27" x2="347.2" y2="598.27" stroke="#111" stroke-width="0.7" /><line x1="351.5" y1="620.95" x2="351.5" y2="615.51" stroke="#111" stroke-width="0.7" /><line x1="350.2" y1="620.95" x2="352.8" y2="620.95" stroke="#111" stroke-width="0.7" /><line x1="350.2" y1="615.51" x2="352.8" y2="615.51" stroke="#111" stroke-width="0.7" /><path d="M344.25,612.15a0.95,0.95 0 1 0 1.9,0a0.95,0.95 0 1 0 -1.9,0M345.58,607.52a0.95,0.95 0 1 0 1.9,0a0.95,0.95 0 1 0 -1.9,0M345.76,603.67a0.95,0.95 0 1 0 1.9,0a0.95,0.95 0 1 0 -1.9,0M346,599.04a0.95,0.95 0 1 0 1.9,0a0.95,0.95 0 1 0 -1.9,0M344.47,605.98a0.95,0.95 0 1 0 1.9,0a0.95,0.95 0 1 0 -1.9,0" fill="#111"/><path d="M350.07,620.4a0.95,0.95 0 1 0 1.9,0a0.95,0.95 0 1 0 -1.9,0M351.65,618.5a0.95,0.95 0 1 0 1.9,0a0.95,0.95 0 1 0 -1.9,0M349.82,617.14a0.95,0.95 0 1 0 1.9,0a0.95,0.95 0 1 0 -1.9,0M351.85,615.78a0.95,0.95 0 1 0 1.9,0a0.95,0.95 0 1 0 -1.9,0M351.56,618.23a0.95,0.95 0 1 0 1.9,0a0.95,0.95 0 1 0 -1.9,0" fill="#111"/><line x1="348.7" y1="653.6" x2="348.7" y2="656.8" stroke="#111" stroke-width="1.1" /><text transform="translate(352.7,664) rotate(-45)" font-size="8.6" font-style="italic" text-anchor="end" fill="#231f20">5′-ETS</text><text x="350.8" y="613.52" font-size="7" text-anchor="middle" fill="#231f20" >**</text><line x1="218.6" y1="608.25" x2="355" y2="608.25" stroke="#e0474c" stroke-width="0.7" stroke-dasharray="1.6,1.4"/><line x1="218.6" y1="562.9" x2="218.6" y2="653.6" stroke="#111" stroke-width="1.1" /><line x1="218.6" y1="653.6" x2="355" y2="653.6" stroke="#111" stroke-width="1.1" /><line x1="216.1" y1="653.6" x2="218.6" y2="653.6" stroke="#111" stroke-width="0.9" /><text x="213.4" y="656.7" font-size="8.6" text-anchor="end" fill="#231f20" >0.0</text><line x1="216.1" y1="630.93" x2="218.6" y2="630.93" stroke="#111" stroke-width="0.9" /><text x="213.4" y="634.02" font-size="8.6" text-anchor="end" fill="#231f20" >0.5</text><line x1="216.1" y1="608.25" x2="218.6" y2="608.25" stroke="#111" stroke-width="0.9" /><text x="213.4" y="611.35" font-size="8.6" text-anchor="end" fill="#231f20" >1.0</text><line x1="216.1" y1="585.58" x2="218.6" y2="585.58" stroke="#111" stroke-width="0.9" /><text x="213.4" y="588.67" font-size="8.6" text-anchor="end" fill="#231f20" >1.5</text><line x1="216.1" y1="562.9" x2="218.6" y2="562.9" stroke="#111" stroke-width="0.9" /><text x="213.4" y="566" font-size="8.6" text-anchor="end" fill="#231f20" >2.0</text><text transform="translate(196.6,607) rotate(-90)" font-size="8.6" text-anchor="middle" fill="#231f20" >Relative gene level</text><text x="379" y="512.8" font-size="11" font-weight="bold" fill="#000">k</text><text x="481.6" y="532.3" font-size="8.6" text-anchor="middle" fill="#231f20" >Nascent RNA-qPCR</text><text x="481.6" y="542.9" font-size="8.6" text-anchor="middle" fill="#231f20" >POLR1A-dTAG</text><rect x="418.5" y="551.4" width="10" height="5" fill="#a6a6ac" stroke="none" stroke-width="1" /><text x="433.9" y="557" font-size="8.6" text-anchor="start" fill="#231f20" >No dTAG</text><rect x="485.7" y="551.4" width="9.4" height="5" fill="#b5aa78" stroke="none" stroke-width="1" /><text x="500.5" y="557" font-size="8.6" text-anchor="start" fill="#231f20" >dTAG 4 h</text><rect x="413.1" y="608.55" width="3.8" height="45.25" fill="#a6a6ac" stroke="none" stroke-width="1" /><rect x="412.9" y="607.65" width="4.2" height="1.8" rx="0.9" fill="#111"/><rect x="419.3" y="609.45" width="3.8" height="44.35" fill="#b5aa78" stroke="none" stroke-width="1" /><line x1="421.2" y1="613.07" x2="421.2" y2="605.83" stroke="#111" stroke-width="0.7" /><line x1="419.9" y1="613.07" x2="422.5" y2="613.07" stroke="#111" stroke-width="0.7" /><line x1="419.9" y1="605.83" x2="422.5" y2="605.83" stroke="#111" stroke-width="0.7" /><path d="M419.49,612.35a1.05,1.05 0 1 0 2.1,0a1.05,1.05 0 1 0 -2.1,0M419.68,609.45a1.05,1.05 0 1 0 2.1,0a1.05,1.05 0 1 0 -2.1,0M420.56,606.56a1.05,1.05 0 1 0 2.1,0a1.05,1.05 0 1 0 -2.1,0" fill="#111"/><text x="421.2" y="602.03" font-size="7.5" text-anchor="middle" fill="#231f20" >ns</text><line x1="418" y1="653.8" x2="418" y2="657" stroke="#111" stroke-width="1.1" /><text transform="translate(423.5,664.6) rotate(-45)" font-size="8.6" font-style="italic" text-anchor="end" fill="#231f20">Pou5f1</text><rect x="428.4" y="608.55" width="3.8" height="45.25" fill="#a6a6ac" stroke="none" stroke-width="1" /><rect x="428.2" y="607.65" width="4.2" height="1.8" rx="0.9" fill="#111"/><rect x="434.6" y="610.81" width="3.8" height="42.99" fill="#b5aa78" stroke="none" stroke-width="1" /><line x1="436.5" y1="613.98" x2="436.5" y2="607.64" stroke="#111" stroke-width="0.7" /><line x1="435.2" y1="613.98" x2="437.8" y2="613.98" stroke="#111" stroke-width="0.7" /><line x1="435.2" y1="607.64" x2="437.8" y2="607.64" stroke="#111" stroke-width="0.7" /><path d="M435.02,613.35a1.05,1.05 0 1 0 2.1,0a1.05,1.05 0 1 0 -2.1,0M434.72,610.81a1.05,1.05 0 1 0 2.1,0a1.05,1.05 0 1 0 -2.1,0M436.05,608.28a1.05,1.05 0 1 0 2.1,0a1.05,1.05 0 1 0 -2.1,0" fill="#111"/><text x="436.5" y="603.85" font-size="7.5" text-anchor="middle" fill="#231f20" >ns</text><line x1="433.3" y1="653.8" x2="433.3" y2="657" stroke="#111" stroke-width="1.1" /><text transform="translate(438.8,664.6) rotate(-45)" font-size="8.6" font-style="italic" text-anchor="end" fill="#231f20">Nanog</text><rect x="443.7" y="608.55" width="3.8" height="45.25" fill="#a6a6ac" stroke="none" stroke-width="1" /><rect x="443.5" y="607.65" width="4.2" height="1.8" rx="0.9" fill="#111"/><rect x="449.9" y="605.83" width="3.8" height="47.97" fill="#b5aa78" stroke="none" stroke-width="1" /><line x1="451.8" y1="611.72" x2="451.8" y2="599.95" stroke="#111" stroke-width="0.7" /><line x1="450.5" y1="611.72" x2="453.1" y2="611.72" stroke="#111" stroke-width="0.7" /><line x1="450.5" y1="599.95" x2="453.1" y2="599.95" stroke="#111" stroke-width="0.7" /><path d="M450.61,610.54a1.05,1.05 0 1 0 2.1,0a1.05,1.05 0 1 0 -2.1,0M451.27,605.83a1.05,1.05 0 1 0 2.1,0a1.05,1.05 0 1 0 -2.1,0M450.08,601.13a1.05,1.05 0 1 0 2.1,0a1.05,1.05 0 1 0 -2.1,0" fill="#111"/><text x="451.8" y="596.15" font-size="7.5" text-anchor="middle" fill="#231f20" >ns</text><line x1="448.6" y1="653.8" x2="448.6" y2="657" stroke="#111" stroke-width="1.1" /><text transform="translate(454.1,664.6) rotate(-45)" font-size="8.6" font-style="italic" text-anchor="end" fill="#231f20">L1td1</text><rect x="459" y="608.55" width="3.8" height="45.25" fill="#a6a6ac" stroke="none" stroke-width="1" /><rect x="458.8" y="607.65" width="4.2" height="1.8" rx="0.9" fill="#111"/><rect x="465.2" y="601.76" width="3.8" height="52.04" fill="#b5aa78" stroke="none" stroke-width="1" /><line x1="467.1" y1="605.38" x2="467.1" y2="598.14" stroke="#111" stroke-width="0.7" /><line x1="465.8" y1="605.38" x2="468.4" y2="605.38" stroke="#111" stroke-width="0.7" /><line x1="465.8" y1="598.14" x2="468.4" y2="598.14" stroke="#111" stroke-width="0.7" /><path d="M465.88,604.66a1.05,1.05 0 1 0 2.1,0a1.05,1.05 0 1 0 -2.1,0M466.38,601.76a1.05,1.05 0 1 0 2.1,0a1.05,1.05 0 1 0 -2.1,0M465.18,598.87a1.05,1.05 0 1 0 2.1,0a1.05,1.05 0 1 0 -2.1,0" fill="#111"/><text x="467.1" y="594.34" font-size="7.5" text-anchor="middle" fill="#231f20" >ns</text><line x1="463.9" y1="653.8" x2="463.9" y2="657" stroke="#111" stroke-width="1.1" /><text transform="translate(469.4,664.6) rotate(-45)" font-size="8.6" font-style="italic" text-anchor="end" fill="#231f20">Sall4</text><rect x="474.3" y="608.55" width="3.8" height="45.25" fill="#a6a6ac" stroke="none" stroke-width="1" /><rect x="474.1" y="607.65" width="4.2" height="1.8" rx="0.9" fill="#111"/><rect x="480.5" y="607.64" width="3.8" height="46.15" fill="#b5aa78" stroke="none" stroke-width="1" /><line x1="482.4" y1="611.26" x2="482.4" y2="604.02" stroke="#111" stroke-width="0.7" /><line x1="481.1" y1="611.26" x2="483.7" y2="611.26" stroke="#111" stroke-width="0.7" /><line x1="481.1" y1="604.02" x2="483.7" y2="604.02" stroke="#111" stroke-width="0.7" /><path d="M480.81,610.54a1.05,1.05 0 1 0 2.1,0a1.05,1.05 0 1 0 -2.1,0M481.68,607.64a1.05,1.05 0 1 0 2.1,0a1.05,1.05 0 1 0 -2.1,0M482.09,604.75a1.05,1.05 0 1 0 2.1,0a1.05,1.05 0 1 0 -2.1,0" fill="#111"/><text x="482.4" y="600.23" font-size="7.5" text-anchor="middle" fill="#231f20" >ns</text><line x1="479.2" y1="653.8" x2="479.2" y2="657" stroke="#111" stroke-width="1.1" /><text transform="translate(484.7,664.6) rotate(-45)" font-size="8.6" font-style="italic" text-anchor="end" fill="#231f20">Zic5</text><rect x="489.6" y="608.55" width="3.8" height="45.25" fill="#a6a6ac" stroke="none" stroke-width="1" /><rect x="489.4" y="607.65" width="4.2" height="1.8" rx="0.9" fill="#111"/><rect x="495.8" y="604.93" width="3.8" height="48.87" fill="#b5aa78" stroke="none" stroke-width="1" /><line x1="497.7" y1="613.98" x2="497.7" y2="595.88" stroke="#111" stroke-width="0.7" /><line x1="496.4" y1="613.98" x2="499" y2="613.98" stroke="#111" stroke-width="0.7" /><line x1="496.4" y1="595.88" x2="499" y2="595.88" stroke="#111" stroke-width="0.7" /><path d="M497.49,612.17a1.05,1.05 0 1 0 2.1,0a1.05,1.05 0 1 0 -2.1,0M495.96,604.93a1.05,1.05 0 1 0 2.1,0a1.05,1.05 0 1 0 -2.1,0M496.66,597.69a1.05,1.05 0 1 0 2.1,0a1.05,1.05 0 1 0 -2.1,0" fill="#111"/><text x="497.7" y="592.08" font-size="7.5" text-anchor="middle" fill="#231f20" >ns</text><line x1="494.5" y1="653.8" x2="494.5" y2="657" stroke="#111" stroke-width="1.1" /><text transform="translate(500,664.6) rotate(-45)" font-size="8.6" font-style="italic" text-anchor="end" fill="#231f20">Dppa2</text><rect x="504.9" y="608.55" width="3.8" height="45.25" fill="#a6a6ac" stroke="none" stroke-width="1" /><rect x="504.7" y="607.65" width="4.2" height="1.8" rx="0.9" fill="#111"/><rect x="511.1" y="612.62" width="3.8" height="41.18" fill="#b5aa78" stroke="none" stroke-width="1" /><line x1="513" y1="625.29" x2="513" y2="599.95" stroke="#111" stroke-width="0.7" /><line x1="511.7" y1="625.29" x2="514.3" y2="625.29" stroke="#111" stroke-width="0.7" /><line x1="511.7" y1="599.95" x2="514.3" y2="599.95" stroke="#111" stroke-width="0.7" /><path d="M512.41,622.76a1.05,1.05 0 1 0 2.1,0a1.05,1.05 0 1 0 -2.1,0M511.96,612.62a1.05,1.05 0 1 0 2.1,0a1.05,1.05 0 1 0 -2.1,0M512.28,602.49a1.05,1.05 0 1 0 2.1,0a1.05,1.05 0 1 0 -2.1,0" fill="#111"/><text x="513" y="596.15" font-size="7.5" text-anchor="middle" fill="#231f20" >ns</text><line x1="509.8" y1="653.8" x2="509.8" y2="657" stroke="#111" stroke-width="1.1" /><text transform="translate(515.3,664.6) rotate(-45)" font-size="8.6" font-style="italic" text-anchor="end" fill="#231f20">Klf5</text><rect x="520.2" y="608.55" width="3.8" height="45.25" fill="#a6a6ac" stroke="none" stroke-width="1" /><rect x="520" y="607.65" width="4.2" height="1.8" rx="0.9" fill="#111"/><rect x="526.4" y="603.12" width="3.8" height="50.68" fill="#b5aa78" stroke="none" stroke-width="1" /><line x1="528.3" y1="614.88" x2="528.3" y2="591.35" stroke="#111" stroke-width="0.7" /><line x1="527" y1="614.88" x2="529.6" y2="614.88" stroke="#111" stroke-width="0.7" /><line x1="527" y1="591.35" x2="529.6" y2="591.35" stroke="#111" stroke-width="0.7" /><path d="M526.69,612.53a1.05,1.05 0 1 0 2.1,0a1.05,1.05 0 1 0 -2.1,0M526.48,603.12a1.05,1.05 0 1 0 2.1,0a1.05,1.05 0 1 0 -2.1,0M526.54,593.71a1.05,1.05 0 1 0 2.1,0a1.05,1.05 0 1 0 -2.1,0" fill="#111"/><text x="528.3" y="587.55" font-size="7.5" text-anchor="middle" fill="#231f20" >ns</text><line x1="525.1" y1="653.8" x2="525.1" y2="657" stroke="#111" stroke-width="1.1" /><text transform="translate(530.6,664.6) rotate(-45)" font-size="8.6" font-style="italic" text-anchor="end" fill="#231f20">Esrrb</text><rect x="535.5" y="608.55" width="3.8" height="45.25" fill="#a6a6ac" stroke="none" stroke-width="1" /><rect x="535.3" y="607.65" width="4.2" height="1.8" rx="0.9" fill="#111"/><rect x="541.7" y="628.46" width="3.8" height="25.34" fill="#b5aa78" stroke="none" stroke-width="1" /><line x1="543.6" y1="635.7" x2="543.6" y2="621.22" stroke="#111" stroke-width="0.7" /><line x1="542.3" y1="635.7" x2="544.9" y2="635.7" stroke="#111" stroke-width="0.7" /><line x1="542.3" y1="621.22" x2="544.9" y2="621.22" stroke="#111" stroke-width="0.7" /><path d="M541.72,634.25a1.05,1.05 0 1 0 2.1,0a1.05,1.05 0 1 0 -2.1,0M542.64,628.46a1.05,1.05 0 1 0 2.1,0a1.05,1.05 0 1 0 -2.1,0M542.58,622.67a1.05,1.05 0 1 0 2.1,0a1.05,1.05 0 1 0 -2.1,0" fill="#111"/><text x="543.6" y="620.24" font-size="7" text-anchor="middle" fill="#231f20" >*</text><line x1="540.4" y1="653.8" x2="540.4" y2="657" stroke="#111" stroke-width="1.1" /><text transform="translate(545.9,664.6) rotate(-45)" font-size="8.6" font-style="italic" text-anchor="end" fill="#231f20">5′-ETS</text><line x1="411.7" y1="563.3" x2="411.7" y2="653.8" stroke="#111" stroke-width="1.1" /><line x1="411.7" y1="653.8" x2="548.2" y2="653.8" stroke="#111" stroke-width="1.1" /><line x1="409.2" y1="653.8" x2="411.7" y2="653.8" stroke="#111" stroke-width="0.9" /><text x="407.3" y="656.9" font-size="8.6" text-anchor="end" fill="#231f20" >0.0</text><line x1="409.2" y1="631.17" x2="411.7" y2="631.17" stroke="#111" stroke-width="0.9" /><text x="407.3" y="634.27" font-size="8.6" text-anchor="end" fill="#231f20" >0.5</text><line x1="409.2" y1="608.55" x2="411.7" y2="608.55" stroke="#111" stroke-width="0.9" /><text x="407.3" y="611.65" font-size="8.6" text-anchor="end" fill="#231f20" >1.0</text><line x1="409.2" y1="585.92" x2="411.7" y2="585.92" stroke="#111" stroke-width="0.9" /><text x="407.3" y="589.02" font-size="8.6" text-anchor="end" fill="#231f20" >1.5</text><line x1="409.2" y1="563.3" x2="411.7" y2="563.3" stroke="#111" stroke-width="0.9" /><text x="407.3" y="566.4" font-size="8.6" text-anchor="end" fill="#231f20" >2.0</text><text transform="translate(390.6,608) rotate(-90)" font-size="8.6" text-anchor="middle" fill="#231f20" >Relative gene level</text><text x="574" y="512.8" font-size="11" font-weight="bold" fill="#000">l</text><text x="595.3" y="526.6" font-size="8.6" text-anchor="start" fill="#231f20" >POLR1A-AID PRO-seq</text><rect x="612.5" y="591.39" width="23.6" height="19.44" fill="#a6dac8" stroke="none" stroke-width="1" /><rect x="651.7" y="589.37" width="23.6" height="19.03" fill="#f5b899" stroke="none" stroke-width="1" /><path d="M628.3,617.8h1.5v1.5h-1.5zM630.3,617.4h1.5v1.5h-1.5zM616.3,602.4h1.5v1.5h-1.5zM624.0,633.9h1.5v1.5h-1.5zM629.4,580.1h1.5v1.5h-1.5zM618.0,607.8h1.5v1.5h-1.5zM625.0,611.3h1.5v1.5h-1.5zM625.6,598.1h1.5v1.5h-1.5zM620.9,589.9h1.5v1.5h-1.5zM631.4,599.4h1.5v1.5h-1.5zM629.3,599.4h1.5v1.5h-1.5zM618.5,609.0h1.5v1.5h-1.5zM616.0,606.0h1.5v1.5h-1.5zM630.5,605.5h1.5v1.5h-1.5zM632.5,597.7h1.5v1.5h-1.5zM630.1,590.3h1.5v1.5h-1.5zM624.9,609.6h1.5v1.5h-1.5zM621.9,563.5h1.5v1.5h-1.5zM630.0,579.1h1.5v1.5h-1.5zM630.6,608.6h1.5v1.5h-1.5zM618.7,604.6h1.5v1.5h-1.5zM619.1,586.9h1.5v1.5h-1.5zM625.9,588.7h1.5v1.5h-1.5zM616.0,595.3h1.5v1.5h-1.5zM621.2,606.2h1.5v1.5h-1.5zM629.1,612.5h1.5v1.5h-1.5zM624.0,613.2h1.5v1.5h-1.5zM627.8,598.7h1.5v1.5h-1.5zM627.9,586.1h1.5v1.5h-1.5zM629.2,598.7h1.5v1.5h-1.5zM622.0,602.7h1.5v1.5h-1.5zM616.6,602.1h1.5v1.5h-1.5zM618.9,601.3h1.5v1.5h-1.5zM628.4,590.8h1.5v1.5h-1.5zM631.6,603.0h1.5v1.5h-1.5zM622.1,587.5h1.5v1.5h-1.5zM624.7,605.2h1.5v1.5h-1.5zM628.5,599.2h1.5v1.5h-1.5zM629.2,607.3h1.5v1.5h-1.5zM631.8,597.7h1.5v1.5h-1.5zM617.4,603.4h1.5v1.5h-1.5zM630.8,611.3h1.5v1.5h-1.5zM622.1,583.1h1.5v1.5h-1.5zM621.7,583.7h1.5v1.5h-1.5zM621.4,608.9h1.5v1.5h-1.5zM618.4,597.7h1.5v1.5h-1.5zM627.4,594.9h1.5v1.5h-1.5zM617.1,591.5h1.5v1.5h-1.5zM632.6,600.5h1.5v1.5h-1.5zM620.5,615.2h1.5v1.5h-1.5zM625.9,603.5h1.5v1.5h-1.5zM623.0,592.7h1.5v1.5h-1.5zM617.9,614.9h1.5v1.5h-1.5zM624.2,597.0h1.5v1.5h-1.5zM630.0,602.2h1.5v1.5h-1.5zM630.5,583.8h1.5v1.5h-1.5zM626.1,582.6h1.5v1.5h-1.5zM623.2,598.6h1.5v1.5h-1.5zM618.6,607.2h1.5v1.5h-1.5zM623.5,593.3h1.5v1.5h-1.5zM632.1,610.6h1.5v1.5h-1.5zM623.8,575.9h1.5v1.5h-1.5zM624.2,632.8h1.5v1.5h-1.5zM620.8,602.5h1.5v1.5h-1.5zM623.0,617.2h1.5v1.5h-1.5zM632.1,591.5h1.5v1.5h-1.5zM631.3,588.8h1.5v1.5h-1.5zM621.9,612.5h1.5v1.5h-1.5zM618.1,612.8h1.5v1.5h-1.5zM630.5,603.9h1.5v1.5h-1.5zM622.8,574.6h1.5v1.5h-1.5zM627.5,594.5h1.5v1.5h-1.5zM626.1,625.3h1.5v1.5h-1.5zM627.8,599.4h1.5v1.5h-1.5zM621.1,614.4h1.5v1.5h-1.5zM626.4,625.7h1.5v1.5h-1.5zM620.8,598.0h1.5v1.5h-1.5zM625.3,580.0h1.5v1.5h-1.5zM616.3,607.5h1.5v1.5h-1.5zM627.0,611.1h1.5v1.5h-1.5zM623.7,603.6h1.5v1.5h-1.5zM629.1,591.6h1.5v1.5h-1.5zM622.4,619.9h1.5v1.5h-1.5zM629.0,615.3h1.5v1.5h-1.5zM622.4,619.5h1.5v1.5h-1.5zM626.9,583.7h1.5v1.5h-1.5zM629.6,625.4h1.5v1.5h-1.5zM624.7,583.0h1.5v1.5h-1.5zM618.7,605.2h1.5v1.5h-1.5zM624.0,582.2h1.5v1.5h-1.5zM626.1,630.3h1.5v1.5h-1.5zM618.8,604.9h1.5v1.5h-1.5zM627.5,624.0h1.5v1.5h-1.5zM623.3,619.5h1.5v1.5h-1.5zM626.2,611.0h1.5v1.5h-1.5zM628.0,597.0h1.5v1.5h-1.5zM618.5,621.2h1.5v1.5h-1.5zM626.7,591.7h1.5v1.5h-1.5zM620.2,586.7h1.5v1.5h-1.5zM616.9,608.5h1.5v1.5h-1.5zM623.9,619.6h1.5v1.5h-1.5zM618.1,599.6h1.5v1.5h-1.5zM621.3,595.4h1.5v1.5h-1.5zM616.5,596.2h1.5v1.5h-1.5zM623.7,591.4h1.5v1.5h-1.5zM625.6,615.3h1.5v1.5h-1.5zM620.5,586.3h1.5v1.5h-1.5zM622.7,599.9h1.5v1.5h-1.5zM620.5,600.6h1.5v1.5h-1.5zM629.8,606.5h1.5v1.5h-1.5zM622.2,596.4h1.5v1.5h-1.5zM619.2,580.3h1.5v1.5h-1.5zM625.1,595.7h1.5v1.5h-1.5zM631.5,610.8h1.5v1.5h-1.5zM628.7,583.7h1.5v1.5h-1.5zM625.9,624.1h1.5v1.5h-1.5zM622.4,587.0h1.5v1.5h-1.5zM625.3,587.7h1.5v1.5h-1.5zM630.8,584.7h1.5v1.5h-1.5zM622.4,580.3h1.5v1.5h-1.5zM630.9,604.4h1.5v1.5h-1.5zM625.4,593.2h1.5v1.5h-1.5zM626.3,600.3h1.5v1.5h-1.5zM630.1,587.0h1.5v1.5h-1.5zM622.6,584.1h1.5v1.5h-1.5zM621.0,610.0h1.5v1.5h-1.5zM632.2,595.9h1.5v1.5h-1.5zM628.5,627.9h1.5v1.5h-1.5zM625.3,574.3h1.5v1.5h-1.5zM624.2,602.9h1.5v1.5h-1.5zM623.0,558.5h1.5v1.5h-1.5zM621.4,583.1h1.5v1.5h-1.5zM623.9,602.0h1.5v1.5h-1.5zM623.5,585.3h1.5v1.5h-1.5zM621.3,585.9h1.5v1.5h-1.5zM616.2,594.8h1.5v1.5h-1.5zM624.6,627.6h1.5v1.5h-1.5zM629.0,605.5h1.5v1.5h-1.5zM622.1,565.9h1.5v1.5h-1.5zM632.6,601.3h1.5v1.5h-1.5zM621.0,591.7h1.5v1.5h-1.5zM626.5,613.4h1.5v1.5h-1.5zM625.9,610.9h1.5v1.5h-1.5zM628.7,600.6h1.5v1.5h-1.5zM621.1,607.8h1.5v1.5h-1.5zM621.3,613.5h1.5v1.5h-1.5zM624.8,603.1h1.5v1.5h-1.5zM627.9,614.0h1.5v1.5h-1.5zM625.8,597.2h1.5v1.5h-1.5zM623.6,589.2h1.5v1.5h-1.5zM631.3,597.7h1.5v1.5h-1.5zM617.2,586.1h1.5v1.5h-1.5zM628.5,612.4h1.5v1.5h-1.5zM627.1,617.8h1.5v1.5h-1.5zM626.4,591.8h1.5v1.5h-1.5zM623.3,632.9h1.5v1.5h-1.5zM622.5,596.6h1.5v1.5h-1.5zM620.9,594.4h1.5v1.5h-1.5zM629.6,608.2h1.5v1.5h-1.5zM626.4,574.4h1.5v1.5h-1.5zM623.3,588.9h1.5v1.5h-1.5zM631.1,606.2h1.5v1.5h-1.5zM620.4,575.0h1.5v1.5h-1.5zM624.3,618.9h1.5v1.5h-1.5zM621.4,597.8h1.5v1.5h-1.5zM629.1,589.0h1.5v1.5h-1.5zM618.3,584.1h1.5v1.5h-1.5zM629.2,596.9h1.5v1.5h-1.5zM626.0,573.0h1.5v1.5h-1.5zM629.8,576.8h1.5v1.5h-1.5zM632.7,596.5h1.5v1.5h-1.5zM630.1,601.7h1.5v1.5h-1.5zM619.6,604.8h1.5v1.5h-1.5zM626.8,622.7h1.5v1.5h-1.5zM620.7,629.4h1.5v1.5h-1.5zM618.7,609.1h1.5v1.5h-1.5zM625.3,568.2h1.5v1.5h-1.5zM626.3,607.9h1.5v1.5h-1.5zM616.7,595.8h1.5v1.5h-1.5zM617.7,589.0h1.5v1.5h-1.5zM617.3,591.2h1.5v1.5h-1.5zM628.9,622.1h1.5v1.5h-1.5zM618.7,611.5h1.5v1.5h-1.5zM625.8,612.1h1.5v1.5h-1.5zM624.1,594.9h1.5v1.5h-1.5zM617.7,587.0h1.5v1.5h-1.5zM627.6,605.7h1.5v1.5h-1.5zM624.4,588.1h1.5v1.5h-1.5zM629.9,583.2h1.5v1.5h-1.5zM621.3,619.8h1.5v1.5h-1.5zM625.1,607.3h1.5v1.5h-1.5zM624.6,601.0h1.5v1.5h-1.5zM620.2,575.5h1.5v1.5h-1.5zM628.3,598.9h1.5v1.5h-1.5zM619.6,586.0h1.5v1.5h-1.5zM617.4,605.3h1.5v1.5h-1.5zM626.4,621.4h1.5v1.5h-1.5zM625.8,593.8h1.5v1.5h-1.5zM619.9,596.1h1.5v1.5h-1.5zM621.6,588.1h1.5v1.5h-1.5zM628.8,612.2h1.5v1.5h-1.5zM619.2,576.8h1.5v1.5h-1.5zM618.5,595.9h1.5v1.5h-1.5zM620.9,578.8h1.5v1.5h-1.5zM618.0,607.0h1.5v1.5h-1.5zM628.2,578.6h1.5v1.5h-1.5zM618.2,604.1h1.5v1.5h-1.5zM620.1,610.2h1.5v1.5h-1.5zM621.7,610.1h1.5v1.5h-1.5zM622.5,610.7h1.5v1.5h-1.5zM618.5,609.3h1.5v1.5h-1.5zM629.0,589.8h1.5v1.5h-1.5zM623.4,619.1h1.5v1.5h-1.5zM625.7,589.6h1.5v1.5h-1.5zM625.4,614.7h1.5v1.5h-1.5zM617.5,601.2h1.5v1.5h-1.5zM617.6,615.2h1.5v1.5h-1.5zM630.9,599.1h1.5v1.5h-1.5zM624.0,596.3h1.5v1.5h-1.5zM623.8,600.3h1.5v1.5h-1.5zM630.9,600.7h1.5v1.5h-1.5zM623.8,611.8h1.5v1.5h-1.5zM618.1,611.0h1.5v1.5h-1.5zM622.2,595.4h1.5v1.5h-1.5zM622.4,593.1h1.5v1.5h-1.5zM620.2,594.1h1.5v1.5h-1.5zM620.6,606.1h1.5v1.5h-1.5zM619.9,593.8h1.5v1.5h-1.5zM624.0,589.9h1.5v1.5h-1.5zM623.1,567.2h1.5v1.5h-1.5zM631.5,593.5h1.5v1.5h-1.5zM623.8,608.8h1.5v1.5h-1.5zM629.9,620.9h1.5v1.5h-1.5zM621.4,584.0h1.5v1.5h-1.5zM626.8,585.4h1.5v1.5h-1.5zM619.2,601.5h1.5v1.5h-1.5zM616.7,609.1h1.5v1.5h-1.5zM622.6,599.6h1.5v1.5h-1.5zM632.1,594.3h1.5v1.5h-1.5zM623.8,608.8h1.5v1.5h-1.5zM620.9,590.6h1.5v1.5h-1.5zM618.6,602.9h1.5v1.5h-1.5zM621.3,623.8h1.5v1.5h-1.5zM626.3,616.9h1.5v1.5h-1.5zM623.7,631.5h1.5v1.5h-1.5zM616.9,598.7h1.5v1.5h-1.5zM629.0,600.6h1.5v1.5h-1.5zM625.1,604.1h1.5v1.5h-1.5zM632.6,597.9h1.5v1.5h-1.5zM618.3,614.0h1.5v1.5h-1.5zM617.0,601.9h1.5v1.5h-1.5zM630.7,586.4h1.5v1.5h-1.5zM617.3,610.6h1.5v1.5h-1.5zM622.6,600.1h1.5v1.5h-1.5zM617.0,595.5h1.5v1.5h-1.5zM621.0,600.8h1.5v1.5h-1.5zM617.9,585.1h1.5v1.5h-1.5zM624.4,591.0h1.5v1.5h-1.5zM618.3,615.3h1.5v1.5h-1.5zM621.4,589.8h1.5v1.5h-1.5zM630.4,585.8h1.5v1.5h-1.5zM625.8,588.6h1.5v1.5h-1.5zM616.4,593.9h1.5v1.5h-1.5zM624.9,608.4h1.5v1.5h-1.5zM622.7,619.6h1.5v1.5h-1.5zM626.4,598.7h1.5v1.5h-1.5zM621.1,605.3h1.5v1.5h-1.5zM623.8,632.8h1.5v1.5h-1.5zM617.9,595.4h1.5v1.5h-1.5zM621.3,609.7h1.5v1.5h-1.5zM628.2,578.5h1.5v1.5h-1.5zM621.5,586.9h1.5v1.5h-1.5zM620.0,596.1h1.5v1.5h-1.5zM617.3,595.8h1.5v1.5h-1.5zM620.9,617.9h1.5v1.5h-1.5zM617.3,591.8h1.5v1.5h-1.5zM619.2,601.7h1.5v1.5h-1.5zM620.7,604.7h1.5v1.5h-1.5zM623.0,605.1h1.5v1.5h-1.5zM621.2,595.5h1.5v1.5h-1.5zM631.0,600.0h1.5v1.5h-1.5zM626.3,619.3h1.5v1.5h-1.5zM623.3,599.1h1.5v1.5h-1.5zM628.4,619.7h1.5v1.5h-1.5zM627.1,621.0h1.5v1.5h-1.5zM626.2,631.0h1.5v1.5h-1.5zM622.3,603.3h1.5v1.5h-1.5zM620.4,573.3h1.5v1.5h-1.5zM620.5,592.0h1.5v1.5h-1.5zM627.3,596.7h1.5v1.5h-1.5zM628.8,601.5h1.5v1.5h-1.5zM625.3,595.0h1.5v1.5h-1.5zM618.1,595.6h1.5v1.5h-1.5zM621.9,599.5h1.5v1.5h-1.5zM625.6,577.2h1.5v1.5h-1.5zM621.6,628.3h1.5v1.5h-1.5zM621.8,613.0h1.5v1.5h-1.5zM616.3,594.2h1.5v1.5h-1.5zM626.9,624.3h1.5v1.5h-1.5zM618.4,614.4h1.5v1.5h-1.5zM627.6,609.3h1.5v1.5h-1.5zM623.4,602.0h1.5v1.5h-1.5zM620.0,575.8h1.5v1.5h-1.5zM621.4,610.3h1.5v1.5h-1.5zM623.3,586.1h1.5v1.5h-1.5zM623.4,608.7h1.5v1.5h-1.5zM624.8,596.5h1.5v1.5h-1.5zM628.3,635.0h1.5v1.5h-1.5zM629.5,606.0h1.5v1.5h-1.5zM622.9,604.2h1.5v1.5h-1.5zM625.4,587.0h1.5v1.5h-1.5zM623.3,630.9h1.5v1.5h-1.5zM619.5,596.8h1.5v1.5h-1.5zM625.4,602.0h1.5v1.5h-1.5zM622.0,590.5h1.5v1.5h-1.5zM621.8,600.2h1.5v1.5h-1.5zM620.4,611.4h1.5v1.5h-1.5zM627.8,572.0h1.5v1.5h-1.5zM626.3,603.4h1.5v1.5h-1.5zM629.7,607.0h1.5v1.5h-1.5zM624.1,595.5h1.5v1.5h-1.5zM617.9,591.5h1.5v1.5h-1.5zM628.0,598.2h1.5v1.5h-1.5zM629.1,592.3h1.5v1.5h-1.5zM621.4,606.1h1.5v1.5h-1.5zM626.2,612.4h1.5v1.5h-1.5zM627.4,627.4h1.5v1.5h-1.5zM624.5,601.8h1.5v1.5h-1.5zM625.8,598.8h1.5v1.5h-1.5zM621.3,594.4h1.5v1.5h-1.5zM617.3,586.7h1.5v1.5h-1.5zM623.9,605.9h1.5v1.5h-1.5zM627.3,586.8h1.5v1.5h-1.5zM627.0,634.4h1.5v1.5h-1.5zM629.0,575.2h1.5v1.5h-1.5zM624.9,608.1h1.5v1.5h-1.5zM628.0,621.1h1.5v1.5h-1.5zM627.0,613.3h1.5v1.5h-1.5zM624.6,585.1h1.5v1.5h-1.5zM617.3,601.6h1.5v1.5h-1.5zM621.9,594.4h1.5v1.5h-1.5zM626.9,622.3h1.5v1.5h-1.5zM621.4,612.5h1.5v1.5h-1.5zM627.7,589.5h1.5v1.5h-1.5zM617.2,605.4h1.5v1.5h-1.5zM632.1,599.8h1.5v1.5h-1.5zM629.1,622.5h1.5v1.5h-1.5zM628.0,611.1h1.5v1.5h-1.5zM625.5,626.6h1.5v1.5h-1.5zM630.9,595.7h1.5v1.5h-1.5zM620.8,583.0h1.5v1.5h-1.5zM622.9,581.9h1.5v1.5h-1.5zM615.9,603.3h1.5v1.5h-1.5zM626.8,607.5h1.5v1.5h-1.5zM630.9,594.4h1.5v1.5h-1.5zM622.8,583.0h1.5v1.5h-1.5zM618.3,611.3h1.5v1.5h-1.5zM627.8,607.4h1.5v1.5h-1.5zM622.6,617.8h1.5v1.5h-1.5zM621.2,592.5h1.5v1.5h-1.5zM620.5,607.0h1.5v1.5h-1.5zM620.4,623.1h1.5v1.5h-1.5zM625.9,622.3h1.5v1.5h-1.5zM616.9,599.2h1.5v1.5h-1.5zM625.3,610.9h1.5v1.5h-1.5zM627.6,585.5h1.5v1.5h-1.5zM623.4,627.1h1.5v1.5h-1.5zM629.9,616.6h1.5v1.5h-1.5zM621.1,592.1h1.5v1.5h-1.5zM632.1,604.2h1.5v1.5h-1.5zM620.3,580.4h1.5v1.5h-1.5zM625.3,593.1h1.5v1.5h-1.5zM626.1,598.9h1.5v1.5h-1.5zM625.9,596.4h1.5v1.5h-1.5zM626.6,591.5h1.5v1.5h-1.5zM617.3,609.1h1.5v1.5h-1.5zM624.1,622.7h1.5v1.5h-1.5zM621.9,581.4h1.5v1.5h-1.5zM627.5,632.5h1.5v1.5h-1.5zM620.9,621.1h1.5v1.5h-1.5zM626.4,627.2h1.5v1.5h-1.5zM617.9,591.2h1.5v1.5h-1.5zM619.8,614.6h1.5v1.5h-1.5zM618.4,596.7h1.5v1.5h-1.5zM626.2,594.8h1.5v1.5h-1.5zM627.3,580.5h1.5v1.5h-1.5zM628.8,584.9h1.5v1.5h-1.5zM631.2,592.5h1.5v1.5h-1.5zM629.8,622.5h1.5v1.5h-1.5zM620.2,627.5h1.5v1.5h-1.5zM620.2,627.6h1.5v1.5h-1.5zM622.3,591.0h1.5v1.5h-1.5zM623.6,596.3h1.5v1.5h-1.5zM617.8,610.7h1.5v1.5h-1.5zM623.1,622.5h1.5v1.5h-1.5zM618.7,614.2h1.5v1.5h-1.5zM625.9,604.2h1.5v1.5h-1.5zM624.2,616.2h1.5v1.5h-1.5zM630.8,584.3h1.5v1.5h-1.5zM628.6,594.9h1.5v1.5h-1.5zM628.0,602.3h1.5v1.5h-1.5zM623.9,602.4h1.5v1.5h-1.5zM621.9,593.2h1.5v1.5h-1.5zM622.3,603.0h1.5v1.5h-1.5zM622.5,633.5h1.5v1.5h-1.5zM627.7,623.3h1.5v1.5h-1.5zM625.6,600.1h1.5v1.5h-1.5zM630.1,604.1h1.5v1.5h-1.5zM624.6,587.4h1.5v1.5h-1.5zM620.5,585.5h1.5v1.5h-1.5zM627.1,595.5h1.5v1.5h-1.5zM618.0,589.7h1.5v1.5h-1.5zM623.9,595.0h1.5v1.5h-1.5zM622.8,581.8h1.5v1.5h-1.5zM631.7,602.1h1.5v1.5h-1.5zM629.0,588.6h1.5v1.5h-1.5zM616.3,592.7h1.5v1.5h-1.5zM616.1,598.9h1.5v1.5h-1.5zM620.7,614.3h1.5v1.5h-1.5zM624.5,614.4h1.5v1.5h-1.5zM616.8,596.5h1.5v1.5h-1.5zM623.4,592.4h1.5v1.5h-1.5zM621.2,560.8h1.5v1.5h-1.5zM627.4,607.0h1.5v1.5h-1.5zM624.4,563.9h1.5v1.5h-1.5zM628.4,586.3h1.5v1.5h-1.5zM623.2,595.4h1.5v1.5h-1.5zM625.8,627.0h1.5v1.5h-1.5zM626.1,618.1h1.5v1.5h-1.5zM628.8,597.1h1.5v1.5h-1.5zM622.8,599.6h1.5v1.5h-1.5zM629.6,580.7h1.5v1.5h-1.5zM622.7,620.1h1.5v1.5h-1.5zM628.6,575.3h1.5v1.5h-1.5zM618.3,600.4h1.5v1.5h-1.5zM632.3,597.3h1.5v1.5h-1.5zM631.3,615.6h1.5v1.5h-1.5zM620.4,597.1h1.5v1.5h-1.5zM623.9,585.1h1.5v1.5h-1.5zM618.0,605.3h1.5v1.5h-1.5zM620.3,578.8h1.5v1.5h-1.5zM622.3,605.9h1.5v1.5h-1.5zM631.0,598.8h1.5v1.5h-1.5zM616.5,592.9h1.5v1.5h-1.5zM629.7,606.8h1.5v1.5h-1.5zM619.6,580.8h1.5v1.5h-1.5zM619.9,605.2h1.5v1.5h-1.5zM619.9,569.6h1.5v1.5h-1.5zM620.0,617.2h1.5v1.5h-1.5zM628.3,610.9h1.5v1.5h-1.5zM622.2,595.2h1.5v1.5h-1.5zM624.6,599.0h1.5v1.5h-1.5zM631.9,608.7h1.5v1.5h-1.5zM617.7,602.2h1.5v1.5h-1.5zM626.7,606.5h1.5v1.5h-1.5zM623.9,610.4h1.5v1.5h-1.5zM625.6,590.2h1.5v1.5h-1.5zM625.4,589.5h1.5v1.5h-1.5zM620.3,602.7h1.5v1.5h-1.5zM620.0,623.5h1.5v1.5h-1.5zM624.0,607.1h1.5v1.5h-1.5zM628.9,600.8h1.5v1.5h-1.5zM622.9,602.1h1.5v1.5h-1.5zM628.0,620.7h1.5v1.5h-1.5zM616.8,600.8h1.5v1.5h-1.5zM622.4,604.5h1.5v1.5h-1.5zM621.7,600.3h1.5v1.5h-1.5zM623.5,587.9h1.5v1.5h-1.5zM626.9,598.6h1.5v1.5h-1.5zM624.8,587.6h1.5v1.5h-1.5zM627.8,606.8h1.5v1.5h-1.5zM628.5,566.7h1.5v1.5h-1.5zM621.4,614.3h1.5v1.5h-1.5zM618.6,583.0h1.5v1.5h-1.5zM623.8,570.4h1.5v1.5h-1.5zM622.4,601.9h1.5v1.5h-1.5zM629.9,618.5h1.5v1.5h-1.5zM629.8,606.0h1.5v1.5h-1.5zM619.5,582.3h1.5v1.5h-1.5zM625.3,610.6h1.5v1.5h-1.5zM620.0,586.3h1.5v1.5h-1.5zM617.4,605.3h1.5v1.5h-1.5zM621.6,598.8h1.5v1.5h-1.5zM621.6,576.2h1.5v1.5h-1.5zM622.2,569.7h1.5v1.5h-1.5zM620.3,595.2h1.5v1.5h-1.5zM628.1,624.2h1.5v1.5h-1.5zM626.3,610.7h1.5v1.5h-1.5zM620.3,610.8h1.5v1.5h-1.5zM623.3,602.9h1.5v1.5h-1.5zM628.1,570.0h1.5v1.5h-1.5zM616.8,596.7h1.5v1.5h-1.5zM628.2,593.0h1.5v1.5h-1.5zM616.6,602.2h1.5v1.5h-1.5zM629.8,601.1h1.5v1.5h-1.5zM619.9,630.4h1.5v1.5h-1.5zM625.8,599.2h1.5v1.5h-1.5zM625.8,582.7h1.5v1.5h-1.5zM625.9,584.3h1.5v1.5h-1.5zM617.9,593.8h1.5v1.5h-1.5zM620.7,564.6h1.5v1.5h-1.5zM617.0,602.9h1.5v1.5h-1.5zM623.6,606.3h1.5v1.5h-1.5zM627.2,618.9h1.5v1.5h-1.5zM619.6,625.6h1.5v1.5h-1.5zM619.2,618.1h1.5v1.5h-1.5zM627.3,622.7h1.5v1.5h-1.5zM615.8,601.0h1.5v1.5h-1.5zM628.2,587.8h1.5v1.5h-1.5zM624.0,632.2h1.5v1.5h-1.5zM618.5,603.5h1.5v1.5h-1.5zM631.9,597.9h1.5v1.5h-1.5zM619.8,588.9h1.5v1.5h-1.5zM617.9,588.5h1.5v1.5h-1.5zM623.1,593.0h1.5v1.5h-1.5zM619.7,615.9h1.5v1.5h-1.5zM619.1,615.2h1.5v1.5h-1.5zM623.7,623.0h1.5v1.5h-1.5zM625.5,599.0h1.5v1.5h-1.5zM620.5,593.2h1.5v1.5h-1.5zM624.2,604.7h1.5v1.5h-1.5zM624.8,631.4h1.5v1.5h-1.5zM626.9,607.5h1.5v1.5h-1.5zM628.2,623.1h1.5v1.5h-1.5zM621.2,587.7h1.5v1.5h-1.5zM622.0,591.3h1.5v1.5h-1.5zM630.7,593.1h1.5v1.5h-1.5zM626.7,602.2h1.5v1.5h-1.5zM630.0,579.4h1.5v1.5h-1.5zM622.2,581.3h1.5v1.5h-1.5zM618.9,583.3h1.5v1.5h-1.5zM625.4,619.7h1.5v1.5h-1.5zM618.8,621.5h1.5v1.5h-1.5zM626.3,585.9h1.5v1.5h-1.5zM628.1,602.9h1.5v1.5h-1.5zM621.4,601.3h1.5v1.5h-1.5zM618.5,585.1h1.5v1.5h-1.5zM623.2,578.6h1.5v1.5h-1.5zM630.2,591.0h1.5v1.5h-1.5zM619.4,588.7h1.5v1.5h-1.5zM631.7,595.5h1.5v1.5h-1.5zM624.4,592.3h1.5v1.5h-1.5zM620.6,631.0h1.5v1.5h-1.5zM616.8,609.5h1.5v1.5h-1.5zM625.4,594.9h1.5v1.5h-1.5zM624.5,602.1h1.5v1.5h-1.5zM631.4,593.4h1.5v1.5h-1.5zM618.7,584.6h1.5v1.5h-1.5zM628.8,605.9h1.5v1.5h-1.5zM618.2,586.4h1.5v1.5h-1.5zM631.7,588.1h1.5v1.5h-1.5zM621.1,615.7h1.5v1.5h-1.5zM625.2,604.5h1.5v1.5h-1.5zM620.2,584.8h1.5v1.5h-1.5zM624.5,603.0h1.5v1.5h-1.5zM626.3,587.6h1.5v1.5h-1.5zM631.1,607.5h1.5v1.5h-1.5zM624.7,612.7h1.5v1.5h-1.5zM620.2,576.2h1.5v1.5h-1.5zM624.0,567.1h1.5v1.5h-1.5zM623.4,588.7h1.5v1.5h-1.5zM624.3,583.4h1.5v1.5h-1.5zM620.9,609.9h1.5v1.5h-1.5zM623.8,600.7h1.5v1.5h-1.5zM628.3,611.7h1.5v1.5h-1.5zM619.4,606.6h1.5v1.5h-1.5zM627.6,605.2h1.5v1.5h-1.5zM632.8,601.2h1.5v1.5h-1.5zM618.3,607.2h1.5v1.5h-1.5zM623.4,597.1h1.5v1.5h-1.5zM626.3,594.7h1.5v1.5h-1.5zM627.6,594.8h1.5v1.5h-1.5zM617.8,607.2h1.5v1.5h-1.5zM622.0,610.2h1.5v1.5h-1.5zM616.9,605.8h1.5v1.5h-1.5zM628.8,601.7h1.5v1.5h-1.5zM621.6,607.8h1.5v1.5h-1.5zM624.1,618.1h1.5v1.5h-1.5zM630.0,611.9h1.5v1.5h-1.5zM621.7,589.7h1.5v1.5h-1.5zM630.5,606.2h1.5v1.5h-1.5zM623.0,589.9h1.5v1.5h-1.5zM631.6,588.8h1.5v1.5h-1.5zM628.0,585.3h1.5v1.5h-1.5zM627.5,584.6h1.5v1.5h-1.5zM622.8,564.6h1.5v1.5h-1.5zM630.3,600.1h1.5v1.5h-1.5zM629.7,608.5h1.5v1.5h-1.5zM626.9,613.5h1.5v1.5h-1.5zM624.4,613.2h1.5v1.5h-1.5zM627.0,579.9h1.5v1.5h-1.5zM620.0,620.3h1.5v1.5h-1.5zM624.2,617.8h1.5v1.5h-1.5zM627.2,574.0h1.5v1.5h-1.5zM630.0,600.1h1.5v1.5h-1.5zM624.0,582.5h1.5v1.5h-1.5zM618.0,595.4h1.5v1.5h-1.5zM629.7,588.5h1.5v1.5h-1.5zM622.5,590.0h1.5v1.5h-1.5zM626.2,619.3h1.5v1.5h-1.5zM616.0,598.7h1.5v1.5h-1.5zM626.7,588.5h1.5v1.5h-1.5zM624.3,621.7h1.5v1.5h-1.5zM623.3,612.3h1.5v1.5h-1.5zM622.3,608.7h1.5v1.5h-1.5zM625.4,577.5h1.5v1.5h-1.5zM627.5,599.5h1.5v1.5h-1.5zM618.2,616.4h1.5v1.5h-1.5zM618.3,602.2h1.5v1.5h-1.5zM619.9,571.8h1.5v1.5h-1.5zM620.0,575.0h1.5v1.5h-1.5zM623.6,598.0h1.5v1.5h-1.5zM624.0,625.1h1.5v1.5h-1.5zM624.6,590.2h1.5v1.5h-1.5zM627.2,574.1h1.5v1.5h-1.5zM626.4,596.2h1.5v1.5h-1.5zM627.7,589.9h1.5v1.5h-1.5zM629.0,618.0h1.5v1.5h-1.5zM630.8,602.5h1.5v1.5h-1.5zM632.6,602.3h1.5v1.5h-1.5zM621.6,598.6h1.5v1.5h-1.5zM617.7,595.1h1.5v1.5h-1.5zM619.6,604.7h1.5v1.5h-1.5zM616.0,595.6h1.5v1.5h-1.5zM627.8,611.6h1.5v1.5h-1.5zM622.5,594.9h1.5v1.5h-1.5zM629.5,581.7h1.5v1.5h-1.5zM626.0,568.5h1.5v1.5h-1.5zM623.5,597.2h1.5v1.5h-1.5zM623.0,585.5h1.5v1.5h-1.5zM628.0,584.1h1.5v1.5h-1.5zM627.6,597.6h1.5v1.5h-1.5zM628.1,585.9h1.5v1.5h-1.5zM629.3,617.7h1.5v1.5h-1.5zM623.3,577.4h1.5v1.5h-1.5zM626.7,613.4h1.5v1.5h-1.5zM627.2,617.1h1.5v1.5h-1.5zM623.7,626.1h1.5v1.5h-1.5zM620.1,595.5h1.5v1.5h-1.5zM627.0,588.0h1.5v1.5h-1.5zM624.9,599.1h1.5v1.5h-1.5zM629.7,609.9h1.5v1.5h-1.5zM626.1,604.7h1.5v1.5h-1.5zM622.0,595.3h1.5v1.5h-1.5zM616.3,592.7h1.5v1.5h-1.5zM618.8,590.7h1.5v1.5h-1.5zM616.2,606.6h1.5v1.5h-1.5zM625.1,597.1h1.5v1.5h-1.5zM622.5,573.1h1.5v1.5h-1.5zM631.2,607.7h1.5v1.5h-1.5zM616.3,592.8h1.5v1.5h-1.5zM616.9,596.2h1.5v1.5h-1.5zM624.0,620.4h1.5v1.5h-1.5zM628.6,615.2h1.5v1.5h-1.5zM625.3,632.1h1.5v1.5h-1.5zM624.9,590.2h1.5v1.5h-1.5zM623.3,592.8h1.5v1.5h-1.5zM629.0,586.5h1.5v1.5h-1.5zM629.7,598.7h1.5v1.5h-1.5zM617.8,588.0h1.5v1.5h-1.5zM626.9,610.5h1.5v1.5h-1.5zM625.9,602.7h1.5v1.5h-1.5zM623.1,580.3h1.5v1.5h-1.5zM621.6,586.8h1.5v1.5h-1.5zM621.6,584.3h1.5v1.5h-1.5zM626.5,620.6h1.5v1.5h-1.5zM618.1,587.4h1.5v1.5h-1.5zM626.4,587.7h1.5v1.5h-1.5zM618.2,582.0h1.5v1.5h-1.5zM624.5,611.0h1.5v1.5h-1.5zM619.4,616.1h1.5v1.5h-1.5zM620.6,597.2h1.5v1.5h-1.5zM627.2,605.7h1.5v1.5h-1.5zM620.0,598.5h1.5v1.5h-1.5zM621.0,601.9h1.5v1.5h-1.5zM631.4,594.0h1.5v1.5h-1.5zM621.7,602.0h1.5v1.5h-1.5zM631.6,593.8h1.5v1.5h-1.5zM619.8,588.7h1.5v1.5h-1.5zM627.3,593.1h1.5v1.5h-1.5zM630.3,606.9h1.5v1.5h-1.5zM621.4,598.7h1.5v1.5h-1.5zM630.4,606.7h1.5v1.5h-1.5zM618.0,615.3h1.5v1.5h-1.5zM620.3,598.6h1.5v1.5h-1.5zM629.2,588.2h1.5v1.5h-1.5zM624.4,614.0h1.5v1.5h-1.5zM630.2,600.5h1.5v1.5h-1.5zM626.6,615.1h1.5v1.5h-1.5zM626.2,607.2h1.5v1.5h-1.5zM618.8,613.3h1.5v1.5h-1.5zM623.3,591.5h1.5v1.5h-1.5zM622.2,591.1h1.5v1.5h-1.5zM626.0,609.1h1.5v1.5h-1.5zM623.4,608.1h1.5v1.5h-1.5zM628.2,605.3h1.5v1.5h-1.5zM628.5,593.4h1.5v1.5h-1.5zM631.2,598.5h1.5v1.5h-1.5zM626.4,594.7h1.5v1.5h-1.5zM620.7,597.8h1.5v1.5h-1.5zM623.6,602.5h1.5v1.5h-1.5zM618.6,603.6h1.5v1.5h-1.5zM624.5,611.6h1.5v1.5h-1.5zM628.8,580.4h1.5v1.5h-1.5zM629.6,589.0h1.5v1.5h-1.5zM619.9,617.6h1.5v1.5h-1.5zM626.2,613.2h1.5v1.5h-1.5zM617.7,598.2h1.5v1.5h-1.5zM628.7,589.5h1.5v1.5h-1.5zM631.3,609.8h1.5v1.5h-1.5zM629.5,586.5h1.5v1.5h-1.5zM632.6,605.7h1.5v1.5h-1.5zM627.4,583.4h1.5v1.5h-1.5zM623.7,582.3h1.5v1.5h-1.5zM622.8,601.9h1.5v1.5h-1.5zM631.2,591.3h1.5v1.5h-1.5zM626.2,609.6h1.5v1.5h-1.5zM623.3,593.7h1.5v1.5h-1.5zM621.1,612.7h1.5v1.5h-1.5zM617.1,611.0h1.5v1.5h-1.5zM620.2,591.2h1.5v1.5h-1.5zM624.3,620.1h1.5v1.5h-1.5zM630.0,615.7h1.5v1.5h-1.5zM628.8,608.9h1.5v1.5h-1.5zM626.2,605.0h1.5v1.5h-1.5zM619.2,587.6h1.5v1.5h-1.5zM624.3,596.1h1.5v1.5h-1.5zM620.5,602.1h1.5v1.5h-1.5zM619.7,604.8h1.5v1.5h-1.5zM632.6,601.0h1.5v1.5h-1.5zM623.6,597.8h1.5v1.5h-1.5zM617.0,610.5h1.5v1.5h-1.5zM632.2,593.3h1.5v1.5h-1.5zM621.2,593.6h1.5v1.5h-1.5zM617.7,600.2h1.5v1.5h-1.5zM632.5,594.8h1.5v1.5h-1.5zM630.0,602.4h1.5v1.5h-1.5zM626.8,633.7h1.5v1.5h-1.5zM620.4,600.6h1.5v1.5h-1.5zM617.4,591.2h1.5v1.5h-1.5zM624.2,589.6h1.5v1.5h-1.5zM618.3,579.1h1.5v1.5h-1.5zM629.8,610.1h1.5v1.5h-1.5zM626.7,573.0h1.5v1.5h-1.5zM625.3,604.1h1.5v1.5h-1.5zM623.3,632.9h1.5v1.5h-1.5zM617.1,611.2h1.5v1.5h-1.5zM620.3,605.7h1.5v1.5h-1.5zM617.5,607.6h1.5v1.5h-1.5zM620.0,598.3h1.5v1.5h-1.5zM624.2,625.5h1.5v1.5h-1.5zM627.8,572.8h1.5v1.5h-1.5zM621.3,601.0h1.5v1.5h-1.5zM622.9,620.2h1.5v1.5h-1.5zM630.0,608.9h1.5v1.5h-1.5zM628.1,581.0h1.5v1.5h-1.5zM616.0,602.7h1.5v1.5h-1.5zM625.7,592.2h1.5v1.5h-1.5zM620.9,600.1h1.5v1.5h-1.5zM619.7,598.7h1.5v1.5h-1.5zM625.7,594.2h1.5v1.5h-1.5zM621.6,579.2h1.5v1.5h-1.5zM631.5,601.5h1.5v1.5h-1.5zM618.3,610.3h1.5v1.5h-1.5zM627.3,619.8h1.5v1.5h-1.5zM624.1,613.0h1.5v1.5h-1.5zM627.1,585.8h1.5v1.5h-1.5zM618.3,615.4h1.5v1.5h-1.5zM625.0,593.8h1.5v1.5h-1.5zM618.6,584.9h1.5v1.5h-1.5zM623.9,601.0h1.5v1.5h-1.5zM624.6,614.0h1.5v1.5h-1.5zM625.3,593.6h1.5v1.5h-1.5zM625.9,611.0h1.5v1.5h-1.5zM620.7,607.5h1.5v1.5h-1.5zM623.8,611.0h1.5v1.5h-1.5zM619.3,617.5h1.5v1.5h-1.5zM623.5,613.0h1.5v1.5h-1.5zM618.0,609.4h1.5v1.5h-1.5zM631.5,603.9h1.5v1.5h-1.5zM621.5,583.0h1.5v1.5h-1.5zM616.4,598.0h1.5v1.5h-1.5zM622.6,601.4h1.5v1.5h-1.5zM630.9,591.5h1.5v1.5h-1.5zM627.3,588.1h1.5v1.5h-1.5zM626.4,593.7h1.5v1.5h-1.5zM620.9,589.7h1.5v1.5h-1.5zM631.0,598.9h1.5v1.5h-1.5zM624.0,611.0h1.5v1.5h-1.5zM624.1,596.2h1.5v1.5h-1.5zM627.6,587.3h1.5v1.5h-1.5zM624.0,582.5h1.5v1.5h-1.5zM629.4,625.1h1.5v1.5h-1.5zM626.2,606.2h1.5v1.5h-1.5zM626.5,583.3h1.5v1.5h-1.5zM621.5,595.4h1.5v1.5h-1.5zM626.2,606.0h1.5v1.5h-1.5zM626.0,613.4h1.5v1.5h-1.5zM627.2,616.6h1.5v1.5h-1.5zM626.3,630.0h1.5v1.5h-1.5zM626.2,603.4h1.5v1.5h-1.5zM626.2,610.6h1.5v1.5h-1.5zM621.1,577.2h1.5v1.5h-1.5zM624.2,591.0h1.5v1.5h-1.5zM627.4,623.9h1.5v1.5h-1.5zM623.8,603.8h1.5v1.5h-1.5zM625.3,585.3h1.5v1.5h-1.5zM632.4,606.3h1.5v1.5h-1.5zM631.4,610.8h1.5v1.5h-1.5zM619.2,579.2h1.5v1.5h-1.5zM625.0,596.6h1.5v1.5h-1.5zM627.8,621.6h1.5v1.5h-1.5zM624.1,595.0h1.5v1.5h-1.5zM626.2,606.8h1.5v1.5h-1.5zM628.9,612.2h1.5v1.5h-1.5zM627.0,635.9h1.5v1.5h-1.5zM630.3,585.9h1.5v1.5h-1.5zM631.7,594.1h1.5v1.5h-1.5zM628.9,599.8h1.5v1.5h-1.5zM624.8,613.7h1.5v1.5h-1.5zM630.0,610.8h1.5v1.5h-1.5zM627.1,618.7h1.5v1.5h-1.5zM624.2,583.2h1.5v1.5h-1.5zM627.0,603.5h1.5v1.5h-1.5zM632.0,604.7h1.5v1.5h-1.5zM621.2,602.1h1.5v1.5h-1.5zM619.1,604.7h1.5v1.5h-1.5zM631.6,600.3h1.5v1.5h-1.5zM629.6,602.4h1.5v1.5h-1.5zM620.4,587.9h1.5v1.5h-1.5zM630.6,609.9h1.5v1.5h-1.5zM624.0,617.1h1.5v1.5h-1.5zM622.0,605.8h1.5v1.5h-1.5zM616.5,590.2h1.5v1.5h-1.5zM621.2,594.1h1.5v1.5h-1.5zM628.7,594.5h1.5v1.5h-1.5zM620.6,587.3h1.5v1.5h-1.5zM620.9,605.3h1.5v1.5h-1.5zM618.5,612.0h1.5v1.5h-1.5zM624.7,612.6h1.5v1.5h-1.5zM629.1,601.3h1.5v1.5h-1.5zM617.9,592.1h1.5v1.5h-1.5zM624.8,623.8h1.5v1.5h-1.5zM630.2,590.9h1.5v1.5h-1.5zM617.7,615.1h1.5v1.5h-1.5zM627.8,567.5h1.5v1.5h-1.5zM620.2,601.3h1.5v1.5h-1.5zM632.6,599.8h1.5v1.5h-1.5zM629.5,605.4h1.5v1.5h-1.5zM618.7,624.1h1.5v1.5h-1.5zM631.1,606.1h1.5v1.5h-1.5zM630.1,584.7h1.5v1.5h-1.5zM624.9,574.3h1.5v1.5h-1.5zM622.7,564.8h1.5v1.5h-1.5zM624.6,586.7h1.5v1.5h-1.5zM623.5,592.5h1.5v1.5h-1.5zM623.9,613.7h1.5v1.5h-1.5zM622.6,566.7h1.5v1.5h-1.5zM623.0,598.4h1.5v1.5h-1.5zM618.2,611.3h1.5v1.5h-1.5zM626.3,596.5h1.5v1.5h-1.5zM625.4,549.7h1.5v1.5h-1.5zM622.2,608.8h1.5v1.5h-1.5zM619.4,616.2h1.5v1.5h-1.5zM622.8,592.9h1.5v1.5h-1.5zM616.0,598.9h1.5v1.5h-1.5zM619.9,606.5h1.5v1.5h-1.5zM621.5,612.3h1.5v1.5h-1.5zM629.8,610.5h1.5v1.5h-1.5zM624.0,599.8h1.5v1.5h-1.5zM630.8,594.6h1.5v1.5h-1.5zM625.6,597.7h1.5v1.5h-1.5zM616.8,606.3h1.5v1.5h-1.5zM628.9,577.6h1.5v1.5h-1.5zM618.6,580.0h1.5v1.5h-1.5zM623.1,608.8h1.5v1.5h-1.5zM619.8,589.9h1.5v1.5h-1.5zM620.7,617.4h1.5v1.5h-1.5zM619.9,583.6h1.5v1.5h-1.5zM623.4,593.3h1.5v1.5h-1.5zM624.2,574.9h1.5v1.5h-1.5zM627.9,619.8h1.5v1.5h-1.5zM628.4,576.2h1.5v1.5h-1.5zM624.1,573.3h1.5v1.5h-1.5zM631.9,590.9h1.5v1.5h-1.5zM621.4,608.5h1.5v1.5h-1.5zM629.1,575.1h1.5v1.5h-1.5zM627.7,613.3h1.5v1.5h-1.5zM626.7,589.5h1.5v1.5h-1.5zM631.1,594.9h1.5v1.5h-1.5zM621.7,602.1h1.5v1.5h-1.5zM621.7,604.1h1.5v1.5h-1.5zM624.6,595.2h1.5v1.5h-1.5zM622.3,590.9h1.5v1.5h-1.5zM631.9,601.9h1.5v1.5h-1.5zM625.7,585.0h1.5v1.5h-1.5zM616.3,599.9h1.5v1.5h-1.5zM627.5,634.9h1.5v1.5h-1.5zM628.2,592.2h1.5v1.5h-1.5zM628.5,594.8h1.5v1.5h-1.5zM627.6,613.0h1.5v1.5h-1.5zM623.2,611.5h1.5v1.5h-1.5zM617.8,596.7h1.5v1.5h-1.5zM617.0,590.5h1.5v1.5h-1.5zM623.0,565.5h1.5v1.5h-1.5zM622.9,611.1h1.5v1.5h-1.5zM624.2,605.0h1.5v1.5h-1.5zM620.7,574.8h1.5v1.5h-1.5zM619.4,574.8h1.5v1.5h-1.5zM623.8,623.1h1.5v1.5h-1.5zM621.9,596.4h1.5v1.5h-1.5zM621.8,579.4h1.5v1.5h-1.5zM624.4,606.9h1.5v1.5h-1.5zM624.1,581.0h1.5v1.5h-1.5zM631.6,607.4h1.5v1.5h-1.5zM623.4,615.6h1.5v1.5h-1.5zM626.2,591.4h1.5v1.5h-1.5zM625.1,633.5h1.5v1.5h-1.5zM619.2,594.5h1.5v1.5h-1.5zM623.3,623.1h1.5v1.5h-1.5zM627.5,598.6h1.5v1.5h-1.5zM621.4,597.7h1.5v1.5h-1.5zM616.2,600.4h1.5v1.5h-1.5zM627.2,596.9h1.5v1.5h-1.5zM627.1,610.3h1.5v1.5h-1.5zM630.4,587.9h1.5v1.5h-1.5zM632.5,603.5h1.5v1.5h-1.5zM619.3,610.3h1.5v1.5h-1.5zM621.5,619.0h1.5v1.5h-1.5zM630.4,610.7h1.5v1.5h-1.5zM619.5,618.3h1.5v1.5h-1.5zM629.1,615.2h1.5v1.5h-1.5zM628.3,605.1h1.5v1.5h-1.5zM622.0,580.2h1.5v1.5h-1.5zM632.4,601.6h1.5v1.5h-1.5zM626.6,587.0h1.5v1.5h-1.5zM626.3,619.1h1.5v1.5h-1.5zM620.3,596.9h1.5v1.5h-1.5zM625.7,593.9h1.5v1.5h-1.5zM626.0,597.0h1.5v1.5h-1.5zM628.7,579.8h1.5v1.5h-1.5zM632.5,603.2h1.5v1.5h-1.5zM623.9,615.9h1.5v1.5h-1.5zM622.1,600.0h1.5v1.5h-1.5zM617.9,599.1h1.5v1.5h-1.5zM630.2,619.7h1.5v1.5h-1.5zM624.8,624.7h1.5v1.5h-1.5zM625.8,604.4h1.5v1.5h-1.5zM618.2,606.8h1.5v1.5h-1.5zM628.2,603.7h1.5v1.5h-1.5zM629.6,604.9h1.5v1.5h-1.5zM628.4,594.0h1.5v1.5h-1.5zM618.0,599.0h1.5v1.5h-1.5zM628.0,615.0h1.5v1.5h-1.5zM627.6,595.6h1.5v1.5h-1.5zM621.5,578.7h1.5v1.5h-1.5zM628.0,580.4h1.5v1.5h-1.5zM625.8,600.0h1.5v1.5h-1.5zM627.9,589.6h1.5v1.5h-1.5zM623.2,601.3h1.5v1.5h-1.5zM620.1,611.4h1.5v1.5h-1.5zM625.1,606.4h1.5v1.5h-1.5zM625.4,625.8h1.5v1.5h-1.5zM624.3,620.7h1.5v1.5h-1.5zM622.9,612.5h1.5v1.5h-1.5zM621.1,617.3h1.5v1.5h-1.5zM616.7,606.4h1.5v1.5h-1.5zM619.4,613.7h1.5v1.5h-1.5zM626.6,614.6h1.5v1.5h-1.5zM624.2,582.7h1.5v1.5h-1.5zM621.8,594.9h1.5v1.5h-1.5zM628.1,612.4h1.5v1.5h-1.5zM630.7,607.0h1.5v1.5h-1.5zM617.4,614.5h1.5v1.5h-1.5zM628.1,629.0h1.5v1.5h-1.5zM619.3,607.0h1.5v1.5h-1.5zM631.5,593.8h1.5v1.5h-1.5zM622.0,617.5h1.5v1.5h-1.5zM631.9,611.2h1.5v1.5h-1.5zM622.2,618.6h1.5v1.5h-1.5zM627.3,606.2h1.5v1.5h-1.5zM617.1,595.4h1.5v1.5h-1.5zM619.1,595.4h1.5v1.5h-1.5zM631.7,607.1h1.5v1.5h-1.5zM622.6,625.3h1.5v1.5h-1.5zM619.9,600.1h1.5v1.5h-1.5zM621.2,629.1h1.5v1.5h-1.5zM628.1,569.1h1.5v1.5h-1.5zM621.1,583.6h1.5v1.5h-1.5zM627.6,615.4h1.5v1.5h-1.5zM620.4,583.8h1.5v1.5h-1.5zM626.0,611.5h1.5v1.5h-1.5zM619.8,581.1h1.5v1.5h-1.5zM619.4,605.7h1.5v1.5h-1.5zM615.9,603.5h1.5v1.5h-1.5zM622.2,603.7h1.5v1.5h-1.5zM617.1,601.1h1.5v1.5h-1.5zM625.1,583.0h1.5v1.5h-1.5zM625.7,606.2h1.5v1.5h-1.5zM624.7,611.9h1.5v1.5h-1.5zM626.6,595.5h1.5v1.5h-1.5zM625.1,619.2h1.5v1.5h-1.5zM617.8,597.3h1.5v1.5h-1.5zM630.3,606.3h1.5v1.5h-1.5zM631.0,599.3h1.5v1.5h-1.5zM626.1,601.9h1.5v1.5h-1.5zM622.5,586.0h1.5v1.5h-1.5zM619.2,618.5h1.5v1.5h-1.5zM623.8,598.1h1.5v1.5h-1.5zM621.6,623.6h1.5v1.5h-1.5zM623.9,623.2h1.5v1.5h-1.5zM621.2,574.0h1.5v1.5h-1.5zM619.2,603.8h1.5v1.5h-1.5zM623.9,602.2h1.5v1.5h-1.5zM627.0,614.9h1.5v1.5h-1.5zM619.3,603.2h1.5v1.5h-1.5zM620.7,580.5h1.5v1.5h-1.5zM629.9,615.4h1.5v1.5h-1.5zM618.3,604.7h1.5v1.5h-1.5zM621.8,590.3h1.5v1.5h-1.5zM617.8,606.1h1.5v1.5h-1.5zM622.4,617.2h1.5v1.5h-1.5zM628.0,562.0h1.5v1.5h-1.5zM623.1,603.5h1.5v1.5h-1.5zM619.0,609.2h1.5v1.5h-1.5zM618.6,600.3h1.5v1.5h-1.5zM627.0,586.9h1.5v1.5h-1.5zM620.6,612.5h1.5v1.5h-1.5zM618.2,602.1h1.5v1.5h-1.5zM617.8,588.3h1.5v1.5h-1.5zM624.7,589.8h1.5v1.5h-1.5zM620.3,601.2h1.5v1.5h-1.5zM628.2,574.7h1.5v1.5h-1.5zM621.8,568.0h1.5v1.5h-1.5zM630.9,611.8h1.5v1.5h-1.5zM624.0,630.7h1.5v1.5h-1.5zM625.0,594.9h1.5v1.5h-1.5zM622.1,601.7h1.5v1.5h-1.5zM628.5,575.3h1.5v1.5h-1.5zM616.4,604.5h1.5v1.5h-1.5zM621.0,615.5h1.5v1.5h-1.5zM625.5,612.7h1.5v1.5h-1.5zM616.2,593.2h1.5v1.5h-1.5zM628.6,631.1h1.5v1.5h-1.5zM627.4,593.9h1.5v1.5h-1.5zM632.4,608.2h1.5v1.5h-1.5zM628.1,618.9h1.5v1.5h-1.5zM630.3,617.2h1.5v1.5h-1.5zM625.2,596.0h1.5v1.5h-1.5zM626.9,610.7h1.5v1.5h-1.5zM624.1,607.7h1.5v1.5h-1.5zM627.1,544.0h1.5v1.5h-1.5zM618.6,621.2h1.5v1.5h-1.5zM629.3,588.1h1.5v1.5h-1.5zM625.3,594.3h1.5v1.5h-1.5zM620.1,600.6h1.5v1.5h-1.5zM618.2,593.5h1.5v1.5h-1.5zM619.9,585.0h1.5v1.5h-1.5zM620.0,581.0h1.5v1.5h-1.5zM629.8,606.0h1.5v1.5h-1.5zM626.8,605.7h1.5v1.5h-1.5zM627.4,583.1h1.5v1.5h-1.5zM621.1,616.9h1.5v1.5h-1.5zM622.7,613.2h1.5v1.5h-1.5zM631.1,593.5h1.5v1.5h-1.5zM625.8,624.8h1.5v1.5h-1.5zM617.8,589.9h1.5v1.5h-1.5zM629.1,595.5h1.5v1.5h-1.5zM620.8,581.4h1.5v1.5h-1.5zM623.6,600.3h1.5v1.5h-1.5zM623.1,585.8h1.5v1.5h-1.5zM621.3,582.2h1.5v1.5h-1.5zM621.8,609.6h1.5v1.5h-1.5zM622.6,609.1h1.5v1.5h-1.5zM616.9,600.7h1.5v1.5h-1.5zM629.8,616.9h1.5v1.5h-1.5zM625.4,625.2h1.5v1.5h-1.5zM625.1,614.6h1.5v1.5h-1.5zM619.4,587.7h1.5v1.5h-1.5zM620.1,617.2h1.5v1.5h-1.5zM623.3,604.7h1.5v1.5h-1.5zM621.7,589.3h1.5v1.5h-1.5zM620.8,618.6h1.5v1.5h-1.5zM621.3,613.2h1.5v1.5h-1.5zM623.9,614.1h1.5v1.5h-1.5zM629.4,617.7h1.5v1.5h-1.5zM622.4,588.7h1.5v1.5h-1.5zM626.5,618.9h1.5v1.5h-1.5zM620.0,604.8h1.5v1.5h-1.5zM618.3,599.6h1.5v1.5h-1.5zM625.9,566.7h1.5v1.5h-1.5zM623.5,601.4h1.5v1.5h-1.5zM620.8,583.0h1.5v1.5h-1.5zM617.9,583.6h1.5v1.5h-1.5zM621.2,566.9h1.5v1.5h-1.5zM619.1,601.3h1.5v1.5h-1.5zM628.3,614.6h1.5v1.5h-1.5zM627.5,590.2h1.5v1.5h-1.5zM622.5,601.5h1.5v1.5h-1.5zM629.3,580.2h1.5v1.5h-1.5zM627.1,600.6h1.5v1.5h-1.5zM627.5,589.4h1.5v1.5h-1.5zM619.0,588.5h1.5v1.5h-1.5zM625.5,561.5h1.5v1.5h-1.5zM619.3,576.3h1.5v1.5h-1.5zM628.5,613.8h1.5v1.5h-1.5zM623.9,642.8h1.5v1.5h-1.5zM624.3,623.2h1.5v1.5h-1.5zM619.6,625.4h1.5v1.5h-1.5zM626.8,577.8h1.5v1.5h-1.5zM628.6,571.3h1.5v1.5h-1.5zM627.4,596.1h1.5v1.5h-1.5zM623.1,594.7h1.5v1.5h-1.5zM628.4,610.8h1.5v1.5h-1.5zM629.1,597.8h1.5v1.5h-1.5zM624.1,602.7h1.5v1.5h-1.5zM622.8,615.9h1.5v1.5h-1.5zM623.8,613.2h1.5v1.5h-1.5zM632.1,597.4h1.5v1.5h-1.5zM627.2,597.7h1.5v1.5h-1.5zM629.5,607.9h1.5v1.5h-1.5zM630.3,617.8h1.5v1.5h-1.5zM619.7,574.5h1.5v1.5h-1.5zM623.8,610.6h1.5v1.5h-1.5zM625.1,610.6h1.5v1.5h-1.5zM630.1,586.9h1.5v1.5h-1.5zM620.8,616.5h1.5v1.5h-1.5zM619.0,596.0h1.5v1.5h-1.5zM628.7,614.5h1.5v1.5h-1.5zM630.5,609.7h1.5v1.5h-1.5zM624.2,605.3h1.5v1.5h-1.5zM622.1,620.2h1.5v1.5h-1.5zM624.7,638.7h1.5v1.5h-1.5zM632.1,604.4h1.5v1.5h-1.5zM626.9,582.4h1.5v1.5h-1.5zM626.3,602.5h1.5v1.5h-1.5zM622.7,577.8h1.5v1.5h-1.5zM628.9,607.2h1.5v1.5h-1.5zM622.6,613.0h1.5v1.5h-1.5zM618.9,594.7h1.5v1.5h-1.5zM621.7,611.5h1.5v1.5h-1.5zM630.4,578.9h1.5v1.5h-1.5zM623.3,578.8h1.5v1.5h-1.5zM630.3,598.4h1.5v1.5h-1.5zM621.9,569.6h1.5v1.5h-1.5zM624.6,657.2h1.5v1.5h-1.5zM626.8,648.1h1.5v1.5h-1.5zM626.3,651.9h1.5v1.5h-1.5zM620.1,542.1h1.5v1.5h-1.5zM626.7,644.5h1.5v1.5h-1.5zM624.5,645.6h1.5v1.5h-1.5zM621.7,655.0h1.5v1.5h-1.5zM620.4,657.1h1.5v1.5h-1.5zM625.5,562.6h1.5v1.5h-1.5zM624.5,548.3h1.5v1.5h-1.5zM628.0,655.8h1.5v1.5h-1.5zM620.7,657.9h1.5v1.5h-1.5z" fill="#2e9f7c" opacity="0.6"/><path d="M667.7,595.0h1.5v1.5h-1.5zM666.9,616.0h1.5v1.5h-1.5zM659.4,581.8h1.5v1.5h-1.5zM659.1,576.8h1.5v1.5h-1.5zM660.1,599.1h1.5v1.5h-1.5zM662.3,626.0h1.5v1.5h-1.5zM662.6,599.9h1.5v1.5h-1.5zM670.9,611.0h1.5v1.5h-1.5zM667.8,574.2h1.5v1.5h-1.5zM668.8,572.7h1.5v1.5h-1.5zM662.4,598.4h1.5v1.5h-1.5zM658.3,588.8h1.5v1.5h-1.5zM668.2,581.4h1.5v1.5h-1.5zM663.4,607.5h1.5v1.5h-1.5zM660.5,635.9h1.5v1.5h-1.5zM658.8,598.4h1.5v1.5h-1.5zM667.8,586.4h1.5v1.5h-1.5zM670.5,614.3h1.5v1.5h-1.5zM667.7,595.9h1.5v1.5h-1.5zM663.9,618.9h1.5v1.5h-1.5zM670.7,596.1h1.5v1.5h-1.5zM663.9,585.7h1.5v1.5h-1.5zM669.6,577.8h1.5v1.5h-1.5zM665.6,594.4h1.5v1.5h-1.5zM665.3,615.1h1.5v1.5h-1.5zM665.5,597.9h1.5v1.5h-1.5zM667.0,630.8h1.5v1.5h-1.5zM668.3,596.3h1.5v1.5h-1.5zM658.4,602.3h1.5v1.5h-1.5zM663.4,622.1h1.5v1.5h-1.5zM671.1,599.7h1.5v1.5h-1.5zM659.3,588.7h1.5v1.5h-1.5zM662.0,587.5h1.5v1.5h-1.5zM658.4,624.6h1.5v1.5h-1.5zM666.8,589.2h1.5v1.5h-1.5zM661.6,579.4h1.5v1.5h-1.5zM666.1,605.9h1.5v1.5h-1.5zM668.2,603.9h1.5v1.5h-1.5zM664.7,594.8h1.5v1.5h-1.5zM657.0,617.4h1.5v1.5h-1.5zM656.2,600.2h1.5v1.5h-1.5zM657.4,583.6h1.5v1.5h-1.5zM664.3,576.9h1.5v1.5h-1.5zM666.6,604.7h1.5v1.5h-1.5zM662.4,584.3h1.5v1.5h-1.5zM662.0,614.2h1.5v1.5h-1.5zM668.7,605.5h1.5v1.5h-1.5zM666.6,607.2h1.5v1.5h-1.5zM660.0,609.3h1.5v1.5h-1.5zM664.9,599.2h1.5v1.5h-1.5zM657.7,617.7h1.5v1.5h-1.5zM666.0,568.1h1.5v1.5h-1.5zM661.0,619.9h1.5v1.5h-1.5zM664.3,600.0h1.5v1.5h-1.5zM661.0,606.0h1.5v1.5h-1.5zM657.0,610.8h1.5v1.5h-1.5zM662.4,596.5h1.5v1.5h-1.5zM660.6,598.0h1.5v1.5h-1.5zM657.5,589.5h1.5v1.5h-1.5zM670.0,593.1h1.5v1.5h-1.5zM662.3,605.3h1.5v1.5h-1.5zM663.6,595.0h1.5v1.5h-1.5zM656.8,581.2h1.5v1.5h-1.5zM660.2,592.3h1.5v1.5h-1.5zM658.2,605.6h1.5v1.5h-1.5zM662.5,626.5h1.5v1.5h-1.5zM657.7,586.4h1.5v1.5h-1.5zM659.3,602.9h1.5v1.5h-1.5zM666.1,589.6h1.5v1.5h-1.5zM670.4,608.9h1.5v1.5h-1.5zM663.2,605.8h1.5v1.5h-1.5zM660.6,605.5h1.5v1.5h-1.5zM669.5,619.1h1.5v1.5h-1.5zM666.7,596.0h1.5v1.5h-1.5zM663.6,625.8h1.5v1.5h-1.5zM658.3,600.1h1.5v1.5h-1.5zM658.7,604.4h1.5v1.5h-1.5zM661.8,609.0h1.5v1.5h-1.5zM661.2,602.5h1.5v1.5h-1.5zM671.3,598.3h1.5v1.5h-1.5zM662.9,612.9h1.5v1.5h-1.5zM666.9,599.6h1.5v1.5h-1.5zM664.6,613.8h1.5v1.5h-1.5zM659.7,598.9h1.5v1.5h-1.5zM666.9,605.1h1.5v1.5h-1.5zM661.3,612.9h1.5v1.5h-1.5zM663.3,605.0h1.5v1.5h-1.5zM663.4,606.2h1.5v1.5h-1.5zM662.9,591.0h1.5v1.5h-1.5zM668.0,597.9h1.5v1.5h-1.5zM668.2,587.9h1.5v1.5h-1.5zM668.4,625.3h1.5v1.5h-1.5zM657.4,595.8h1.5v1.5h-1.5zM668.2,590.7h1.5v1.5h-1.5zM657.5,593.9h1.5v1.5h-1.5zM669.7,586.6h1.5v1.5h-1.5zM665.1,595.9h1.5v1.5h-1.5zM666.7,588.1h1.5v1.5h-1.5zM663.9,579.6h1.5v1.5h-1.5zM664.4,594.0h1.5v1.5h-1.5zM666.9,625.2h1.5v1.5h-1.5zM669.6,601.3h1.5v1.5h-1.5zM663.0,600.8h1.5v1.5h-1.5zM655.5,594.9h1.5v1.5h-1.5zM667.3,609.8h1.5v1.5h-1.5zM668.5,611.6h1.5v1.5h-1.5zM660.7,601.2h1.5v1.5h-1.5zM666.2,621.4h1.5v1.5h-1.5zM669.6,605.4h1.5v1.5h-1.5zM663.1,606.7h1.5v1.5h-1.5zM668.7,608.4h1.5v1.5h-1.5zM663.1,600.6h1.5v1.5h-1.5zM663.8,600.1h1.5v1.5h-1.5zM664.4,627.2h1.5v1.5h-1.5zM668.1,609.4h1.5v1.5h-1.5zM670.6,596.2h1.5v1.5h-1.5zM663.0,594.9h1.5v1.5h-1.5zM656.4,597.8h1.5v1.5h-1.5zM659.6,611.3h1.5v1.5h-1.5zM668.1,593.6h1.5v1.5h-1.5zM660.5,628.0h1.5v1.5h-1.5zM661.8,615.2h1.5v1.5h-1.5zM662.6,617.7h1.5v1.5h-1.5zM659.2,615.9h1.5v1.5h-1.5zM670.3,613.2h1.5v1.5h-1.5zM665.8,586.0h1.5v1.5h-1.5zM662.5,582.9h1.5v1.5h-1.5zM663.6,622.0h1.5v1.5h-1.5zM662.0,586.7h1.5v1.5h-1.5zM659.6,619.3h1.5v1.5h-1.5zM659.5,600.1h1.5v1.5h-1.5zM659.7,611.0h1.5v1.5h-1.5zM670.5,607.0h1.5v1.5h-1.5zM664.6,618.5h1.5v1.5h-1.5zM660.1,629.4h1.5v1.5h-1.5zM665.0,595.5h1.5v1.5h-1.5zM658.3,585.3h1.5v1.5h-1.5zM656.9,599.7h1.5v1.5h-1.5zM662.5,574.9h1.5v1.5h-1.5zM668.9,594.5h1.5v1.5h-1.5zM660.2,596.9h1.5v1.5h-1.5zM659.5,601.6h1.5v1.5h-1.5zM659.3,599.0h1.5v1.5h-1.5zM660.8,595.1h1.5v1.5h-1.5zM670.1,616.2h1.5v1.5h-1.5zM657.0,593.3h1.5v1.5h-1.5zM660.9,577.3h1.5v1.5h-1.5zM663.9,574.7h1.5v1.5h-1.5zM670.2,609.4h1.5v1.5h-1.5zM664.2,568.9h1.5v1.5h-1.5zM666.6,586.8h1.5v1.5h-1.5zM664.6,590.7h1.5v1.5h-1.5zM656.1,601.5h1.5v1.5h-1.5zM662.1,584.0h1.5v1.5h-1.5zM662.9,592.0h1.5v1.5h-1.5zM658.6,611.8h1.5v1.5h-1.5zM661.6,602.3h1.5v1.5h-1.5zM667.4,613.7h1.5v1.5h-1.5zM665.9,600.4h1.5v1.5h-1.5zM667.4,593.0h1.5v1.5h-1.5zM669.3,585.7h1.5v1.5h-1.5zM663.6,594.2h1.5v1.5h-1.5zM660.0,605.2h1.5v1.5h-1.5zM665.0,594.4h1.5v1.5h-1.5zM669.6,579.8h1.5v1.5h-1.5zM662.1,609.8h1.5v1.5h-1.5zM661.5,586.3h1.5v1.5h-1.5zM656.2,593.0h1.5v1.5h-1.5zM667.4,570.1h1.5v1.5h-1.5zM658.4,582.6h1.5v1.5h-1.5zM661.0,578.1h1.5v1.5h-1.5zM655.5,597.1h1.5v1.5h-1.5zM662.9,588.6h1.5v1.5h-1.5zM663.4,597.8h1.5v1.5h-1.5zM657.4,604.3h1.5v1.5h-1.5zM669.6,591.1h1.5v1.5h-1.5zM663.8,630.0h1.5v1.5h-1.5zM657.3,583.8h1.5v1.5h-1.5zM667.1,580.3h1.5v1.5h-1.5zM660.1,608.3h1.5v1.5h-1.5zM665.8,568.8h1.5v1.5h-1.5zM663.4,609.7h1.5v1.5h-1.5zM662.3,598.4h1.5v1.5h-1.5zM664.0,588.2h1.5v1.5h-1.5zM666.3,583.2h1.5v1.5h-1.5zM658.8,609.7h1.5v1.5h-1.5zM663.8,581.3h1.5v1.5h-1.5zM658.3,597.0h1.5v1.5h-1.5zM661.3,572.6h1.5v1.5h-1.5zM664.1,587.3h1.5v1.5h-1.5zM659.0,593.3h1.5v1.5h-1.5zM661.3,575.8h1.5v1.5h-1.5zM660.1,577.0h1.5v1.5h-1.5zM666.4,621.7h1.5v1.5h-1.5zM669.0,581.8h1.5v1.5h-1.5zM663.5,611.6h1.5v1.5h-1.5zM656.1,602.5h1.5v1.5h-1.5zM669.8,610.4h1.5v1.5h-1.5zM667.1,624.6h1.5v1.5h-1.5zM660.6,614.9h1.5v1.5h-1.5zM664.3,620.1h1.5v1.5h-1.5zM663.7,580.5h1.5v1.5h-1.5zM660.4,568.8h1.5v1.5h-1.5zM659.9,578.1h1.5v1.5h-1.5zM669.4,600.7h1.5v1.5h-1.5zM669.0,613.3h1.5v1.5h-1.5zM660.9,613.5h1.5v1.5h-1.5zM658.5,602.0h1.5v1.5h-1.5zM666.1,579.6h1.5v1.5h-1.5zM657.6,608.5h1.5v1.5h-1.5zM657.8,597.2h1.5v1.5h-1.5zM666.4,628.0h1.5v1.5h-1.5zM668.5,613.9h1.5v1.5h-1.5zM661.6,623.1h1.5v1.5h-1.5zM661.5,609.6h1.5v1.5h-1.5zM665.5,589.2h1.5v1.5h-1.5zM664.6,605.2h1.5v1.5h-1.5zM667.4,580.5h1.5v1.5h-1.5zM669.9,592.5h1.5v1.5h-1.5zM658.8,626.5h1.5v1.5h-1.5zM669.2,583.1h1.5v1.5h-1.5zM662.7,610.1h1.5v1.5h-1.5zM664.5,623.3h1.5v1.5h-1.5zM658.2,593.8h1.5v1.5h-1.5zM667.5,608.1h1.5v1.5h-1.5zM664.3,591.1h1.5v1.5h-1.5zM663.6,606.2h1.5v1.5h-1.5zM660.1,609.4h1.5v1.5h-1.5zM666.5,572.1h1.5v1.5h-1.5zM671.0,605.8h1.5v1.5h-1.5zM657.6,594.3h1.5v1.5h-1.5zM661.0,595.8h1.5v1.5h-1.5zM655.5,596.5h1.5v1.5h-1.5zM660.4,578.8h1.5v1.5h-1.5zM665.6,569.4h1.5v1.5h-1.5zM655.1,598.1h1.5v1.5h-1.5zM657.1,596.3h1.5v1.5h-1.5zM660.0,582.9h1.5v1.5h-1.5zM655.9,603.4h1.5v1.5h-1.5zM658.3,606.9h1.5v1.5h-1.5zM662.5,608.8h1.5v1.5h-1.5zM664.5,602.0h1.5v1.5h-1.5zM658.9,611.9h1.5v1.5h-1.5zM670.6,602.7h1.5v1.5h-1.5zM670.8,600.3h1.5v1.5h-1.5zM662.0,613.7h1.5v1.5h-1.5zM667.5,606.4h1.5v1.5h-1.5zM662.8,619.3h1.5v1.5h-1.5zM662.0,609.8h1.5v1.5h-1.5zM660.8,600.3h1.5v1.5h-1.5zM659.4,608.0h1.5v1.5h-1.5zM660.5,590.6h1.5v1.5h-1.5zM665.9,570.1h1.5v1.5h-1.5zM663.2,566.4h1.5v1.5h-1.5zM667.3,588.5h1.5v1.5h-1.5zM667.9,582.8h1.5v1.5h-1.5zM660.3,586.2h1.5v1.5h-1.5zM667.6,586.5h1.5v1.5h-1.5zM667.7,590.6h1.5v1.5h-1.5zM669.8,586.6h1.5v1.5h-1.5zM660.0,593.5h1.5v1.5h-1.5zM667.0,573.0h1.5v1.5h-1.5zM662.7,583.2h1.5v1.5h-1.5zM668.9,606.8h1.5v1.5h-1.5zM659.9,622.1h1.5v1.5h-1.5zM668.3,602.9h1.5v1.5h-1.5zM663.7,632.2h1.5v1.5h-1.5zM667.9,631.3h1.5v1.5h-1.5zM666.8,573.0h1.5v1.5h-1.5zM667.0,630.1h1.5v1.5h-1.5zM663.6,600.0h1.5v1.5h-1.5zM658.1,584.8h1.5v1.5h-1.5zM661.1,583.6h1.5v1.5h-1.5zM665.5,614.6h1.5v1.5h-1.5zM668.7,606.0h1.5v1.5h-1.5zM670.4,586.5h1.5v1.5h-1.5zM660.5,602.8h1.5v1.5h-1.5zM670.4,613.2h1.5v1.5h-1.5zM663.6,578.3h1.5v1.5h-1.5zM660.5,590.8h1.5v1.5h-1.5zM664.7,625.4h1.5v1.5h-1.5zM657.2,595.9h1.5v1.5h-1.5zM669.8,599.8h1.5v1.5h-1.5zM667.8,612.9h1.5v1.5h-1.5zM662.6,604.9h1.5v1.5h-1.5zM667.7,589.8h1.5v1.5h-1.5zM665.7,588.1h1.5v1.5h-1.5zM671.9,600.9h1.5v1.5h-1.5zM656.3,598.6h1.5v1.5h-1.5zM670.8,603.3h1.5v1.5h-1.5zM665.5,572.8h1.5v1.5h-1.5zM665.7,616.9h1.5v1.5h-1.5zM664.6,582.0h1.5v1.5h-1.5zM664.1,594.5h1.5v1.5h-1.5zM660.3,617.1h1.5v1.5h-1.5zM656.6,597.5h1.5v1.5h-1.5zM665.6,605.7h1.5v1.5h-1.5zM660.5,569.6h1.5v1.5h-1.5zM663.0,590.0h1.5v1.5h-1.5zM665.5,599.7h1.5v1.5h-1.5zM659.4,581.6h1.5v1.5h-1.5zM660.8,637.1h1.5v1.5h-1.5zM659.1,609.6h1.5v1.5h-1.5zM655.2,596.3h1.5v1.5h-1.5zM671.0,592.0h1.5v1.5h-1.5zM669.1,594.6h1.5v1.5h-1.5zM664.8,599.6h1.5v1.5h-1.5zM657.3,590.6h1.5v1.5h-1.5zM664.9,569.0h1.5v1.5h-1.5zM659.4,609.5h1.5v1.5h-1.5zM659.1,619.1h1.5v1.5h-1.5zM665.2,607.1h1.5v1.5h-1.5zM667.3,607.8h1.5v1.5h-1.5zM669.0,575.2h1.5v1.5h-1.5zM661.9,593.8h1.5v1.5h-1.5zM669.3,610.5h1.5v1.5h-1.5zM658.9,604.7h1.5v1.5h-1.5zM662.7,584.4h1.5v1.5h-1.5zM664.6,588.3h1.5v1.5h-1.5zM664.0,588.9h1.5v1.5h-1.5zM662.5,565.9h1.5v1.5h-1.5zM670.7,598.8h1.5v1.5h-1.5zM669.1,602.8h1.5v1.5h-1.5zM655.7,599.4h1.5v1.5h-1.5zM667.6,582.3h1.5v1.5h-1.5zM669.6,578.9h1.5v1.5h-1.5zM663.0,602.0h1.5v1.5h-1.5zM669.0,579.3h1.5v1.5h-1.5zM663.0,619.8h1.5v1.5h-1.5zM671.1,602.6h1.5v1.5h-1.5zM656.5,598.9h1.5v1.5h-1.5zM659.1,616.3h1.5v1.5h-1.5zM661.1,608.5h1.5v1.5h-1.5zM661.8,599.3h1.5v1.5h-1.5zM661.5,596.8h1.5v1.5h-1.5zM671.0,603.3h1.5v1.5h-1.5zM667.9,621.3h1.5v1.5h-1.5zM666.8,599.5h1.5v1.5h-1.5zM667.1,578.2h1.5v1.5h-1.5zM665.3,590.2h1.5v1.5h-1.5zM660.6,588.4h1.5v1.5h-1.5zM666.6,585.4h1.5v1.5h-1.5zM656.5,606.5h1.5v1.5h-1.5zM667.7,566.7h1.5v1.5h-1.5zM661.7,622.6h1.5v1.5h-1.5zM658.7,577.4h1.5v1.5h-1.5zM660.1,635.5h1.5v1.5h-1.5zM658.0,621.4h1.5v1.5h-1.5zM666.1,636.8h1.5v1.5h-1.5zM657.8,607.7h1.5v1.5h-1.5zM663.6,613.0h1.5v1.5h-1.5zM669.8,608.7h1.5v1.5h-1.5zM667.6,598.6h1.5v1.5h-1.5zM665.0,588.2h1.5v1.5h-1.5zM669.4,580.8h1.5v1.5h-1.5zM659.3,567.6h1.5v1.5h-1.5zM662.2,602.3h1.5v1.5h-1.5zM657.4,584.6h1.5v1.5h-1.5zM667.6,578.3h1.5v1.5h-1.5zM669.7,614.6h1.5v1.5h-1.5zM668.9,612.9h1.5v1.5h-1.5zM664.3,601.0h1.5v1.5h-1.5zM663.7,619.5h1.5v1.5h-1.5zM666.5,589.0h1.5v1.5h-1.5zM662.1,596.9h1.5v1.5h-1.5zM662.3,626.1h1.5v1.5h-1.5zM667.1,590.0h1.5v1.5h-1.5zM659.3,589.3h1.5v1.5h-1.5zM664.6,625.2h1.5v1.5h-1.5zM658.2,618.1h1.5v1.5h-1.5zM658.3,594.6h1.5v1.5h-1.5zM668.3,598.0h1.5v1.5h-1.5zM662.2,572.6h1.5v1.5h-1.5zM664.1,611.3h1.5v1.5h-1.5zM659.8,608.6h1.5v1.5h-1.5zM668.3,619.5h1.5v1.5h-1.5zM660.0,567.6h1.5v1.5h-1.5zM662.8,576.8h1.5v1.5h-1.5zM665.3,578.4h1.5v1.5h-1.5zM669.2,614.8h1.5v1.5h-1.5zM658.3,610.9h1.5v1.5h-1.5zM656.6,591.3h1.5v1.5h-1.5zM660.3,607.5h1.5v1.5h-1.5zM664.3,625.4h1.5v1.5h-1.5zM671.5,601.2h1.5v1.5h-1.5zM664.7,593.3h1.5v1.5h-1.5zM664.8,585.2h1.5v1.5h-1.5zM656.9,604.5h1.5v1.5h-1.5zM667.4,615.4h1.5v1.5h-1.5zM668.8,597.1h1.5v1.5h-1.5zM655.3,604.2h1.5v1.5h-1.5zM660.2,607.0h1.5v1.5h-1.5zM658.2,617.7h1.5v1.5h-1.5zM664.1,599.7h1.5v1.5h-1.5zM667.4,577.9h1.5v1.5h-1.5zM660.4,588.9h1.5v1.5h-1.5zM657.4,580.4h1.5v1.5h-1.5zM657.7,595.9h1.5v1.5h-1.5zM655.9,592.0h1.5v1.5h-1.5zM667.3,584.8h1.5v1.5h-1.5zM662.2,600.8h1.5v1.5h-1.5zM670.3,610.0h1.5v1.5h-1.5zM658.6,599.5h1.5v1.5h-1.5zM667.5,573.6h1.5v1.5h-1.5zM656.9,605.1h1.5v1.5h-1.5zM664.5,577.1h1.5v1.5h-1.5zM664.6,600.5h1.5v1.5h-1.5zM667.6,633.4h1.5v1.5h-1.5zM670.3,586.3h1.5v1.5h-1.5zM666.6,587.2h1.5v1.5h-1.5zM658.9,584.5h1.5v1.5h-1.5zM658.6,579.4h1.5v1.5h-1.5zM660.6,614.4h1.5v1.5h-1.5zM670.9,611.6h1.5v1.5h-1.5zM661.2,626.6h1.5v1.5h-1.5zM661.3,588.5h1.5v1.5h-1.5zM659.9,615.6h1.5v1.5h-1.5zM662.3,595.6h1.5v1.5h-1.5zM657.1,596.2h1.5v1.5h-1.5zM657.4,594.9h1.5v1.5h-1.5zM659.0,586.1h1.5v1.5h-1.5zM662.2,600.3h1.5v1.5h-1.5zM663.8,558.2h1.5v1.5h-1.5zM668.0,571.7h1.5v1.5h-1.5zM669.6,605.7h1.5v1.5h-1.5zM660.7,601.0h1.5v1.5h-1.5zM664.5,629.0h1.5v1.5h-1.5zM660.3,615.2h1.5v1.5h-1.5zM668.3,569.1h1.5v1.5h-1.5zM667.6,597.5h1.5v1.5h-1.5zM664.6,585.2h1.5v1.5h-1.5zM669.9,597.0h1.5v1.5h-1.5zM658.7,591.1h1.5v1.5h-1.5zM663.4,627.0h1.5v1.5h-1.5zM663.1,600.5h1.5v1.5h-1.5zM664.9,580.7h1.5v1.5h-1.5zM665.1,568.8h1.5v1.5h-1.5zM661.9,617.1h1.5v1.5h-1.5zM658.9,584.1h1.5v1.5h-1.5zM668.6,614.3h1.5v1.5h-1.5zM663.7,578.9h1.5v1.5h-1.5zM665.5,617.4h1.5v1.5h-1.5zM668.2,628.0h1.5v1.5h-1.5zM667.8,599.2h1.5v1.5h-1.5zM664.2,568.5h1.5v1.5h-1.5zM655.6,606.2h1.5v1.5h-1.5zM655.7,603.6h1.5v1.5h-1.5zM665.1,587.1h1.5v1.5h-1.5zM662.6,608.2h1.5v1.5h-1.5zM661.8,581.1h1.5v1.5h-1.5zM665.4,615.5h1.5v1.5h-1.5zM658.0,590.8h1.5v1.5h-1.5zM667.0,563.9h1.5v1.5h-1.5zM671.3,606.9h1.5v1.5h-1.5zM658.4,600.6h1.5v1.5h-1.5zM657.4,603.7h1.5v1.5h-1.5zM668.0,609.1h1.5v1.5h-1.5zM665.5,574.4h1.5v1.5h-1.5zM665.3,618.6h1.5v1.5h-1.5zM661.8,569.7h1.5v1.5h-1.5zM660.2,554.8h1.5v1.5h-1.5zM663.1,606.0h1.5v1.5h-1.5zM662.3,582.1h1.5v1.5h-1.5zM666.0,600.8h1.5v1.5h-1.5zM661.0,596.7h1.5v1.5h-1.5zM666.1,587.8h1.5v1.5h-1.5zM667.4,589.4h1.5v1.5h-1.5zM665.6,605.1h1.5v1.5h-1.5zM665.2,594.9h1.5v1.5h-1.5zM662.5,637.9h1.5v1.5h-1.5zM663.9,594.6h1.5v1.5h-1.5zM658.5,590.9h1.5v1.5h-1.5zM658.2,597.2h1.5v1.5h-1.5zM670.6,595.4h1.5v1.5h-1.5zM664.9,592.3h1.5v1.5h-1.5zM660.7,617.8h1.5v1.5h-1.5zM669.7,597.4h1.5v1.5h-1.5zM655.4,600.1h1.5v1.5h-1.5zM656.4,614.3h1.5v1.5h-1.5zM658.1,575.3h1.5v1.5h-1.5zM662.7,593.4h1.5v1.5h-1.5zM660.6,612.9h1.5v1.5h-1.5zM671.0,600.3h1.5v1.5h-1.5zM663.9,574.7h1.5v1.5h-1.5zM670.9,605.8h1.5v1.5h-1.5zM657.4,601.9h1.5v1.5h-1.5zM658.0,609.0h1.5v1.5h-1.5zM665.1,586.9h1.5v1.5h-1.5zM658.9,589.7h1.5v1.5h-1.5zM662.9,586.9h1.5v1.5h-1.5zM669.7,592.1h1.5v1.5h-1.5zM660.6,577.2h1.5v1.5h-1.5zM667.9,616.1h1.5v1.5h-1.5zM664.1,602.5h1.5v1.5h-1.5zM660.1,579.3h1.5v1.5h-1.5zM668.1,609.9h1.5v1.5h-1.5zM659.0,601.6h1.5v1.5h-1.5zM655.2,596.8h1.5v1.5h-1.5zM662.5,608.1h1.5v1.5h-1.5zM660.0,583.1h1.5v1.5h-1.5zM663.6,613.0h1.5v1.5h-1.5zM660.2,609.4h1.5v1.5h-1.5zM659.2,579.5h1.5v1.5h-1.5zM657.4,594.5h1.5v1.5h-1.5zM660.4,598.7h1.5v1.5h-1.5zM663.4,608.0h1.5v1.5h-1.5zM658.7,582.2h1.5v1.5h-1.5zM658.6,587.4h1.5v1.5h-1.5zM659.4,619.2h1.5v1.5h-1.5zM665.5,585.1h1.5v1.5h-1.5zM666.9,587.2h1.5v1.5h-1.5zM670.3,596.5h1.5v1.5h-1.5zM663.2,568.9h1.5v1.5h-1.5zM667.1,592.0h1.5v1.5h-1.5zM656.4,592.4h1.5v1.5h-1.5zM656.9,615.5h1.5v1.5h-1.5zM658.6,615.3h1.5v1.5h-1.5zM669.5,597.8h1.5v1.5h-1.5zM667.7,582.7h1.5v1.5h-1.5zM664.2,600.5h1.5v1.5h-1.5zM658.3,597.2h1.5v1.5h-1.5zM660.1,607.1h1.5v1.5h-1.5zM662.6,565.2h1.5v1.5h-1.5zM657.4,614.9h1.5v1.5h-1.5zM664.3,629.2h1.5v1.5h-1.5zM656.8,602.7h1.5v1.5h-1.5zM660.8,605.3h1.5v1.5h-1.5zM670.6,610.9h1.5v1.5h-1.5zM665.6,579.1h1.5v1.5h-1.5zM663.1,644.4h1.5v1.5h-1.5zM663.1,577.1h1.5v1.5h-1.5zM665.9,605.7h1.5v1.5h-1.5zM667.1,599.5h1.5v1.5h-1.5zM668.8,618.2h1.5v1.5h-1.5zM665.6,595.7h1.5v1.5h-1.5zM667.1,610.2h1.5v1.5h-1.5zM663.1,627.3h1.5v1.5h-1.5zM659.9,564.0h1.5v1.5h-1.5zM671.4,608.3h1.5v1.5h-1.5zM665.5,583.4h1.5v1.5h-1.5zM666.5,572.2h1.5v1.5h-1.5zM658.2,605.6h1.5v1.5h-1.5zM657.6,588.6h1.5v1.5h-1.5zM668.7,591.8h1.5v1.5h-1.5zM664.1,592.7h1.5v1.5h-1.5zM662.9,571.2h1.5v1.5h-1.5zM660.7,632.6h1.5v1.5h-1.5zM663.7,592.9h1.5v1.5h-1.5zM669.3,603.1h1.5v1.5h-1.5zM665.9,590.3h1.5v1.5h-1.5zM657.0,590.4h1.5v1.5h-1.5zM664.3,582.3h1.5v1.5h-1.5zM667.2,617.2h1.5v1.5h-1.5zM664.0,580.2h1.5v1.5h-1.5zM662.1,576.5h1.5v1.5h-1.5zM656.0,592.2h1.5v1.5h-1.5zM666.3,613.8h1.5v1.5h-1.5zM659.8,580.0h1.5v1.5h-1.5zM662.0,594.3h1.5v1.5h-1.5zM665.2,618.8h1.5v1.5h-1.5zM661.2,587.5h1.5v1.5h-1.5zM656.2,595.3h1.5v1.5h-1.5zM664.4,573.1h1.5v1.5h-1.5zM655.5,601.7h1.5v1.5h-1.5zM658.3,619.4h1.5v1.5h-1.5zM665.4,615.0h1.5v1.5h-1.5zM669.6,619.1h1.5v1.5h-1.5zM671.1,603.5h1.5v1.5h-1.5zM659.7,613.6h1.5v1.5h-1.5zM656.2,587.3h1.5v1.5h-1.5zM664.6,589.2h1.5v1.5h-1.5zM665.3,608.1h1.5v1.5h-1.5zM663.0,600.7h1.5v1.5h-1.5zM668.3,606.9h1.5v1.5h-1.5zM665.5,623.7h1.5v1.5h-1.5zM665.9,582.9h1.5v1.5h-1.5zM658.8,587.3h1.5v1.5h-1.5zM660.1,611.2h1.5v1.5h-1.5zM657.3,585.6h1.5v1.5h-1.5zM668.1,602.1h1.5v1.5h-1.5zM670.5,583.7h1.5v1.5h-1.5zM670.0,580.9h1.5v1.5h-1.5zM663.6,624.6h1.5v1.5h-1.5zM667.2,601.3h1.5v1.5h-1.5zM669.2,601.1h1.5v1.5h-1.5zM657.3,610.2h1.5v1.5h-1.5zM669.5,581.8h1.5v1.5h-1.5zM659.5,613.5h1.5v1.5h-1.5zM669.5,591.5h1.5v1.5h-1.5zM663.8,584.0h1.5v1.5h-1.5zM659.9,603.1h1.5v1.5h-1.5zM669.2,604.7h1.5v1.5h-1.5zM657.3,618.5h1.5v1.5h-1.5zM659.9,637.9h1.5v1.5h-1.5zM665.6,599.7h1.5v1.5h-1.5zM660.2,603.9h1.5v1.5h-1.5zM671.2,593.5h1.5v1.5h-1.5zM669.7,594.9h1.5v1.5h-1.5zM658.1,582.2h1.5v1.5h-1.5zM665.1,578.6h1.5v1.5h-1.5zM655.7,595.9h1.5v1.5h-1.5zM664.9,585.3h1.5v1.5h-1.5zM660.4,620.3h1.5v1.5h-1.5zM671.4,589.4h1.5v1.5h-1.5zM664.4,603.5h1.5v1.5h-1.5zM665.0,583.0h1.5v1.5h-1.5zM670.4,608.8h1.5v1.5h-1.5zM670.6,610.6h1.5v1.5h-1.5zM671.7,593.7h1.5v1.5h-1.5zM666.8,578.2h1.5v1.5h-1.5zM659.9,577.5h1.5v1.5h-1.5zM669.2,598.1h1.5v1.5h-1.5zM656.5,593.6h1.5v1.5h-1.5zM670.7,584.9h1.5v1.5h-1.5zM658.9,621.4h1.5v1.5h-1.5zM656.9,596.4h1.5v1.5h-1.5zM669.2,604.4h1.5v1.5h-1.5zM670.4,583.3h1.5v1.5h-1.5zM663.3,579.9h1.5v1.5h-1.5zM664.9,626.6h1.5v1.5h-1.5zM670.5,583.9h1.5v1.5h-1.5zM656.0,604.5h1.5v1.5h-1.5zM669.1,613.8h1.5v1.5h-1.5zM666.7,598.4h1.5v1.5h-1.5zM659.8,606.8h1.5v1.5h-1.5zM656.8,606.8h1.5v1.5h-1.5zM663.0,595.5h1.5v1.5h-1.5zM669.3,603.9h1.5v1.5h-1.5zM668.3,621.5h1.5v1.5h-1.5zM668.2,599.0h1.5v1.5h-1.5zM667.1,610.0h1.5v1.5h-1.5zM670.5,596.8h1.5v1.5h-1.5zM657.9,597.0h1.5v1.5h-1.5zM662.6,573.8h1.5v1.5h-1.5zM663.8,624.8h1.5v1.5h-1.5zM669.3,593.3h1.5v1.5h-1.5zM665.6,596.0h1.5v1.5h-1.5zM656.3,599.2h1.5v1.5h-1.5zM667.7,589.0h1.5v1.5h-1.5zM669.0,599.4h1.5v1.5h-1.5zM660.4,593.8h1.5v1.5h-1.5zM661.4,589.3h1.5v1.5h-1.5zM663.9,581.9h1.5v1.5h-1.5zM660.4,616.6h1.5v1.5h-1.5zM663.5,593.9h1.5v1.5h-1.5zM662.2,588.8h1.5v1.5h-1.5zM662.9,601.5h1.5v1.5h-1.5zM665.4,611.7h1.5v1.5h-1.5zM670.8,594.5h1.5v1.5h-1.5zM671.1,589.2h1.5v1.5h-1.5zM656.1,585.6h1.5v1.5h-1.5zM663.6,603.7h1.5v1.5h-1.5zM666.9,612.0h1.5v1.5h-1.5zM665.9,598.9h1.5v1.5h-1.5zM671.6,593.2h1.5v1.5h-1.5zM663.6,632.1h1.5v1.5h-1.5zM666.3,589.0h1.5v1.5h-1.5zM665.7,612.1h1.5v1.5h-1.5zM665.8,620.3h1.5v1.5h-1.5zM670.0,601.4h1.5v1.5h-1.5zM665.2,609.7h1.5v1.5h-1.5zM661.6,619.7h1.5v1.5h-1.5zM659.1,598.9h1.5v1.5h-1.5zM661.2,589.9h1.5v1.5h-1.5zM665.0,603.9h1.5v1.5h-1.5zM659.8,605.2h1.5v1.5h-1.5zM668.0,598.5h1.5v1.5h-1.5zM657.5,587.6h1.5v1.5h-1.5zM657.2,585.7h1.5v1.5h-1.5zM663.0,582.8h1.5v1.5h-1.5zM656.3,600.8h1.5v1.5h-1.5zM670.3,589.1h1.5v1.5h-1.5zM669.7,583.5h1.5v1.5h-1.5zM659.4,613.0h1.5v1.5h-1.5zM668.7,588.1h1.5v1.5h-1.5zM658.5,590.5h1.5v1.5h-1.5zM667.3,589.0h1.5v1.5h-1.5zM660.9,587.8h1.5v1.5h-1.5zM669.8,610.5h1.5v1.5h-1.5zM661.2,578.1h1.5v1.5h-1.5zM669.4,583.9h1.5v1.5h-1.5zM669.5,599.9h1.5v1.5h-1.5zM661.7,568.6h1.5v1.5h-1.5zM656.5,592.7h1.5v1.5h-1.5zM664.5,578.5h1.5v1.5h-1.5zM657.1,606.6h1.5v1.5h-1.5zM665.9,578.1h1.5v1.5h-1.5zM667.3,600.8h1.5v1.5h-1.5zM659.2,579.3h1.5v1.5h-1.5zM666.4,609.5h1.5v1.5h-1.5zM668.3,577.7h1.5v1.5h-1.5zM661.3,584.1h1.5v1.5h-1.5zM670.0,596.0h1.5v1.5h-1.5zM658.4,612.0h1.5v1.5h-1.5zM662.5,598.6h1.5v1.5h-1.5zM665.7,600.3h1.5v1.5h-1.5zM670.1,596.1h1.5v1.5h-1.5zM669.1,612.2h1.5v1.5h-1.5zM670.7,589.6h1.5v1.5h-1.5zM659.9,574.8h1.5v1.5h-1.5zM661.2,604.7h1.5v1.5h-1.5zM667.7,613.0h1.5v1.5h-1.5zM667.3,576.0h1.5v1.5h-1.5zM671.6,592.6h1.5v1.5h-1.5zM660.9,589.9h1.5v1.5h-1.5zM666.7,611.7h1.5v1.5h-1.5zM655.6,607.5h1.5v1.5h-1.5zM666.5,587.2h1.5v1.5h-1.5zM662.1,629.2h1.5v1.5h-1.5zM668.0,602.3h1.5v1.5h-1.5zM668.2,608.3h1.5v1.5h-1.5zM665.9,619.4h1.5v1.5h-1.5zM667.5,612.5h1.5v1.5h-1.5zM668.6,578.1h1.5v1.5h-1.5zM666.6,613.1h1.5v1.5h-1.5zM670.1,590.1h1.5v1.5h-1.5zM656.6,593.7h1.5v1.5h-1.5zM658.5,582.7h1.5v1.5h-1.5zM668.7,616.1h1.5v1.5h-1.5zM660.9,600.9h1.5v1.5h-1.5zM666.3,608.8h1.5v1.5h-1.5zM668.7,612.6h1.5v1.5h-1.5zM660.8,612.6h1.5v1.5h-1.5zM667.5,574.8h1.5v1.5h-1.5zM662.9,629.0h1.5v1.5h-1.5zM661.8,598.1h1.5v1.5h-1.5zM665.8,581.2h1.5v1.5h-1.5zM657.1,588.1h1.5v1.5h-1.5zM657.3,592.2h1.5v1.5h-1.5zM668.3,605.6h1.5v1.5h-1.5zM661.8,581.4h1.5v1.5h-1.5zM670.3,585.4h1.5v1.5h-1.5zM661.0,610.0h1.5v1.5h-1.5zM668.4,602.6h1.5v1.5h-1.5zM665.0,590.8h1.5v1.5h-1.5zM667.2,582.1h1.5v1.5h-1.5zM657.9,604.1h1.5v1.5h-1.5zM658.3,593.4h1.5v1.5h-1.5zM671.8,601.1h1.5v1.5h-1.5zM667.8,564.8h1.5v1.5h-1.5zM657.4,582.6h1.5v1.5h-1.5zM669.0,621.8h1.5v1.5h-1.5zM664.1,585.9h1.5v1.5h-1.5zM667.2,585.6h1.5v1.5h-1.5zM656.6,607.3h1.5v1.5h-1.5zM667.2,604.4h1.5v1.5h-1.5zM660.0,607.2h1.5v1.5h-1.5zM659.7,582.7h1.5v1.5h-1.5zM663.6,595.9h1.5v1.5h-1.5zM659.6,582.8h1.5v1.5h-1.5zM661.1,598.0h1.5v1.5h-1.5zM663.3,617.4h1.5v1.5h-1.5zM662.5,614.3h1.5v1.5h-1.5zM667.5,603.4h1.5v1.5h-1.5zM660.2,578.8h1.5v1.5h-1.5zM660.3,582.4h1.5v1.5h-1.5zM667.1,582.2h1.5v1.5h-1.5zM660.9,604.9h1.5v1.5h-1.5zM670.8,600.9h1.5v1.5h-1.5zM671.2,587.8h1.5v1.5h-1.5zM670.0,617.4h1.5v1.5h-1.5zM663.5,592.1h1.5v1.5h-1.5zM667.3,628.2h1.5v1.5h-1.5zM671.3,606.7h1.5v1.5h-1.5zM666.2,563.9h1.5v1.5h-1.5zM665.7,576.9h1.5v1.5h-1.5zM657.1,604.3h1.5v1.5h-1.5zM670.3,599.7h1.5v1.5h-1.5zM668.5,605.0h1.5v1.5h-1.5zM660.5,581.3h1.5v1.5h-1.5zM664.9,615.9h1.5v1.5h-1.5zM664.4,629.1h1.5v1.5h-1.5zM662.0,596.6h1.5v1.5h-1.5zM665.8,603.9h1.5v1.5h-1.5zM662.1,624.0h1.5v1.5h-1.5zM657.3,608.4h1.5v1.5h-1.5zM660.3,615.4h1.5v1.5h-1.5zM657.5,587.9h1.5v1.5h-1.5zM667.3,584.5h1.5v1.5h-1.5zM666.8,605.5h1.5v1.5h-1.5zM668.3,603.0h1.5v1.5h-1.5zM663.2,575.0h1.5v1.5h-1.5zM670.1,593.7h1.5v1.5h-1.5zM667.5,580.8h1.5v1.5h-1.5zM658.6,609.0h1.5v1.5h-1.5zM667.7,600.4h1.5v1.5h-1.5zM662.9,621.7h1.5v1.5h-1.5zM657.8,597.3h1.5v1.5h-1.5zM665.8,584.2h1.5v1.5h-1.5zM668.1,607.7h1.5v1.5h-1.5zM660.7,617.4h1.5v1.5h-1.5zM665.1,619.5h1.5v1.5h-1.5zM659.0,615.2h1.5v1.5h-1.5zM660.3,601.5h1.5v1.5h-1.5zM666.3,586.2h1.5v1.5h-1.5zM670.8,606.0h1.5v1.5h-1.5zM664.8,591.6h1.5v1.5h-1.5zM657.8,585.3h1.5v1.5h-1.5zM656.6,607.1h1.5v1.5h-1.5zM656.3,595.7h1.5v1.5h-1.5zM665.2,600.5h1.5v1.5h-1.5zM660.8,602.2h1.5v1.5h-1.5zM665.0,596.4h1.5v1.5h-1.5zM659.3,591.3h1.5v1.5h-1.5zM663.6,586.3h1.5v1.5h-1.5zM667.1,583.5h1.5v1.5h-1.5zM668.2,611.5h1.5v1.5h-1.5zM668.7,591.9h1.5v1.5h-1.5zM663.4,598.1h1.5v1.5h-1.5zM660.8,624.4h1.5v1.5h-1.5zM663.2,583.8h1.5v1.5h-1.5zM656.4,591.5h1.5v1.5h-1.5zM660.6,620.9h1.5v1.5h-1.5zM662.0,585.4h1.5v1.5h-1.5zM669.1,614.4h1.5v1.5h-1.5zM661.3,628.9h1.5v1.5h-1.5zM665.4,604.0h1.5v1.5h-1.5zM666.2,599.6h1.5v1.5h-1.5zM663.8,597.8h1.5v1.5h-1.5zM662.1,604.6h1.5v1.5h-1.5zM665.5,587.1h1.5v1.5h-1.5zM668.6,575.2h1.5v1.5h-1.5zM660.2,603.6h1.5v1.5h-1.5zM669.0,590.2h1.5v1.5h-1.5zM656.7,597.3h1.5v1.5h-1.5zM668.4,596.1h1.5v1.5h-1.5zM661.5,644.0h1.5v1.5h-1.5zM655.3,593.5h1.5v1.5h-1.5zM663.2,606.9h1.5v1.5h-1.5zM660.3,554.7h1.5v1.5h-1.5zM663.1,621.9h1.5v1.5h-1.5zM661.9,618.8h1.5v1.5h-1.5zM662.0,590.5h1.5v1.5h-1.5zM660.0,582.4h1.5v1.5h-1.5zM664.1,619.7h1.5v1.5h-1.5zM656.8,581.8h1.5v1.5h-1.5zM665.7,593.8h1.5v1.5h-1.5zM663.6,625.0h1.5v1.5h-1.5zM659.5,576.4h1.5v1.5h-1.5zM664.4,598.0h1.5v1.5h-1.5zM666.8,613.5h1.5v1.5h-1.5zM657.0,613.5h1.5v1.5h-1.5zM660.5,588.1h1.5v1.5h-1.5zM663.2,583.0h1.5v1.5h-1.5zM658.8,591.0h1.5v1.5h-1.5zM671.1,600.0h1.5v1.5h-1.5zM669.7,597.0h1.5v1.5h-1.5zM666.6,615.8h1.5v1.5h-1.5zM662.1,556.5h1.5v1.5h-1.5zM668.1,607.1h1.5v1.5h-1.5zM663.0,625.4h1.5v1.5h-1.5zM668.3,591.4h1.5v1.5h-1.5zM671.3,606.1h1.5v1.5h-1.5zM666.3,590.0h1.5v1.5h-1.5zM666.5,596.4h1.5v1.5h-1.5zM670.8,596.7h1.5v1.5h-1.5zM671.8,596.3h1.5v1.5h-1.5zM667.6,594.1h1.5v1.5h-1.5zM662.6,601.5h1.5v1.5h-1.5zM666.9,607.2h1.5v1.5h-1.5zM661.9,589.4h1.5v1.5h-1.5zM655.9,596.8h1.5v1.5h-1.5zM662.2,595.4h1.5v1.5h-1.5zM671.3,601.7h1.5v1.5h-1.5zM668.5,617.9h1.5v1.5h-1.5zM663.7,584.1h1.5v1.5h-1.5zM666.5,610.1h1.5v1.5h-1.5zM664.3,604.8h1.5v1.5h-1.5zM662.8,605.5h1.5v1.5h-1.5zM663.6,615.9h1.5v1.5h-1.5zM665.3,598.1h1.5v1.5h-1.5zM671.9,602.0h1.5v1.5h-1.5zM667.6,590.7h1.5v1.5h-1.5zM668.2,604.0h1.5v1.5h-1.5zM661.8,571.3h1.5v1.5h-1.5zM655.3,600.8h1.5v1.5h-1.5zM659.5,589.1h1.5v1.5h-1.5zM664.6,565.1h1.5v1.5h-1.5zM669.4,619.7h1.5v1.5h-1.5zM669.8,580.9h1.5v1.5h-1.5zM659.6,592.7h1.5v1.5h-1.5zM664.4,564.5h1.5v1.5h-1.5zM670.8,593.7h1.5v1.5h-1.5zM664.5,574.3h1.5v1.5h-1.5zM668.9,584.7h1.5v1.5h-1.5zM665.8,600.1h1.5v1.5h-1.5zM660.8,595.4h1.5v1.5h-1.5zM656.7,593.9h1.5v1.5h-1.5zM665.2,591.5h1.5v1.5h-1.5zM658.3,597.6h1.5v1.5h-1.5zM668.8,605.1h1.5v1.5h-1.5zM658.2,598.0h1.5v1.5h-1.5zM667.5,578.9h1.5v1.5h-1.5zM660.8,604.3h1.5v1.5h-1.5zM666.4,601.9h1.5v1.5h-1.5zM661.7,598.1h1.5v1.5h-1.5zM655.8,590.8h1.5v1.5h-1.5zM660.2,591.8h1.5v1.5h-1.5zM668.8,596.1h1.5v1.5h-1.5zM667.2,586.9h1.5v1.5h-1.5zM668.7,607.9h1.5v1.5h-1.5zM666.6,588.2h1.5v1.5h-1.5zM670.2,600.4h1.5v1.5h-1.5zM669.2,598.8h1.5v1.5h-1.5zM668.0,603.1h1.5v1.5h-1.5zM656.4,602.2h1.5v1.5h-1.5zM655.2,601.2h1.5v1.5h-1.5zM658.3,617.7h1.5v1.5h-1.5zM669.0,605.3h1.5v1.5h-1.5zM664.9,605.5h1.5v1.5h-1.5zM659.6,594.3h1.5v1.5h-1.5zM668.4,596.4h1.5v1.5h-1.5zM657.2,588.7h1.5v1.5h-1.5zM666.3,598.0h1.5v1.5h-1.5zM666.4,590.6h1.5v1.5h-1.5zM655.7,606.4h1.5v1.5h-1.5zM670.7,594.9h1.5v1.5h-1.5zM665.8,602.9h1.5v1.5h-1.5zM669.1,601.8h1.5v1.5h-1.5zM658.3,588.4h1.5v1.5h-1.5zM663.0,564.4h1.5v1.5h-1.5zM663.3,634.0h1.5v1.5h-1.5zM666.9,584.0h1.5v1.5h-1.5zM662.8,600.8h1.5v1.5h-1.5zM662.9,610.6h1.5v1.5h-1.5zM657.9,603.5h1.5v1.5h-1.5zM671.3,590.1h1.5v1.5h-1.5zM671.5,590.8h1.5v1.5h-1.5zM660.8,602.6h1.5v1.5h-1.5zM663.0,597.7h1.5v1.5h-1.5zM662.5,615.4h1.5v1.5h-1.5zM660.2,581.0h1.5v1.5h-1.5zM670.6,594.9h1.5v1.5h-1.5zM668.9,606.9h1.5v1.5h-1.5zM664.8,607.6h1.5v1.5h-1.5zM666.7,614.7h1.5v1.5h-1.5zM659.7,617.0h1.5v1.5h-1.5zM667.1,582.1h1.5v1.5h-1.5zM666.7,616.7h1.5v1.5h-1.5zM667.3,594.5h1.5v1.5h-1.5zM661.9,557.0h1.5v1.5h-1.5zM671.2,609.4h1.5v1.5h-1.5zM665.5,569.9h1.5v1.5h-1.5zM664.2,591.4h1.5v1.5h-1.5zM655.8,588.8h1.5v1.5h-1.5zM670.2,608.7h1.5v1.5h-1.5zM666.1,582.3h1.5v1.5h-1.5zM669.5,590.8h1.5v1.5h-1.5zM658.9,605.0h1.5v1.5h-1.5zM659.2,598.9h1.5v1.5h-1.5zM657.6,576.9h1.5v1.5h-1.5zM665.9,600.3h1.5v1.5h-1.5zM656.9,603.9h1.5v1.5h-1.5zM662.8,630.5h1.5v1.5h-1.5zM658.5,599.9h1.5v1.5h-1.5zM663.2,572.9h1.5v1.5h-1.5zM666.5,619.6h1.5v1.5h-1.5zM658.8,598.6h1.5v1.5h-1.5zM665.1,595.7h1.5v1.5h-1.5zM657.4,596.9h1.5v1.5h-1.5zM660.2,606.8h1.5v1.5h-1.5zM667.7,599.5h1.5v1.5h-1.5zM661.5,584.9h1.5v1.5h-1.5zM670.5,599.5h1.5v1.5h-1.5zM664.6,620.3h1.5v1.5h-1.5zM664.2,584.5h1.5v1.5h-1.5zM658.4,601.2h1.5v1.5h-1.5zM669.4,594.8h1.5v1.5h-1.5zM669.5,585.4h1.5v1.5h-1.5zM660.9,612.0h1.5v1.5h-1.5zM664.6,595.0h1.5v1.5h-1.5zM662.5,644.0h1.5v1.5h-1.5zM664.5,586.9h1.5v1.5h-1.5zM661.0,635.4h1.5v1.5h-1.5zM668.4,590.4h1.5v1.5h-1.5zM655.7,601.8h1.5v1.5h-1.5zM659.9,584.1h1.5v1.5h-1.5zM665.7,603.6h1.5v1.5h-1.5zM657.6,588.1h1.5v1.5h-1.5zM664.0,605.1h1.5v1.5h-1.5zM664.7,581.2h1.5v1.5h-1.5zM668.0,593.3h1.5v1.5h-1.5zM671.2,588.4h1.5v1.5h-1.5zM669.9,595.6h1.5v1.5h-1.5zM671.8,593.2h1.5v1.5h-1.5zM664.4,630.0h1.5v1.5h-1.5zM668.3,576.7h1.5v1.5h-1.5zM669.2,595.7h1.5v1.5h-1.5zM662.9,597.8h1.5v1.5h-1.5zM657.2,578.7h1.5v1.5h-1.5zM659.2,582.6h1.5v1.5h-1.5zM663.7,599.9h1.5v1.5h-1.5zM664.7,623.2h1.5v1.5h-1.5zM661.1,608.2h1.5v1.5h-1.5zM665.5,605.2h1.5v1.5h-1.5zM670.5,596.0h1.5v1.5h-1.5zM664.9,572.5h1.5v1.5h-1.5zM665.0,592.5h1.5v1.5h-1.5zM662.7,588.2h1.5v1.5h-1.5zM661.6,600.9h1.5v1.5h-1.5zM661.4,596.9h1.5v1.5h-1.5zM665.9,565.6h1.5v1.5h-1.5zM668.1,570.0h1.5v1.5h-1.5zM667.2,598.3h1.5v1.5h-1.5zM660.5,576.1h1.5v1.5h-1.5zM664.7,618.4h1.5v1.5h-1.5zM664.2,612.0h1.5v1.5h-1.5zM660.5,598.9h1.5v1.5h-1.5zM663.5,587.0h1.5v1.5h-1.5zM656.4,607.5h1.5v1.5h-1.5zM671.7,593.7h1.5v1.5h-1.5zM668.6,618.0h1.5v1.5h-1.5zM659.7,574.4h1.5v1.5h-1.5zM655.2,594.6h1.5v1.5h-1.5zM659.1,588.7h1.5v1.5h-1.5zM659.1,616.0h1.5v1.5h-1.5zM663.9,614.0h1.5v1.5h-1.5zM666.1,613.5h1.5v1.5h-1.5zM666.9,617.3h1.5v1.5h-1.5zM667.2,592.0h1.5v1.5h-1.5zM662.6,594.6h1.5v1.5h-1.5zM668.0,604.9h1.5v1.5h-1.5zM666.0,621.9h1.5v1.5h-1.5zM665.2,627.2h1.5v1.5h-1.5zM663.2,584.2h1.5v1.5h-1.5zM660.9,592.5h1.5v1.5h-1.5zM664.9,610.9h1.5v1.5h-1.5zM660.2,589.1h1.5v1.5h-1.5zM656.8,599.9h1.5v1.5h-1.5zM663.2,608.6h1.5v1.5h-1.5zM661.4,612.4h1.5v1.5h-1.5zM658.4,611.8h1.5v1.5h-1.5zM663.2,584.1h1.5v1.5h-1.5zM663.4,587.9h1.5v1.5h-1.5zM662.2,584.5h1.5v1.5h-1.5zM659.4,609.3h1.5v1.5h-1.5zM663.8,574.2h1.5v1.5h-1.5zM662.3,584.8h1.5v1.5h-1.5zM666.6,601.8h1.5v1.5h-1.5zM667.7,624.6h1.5v1.5h-1.5zM659.0,598.2h1.5v1.5h-1.5zM662.9,615.5h1.5v1.5h-1.5zM665.8,598.9h1.5v1.5h-1.5zM659.2,594.4h1.5v1.5h-1.5zM662.5,587.4h1.5v1.5h-1.5zM670.9,603.6h1.5v1.5h-1.5zM665.3,587.2h1.5v1.5h-1.5zM665.8,601.4h1.5v1.5h-1.5zM665.2,592.5h1.5v1.5h-1.5zM665.3,602.8h1.5v1.5h-1.5zM668.5,600.6h1.5v1.5h-1.5zM661.7,619.0h1.5v1.5h-1.5zM661.6,607.5h1.5v1.5h-1.5zM667.6,600.3h1.5v1.5h-1.5zM663.9,573.4h1.5v1.5h-1.5zM670.6,611.1h1.5v1.5h-1.5zM655.7,599.5h1.5v1.5h-1.5zM668.1,610.4h1.5v1.5h-1.5zM671.3,603.7h1.5v1.5h-1.5zM659.8,619.2h1.5v1.5h-1.5zM670.9,610.8h1.5v1.5h-1.5zM658.8,627.5h1.5v1.5h-1.5zM660.8,589.6h1.5v1.5h-1.5zM655.2,601.6h1.5v1.5h-1.5zM660.7,607.3h1.5v1.5h-1.5zM658.6,608.5h1.5v1.5h-1.5zM664.5,626.7h1.5v1.5h-1.5zM665.4,581.5h1.5v1.5h-1.5zM663.4,617.2h1.5v1.5h-1.5zM664.6,597.0h1.5v1.5h-1.5zM660.5,586.8h1.5v1.5h-1.5zM665.6,602.0h1.5v1.5h-1.5zM659.0,609.4h1.5v1.5h-1.5zM669.4,610.7h1.5v1.5h-1.5zM662.7,627.2h1.5v1.5h-1.5zM661.8,591.4h1.5v1.5h-1.5zM659.9,602.3h1.5v1.5h-1.5zM661.2,602.5h1.5v1.5h-1.5zM665.1,595.5h1.5v1.5h-1.5zM670.7,598.7h1.5v1.5h-1.5zM665.9,614.8h1.5v1.5h-1.5zM661.0,600.3h1.5v1.5h-1.5zM666.2,627.1h1.5v1.5h-1.5zM666.1,610.9h1.5v1.5h-1.5zM667.0,597.3h1.5v1.5h-1.5zM668.9,576.2h1.5v1.5h-1.5zM655.9,591.6h1.5v1.5h-1.5zM669.7,583.9h1.5v1.5h-1.5zM661.7,603.9h1.5v1.5h-1.5zM661.0,619.6h1.5v1.5h-1.5zM659.1,592.6h1.5v1.5h-1.5zM655.8,606.2h1.5v1.5h-1.5zM660.3,610.0h1.5v1.5h-1.5zM658.8,579.4h1.5v1.5h-1.5zM663.6,613.4h1.5v1.5h-1.5zM668.7,606.1h1.5v1.5h-1.5zM671.4,604.1h1.5v1.5h-1.5zM662.1,613.0h1.5v1.5h-1.5zM660.5,620.6h1.5v1.5h-1.5zM667.0,612.2h1.5v1.5h-1.5zM659.9,625.8h1.5v1.5h-1.5zM665.2,566.4h1.5v1.5h-1.5zM658.6,599.2h1.5v1.5h-1.5zM668.3,595.2h1.5v1.5h-1.5zM664.3,592.1h1.5v1.5h-1.5zM661.3,589.5h1.5v1.5h-1.5zM659.8,599.3h1.5v1.5h-1.5zM666.8,583.7h1.5v1.5h-1.5zM663.4,619.1h1.5v1.5h-1.5zM657.0,600.5h1.5v1.5h-1.5zM666.5,583.8h1.5v1.5h-1.5zM668.9,613.4h1.5v1.5h-1.5zM657.8,610.0h1.5v1.5h-1.5zM659.4,603.6h1.5v1.5h-1.5zM666.0,603.8h1.5v1.5h-1.5zM660.9,628.8h1.5v1.5h-1.5zM661.1,601.0h1.5v1.5h-1.5zM666.3,607.7h1.5v1.5h-1.5zM660.9,590.0h1.5v1.5h-1.5zM658.3,619.8h1.5v1.5h-1.5zM665.7,583.4h1.5v1.5h-1.5zM662.7,614.0h1.5v1.5h-1.5zM657.9,598.3h1.5v1.5h-1.5zM661.1,582.4h1.5v1.5h-1.5zM660.1,581.5h1.5v1.5h-1.5zM666.8,592.4h1.5v1.5h-1.5zM664.9,578.6h1.5v1.5h-1.5zM662.3,582.8h1.5v1.5h-1.5zM658.0,596.2h1.5v1.5h-1.5zM669.3,599.2h1.5v1.5h-1.5zM663.4,613.8h1.5v1.5h-1.5zM656.0,597.0h1.5v1.5h-1.5zM662.0,568.8h1.5v1.5h-1.5zM665.8,603.4h1.5v1.5h-1.5zM660.2,593.2h1.5v1.5h-1.5zM659.2,568.0h1.5v1.5h-1.5zM658.8,610.2h1.5v1.5h-1.5zM659.4,610.3h1.5v1.5h-1.5zM661.4,618.9h1.5v1.5h-1.5zM662.4,564.0h1.5v1.5h-1.5zM666.9,601.8h1.5v1.5h-1.5zM662.5,577.3h1.5v1.5h-1.5zM670.8,602.7h1.5v1.5h-1.5zM668.7,618.1h1.5v1.5h-1.5zM656.6,609.7h1.5v1.5h-1.5zM659.8,594.4h1.5v1.5h-1.5zM671.4,595.2h1.5v1.5h-1.5zM662.8,646.5h1.5v1.5h-1.5zM658.2,553.5h1.5v1.5h-1.5zM659.7,537.2h1.5v1.5h-1.5zM662.0,540.4h1.5v1.5h-1.5zM657.7,544.2h1.5v1.5h-1.5zM663.7,640.8h1.5v1.5h-1.5zM668.8,555.6h1.5v1.5h-1.5zM662.1,561.6h1.5v1.5h-1.5zM664.9,545.5h1.5v1.5h-1.5zM667.4,663.2h1.5v1.5h-1.5zM668.6,557.9h1.5v1.5h-1.5zM658.1,661.6h1.5v1.5h-1.5z" fill="#ec7040" opacity="0.6"/><rect x="612.5" y="591.39" width="23.6" height="19.44" fill="none" stroke="#555" stroke-width="0.9" /><line x1="612.5" y1="599.49" x2="636.1" y2="599.49" stroke="#333" stroke-width="1" /><line x1="624.3" y1="591.39" x2="624.3" y2="563.85" stroke="#111" stroke-width="1" /><line x1="624.3" y1="610.83" x2="624.3" y2="638.37" stroke="#111" stroke-width="1" /><line x1="618.1" y1="563.85" x2="630.5" y2="563.85" stroke="#111" stroke-width="1.1" /><line x1="618.1" y1="638.37" x2="630.5" y2="638.37" stroke="#111" stroke-width="1.1" /><rect x="651.7" y="589.37" width="23.6" height="19.03" fill="none" stroke="#555" stroke-width="0.9" /><line x1="651.7" y1="597.47" x2="675.3" y2="597.47" stroke="#333" stroke-width="1" /><line x1="663.5" y1="589.37" x2="663.5" y2="563.85" stroke="#111" stroke-width="1" /><line x1="663.5" y1="608.4" x2="663.5" y2="636.75" stroke="#111" stroke-width="1" /><line x1="657.3" y1="563.85" x2="669.7" y2="563.85" stroke="#111" stroke-width="1.1" /><line x1="657.3" y1="636.75" x2="669.7" y2="636.75" stroke="#111" stroke-width="1.1" /><path d="M604.5,535.3 V665.1 H682.4 V535.3" fill="none" stroke="#222" stroke-width="1"/><line x1="604.5" y1="535.3" x2="682.4" y2="535.3" stroke="#222" stroke-width="1" /><line x1="602" y1="665.1" x2="604.5" y2="665.1" stroke="#222" stroke-width="0.9" /><text x="600" y="668.2" font-size="8.6" text-anchor="end" fill="#231f20" >0</text><line x1="602" y1="648.9" x2="604.5" y2="648.9" stroke="#222" stroke-width="0.9" /><text x="600" y="652" font-size="8.6" text-anchor="end" fill="#231f20" >2</text><line x1="602" y1="632.7" x2="604.5" y2="632.7" stroke="#222" stroke-width="0.9" /><text x="600" y="635.8" font-size="8.6" text-anchor="end" fill="#231f20" >4</text><line x1="602" y1="616.5" x2="604.5" y2="616.5" stroke="#222" stroke-width="0.9" /><text x="600" y="619.6" font-size="8.6" text-anchor="end" fill="#231f20" >6</text><line x1="602" y1="600.3" x2="604.5" y2="600.3" stroke="#222" stroke-width="0.9" /><text x="600" y="603.4" font-size="8.6" text-anchor="end" fill="#231f20" >8</text><line x1="602" y1="584.1" x2="604.5" y2="584.1" stroke="#222" stroke-width="0.9" /><text x="600" y="587.2" font-size="8.6" text-anchor="end" fill="#231f20" >10</text><line x1="602" y1="567.9" x2="604.5" y2="567.9" stroke="#222" stroke-width="0.9" /><text x="600" y="571" font-size="8.6" text-anchor="end" fill="#231f20" >12</text><line x1="602" y1="551.7" x2="604.5" y2="551.7" stroke="#222" stroke-width="0.9" /><text x="600" y="554.8" font-size="8.6" text-anchor="end" fill="#231f20" >14</text><line x1="602" y1="535.5" x2="604.5" y2="535.5" stroke="#222" stroke-width="0.9" /><text x="600" y="538.6" font-size="8.6" text-anchor="end" fill="#231f20" >16</text><text x="623.7" y="675.9" font-size="8.6" text-anchor="middle" fill="#231f20" >No IAA</text><text x="663.5" y="675.9" font-size="8.6" text-anchor="middle" fill="#231f20" >IAA 1 h</text><text transform="translate(587.7,600) rotate(-90)" font-size="8.6" text-anchor="middle" fill="#231f20">Log<tspan font-size="6" dy="2">2</tspan><tspan dy="-2"> (Normalized read counts)</tspan></text>
</svg></body></html>
